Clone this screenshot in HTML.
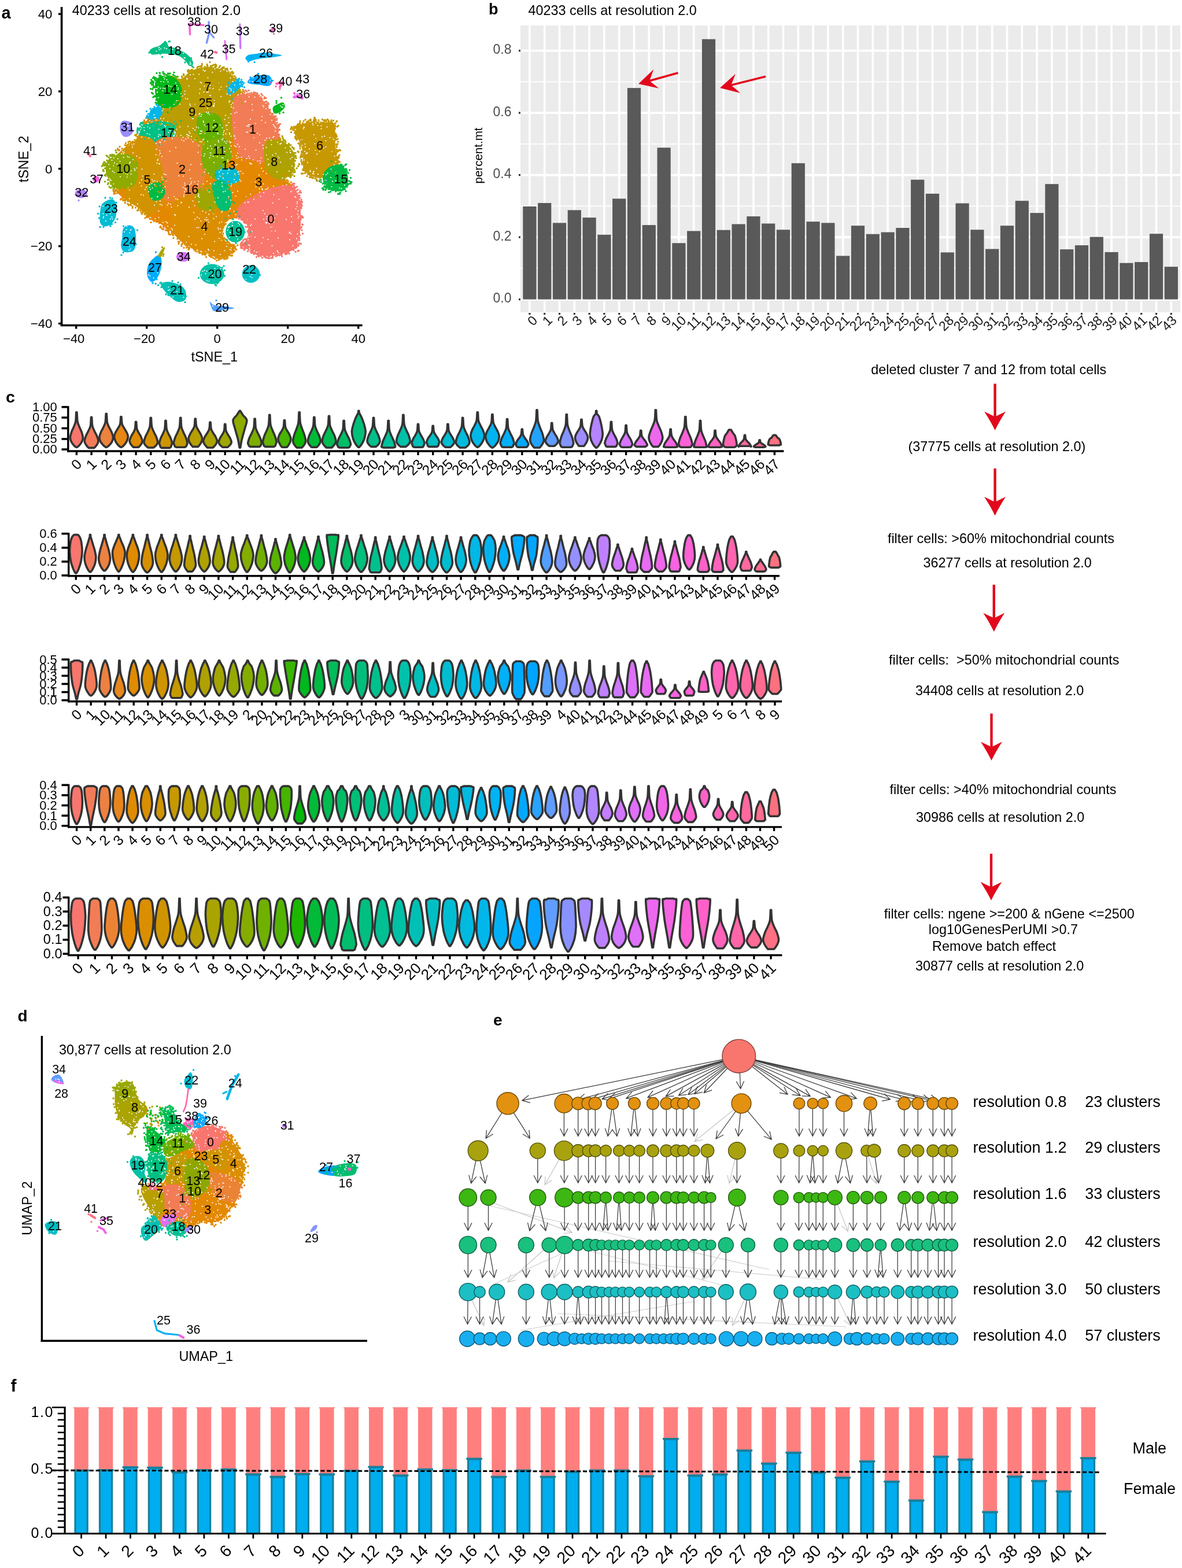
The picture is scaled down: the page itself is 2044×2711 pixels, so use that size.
<!DOCTYPE html>
<html><head><meta charset="utf-8"><title>Figure</title>
<style>
html,body{margin:0;padding:0;background:#fff;}
body{width:2044px;height:2711px;overflow:hidden;}
svg{display:block;}
svg text{font-family:"Liberation Sans", Arial, sans-serif;}
</style></head>
<body>
<svg width="2044" height="2711" viewBox="0 0 2044 2711">
<rect width="2044" height="2711" fill="#FFFFFF"/>
<rect x="900" y="44" width="1141" height="496" fill="#EBEBEB"/>
<line x1="900" x2="2041" y1="463.9" y2="463.9" stroke="#FFF" stroke-width="1.8"/>
<line x1="900" x2="2041" y1="356.4" y2="356.4" stroke="#FFF" stroke-width="1.8"/>
<line x1="900" x2="2041" y1="248.9" y2="248.9" stroke="#FFF" stroke-width="1.8"/>
<line x1="900" x2="2041" y1="141.4" y2="141.4" stroke="#FFF" stroke-width="1.8"/>
<line x1="900" x2="2041" y1="517.6" y2="517.6" stroke="#FFF" stroke-width="3.6"/>
<line x1="900" x2="2041" y1="410.1" y2="410.1" stroke="#FFF" stroke-width="3.6"/>
<line x1="900" x2="2041" y1="302.6" y2="302.6" stroke="#FFF" stroke-width="3.6"/>
<line x1="900" x2="2041" y1="195.1" y2="195.1" stroke="#FFF" stroke-width="3.6"/>
<line x1="900" x2="2041" y1="87.6" y2="87.6" stroke="#FFF" stroke-width="3.6"/>
<line x1="915.9" x2="915.9" y1="44" y2="540" stroke="#FFF" stroke-width="3.6"/>
<line x1="941.7" x2="941.7" y1="44" y2="540" stroke="#FFF" stroke-width="3.6"/>
<line x1="967.5" x2="967.5" y1="44" y2="540" stroke="#FFF" stroke-width="3.6"/>
<line x1="993.3" x2="993.3" y1="44" y2="540" stroke="#FFF" stroke-width="3.6"/>
<line x1="1019.1" x2="1019.1" y1="44" y2="540" stroke="#FFF" stroke-width="3.6"/>
<line x1="1044.9" x2="1044.9" y1="44" y2="540" stroke="#FFF" stroke-width="3.6"/>
<line x1="1070.7" x2="1070.7" y1="44" y2="540" stroke="#FFF" stroke-width="3.6"/>
<line x1="1096.5" x2="1096.5" y1="44" y2="540" stroke="#FFF" stroke-width="3.6"/>
<line x1="1122.3" x2="1122.3" y1="44" y2="540" stroke="#FFF" stroke-width="3.6"/>
<line x1="1148.1" x2="1148.1" y1="44" y2="540" stroke="#FFF" stroke-width="3.6"/>
<line x1="1173.9" x2="1173.9" y1="44" y2="540" stroke="#FFF" stroke-width="3.6"/>
<line x1="1199.7" x2="1199.7" y1="44" y2="540" stroke="#FFF" stroke-width="3.6"/>
<line x1="1225.5" x2="1225.5" y1="44" y2="540" stroke="#FFF" stroke-width="3.6"/>
<line x1="1251.3" x2="1251.3" y1="44" y2="540" stroke="#FFF" stroke-width="3.6"/>
<line x1="1277.1" x2="1277.1" y1="44" y2="540" stroke="#FFF" stroke-width="3.6"/>
<line x1="1302.9" x2="1302.9" y1="44" y2="540" stroke="#FFF" stroke-width="3.6"/>
<line x1="1328.7" x2="1328.7" y1="44" y2="540" stroke="#FFF" stroke-width="3.6"/>
<line x1="1354.5" x2="1354.5" y1="44" y2="540" stroke="#FFF" stroke-width="3.6"/>
<line x1="1380.3" x2="1380.3" y1="44" y2="540" stroke="#FFF" stroke-width="3.6"/>
<line x1="1406.1" x2="1406.1" y1="44" y2="540" stroke="#FFF" stroke-width="3.6"/>
<line x1="1431.9" x2="1431.9" y1="44" y2="540" stroke="#FFF" stroke-width="3.6"/>
<line x1="1457.7" x2="1457.7" y1="44" y2="540" stroke="#FFF" stroke-width="3.6"/>
<line x1="1483.5" x2="1483.5" y1="44" y2="540" stroke="#FFF" stroke-width="3.6"/>
<line x1="1509.3" x2="1509.3" y1="44" y2="540" stroke="#FFF" stroke-width="3.6"/>
<line x1="1535.1" x2="1535.1" y1="44" y2="540" stroke="#FFF" stroke-width="3.6"/>
<line x1="1560.9" x2="1560.9" y1="44" y2="540" stroke="#FFF" stroke-width="3.6"/>
<line x1="1586.7" x2="1586.7" y1="44" y2="540" stroke="#FFF" stroke-width="3.6"/>
<line x1="1612.5" x2="1612.5" y1="44" y2="540" stroke="#FFF" stroke-width="3.6"/>
<line x1="1638.3" x2="1638.3" y1="44" y2="540" stroke="#FFF" stroke-width="3.6"/>
<line x1="1664.1" x2="1664.1" y1="44" y2="540" stroke="#FFF" stroke-width="3.6"/>
<line x1="1689.9" x2="1689.9" y1="44" y2="540" stroke="#FFF" stroke-width="3.6"/>
<line x1="1715.7" x2="1715.7" y1="44" y2="540" stroke="#FFF" stroke-width="3.6"/>
<line x1="1741.5" x2="1741.5" y1="44" y2="540" stroke="#FFF" stroke-width="3.6"/>
<line x1="1767.3" x2="1767.3" y1="44" y2="540" stroke="#FFF" stroke-width="3.6"/>
<line x1="1793.1" x2="1793.1" y1="44" y2="540" stroke="#FFF" stroke-width="3.6"/>
<line x1="1818.9" x2="1818.9" y1="44" y2="540" stroke="#FFF" stroke-width="3.6"/>
<line x1="1844.7" x2="1844.7" y1="44" y2="540" stroke="#FFF" stroke-width="3.6"/>
<line x1="1870.5" x2="1870.5" y1="44" y2="540" stroke="#FFF" stroke-width="3.6"/>
<line x1="1896.3" x2="1896.3" y1="44" y2="540" stroke="#FFF" stroke-width="3.6"/>
<line x1="1922.1" x2="1922.1" y1="44" y2="540" stroke="#FFF" stroke-width="3.6"/>
<line x1="1947.9" x2="1947.9" y1="44" y2="540" stroke="#FFF" stroke-width="3.6"/>
<line x1="1973.7" x2="1973.7" y1="44" y2="540" stroke="#FFF" stroke-width="3.6"/>
<line x1="1999.5" x2="1999.5" y1="44" y2="540" stroke="#FFF" stroke-width="3.6"/>
<line x1="2025.3" x2="2025.3" y1="44" y2="540" stroke="#FFF" stroke-width="3.6"/>
<rect x="904.3" y="356.9" width="23.2" height="160.7" fill="#595959"/>
<rect x="930.1" y="351.0" width="23.2" height="166.6" fill="#595959"/>
<rect x="955.9" y="385.4" width="23.2" height="132.2" fill="#595959"/>
<rect x="981.7" y="363.3" width="23.2" height="154.3" fill="#595959"/>
<rect x="1007.5" y="376.2" width="23.2" height="141.4" fill="#595959"/>
<rect x="1033.3" y="405.8" width="23.2" height="111.8" fill="#595959"/>
<rect x="1059.1" y="343.5" width="23.2" height="174.2" fill="#595959"/>
<rect x="1084.9" y="152.1" width="23.2" height="365.5" fill="#595959"/>
<rect x="1110.7" y="389.1" width="23.2" height="128.5" fill="#595959"/>
<rect x="1136.5" y="255.3" width="23.2" height="262.3" fill="#595959"/>
<rect x="1162.3" y="420.3" width="23.2" height="97.3" fill="#595959"/>
<rect x="1188.1" y="399.4" width="23.2" height="118.2" fill="#595959"/>
<rect x="1213.9" y="67.7" width="23.2" height="449.9" fill="#595959"/>
<rect x="1239.7" y="397.7" width="23.2" height="119.9" fill="#595959"/>
<rect x="1265.5" y="387.5" width="23.2" height="130.1" fill="#595959"/>
<rect x="1291.3" y="374.1" width="23.2" height="143.5" fill="#595959"/>
<rect x="1317.1" y="386.5" width="23.2" height="131.2" fill="#595959"/>
<rect x="1342.9" y="397.2" width="23.2" height="120.4" fill="#595959"/>
<rect x="1368.7" y="282.2" width="23.2" height="235.4" fill="#595959"/>
<rect x="1394.5" y="383.2" width="23.2" height="134.4" fill="#595959"/>
<rect x="1420.3" y="385.4" width="23.2" height="132.2" fill="#595959"/>
<rect x="1446.1" y="442.4" width="23.2" height="75.3" fill="#595959"/>
<rect x="1471.9" y="390.2" width="23.2" height="127.4" fill="#595959"/>
<rect x="1497.7" y="404.7" width="23.2" height="112.9" fill="#595959"/>
<rect x="1523.5" y="401.5" width="23.2" height="116.1" fill="#595959"/>
<rect x="1549.3" y="394.0" width="23.2" height="123.6" fill="#595959"/>
<rect x="1575.1" y="310.7" width="23.2" height="206.9" fill="#595959"/>
<rect x="1600.9" y="334.9" width="23.2" height="182.8" fill="#595959"/>
<rect x="1626.7" y="436.4" width="23.2" height="81.2" fill="#595959"/>
<rect x="1652.5" y="351.5" width="23.2" height="166.1" fill="#595959"/>
<rect x="1678.3" y="397.2" width="23.2" height="120.4" fill="#595959"/>
<rect x="1704.1" y="430.5" width="23.2" height="87.1" fill="#595959"/>
<rect x="1729.9" y="390.2" width="23.2" height="127.4" fill="#595959"/>
<rect x="1755.7" y="347.2" width="23.2" height="170.4" fill="#595959"/>
<rect x="1781.5" y="368.2" width="23.2" height="149.4" fill="#595959"/>
<rect x="1807.3" y="318.2" width="23.2" height="199.4" fill="#595959"/>
<rect x="1833.1" y="431.1" width="23.2" height="86.5" fill="#595959"/>
<rect x="1858.9" y="424.1" width="23.2" height="93.5" fill="#595959"/>
<rect x="1884.7" y="409.6" width="23.2" height="108.0" fill="#595959"/>
<rect x="1910.5" y="435.9" width="23.2" height="81.7" fill="#595959"/>
<rect x="1936.3" y="454.7" width="23.2" height="62.9" fill="#595959"/>
<rect x="1962.1" y="453.1" width="23.2" height="64.5" fill="#595959"/>
<rect x="1987.9" y="404.2" width="23.2" height="113.4" fill="#595959"/>
<rect x="2013.7" y="461.2" width="23.2" height="56.4" fill="#595959"/>
<rect x="897" y="516.0" width="3" height="3.2" fill="#333"/>
<text x="884.5" y="523.1" font-size="23" text-anchor="end" fill="#4D4D4D">0.0</text>
<rect x="897" y="408.5" width="3" height="3.2" fill="#333"/>
<text x="884.5" y="415.6" font-size="23" text-anchor="end" fill="#4D4D4D">0.2</text>
<rect x="897" y="301.0" width="3" height="3.2" fill="#333"/>
<text x="884.5" y="308.1" font-size="23" text-anchor="end" fill="#4D4D4D">0.4</text>
<rect x="897" y="193.5" width="3" height="3.2" fill="#333"/>
<text x="884.5" y="200.6" font-size="23" text-anchor="end" fill="#4D4D4D">0.6</text>
<rect x="897" y="86.0" width="3" height="3.2" fill="#333"/>
<text x="884.5" y="93.1" font-size="23" text-anchor="end" fill="#4D4D4D">0.8</text>
<rect x="914.3" y="541" width="3.2" height="3" fill="#333"/>
<text x="930.9" y="555.5" font-size="23" text-anchor="end" fill="#1A1A1A" transform="rotate(-45 930.9 555.5)">0</text>
<rect x="940.1" y="541" width="3.2" height="3" fill="#333"/>
<text x="956.6" y="555.5" font-size="23" text-anchor="end" fill="#1A1A1A" transform="rotate(-45 956.6 555.5)">1</text>
<rect x="965.9" y="541" width="3.2" height="3" fill="#333"/>
<text x="982.3" y="555.5" font-size="23" text-anchor="end" fill="#1A1A1A" transform="rotate(-45 982.3 555.5)">2</text>
<rect x="991.7" y="541" width="3.2" height="3" fill="#333"/>
<text x="1008.0" y="555.5" font-size="23" text-anchor="end" fill="#1A1A1A" transform="rotate(-45 1008.0 555.5)">3</text>
<rect x="1017.5" y="541" width="3.2" height="3" fill="#333"/>
<text x="1033.7" y="555.5" font-size="23" text-anchor="end" fill="#1A1A1A" transform="rotate(-45 1033.7 555.5)">4</text>
<rect x="1043.3" y="541" width="3.2" height="3" fill="#333"/>
<text x="1059.5" y="555.5" font-size="23" text-anchor="end" fill="#1A1A1A" transform="rotate(-45 1059.5 555.5)">5</text>
<rect x="1069.1" y="541" width="3.2" height="3" fill="#333"/>
<text x="1085.2" y="555.5" font-size="23" text-anchor="end" fill="#1A1A1A" transform="rotate(-45 1085.2 555.5)">6</text>
<rect x="1094.9" y="541" width="3.2" height="3" fill="#333"/>
<text x="1110.9" y="555.5" font-size="23" text-anchor="end" fill="#1A1A1A" transform="rotate(-45 1110.9 555.5)">7</text>
<rect x="1120.7" y="541" width="3.2" height="3" fill="#333"/>
<text x="1136.6" y="555.5" font-size="23" text-anchor="end" fill="#1A1A1A" transform="rotate(-45 1136.6 555.5)">8</text>
<rect x="1146.5" y="541" width="3.2" height="3" fill="#333"/>
<text x="1162.3" y="555.5" font-size="23" text-anchor="end" fill="#1A1A1A" transform="rotate(-45 1162.3 555.5)">9</text>
<rect x="1172.3" y="541" width="3.2" height="3" fill="#333"/>
<text x="1188.0" y="555.5" font-size="23" text-anchor="end" fill="#1A1A1A" transform="rotate(-45 1188.0 555.5)">10</text>
<rect x="1198.1" y="541" width="3.2" height="3" fill="#333"/>
<text x="1213.7" y="555.5" font-size="23" text-anchor="end" fill="#1A1A1A" transform="rotate(-45 1213.7 555.5)">11</text>
<rect x="1223.9" y="541" width="3.2" height="3" fill="#333"/>
<text x="1239.4" y="555.5" font-size="23" text-anchor="end" fill="#1A1A1A" transform="rotate(-45 1239.4 555.5)">12</text>
<rect x="1249.7" y="541" width="3.2" height="3" fill="#333"/>
<text x="1265.1" y="555.5" font-size="23" text-anchor="end" fill="#1A1A1A" transform="rotate(-45 1265.1 555.5)">13</text>
<rect x="1275.5" y="541" width="3.2" height="3" fill="#333"/>
<text x="1290.8" y="555.5" font-size="23" text-anchor="end" fill="#1A1A1A" transform="rotate(-45 1290.8 555.5)">14</text>
<rect x="1301.3" y="541" width="3.2" height="3" fill="#333"/>
<text x="1316.6" y="555.5" font-size="23" text-anchor="end" fill="#1A1A1A" transform="rotate(-45 1316.6 555.5)">15</text>
<rect x="1327.1" y="541" width="3.2" height="3" fill="#333"/>
<text x="1342.3" y="555.5" font-size="23" text-anchor="end" fill="#1A1A1A" transform="rotate(-45 1342.3 555.5)">16</text>
<rect x="1352.9" y="541" width="3.2" height="3" fill="#333"/>
<text x="1368.0" y="555.5" font-size="23" text-anchor="end" fill="#1A1A1A" transform="rotate(-45 1368.0 555.5)">17</text>
<rect x="1378.7" y="541" width="3.2" height="3" fill="#333"/>
<text x="1393.7" y="555.5" font-size="23" text-anchor="end" fill="#1A1A1A" transform="rotate(-45 1393.7 555.5)">18</text>
<rect x="1404.5" y="541" width="3.2" height="3" fill="#333"/>
<text x="1419.4" y="555.5" font-size="23" text-anchor="end" fill="#1A1A1A" transform="rotate(-45 1419.4 555.5)">19</text>
<rect x="1430.3" y="541" width="3.2" height="3" fill="#333"/>
<text x="1445.1" y="555.5" font-size="23" text-anchor="end" fill="#1A1A1A" transform="rotate(-45 1445.1 555.5)">20</text>
<rect x="1456.1" y="541" width="3.2" height="3" fill="#333"/>
<text x="1470.8" y="555.5" font-size="23" text-anchor="end" fill="#1A1A1A" transform="rotate(-45 1470.8 555.5)">21</text>
<rect x="1481.9" y="541" width="3.2" height="3" fill="#333"/>
<text x="1496.5" y="555.5" font-size="23" text-anchor="end" fill="#1A1A1A" transform="rotate(-45 1496.5 555.5)">22</text>
<rect x="1507.7" y="541" width="3.2" height="3" fill="#333"/>
<text x="1522.2" y="555.5" font-size="23" text-anchor="end" fill="#1A1A1A" transform="rotate(-45 1522.2 555.5)">23</text>
<rect x="1533.5" y="541" width="3.2" height="3" fill="#333"/>
<text x="1547.9" y="555.5" font-size="23" text-anchor="end" fill="#1A1A1A" transform="rotate(-45 1547.9 555.5)">24</text>
<rect x="1559.3" y="541" width="3.2" height="3" fill="#333"/>
<text x="1573.7" y="555.5" font-size="23" text-anchor="end" fill="#1A1A1A" transform="rotate(-45 1573.7 555.5)">25</text>
<rect x="1585.1" y="541" width="3.2" height="3" fill="#333"/>
<text x="1599.4" y="555.5" font-size="23" text-anchor="end" fill="#1A1A1A" transform="rotate(-45 1599.4 555.5)">26</text>
<rect x="1610.9" y="541" width="3.2" height="3" fill="#333"/>
<text x="1625.1" y="555.5" font-size="23" text-anchor="end" fill="#1A1A1A" transform="rotate(-45 1625.1 555.5)">27</text>
<rect x="1636.7" y="541" width="3.2" height="3" fill="#333"/>
<text x="1650.8" y="555.5" font-size="23" text-anchor="end" fill="#1A1A1A" transform="rotate(-45 1650.8 555.5)">28</text>
<rect x="1662.5" y="541" width="3.2" height="3" fill="#333"/>
<text x="1676.5" y="555.5" font-size="23" text-anchor="end" fill="#1A1A1A" transform="rotate(-45 1676.5 555.5)">29</text>
<rect x="1688.3" y="541" width="3.2" height="3" fill="#333"/>
<text x="1702.2" y="555.5" font-size="23" text-anchor="end" fill="#1A1A1A" transform="rotate(-45 1702.2 555.5)">30</text>
<rect x="1714.1" y="541" width="3.2" height="3" fill="#333"/>
<text x="1727.9" y="555.5" font-size="23" text-anchor="end" fill="#1A1A1A" transform="rotate(-45 1727.9 555.5)">31</text>
<rect x="1739.9" y="541" width="3.2" height="3" fill="#333"/>
<text x="1753.6" y="555.5" font-size="23" text-anchor="end" fill="#1A1A1A" transform="rotate(-45 1753.6 555.5)">32</text>
<rect x="1765.7" y="541" width="3.2" height="3" fill="#333"/>
<text x="1779.3" y="555.5" font-size="23" text-anchor="end" fill="#1A1A1A" transform="rotate(-45 1779.3 555.5)">33</text>
<rect x="1791.5" y="541" width="3.2" height="3" fill="#333"/>
<text x="1805.0" y="555.5" font-size="23" text-anchor="end" fill="#1A1A1A" transform="rotate(-45 1805.0 555.5)">34</text>
<rect x="1817.3" y="541" width="3.2" height="3" fill="#333"/>
<text x="1830.8" y="555.5" font-size="23" text-anchor="end" fill="#1A1A1A" transform="rotate(-45 1830.8 555.5)">35</text>
<rect x="1843.1" y="541" width="3.2" height="3" fill="#333"/>
<text x="1856.5" y="555.5" font-size="23" text-anchor="end" fill="#1A1A1A" transform="rotate(-45 1856.5 555.5)">36</text>
<rect x="1868.9" y="541" width="3.2" height="3" fill="#333"/>
<text x="1882.2" y="555.5" font-size="23" text-anchor="end" fill="#1A1A1A" transform="rotate(-45 1882.2 555.5)">37</text>
<rect x="1894.7" y="541" width="3.2" height="3" fill="#333"/>
<text x="1907.9" y="555.5" font-size="23" text-anchor="end" fill="#1A1A1A" transform="rotate(-45 1907.9 555.5)">38</text>
<rect x="1920.5" y="541" width="3.2" height="3" fill="#333"/>
<text x="1933.6" y="555.5" font-size="23" text-anchor="end" fill="#1A1A1A" transform="rotate(-45 1933.6 555.5)">39</text>
<rect x="1946.3" y="541" width="3.2" height="3" fill="#333"/>
<text x="1959.3" y="555.5" font-size="23" text-anchor="end" fill="#1A1A1A" transform="rotate(-45 1959.3 555.5)">40</text>
<rect x="1972.1" y="541" width="3.2" height="3" fill="#333"/>
<text x="1985.0" y="555.5" font-size="23" text-anchor="end" fill="#1A1A1A" transform="rotate(-45 1985.0 555.5)">41</text>
<rect x="1997.9" y="541" width="3.2" height="3" fill="#333"/>
<text x="2010.7" y="555.5" font-size="23" text-anchor="end" fill="#1A1A1A" transform="rotate(-45 2010.7 555.5)">42</text>
<rect x="2023.7" y="541" width="3.2" height="3" fill="#333"/>
<text x="2036.4" y="555.5" font-size="23" text-anchor="end" fill="#1A1A1A" transform="rotate(-45 2036.4 555.5)">43</text>
<text x="834.0" y="269.0" font-size="20.5" text-anchor="middle" transform="rotate(-90 834.0 269.0)">percent.mt</text>
<text x="913.5" y="26.0" font-size="23.4">40233 cells at resolution 2.0</text>
<text x="845.0" y="25.0" font-size="27" font-weight="bold">b</text>
<line x1="1172.5" y1="126.0" x2="1123.1" y2="139.7" stroke="#E2081C" stroke-width="3.6"/><polygon points="1104.0,145.0 1130.3,120.1 1123.1,139.7 1139.4,152.8" fill="#E2081C"/>
<line x1="1324.0" y1="132.2" x2="1264.2" y2="147.2" stroke="#E2081C" stroke-width="3.6"/><polygon points="1245.0,152.0 1271.9,127.7 1264.2,147.2 1280.2,160.7" fill="#E2081C"/>
<clipPath id="silA"><path d="M340.3,118.7 C345.3,117.1 350.2,116.1 356.2,115.9 C362.1,115.8 369.3,116.3 375.9,117.9 C382.5,119.6 390.8,122.7 395.7,125.8 C400.7,128.9 402.7,131.8 405.6,136.5 C408.6,141.3 409.9,149.7 413.5,154.3 C417.2,159.0 423.1,163.0 427.4,164.2 C431.7,165.4 434.6,159.8 439.3,161.5 C443.9,163.1 449.8,168.1 455.1,174.1 C460.4,180.2 466.6,189.9 470.9,197.9 C475.2,205.8 479.2,215.0 480.8,221.6 C482.5,228.2 477.8,232.5 480.8,237.4 C483.8,242.4 493.9,246.0 498.6,251.3 C503.4,256.6 508.1,261.2 509.3,269.1 C510.5,277.0 508.5,292.0 505.7,298.8 C503.0,305.5 491.9,304.5 492.7,309.5 C493.5,314.4 506.1,320.7 510.5,328.5 C514.9,336.2 517.7,344.9 519.2,356.2 C520.6,367.4 520.5,383.9 519.2,395.7 C517.9,407.6 515.4,420.7 511.3,427.4 C507.2,434.1 502.0,433.6 494.7,436.1 C487.3,438.6 476.2,441.9 467.0,442.4 C457.7,442.9 446.8,442.1 439.3,439.3 C431.7,436.4 426.1,428.0 421.4,425.4 C416.8,422.8 415.8,420.8 411.6,423.4 C407.3,426.1 401.7,437.6 395.7,441.2 C389.8,444.9 382.5,445.9 375.9,445.2 C369.3,444.5 362.7,439.9 356.2,437.3 C349.6,434.6 343.0,432.2 336.4,429.4 C329.8,426.5 323.8,425.5 316.6,420.3 C309.3,415.0 300.8,404.1 292.8,397.7 C284.9,391.3 275.7,386.5 269.1,381.9 C262.5,377.3 258.5,374.0 253.3,370.0 C248.0,366.0 242.7,361.8 237.4,358.1 C232.2,354.5 226.9,351.9 221.6,348.2 C216.3,344.6 210.7,341.3 205.8,336.4 C200.8,331.4 195.8,325.5 191.9,318.6 C188.1,311.6 183.7,301.7 182.8,294.8 C182.0,287.9 183.9,281.3 186.8,277.0 C189.6,272.7 195.0,272.7 199.8,269.1 C204.7,265.5 210.4,259.1 215.7,255.2 C220.9,251.4 227.2,250.4 231.5,246.1 C235.8,241.9 238.8,234.6 241.4,229.5 C244.0,224.4 245.0,219.6 247.3,215.7 C249.6,211.7 252.9,210.2 255.2,205.8 C257.6,201.4 258.2,193.0 261.2,189.2 C264.1,185.3 271.7,186.7 273.1,182.8 C274.4,179.0 269.9,172.9 269.1,166.2 C268.3,159.5 267.0,148.1 268.3,142.5 C269.6,136.9 272.6,134.5 277.0,132.6 C281.4,130.6 288.9,129.9 294.8,130.6 C300.8,131.2 307.3,137.3 312.6,136.5 C317.9,135.7 321.9,128.8 326.5,125.8 C331.1,122.9 335.4,120.4 340.3,118.7 Z"/></clipPath>
<g clip-path="url(#silA)">
<path d="M340.3,118.7 C345.3,117.1 350.2,116.1 356.2,115.9 C362.1,115.8 369.3,116.3 375.9,117.9 C382.5,119.6 390.8,122.7 395.7,125.8 C400.7,128.9 402.7,131.8 405.6,136.5 C408.6,141.3 409.9,149.7 413.5,154.3 C417.2,159.0 423.1,163.0 427.4,164.2 C431.7,165.4 434.6,159.8 439.3,161.5 C443.9,163.1 449.8,168.1 455.1,174.1 C460.4,180.2 466.6,189.9 470.9,197.9 C475.2,205.8 479.2,215.0 480.8,221.6 C482.5,228.2 477.8,232.5 480.8,237.4 C483.8,242.4 493.9,246.0 498.6,251.3 C503.4,256.6 508.1,261.2 509.3,269.1 C510.5,277.0 508.5,292.0 505.7,298.8 C503.0,305.5 491.9,304.5 492.7,309.5 C493.5,314.4 506.1,320.7 510.5,328.5 C514.9,336.2 517.7,344.9 519.2,356.2 C520.6,367.4 520.5,383.9 519.2,395.7 C517.9,407.6 515.4,420.7 511.3,427.4 C507.2,434.1 502.0,433.6 494.7,436.1 C487.3,438.6 476.2,441.9 467.0,442.4 C457.7,442.9 446.8,442.1 439.3,439.3 C431.7,436.4 426.1,428.0 421.4,425.4 C416.8,422.8 415.8,420.8 411.6,423.4 C407.3,426.1 401.7,437.6 395.7,441.2 C389.8,444.9 382.5,445.9 375.9,445.2 C369.3,444.5 362.7,439.9 356.2,437.3 C349.6,434.6 343.0,432.2 336.4,429.4 C329.8,426.5 323.8,425.5 316.6,420.3 C309.3,415.0 300.8,404.1 292.8,397.7 C284.9,391.3 275.7,386.5 269.1,381.9 C262.5,377.3 258.5,374.0 253.3,370.0 C248.0,366.0 242.7,361.8 237.4,358.1 C232.2,354.5 226.9,351.9 221.6,348.2 C216.3,344.6 210.7,341.3 205.8,336.4 C200.8,331.4 195.8,325.5 191.9,318.6 C188.1,311.6 183.7,301.7 182.8,294.8 C182.0,287.9 183.9,281.3 186.8,277.0 C189.6,272.7 195.0,272.7 199.8,269.1 C204.7,265.5 210.4,259.1 215.7,255.2 C220.9,251.4 227.2,250.4 231.5,246.1 C235.8,241.9 238.8,234.6 241.4,229.5 C244.0,224.4 245.0,219.6 247.3,215.7 C249.6,211.7 252.9,210.2 255.2,205.8 C257.6,201.4 258.2,193.0 261.2,189.2 C264.1,185.3 271.7,186.7 273.1,182.8 C274.4,179.0 269.9,172.9 269.1,166.2 C268.3,159.5 267.0,148.1 268.3,142.5 C269.6,136.9 272.6,134.5 277.0,132.6 C281.4,130.6 288.9,129.9 294.8,130.6 C300.8,131.2 307.3,137.3 312.6,136.5 C317.9,135.7 321.9,128.8 326.5,125.8 C331.1,122.9 335.4,120.4 340.3,118.7 Z" fill="#E48800"/>
<path d="M277.0,130.6 C287.6,121.4 320.5,112.8 340.3,110.8 C360.1,108.8 382.5,112.1 395.7,118.7 C408.9,125.3 416.2,139.2 419.5,150.4 C422.8,161.6 417.5,174.1 415.5,186.0 C413.5,197.9 410.9,210.4 407.6,221.6 C404.3,232.8 401.0,246.7 395.7,253.3 C390.4,259.9 383.9,261.2 375.9,261.2 C368.0,261.2 356.8,255.9 348.2,253.3 C339.7,250.6 332.4,248.0 324.5,245.4 C316.6,242.7 308.7,241.4 300.8,237.4 C292.8,233.5 282.3,229.5 277.0,221.6 C271.7,213.7 269.1,199.2 269.1,189.9 C269.1,180.7 275.7,176.1 277.0,166.2 C278.3,156.3 266.5,139.8 277.0,130.6 Z" fill="#BB9D00"/>
<path d="M261.2,130.6 C264.3,124.3 277.7,127.6 284.9,128.6 C292.2,129.6 299.8,132.2 304.7,136.5 C309.7,140.8 313.3,148.1 314.6,154.3 C315.9,160.6 314.9,169.0 312.6,174.1 C310.3,179.3 306.7,183.4 300.8,185.2 C294.8,187.0 282.8,188.4 277.0,185.2 C271.2,182.0 268.6,175.3 265.9,166.2 C263.3,157.1 258.0,136.9 261.2,130.6 Z" fill="#00B81B"/>
<path d="M245.4,186.0 C247.3,182.0 255.8,179.2 261.2,178.9 C266.6,178.5 274.6,180.8 277.8,184.0 C281.0,187.2 282.3,194.1 280.2,197.9 C278.1,201.6 270.3,205.8 265.1,206.6 C260.0,207.4 252.6,206.0 249.3,202.6 C246.0,199.2 243.4,189.9 245.4,186.0 Z" fill="#00B7E9"/>
<path d="M233.5,219.6 C236.8,215.0 250.0,215.3 257.2,213.7 C264.5,212.0 269.8,209.4 277.0,209.7 C284.3,210.1 296.5,211.1 300.8,215.7 C305.0,220.3 304.7,232.0 302.7,237.4 C300.8,242.9 295.8,247.1 288.9,248.5 C282.0,250.0 269.8,247.3 261.2,246.1 C252.6,245.0 242.1,245.8 237.4,241.4 C232.8,237.0 230.2,224.2 233.5,219.6 Z" fill="#00C085"/>
<path d="M344.3,197.9 C349.6,193.6 365.4,193.9 372.0,195.9 C378.6,197.9 381.9,202.8 383.9,209.7 C385.8,216.7 386.5,231.2 383.9,237.4 C381.2,243.7 374.0,246.7 368.0,247.3 C362.1,248.0 352.9,245.7 348.2,241.4 C343.6,237.1 341.0,228.9 340.3,221.6 C339.7,214.4 339.0,202.2 344.3,197.9 Z" fill="#64B200"/>
<path d="M269.1,245.4 C277.7,234.8 303.4,236.1 316.6,237.4 C329.8,238.8 341.6,245.4 348.2,253.3 C354.8,261.2 355.5,274.4 356.2,284.9 C356.8,295.5 355.5,306.7 352.2,316.6 C348.9,326.5 344.9,339.0 336.4,344.3 C327.8,349.6 310.6,348.9 300.8,348.2 C290.9,347.6 282.9,348.2 277.0,340.3 C271.1,332.4 266.5,316.6 265.1,300.8 C263.8,284.9 260.5,255.9 269.1,245.4 Z" fill="#EC8239"/>
<path d="M213.7,241.4 C221.6,229.9 250.6,233.5 261.2,239.4 C271.7,245.4 273.1,262.8 277.0,277.0 C281.0,291.2 284.9,311.3 284.9,324.5 C284.9,337.7 282.3,348.2 277.0,356.2 C271.7,364.1 262.5,372.0 253.3,372.0 C244.0,372.0 228.2,366.7 221.6,356.2 C215.0,345.6 215.0,327.8 213.7,308.7 C212.4,289.5 205.8,252.9 213.7,241.4 Z" fill="#D29300"/>
<path d="M178.1,294.8 C178.1,285.9 185.3,274.0 189.9,269.1 C194.6,264.1 198.9,264.8 205.8,265.1 C212.7,265.5 225.9,266.5 231.5,271.1 C237.1,275.7 239.1,284.9 239.4,292.8 C239.7,300.8 237.8,313.0 233.5,318.6 C229.2,324.2 220.9,325.8 213.7,326.5 C206.4,327.1 195.9,327.8 189.9,322.5 C184.0,317.2 178.1,303.7 178.1,294.8 Z" fill="#8FAA00"/>
<path d="M356.2,245.4 C363.1,239.1 382.4,235.5 389.8,239.4 C397.2,243.4 399.5,258.9 400.5,269.1 C401.5,279.3 399.2,293.5 395.7,300.8 C392.3,308.0 385.8,312.6 379.9,312.6 C374.0,312.6 365.4,306.7 360.1,300.8 C354.8,294.8 348.9,286.2 348.2,277.0 C347.6,267.8 349.2,251.6 356.2,245.4 Z" fill="#7CAE00"/>
<path d="M407.6,166.2 C413.9,160.9 430.4,156.6 439.3,158.3 C448.2,159.9 454.8,168.2 461.0,176.1 C467.3,184.0 473.6,195.6 476.9,205.8 C480.1,216.0 482.1,226.9 480.8,237.4 C479.5,248.0 475.2,261.0 468.9,269.1 C462.7,277.1 451.5,284.3 443.2,285.7 C435.0,287.2 425.5,283.2 419.5,277.8 C413.4,272.4 409.8,262.6 406.8,253.3 C403.8,243.9 402.5,232.2 401.7,221.6 C400.8,211.1 400.7,199.2 401.7,189.9 C402.7,180.7 401.3,171.5 407.6,166.2 Z" fill="#F27C56"/>
<path d="M395.7,277.0 C402.3,269.1 423.4,274.4 435.3,277.0 C447.2,279.6 457.7,286.9 467.0,292.8 C476.2,298.8 487.4,305.4 490.7,312.6 C494.0,319.9 492.7,329.8 486.7,336.4 C480.8,343.0 467.0,350.2 455.1,352.2 C443.2,354.2 425.4,352.9 415.5,348.2 C405.6,343.6 399.0,336.4 395.7,324.5 C392.4,312.6 389.1,284.9 395.7,277.0 Z" fill="#E48800"/>
<path d="M461.0,243.4 C467.0,238.1 484.1,241.1 492.7,245.4 C501.3,249.6 509.8,259.9 512.5,269.1 C515.1,278.3 512.8,293.5 508.5,300.8 C504.2,308.0 493.8,312.5 486.7,312.6 C479.7,312.8 471.1,307.5 466.2,301.5 C461.2,295.6 457.9,286.7 457.1,277.0 C456.2,267.3 455.1,248.6 461.0,243.4 Z" fill="#AEA200"/>
<path d="M413.5,356.2 C420.8,346.6 440.9,336.4 455.1,330.4 C469.3,324.5 487.4,318.9 498.6,320.5 C509.8,322.2 518.1,330.4 522.4,340.3 C526.6,350.2 524.7,366.7 524.3,379.9 C524.0,393.1 524.3,409.9 520.4,419.5 C516.4,429.0 509.5,433.0 500.6,437.3 C491.7,441.6 477.5,444.5 467.0,445.2 C456.4,445.9 445.1,444.9 437.3,441.2 C429.5,437.6 424.5,432.3 420.3,423.4 C416.0,414.5 412.7,399.0 411.6,387.8 C410.4,376.6 406.3,365.7 413.5,356.2 Z" fill="#F8766D"/>
<path d="M304.7,344.3 C314.6,334.7 342.0,336.4 356.2,338.3 C370.3,340.3 382.5,346.6 389.8,356.2 C397.0,365.7 398.0,380.6 399.7,395.7 C401.3,410.9 406.9,439.3 399.7,447.2 C392.4,455.1 369.3,446.5 356.2,443.2 C343.0,439.9 330.4,435.3 320.5,427.4 C310.6,419.5 299.4,409.6 296.8,395.7 C294.2,381.9 294.8,353.8 304.7,344.3 Z" fill="#DB8E00"/>
<path d="M374.0,294.8 C379.2,291.4 401.0,289.1 407.6,292.0 C414.2,295.0 416.2,308.2 413.5,312.6 C410.9,317.0 398.0,318.6 391.8,318.6 C385.5,318.6 378.9,316.6 375.9,312.6 C373.0,308.7 368.7,298.2 374.0,294.8 Z" fill="#00BDD2"/>
<path d="M257.2,320.5 C259.9,315.9 272.3,314.6 277.0,316.6 C281.8,318.6 285.7,327.7 285.7,332.4 C285.7,337.2 281.1,343.1 277.0,345.1 C272.9,347.1 264.5,348.4 261.2,344.3 C257.9,340.2 254.6,325.2 257.2,320.5 Z" fill="#00BA43"/>
<path d="M340.3,328.5 C345.3,324.5 361.3,318.6 368.0,320.5 C374.8,322.5 379.9,333.6 380.7,340.3 C381.5,347.1 378.2,357.1 372.8,360.9 C367.4,364.7 354.0,366.0 348.2,363.3 C342.5,360.5 339.7,350.1 338.3,344.3 C337.0,338.5 335.4,332.4 340.3,328.5 Z" fill="#A0A600"/>
<path d="M368.0,316.6 C371.0,312.0 382.4,309.3 387.8,312.6 C393.2,315.9 399.0,328.3 400.5,336.4 C401.9,344.4 399.8,356.4 396.5,360.9 C393.2,365.4 385.1,366.7 380.7,363.3 C376.3,359.8 372.1,348.1 370.0,340.3 C367.9,332.5 365.1,321.2 368.0,316.6 Z" fill="#00BE72"/>
<ellipse cx="406.8" cy="400.5" rx="23.0" ry="24.5" fill="#FFFFFF"/>
<ellipse cx="406.8" cy="400.5" rx="16.6" ry="18.6" fill="#00C096"/>
</g>
<path d="M508.8,219.5 C510.7,216.0 518.7,215.4 524.2,213.8 C529.6,212.2 534.4,210.2 541.4,209.9 C548.5,209.6 560.3,211.2 566.4,211.8 C572.5,212.5 575.7,210.6 577.9,213.8 C580.1,217.0 579.5,225.0 579.8,231.0 C580.1,237.1 579.5,243.8 579.8,250.2 C580.1,256.6 580.8,263.6 581.7,269.4 C582.7,275.2 586.5,280.9 585.6,284.7 C584.6,288.6 579.2,289.2 576.0,292.4 C572.8,295.6 570.5,301.4 566.4,303.9 C562.2,306.5 556.1,308.1 551.0,307.8 C545.9,307.5 540.2,305.2 535.7,302.0 C531.2,298.8 526.1,294.0 524.2,288.6 C522.3,283.1 524.8,275.8 524.2,269.4 C523.5,263.0 522.3,256.0 520.3,250.2 C518.4,244.5 514.6,240.0 512.7,234.9 C510.7,229.8 506.9,223.0 508.8,219.5 Z" fill="#C79800"/>
<path d="M558.7,302.0 C560.3,296.9 565.4,291.5 570.2,288.6 C575.0,285.7 583.0,284.1 587.5,284.7 C592.0,285.4 594.7,288.6 597.1,292.4 C599.5,296.3 601.6,302.7 601.9,307.8 C602.2,312.9 601.4,319.3 599.0,323.1 C596.6,327.0 592.3,330.2 587.5,330.8 C582.7,331.4 574.7,328.9 570.2,327.0 C565.7,325.0 562.5,323.4 560.6,319.3 C558.7,315.1 557.1,307.1 558.7,302.0 Z" fill="#00BA43"/>
<path d="M472.4,185.0 C474.0,182.7 479.1,180.5 482.0,179.2 C484.8,178.0 487.9,176.4 489.6,177.3 C491.4,178.3 493.2,182.4 492.5,185.0 C491.9,187.5 488.5,190.7 485.8,192.7 C483.1,194.6 478.4,196.5 476.2,196.5 C474.0,196.5 473.0,194.6 472.4,192.7 C471.7,190.7 470.8,187.2 472.4,185.0 Z" fill="#00B81B"/>
<path d="M258.5,88.3 C258.8,86.5 261.2,84.4 263.9,82.9 C266.6,81.5 271.7,80.9 274.7,79.4 C277.7,77.9 280.1,75.5 281.9,74.0 C283.7,72.5 284.3,70.4 285.5,70.4 C286.7,70.4 287.9,72.2 289.1,74.0 C290.3,75.8 290.3,79.7 292.7,81.2 C295.1,82.6 299.9,81.8 303.5,82.9 C307.1,84.1 310.9,86.5 314.2,88.3 C317.5,90.1 320.5,91.6 323.2,93.7 C325.9,95.8 328.6,98.5 330.4,100.9 C332.2,103.3 333.7,106.0 334.0,108.1 C334.3,110.2 333.4,112.6 332.2,113.5 C331.0,114.4 328.6,114.7 326.8,113.5 C325.0,112.3 324.1,109.0 321.4,106.3 C318.7,103.6 314.8,99.4 310.6,97.3 C306.5,95.2 301.1,94.5 296.3,93.7 C291.5,93.0 286.1,92.8 281.9,92.8 C277.7,92.9 274.4,93.9 271.1,94.1 C267.8,94.3 264.2,95.1 262.1,94.1 C260.0,93.1 258.2,90.2 258.5,88.3 Z" fill="#00C085"/>
<path d="M424.4,100.6 C424.4,98.7 427.0,96.1 430.2,94.8 C433.4,93.5 439.4,93.5 443.6,92.9 C447.8,92.3 450.0,91.0 455.1,91.0 C460.2,91.0 468.9,92.1 474.3,92.9 C479.7,93.7 487.7,94.8 487.7,95.8 C487.7,96.7 479.7,97.9 474.3,98.7 C468.9,99.5 460.9,99.8 455.1,100.6 C449.4,101.4 443.9,102.5 439.8,103.5 C435.6,104.4 432.7,106.8 430.2,106.3 C427.6,105.9 424.4,102.5 424.4,100.6 Z" fill="#00B2F3"/>
<path d="M428.2,140.9 C428.9,138.9 432.7,134.9 435.9,133.2 C439.1,131.4 442.6,130.8 447.4,130.3 C452.2,129.8 460.9,128.6 464.7,130.3 C468.5,132.1 470.5,137.8 470.5,140.9 C470.5,143.9 468.5,147.6 464.7,148.5 C460.9,149.5 452.9,147.3 447.4,146.6 C442.0,146.0 435.3,145.7 432.1,144.7 C428.9,143.7 427.6,142.8 428.2,140.9 Z" fill="#00A6FF"/>
<path d="M393.7,154.3 C394.7,150.8 398.2,145.0 401.4,142.8 C404.6,140.5 410.0,140.2 412.9,140.9 C415.8,141.5 418.7,144.4 418.7,146.6 C418.7,148.9 415.5,151.7 412.9,154.3 C410.3,156.9 406.2,160.4 403.3,162.0 C400.4,163.6 397.2,165.2 395.6,163.9 C394.0,162.6 392.8,157.8 393.7,154.3 Z" fill="#00B7E9"/>
<path d="M208.1,214.2 C209.0,211.2 210.8,209.4 213.5,208.8 C216.2,208.2 221.9,209.1 224.3,210.6 C226.7,212.1 227.0,214.8 227.9,217.8 C228.8,220.8 230.6,225.6 229.7,228.6 C228.8,231.6 225.2,234.6 222.5,235.8 C219.8,237.0 215.9,237.3 213.5,235.8 C211.1,234.3 209.0,230.4 208.1,226.8 C207.2,223.2 207.2,217.2 208.1,214.2 Z" fill="#9A8EFF"/>
<path d="M172.9,383.6 C171.9,377.8 172.9,362.8 174.8,356.7 C176.7,350.7 180.9,349.1 184.4,347.1 C187.9,345.2 193.0,343.6 195.9,345.2 C198.8,346.8 201.0,351.6 201.7,356.7 C202.3,361.9 201.4,370.8 199.8,375.9 C198.2,381.0 195.3,384.9 192.1,387.4 C188.9,390.0 183.8,391.9 180.6,391.3 C177.4,390.6 173.9,389.4 172.9,383.6 Z" fill="#00BDD2"/>
<path d="M213.2,395.1 C215.1,391.6 219.6,389.4 222.8,389.4 C226.0,389.4 230.3,390.3 232.4,395.1 C234.5,399.9 235.6,411.7 235.3,418.1 C234.9,424.5 233.8,430.6 230.5,433.5 C227.1,436.4 218.6,436.7 215.1,435.4 C211.6,434.1 210.0,430.0 209.4,425.8 C208.7,421.6 210.6,415.6 211.3,410.5 C211.9,405.3 211.3,398.6 213.2,395.1 Z" fill="#00BADE"/>
<path d="M256.4,458.4 C258.1,453.6 262.1,449.8 265.0,446.9 C267.9,444.0 271.4,441.5 273.6,441.2 C275.9,440.8 277.5,442.1 278.4,445.0 C279.4,447.9 279.9,453.6 279.4,458.4 C278.9,463.2 277.3,469.4 275.5,473.8 C273.8,478.1 271.2,482.1 268.8,484.3 C266.4,486.6 263.5,488.6 261.2,487.2 C258.8,485.8 255.2,480.5 254.4,475.7 C253.6,470.9 254.6,463.2 256.4,458.4 Z" fill="#00ACFB"/>
<path d="M273.6,442.1 C273.9,439.9 277.5,434.0 279.4,431.6 C281.3,429.2 284.8,426.4 285.1,427.7 C285.5,429.0 282.6,436.4 281.3,439.2 C280.0,442.1 278.7,444.5 277.5,445.0 C276.2,445.5 273.3,444.3 273.6,442.1 Z" fill="#AEA200"/>
<path d="M278.4,491.0 C279.7,488.5 286.4,486.9 291.8,487.2 C297.3,487.5 306.2,490.4 311.0,492.9 C315.8,495.5 319.0,498.4 320.6,502.5 C322.2,506.7 322.9,514.7 320.6,517.9 C318.4,521.1 311.4,522.4 307.2,521.7 C303.0,521.1 299.5,517.3 295.7,514.1 C291.8,510.9 287.1,506.4 284.2,502.5 C281.3,498.7 277.1,493.6 278.4,491.0 Z" fill="#00C0B6"/>
<ellipse cx="366.7" cy="473.8" rx="21.1" ry="17.3" fill="#00C1A7"/>
<ellipse cx="434.0" cy="473.8" rx="15.3" ry="15.3" fill="#00BFC4"/>
<ellipse cx="316.8" cy="444.0" rx="11.9" ry="8.6" fill="#D874FD"/>
<ellipse cx="140.3" cy="334.7" rx="10.6" ry="7.7" fill="#B385FF"/>
<ellipse cx="166.2" cy="309.7" rx="5.8" ry="5.8" fill="#F763E0"/>
<path d="M363.0,521.7 C364.0,521.4 366.2,526.2 370.7,527.5 C375.2,528.8 384.1,528.5 389.9,529.4 C395.6,530.3 405.2,531.9 405.2,532.9 C405.2,533.8 395.6,534.3 389.9,535.2 C384.1,536.0 374.9,539.0 370.7,538.0 C366.5,537.1 366.2,532.1 364.9,529.4 C363.7,526.7 362.1,522.0 363.0,521.7 Z" fill="#509FFF"/>
<polyline points="328.6,59.6 327.7,41.6 352.0,43.4" fill="none" stroke="#FD61D3" stroke-width="3.5" stroke-linecap="round" stroke-linejoin="round"/>
<polyline points="357.4,74.0 361.9,56.0 361.0,38.0" fill="none" stroke="#7C96FF" stroke-width="3.5" stroke-linecap="round" stroke-linejoin="round"/>
<polyline points="361.9,56.0 370.0,65.0" fill="none" stroke="#7C96FF" stroke-width="3" stroke-linecap="round" stroke-linejoin="round"/>
<polyline points="414.8,42.1 415.8,83.3" fill="none" stroke="#C77CFF" stroke-width="3.5" stroke-linecap="round" stroke-linejoin="round"/>
<polyline points="388.9,70.8 391.8,102.5" fill="none" stroke="#E56DF5" stroke-width="3" stroke-linecap="round" stroke-linejoin="round"/>
<polyline points="371.7,90.0 374.5,91.0" fill="none" stroke="#FF6B94" stroke-width="4" stroke-linecap="round" stroke-linejoin="round"/>
<polyline points="468.5,52.6 474.3,50.7" fill="none" stroke="#FF61C5" stroke-width="5" stroke-linecap="round" stroke-linejoin="round"/>
<polyline points="478.1,144.7 487.7,142.8 483.9,150.5" fill="none" stroke="#FF63B6" stroke-width="4" stroke-linecap="round" stroke-linejoin="round"/>
<polyline points="508.8,167.7 518.4,165.8 522.3,169.6" fill="none" stroke="#EF67EB" stroke-width="5" stroke-linecap="round" stroke-linejoin="round"/>
<polyline points="152.4,264.6 156.0,270.0" fill="none" stroke="#FF67A5" stroke-width="4" stroke-linecap="round" stroke-linejoin="round"/>
<path d="M582 314h0M555.5 315h0M606.5 317.5h0M592 328.5h0M558.5 317.5h0M598 292.5h0M561 322.5h0M580.5 331h0M591 285h0M597 285.5h0M580.5 315h0M581.5 316h0M599.5 323h0M605.5 314h0M608 315h0M601 319h0M591.5 301.5h0M596.5 327h0M606.5 307.5h0M593.5 302h0M570.5 327h0M595 315.5h0M604.5 294h0M552.5 313.5h0M601 317.5h0M583 302.5h0M580.5 304.5h0M571.5 331.5h0M594 287.5h0M583 313h0M564.5 325h0M598.5 310.5h0M564 326.5h0M597 309.5h0M590.5 329.5h0M598 309h0M586.5 316h0M584.5 335.5h0M581.5 303h0M599 293.5h0M598.5 292h0M592 308h0M583.5 309.5h0M602 299h0M562.5 328.5h0M595 315.5h0M593 316h0M586.5 315.5h0M576 329h0M599 312.5h0M588.5 333h0M587.5 335.5h0M562.5 323.5h0M593.5 308.5h0M568 327h0M603.5 313h0M573.5 328.5h0M578.5 315h0M604.5 317.5h0M584.5 308h0M601 320.5h0M584 306h0M560.5 322.5h0M598.5 284h0M600 296h0M559 328h0M555 311h0M568.5 332.5h0M559.5 326h0M557.5 325.5h0M600 323h0M583.5 308.5h0M592.5 302.5h0M602 318.5h0M587 334h0M594 327.5h0M598 330.5h0M589 284.5h0" stroke="#00BA43" stroke-width="3.4" stroke-linecap="round" fill="none"/>
<path d="M404 432.5h0M356.5 389h0M389 413h0M392.5 447h0M388 412h0M364 443.5h0M405.5 434.5h0M353.5 440h0M322.5 428h0M324 424.5h0M382 447.5h0M321 424h0M396 441h0M356.5 394.5h0M388.5 388.5h0M388.5 444h0M338.5 431.5h0M314 425.5h0M356.5 444.5h0M378 449.5h0M352 436.5h0M394.5 379.5h0M352.5 437h0M365 442h0M393.5 379.5h0M348 392.5h0M397.5 422h0M326 431.5h0M362.5 442.5h0M341 435h0M299 406.5h0M318 428.5h0M399.5 442h0M387 411.5h0M300 411.5h0M294.5 405.5h0M351 438h0M297 401.5h0M401 438h0M402.5 436.5h0M381.5 447.5h0M344.5 437.5h0M297.5 404h0M348.5 393h0M385 407h0M387.5 445.5h0M324 426.5h0M350 393.5h0M307 412h0M328 428h0M315.5 421.5h0M386 403.5h0M373 446h0M368.5 446h0M354 389.5h0M355 438.5h0M335.5 431.5h0M391.5 382.5h0M298.5 405.5h0M347 437h0M392 444h0M355 440.5h0M387.5 387.5h0M401.5 442h0M307 413h0M396.5 420h0M380.5 446.5h0M395 418.5h0M331.5 428h0M385.5 393h0M319.5 422h0M384 398h0M356 439h0M390.5 414h0M386.5 393.5h0M326 428.5h0M212.5 346h0M374.5 450.5h0M361.5 441.5h0M355 395.5h0M393 442.5h0M397 377.5h0M379 448h0M338 434h0M387.5 390h0M389.5 444h0M336 429.5h0M355 387h0M338.5 431.5h0M398.5 441.5h0M365 444.5h0M356.5 397.5h0M344.5 435h0M393 418.5h0M352 394h0M374.5 446h0M387.5 448h0M355.5 392h0M394 445h0M385 394.5h0M356.5 393h0M309 421.5h0M403 424h0M350 438.5h0M399.5 423h0M308.5 418h0M392.5 381h0M390.5 387h0M314 422.5h0M385 398h0M366 444h0M384.5 446h0M353 387.5h0M350.5 437h0M355.5 392.5h0M344 433h0M338 431h0M377.5 446h0M390.5 447.5h0M403 435.5h0M327 430h0M385 408h0M386.5 389.5h0M402 423h0M334 429h0M337 431h0M384 400h0M299.5 407h0M393 417h0M385.5 392h0M371.5 447.5h0M310 418h0M350 440h0" stroke="#DB8E00" stroke-width="3.4" stroke-linecap="round" fill="none"/>
<path d="M422.5 382.5h0M435 437.5h0M517.5 333h0M517.5 404h0M511.5 426.5h0M417.5 423h0M429.5 397.5h0M515 328h0M508 325h0M417.5 379h0M499.5 434.5h0M521 354.5h0M459 443h0M500 438.5h0M519 348.5h0M520.5 358h0M495 436h0M428.5 392h0M513 425.5h0M519 395.5h0M425 392h0M459.5 445.5h0M517.5 415.5h0M417 420.5h0M418 426.5h0M509 317.5h0M509 323.5h0M509.5 325h0M522 356h0M507 317.5h0M521.5 376.5h0M520 352h0M465.5 373.5h0M518 351h0M419.5 428.5h0M419 419h0M523.5 388.5h0M456.5 442.5h0M518.5 342h0M425.5 413.5h0M483.5 441.5h0M471 446h0M426 392.5h0M505 319h0M487.5 443h0M520.5 333h0M522 398h0M517 346.5h0M418 419h0M457 443.5h0M425.5 429h0M429.5 403h0M419 380h0M420 380.5h0M521 360h0M520 379.5h0M417 379.5h0M509.5 326.5h0M443.5 444.5h0M423.5 428h0M513 329.5h0M519.5 354h0M421 415h0M508 432.5h0M420.5 416h0M515.5 337.5h0M496 438h0M465.5 446.5h0M448 443.5h0M504 320h0M522.5 374h0M487 438h0M521 373.5h0M423 385h0M416 422.5h0M496 437h0M474 440.5h0M514 334h0M515 434h0M498 437h0M519 330h0M422.5 430h0M472 441.5h0M446 442h0M521.5 392.5h0M524 376h0M477 443h0M493 439h0M471.5 445h0M422.5 432h0M517.5 420.5h0M520.5 421.5h0M464 443h0M518.5 406.5h0M519 358.5h0M461 445.5h0M521 351h0M439 439.5h0M510.5 429h0M516 425h0M494 438h0M428.5 434.5h0M522.5 349.5h0M419 425h0M520 359h0M520 350.5h0M447 441h0M429 400h0M482.5 441h0M471.5 444.5h0M421.5 384h0M423 431h0M486.5 440.5h0M422 425.5h0M512.5 428h0M516.5 340.5h0M523.5 404h0M423.5 413.5h0M464 446.5h0M416.5 425h0M416.5 428.5h0M511 435.5h0M495.5 439.5h0M521 345h0M480 441h0M518 338h0M434.5 437h0M521.5 348h0M418.5 419.5h0M517 410.5h0M513.5 323h0M521.5 350h0M516 342h0M517.5 413h0M516.5 433.5h0M453.5 445.5h0M469 446h0M520 394h0M511 324.5h0M522 354.5h0M488 438.5h0M512 330h0M419 429.5h0M522.5 388h0M515 423h0M486.5 439.5h0M508.5 323.5h0M428 400h0M466 443h0M517.5 410.5h0M508 321h0M458.5 444h0M413 378h0M517 421.5h0M479 442h0M505.5 320.5h0M451.5 442.5h0M424.5 386h0" stroke="#F8766D" stroke-width="3.4" stroke-linecap="round" fill="none"/>
<path d="M347 182.5h0M414 154h0M360 171h0M395.5 124.5h0M358 111.5h0M336 190h0M407.5 134h0M360 183h0M354.5 115.5h0M351 172h0M349 113h0M335.5 198h0M360.5 170h0M399 126h0M385 119h0M386.5 117.5h0M382.5 119h0M347 114.5h0M358.5 143h0M400.5 124.5h0M314.5 132h0M348 179h0M344.5 115h0M406.5 135h0M372.5 114h0M420.5 156h0M359.5 174.5h0M358.5 114.5h0M331 121h0M372.5 116.5h0M364 170.5h0M348.5 116h0M364.5 170h0M358.5 113.5h0M336 196h0M353.5 172.5h0M342.5 115.5h0M360.5 141.5h0M361.5 143.5h0M419 159.5h0M420 155.5h0M363.5 177h0M402 131.5h0M384.5 117h0M405.5 131.5h0M325.5 121h0M379 116.5h0M368 113h0M387 116h0M374 114.5h0M389.5 119h0M355.5 141.5h0M317.5 129h0M328 199h0M364 114.5h0M362 145.5h0M357 154.5h0M415.5 156h0M360.5 143.5h0M402.5 127.5h0M361.5 144h0M370 112h0M359 184h0M332.5 186h0M393 118.5h0M357 171.5h0M341 117h0M344.5 172.5h0M366 115.5h0M345 172.5h0M335.5 195h0M325.5 124.5h0M407 136h0M358 151.5h0M327 122h0M380.5 114h0M336 194.5h0M348.5 171.5h0M403.5 126h0M363 107.5h0M359 115h0M346 172.5h0M358 171.5h0M358 172.5h0M351.5 177h0M324.5 122.5h0M358 143h0M318 130.5h0M371.5 116.5h0M332.5 120.5h0M349.5 110.5h0M358 169.5h0M389.5 122h0M407 137h0M331 122h0M365.5 114h0M330 121.5h0M351.5 174h0M390 120h0M372.5 111.5h0M399 127h0M401.5 124h0M334.5 116.5h0M362.5 170.5h0M374 112.5h0M391 119.5h0M346.5 182.5h0M393.5 121.5h0M196 329.5h0M315 134h0M330.5 186h0M364.5 177.5h0M328 123.5h0M399 119h0M361 182.5h0M317.5 128h0M359 152.5h0" stroke="#BB9D00" stroke-width="3.4" stroke-linecap="round" fill="none"/>
<path d="M518.5 213.5h0M576.5 208.5h0M582 262h0M517.5 284.5h0M585.5 280h0M579.5 234.5h0M522 284h0M511.5 232h0M580 239h0M588.5 260h0M579 214h0M524 300h0M521.5 300h0M556 255.5h0M535.5 306.5h0M573 208h0M520.5 250.5h0M539.5 307h0M518.5 251h0M537 306.5h0M579.5 217.5h0M547.5 310h0M535 302h0M579 218.5h0M514.5 239h0M510.5 238.5h0M579.5 222.5h0M581.5 266h0M536 302.5h0M516 214.5h0M542.5 208.5h0M581 258.5h0M581.5 236.5h0M566.5 206.5h0M584.5 245h0M521.5 261.5h0M514 239.5h0M579.5 218.5h0M553 245h0M521 276.5h0M558 207h0M568.5 210.5h0M541 308h0M503 222.5h0M560.5 209.5h0M520.5 270h0M550.5 250h0M521.5 265h0M550 248.5h0M523.5 269.5h0M522 263.5h0M519 253.5h0M519 257h0M503.5 228.5h0M581 263.5h0M513.5 238.5h0M519.5 272.5h0M582.5 236h0M579.5 219h0M584 262h0M506 221h0M544.5 204h0M587 259h0M572 210.5h0M586 272.5h0M546.5 207.5h0M548.5 312.5h0M554.5 249h0M548 253h0M545 308.5h0M532 300h0M556.5 254h0M514.5 215.5h0M582.5 262.5h0M549 248.5h0M535 208h0M526 294h0M537.5 208.5h0M582.5 209.5h0M585.5 270h0M572.5 210.5h0M564 208h0M519 209.5h0M533 301h0M583.5 272h0M541.5 307h0M543 207h0M581.5 265.5h0M527.5 299.5h0M517.5 248h0M551 208h0M583.5 277h0M585 217.5h0M587 268h0M509.5 229.5h0M531 304.5h0M531 210.5h0M581.5 249.5h0M561.5 207.5h0M523.5 264.5h0M511.5 235.5h0M548 248.5h0M510.5 236.5h0M582 271h0M580 242h0M528.5 298h0M568 208.5h0M580 213h0M530.5 211h0M553.5 307.5h0M506.5 224h0M503 223.5h0M523.5 293.5h0M517 283.5h0M585 261.5h0M522.5 282.5h0M583 219h0M525 209.5h0M537.5 303.5h0M523 271h0M525 291h0M523.5 213h0M521 279.5h0M568 210.5h0M511.5 239.5h0M518.5 212.5h0M538.5 303.5h0M552 245h0M543.5 203.5h0M582 252h0M520 270h0M508.5 219h0M556.5 250.5h0M587.5 280h0M557.5 206.5h0M525 294.5h0M580.5 267.5h0M582.5 260.5h0M537.5 305h0M521 271h0M564 210h0M583.5 274h0M585 273.5h0M545 206h0M584 240.5h0M529 297.5h0M582 210h0M581.5 233h0M522.5 280.5h0M585.5 279h0M533.5 209.5h0M583.5 259.5h0M580 231h0M528 207h0M552.5 311.5h0M516.5 263h0M521 267.5h0M537 206.5h0M582 241h0M513 242h0M547.5 312.5h0M504 219.5h0M545 209h0M574 211.5h0M523 268.5h0M516 248h0M518.5 213.5h0M507.5 225h0M506.5 222.5h0M582 254.5h0M587.5 259.5h0M584 249h0M528 296h0" stroke="#C79800" stroke-width="3.4" stroke-linecap="round" fill="none"/>
<path d="M404.5 424.5h0M291 400.5h0M444 308h0M451 308.5h0M411 424h0M483 237.5h0M255 374h0M258 375h0M292.5 396.5h0M498 314.5h0M390 285.5h0M278.5 393.5h0M450.5 315.5h0M390 287.5h0M277.5 391.5h0M447 321h0M292 405h0M255.5 375.5h0M498 313h0M208.5 345h0M261 384.5h0M199.5 328.5h0M403 286h0M400 377h0M271.5 383.5h0M401.5 377.5h0M482 239.5h0M262.5 378h0M266 381h0M405.5 288h0M404.5 423.5h0M399 377.5h0M400 377.5h0M199 331h0M448 306.5h0M257 373h0M212 341.5h0M408.5 376.5h0M292 402.5h0M199.5 330h0M249.5 208h0M197 331.5h0M291.5 398h0M501.5 319h0M266.5 382.5h0M209 344h0M202.5 334h0M291.5 397h0M503.5 315h0M401.5 377h0M259 378.5h0M289 395.5h0M277 393h0M447 313h0M286.5 398h0M249 211h0M406 375.5h0M252.5 204h0M405 376h0M205.5 260h0M275.5 386h0M253.5 375.5h0M197 335h0M450.5 310h0M203.5 259h0M211.5 343.5h0M289 398h0M500.5 317.5h0M280.5 396h0M390 282.5h0M403 283h0M206.5 259.5h0M450.5 314.5h0M203.5 257h0M283 393h0M446 314.5h0M287 393.5h0M407.5 430.5h0M263.5 379.5h0M250.5 211h0M450 309h0M402.5 285.5h0M407 429.5h0M261 378.5h0M495.5 311.5h0M282.5 396.5h0M442.5 309.5h0M405 281h0M401.5 279h0M264 379.5h0M497 312h0M408.5 431.5h0M270 383h0M199 334.5h0M323.5 333.5h0M292 398.5h0M448.5 314h0M282.5 391h0M197 330.5h0M400.5 279h0" stroke="#E48800" stroke-width="3.4" stroke-linecap="round" fill="none"/>
<path d="M191 391h0M398 291.5h0M203 379h0M179 392.5h0M387.5 292h0M196 352.5h0M184.5 363h0M171.5 377h0M193.5 387.5h0M182 342h0M173 392.5h0M190.5 342h0M403.5 291h0M385 291.5h0M199.5 384.5h0M201 350.5h0M169.5 369.5h0M413.5 308h0M172 357h0M186 360.5h0M194 343h0M190.5 389h0M389 291.5h0" stroke="#00BDD2" stroke-width="3.4" stroke-linecap="round" fill="none"/>
<path d="M195 270h0M179.5 296h0M181.5 314h0M186.5 311h0M207 292h0M220.5 284.5h0M193 270h0M183 304h0M191.5 325h0M181.5 291h0M178.5 293.5h0M178.5 283h0M180 286.5h0M179.5 284h0M181.5 281h0M190.5 269.5h0M223 294.5h0M220.5 297.5h0M178.5 295.5h0M198 269h0M221.5 297.5h0M183 283h0M216.5 296.5h0M180 280h0M193.5 267.5h0M208.5 293h0M187.5 316.5h0M194 323h0M186.5 318.5h0M196 267.5h0M177.5 286h0M201 263.5h0M182 284.5h0M203.5 287h0M186 270.5h0M183.5 301h0M200 260h0M201.5 264h0M205 285h0M195 269.5h0M176 287.5h0M196 326.5h0M198 268.5h0M188.5 272.5h0M218.5 298.5h0M179 285h0M182.5 286h0M184 269h0M223 293.5h0M221 285h0M185 277.5h0M191.5 318h0M181 303h0M190.5 268h0M180 284.5h0M189 323h0" stroke="#8FAA00" stroke-width="3.4" stroke-linecap="round" fill="none"/>
<path d="M483 215h0M474 203h0M472 197h0M478.5 207.5h0M467 189.5h0M480 236h0M439 229.5h0M457 170.5h0M483 233h0M440 160h0M481 226.5h0M482.5 224h0M480 216.5h0M443 161h0M473.5 201h0M428 162.5h0M430.5 156.5h0M463 177.5h0M471 197.5h0M437 216.5h0M426.5 163h0M454 165h0M447.5 165h0M434 218.5h0M461.5 183h0M441 161h0M438.5 160h0M463 184h0M436.5 219.5h0M460 169.5h0M440 161.5h0M482.5 218h0M453 171h0M475.5 205h0M474 204h0M442 160.5h0M445 161.5h0M432.5 219h0M483.5 224.5h0M459.5 176h0M481 218h0M464.5 180h0M458.5 176.5h0M452 170.5h0M424.5 156.5h0M481.5 236.5h0M437 224.5h0M421 157.5h0M477 201h0M482 237h0M452 162.5h0M436.5 219.5h0M461.5 180h0M460.5 175.5h0M457.5 168h0M479.5 212h0M479 205h0M423 160h0M476.5 207.5h0M471 196.5h0M436 216.5h0M481 220h0M429 162h0M437 222.5h0M437 221.5h0M482 215.5h0M480.5 230.5h0M431.5 162h0M427 158h0M482 234h0M433.5 229.5h0M480.5 232.5h0M463 180.5h0M444.5 164h0M434.5 160.5h0M441 229h0M448 165.5h0M484.5 214.5h0M451 168h0M445 162h0M476 201.5h0" stroke="#F27C56" stroke-width="3.4" stroke-linecap="round" fill="none"/>
<path d="M470 282.5h0M511.5 269.5h0M472.5 285h0M492.5 242.5h0M502.5 306.5h0M499.5 248.5h0M509.5 295h0M501 251h0M508.5 287.5h0M472 286.5h0M502.5 302.5h0M515 262h0M474.5 286h0M512 273.5h0M509.5 268.5h0M506 302h0M485 240.5h0M513 291h0M491 243h0M490 243h0M511 271.5h0M280.5 427.5h0M509 285h0M508 258h0M494 246h0M484 239.5h0M489.5 240h0M491.5 243.5h0M505.5 254.5h0M489 238.5h0M512 273.5h0M283 439.5h0M510.5 278h0M488 235.5h0M495 306h0M509 304.5h0M510 297.5h0M515.5 287.5h0M471.5 272.5h0M408 138h0M507.5 298h0M503 251h0M501.5 303h0M501.5 306h0M492.5 309h0M511 264.5h0M473.5 286h0M493.5 244.5h0M505.5 255h0M508.5 264.5h0M507 294.5h0M498.5 304.5h0M503.5 304h0M499.5 250h0M478 284.5h0M498.5 250.5h0M469.5 283h0M508.5 292.5h0M282 442.5h0M470 284.5h0M508 288.5h0M470 281h0M473 285.5h0M509 284h0M508 256h0M470.5 278h0" stroke="#AEA200" stroke-width="3.4" stroke-linecap="round" fill="none"/>
<path d="M291 510.5h0M278.5 488.5h0M279 496.5h0M298 486h0M287 509h0M320 522.5h0M298 494.5h0M312 491.5h0M298.5 506h0M321.5 512.5h0M277 489.5h0M311 495.5h0M308 488.5h0M273.5 493h0" stroke="#00C0B6" stroke-width="3.4" stroke-linecap="round" fill="none"/>
<path d="M272 178h0M267 166.5h0M265 152h0M267 150.5h0M298.5 150.5h0M271 126.5h0M269 177.5h0M285.5 148h0M268 167h0M284 161.5h0M301 150h0M269.5 177.5h0M275.5 131h0M302 131h0M268 166h0M278 131h0M289 155h0M290.5 128h0M270.5 178.5h0M264 140.5h0M276.5 126.5h0M268.5 136h0M264.5 162h0M286.5 149h0M268.5 134.5h0M290 160h0M483.5 196h0M285 160h0M478 174.5h0M299.5 156.5h0M298 151.5h0M486.5 169h0M265 143.5h0M262 146h0M304 156h0M490 194.5h0M270 173h0M287 159h0M303 150.5h0M292.5 127.5h0M303 159h0M260.5 143.5h0M478 178h0M268 138.5h0M301 147.5h0M263 140.5h0M301 125.5h0M260.5 153.5h0M299.5 129.5h0M270.5 172h0M284 128h0M282.5 127.5h0M292 160.5h0M288.5 158.5h0M290.5 127h0M270 135.5h0M261.5 138h0M264.5 146h0M264.5 142h0M276 126h0M261.5 142.5h0M288 155h0M277 130.5h0M262.5 160.5h0M265.5 149h0M284.5 127.5h0M265 168h0M263.5 154.5h0M264.5 143h0M264.5 135h0M284 160.5h0M301 149h0M287.5 129.5h0M267.5 136.5h0M266 133h0M282 124.5h0M265.5 142h0M264.5 146.5h0M294 127h0" stroke="#00B81B" stroke-width="3.4" stroke-linecap="round" fill="none"/>
<path d="M466.5 53.5h0M473.5 58.5h0" stroke="#FF61C5" stroke-width="3.4" stroke-linecap="round" fill="none"/>
<path d="M247.5 367h0M255 317h0M244.5 368h0M217.5 247.5h0M251 309.5h0M258 310h0M225 353.5h0M254.5 371.5h0M226.5 352h0M217 346h0M228 246h0M207 253.5h0M229.5 357h0M221 352.5h0M234.5 359h0M250.5 369.5h0M254 303.5h0M246.5 366h0M483 238.5h0M226.5 355h0M213 346.5h0M243 364.5h0M229.5 245h0M239.5 360.5h0M252 369.5h0M225.5 248.5h0M239.5 363h0M237.5 364h0M251 377h0M222.5 249h0M256 316h0M214.5 345.5h0M220.5 250.5h0M211 257h0M229 247h0M250.5 307.5h0M255 373h0M221 348h0M258 315h0M236 232.5h0M233 242h0M227 246.5h0M243.5 363h0M216 251h0M231 245.5h0M216 347.5h0M218.5 251.5h0M251 370h0M234 234h0M249.5 314h0M254 317h0M233.5 233.5h0M250 370.5h0M248.5 366h0M237.5 236.5h0M222 245.5h0M245.5 370h0M229 359.5h0M253.5 373.5h0M235 234.5h0M224.5 244.5h0M222.5 355h0M216.5 351h0" stroke="#D29300" stroke-width="3.4" stroke-linecap="round" fill="none"/>
<path d="M292.5 222h0M241.5 222h0M280.5 98.5h0M297.5 226h0M292.5 223.5h0M280.5 235.5h0M320 108h0M258 91h0M298.5 225h0M241 225.5h0M247.5 212.5h0M244.5 212.5h0M242.5 221.5h0M297 222h0M238 230h0M293.5 71.5h0M281.5 224.5h0M297 223.5h0M295.5 91h0M332.5 115h0M294.5 222h0M296.5 228h0M297 223h0M244.5 218h0M237.5 224.5h0M237.5 228.5h0M242 215h0M286.5 235.5h0M242.5 215.5h0M247 211.5h0M246.5 214h0M292 72h0M330.5 100.5h0M237.5 227.5h0M240 223h0M238 221.5h0M243.5 213h0M241 225h0M295.5 227.5h0M277.5 93h0" stroke="#00C085" stroke-width="3.4" stroke-linecap="round" fill="none"/>
<path d="M384 463h0M388.5 467.5h0M377 488.5h0M368 471h0M372 492h0M387 460h0M375.5 490h0M360.5 455h0M361 467.5h0M373.5 493.5h0M388.5 477h0M343.5 480.5h0" stroke="#00C1A7" stroke-width="3.4" stroke-linecap="round" fill="none"/>
<path d="M471.5 139.5h0M433 134h0M446.5 127.5h0" stroke="#00A6FF" stroke-width="3.4" stroke-linecap="round" fill="none"/>
<path d="M362 226.5h0M367.5 225.5h0M374.5 220.5h0M360.5 215.5h0M359 213h0M376.5 215.5h0M359 227h0M362.5 225h0M361 216h0M369.5 225.5h0M360 225.5h0M374 213.5h0M359 214.5h0M360.5 221h0M361 213h0M373 226.5h0M361 215.5h0M357 215.5h0" stroke="#64B200" stroke-width="3.4" stroke-linecap="round" fill="none"/>
<path d="M483.5 142h0M484 154h0M477 149.5h0" stroke="#FF63B6" stroke-width="3.4" stroke-linecap="round" fill="none"/>
<path d="M371 253.5h0M384.5 256h0M385.5 256.5h0M388.5 266h0M384.5 254.5h0M384 262.5h0M376 266h0M369.5 266h0M387.5 280h0M381 255h0M389.5 278.5h0M384 261h0M389.5 285.5h0M372.5 265.5h0M387.5 279h0M382.5 266h0M389 283.5h0M369 266.5h0M374 258h0M370.5 255.5h0M375.5 267.5h0M376.5 266.5h0M374 262h0M390 277.5h0M374.5 267h0M388 280h0M372.5 258h0M387.5 291.5h0M388.5 267h0" stroke="#7CAE00" stroke-width="3.4" stroke-linecap="round" fill="none"/>
<path d="M254.5 200h0M411 138h0M416 141.5h0M413 138.5h0M409.5 139h0M417.5 141.5h0M260 188h0M272.5 182h0M412 140h0M419.5 146h0M417.5 138h0M254 202.5h0M422.5 151h0M254.5 202h0M265.5 206h0M410 137.5h0M419 149.5h0M256 201.5h0M413 137h0M256.5 197h0M255 204h0M413.5 136h0M253.5 192.5h0M418 142.5h0M270.5 181h0M421.5 143.5h0M419 141.5h0M267 185h0" stroke="#00B7E9" stroke-width="3.4" stroke-linecap="round" fill="none"/>
<path d="M218.5 410h0M213.5 391h0M213 436.5h0M210 441h0M237.5 398h0M235 422.5h0" stroke="#00BADE" stroke-width="3.4" stroke-linecap="round" fill="none"/>
<path d="M333.5 323.5h0M318.5 299h0M324.5 330h0M319.5 298h0M288 236h0M312 297.5h0M324.5 326.5h0M287.5 236h0M409 376h0M325.5 331.5h0M316.5 292.5h0M333 325.5h0M333 322.5h0M317.5 292.5h0M318.5 298.5h0M328.5 333.5h0M318 290h0M311 287h0M311.5 296h0M339.5 321h0M334 323.5h0M334 332h0" stroke="#EC8239" stroke-width="3.4" stroke-linecap="round" fill="none"/>
<path d="M326.5 446h0M313 450h0" stroke="#D874FD" stroke-width="3.4" stroke-linecap="round" fill="none"/>
<path d="M410.5 401.5h0M423 401.5h0M403 379h0M408 420.5h0M392.5 415h0M400.5 393h0M400.5 403.5h0" stroke="#00C096" stroke-width="3.4" stroke-linecap="round" fill="none"/>
<path d="M508.5 161h0M509.5 161h0M514 163h0M509.5 162.5h0" stroke="#EF67EB" stroke-width="3.4" stroke-linecap="round" fill="none"/>
<path d="M374 519.5h0" stroke="#509FFF" stroke-width="3.4" stroke-linecap="round" fill="none"/>
<path d="M272.5 466h0M269.5 436h0M269 490.5h0M264 489.5h0M271 483h0" stroke="#00ACFB" stroke-width="3.4" stroke-linecap="round" fill="none"/>
<path d="M453.5 93h0M429.5 106.5h0M440 107.5h0" stroke="#00B2F3" stroke-width="3.4" stroke-linecap="round" fill="none"/>
<path d="M341 330.5h0M339.5 331.5h0M248.5 211.5h0" stroke="#A0A600" stroke-width="3.4" stroke-linecap="round" fill="none"/>
<path d="M307.5 132.5h0M304.5 133h0M305.5 133h0" stroke="#43B500" stroke-width="3.4" stroke-linecap="round" fill="none"/>
<path d="M175.5 303h0" stroke="#F763E0" stroke-width="3.4" stroke-linecap="round" fill="none"/>
<path d="M449.5 475.5h0" stroke="#00BFC4" stroke-width="3.4" stroke-linecap="round" fill="none"/>
<path d="M136 346.5h0M143 338h0" stroke="#B385FF" stroke-width="3.4" stroke-linecap="round" fill="none"/>
<path d="M260 327.5h0M190.5 311h0M424 258h0M449.5 278h0M432.5 225.5h0M501 414.5h0M350.5 118h0M522.5 241.5h0M287 302h0M395.5 203.5h0M287 383.5h0M306.5 282h0M528 254h0M392 149.5h0M381.5 231.5h0M380.5 304.5h0M382.5 232h0M283 141.5h0M407 303h0M257.5 238.5h0M456 379h0M461.5 327h0M343.5 335.5h0M435.5 399.5h0M384.5 365h0M469 242.5h0M413 301h0M387.5 226h0M290 210.5h0M395.5 212h0M370.5 173.5h0M311 219.5h0M265 217h0M451.5 323h0M555.5 222.5h0M432 140.5h0M275.5 268.5h0M262 210.5h0M251 327.5h0M380.5 216h0M360.5 299.5h0M453 201.5h0M450 282h0M435 388h0M557 236.5h0M245.5 292.5h0M197 273h0M271.5 153.5h0M354 123h0M515.5 377h0M378 245.5h0M357.5 325.5h0M529.5 266h0M178.5 376.5h0M280.5 209.5h0M202.5 283.5h0M479 297h0M327 358.5h0M283.5 133.5h0M364 252.5h0M225 280.5h0M317 304.5h0M293.5 187.5h0M500 296h0M224 328.5h0M407.5 339h0M220.5 217h0M386 273h0M405.5 235.5h0M216 260h0M405.5 252h0M432 432.5h0M320 100.5h0M356 434.5h0M359.5 134.5h0M398 158.5h0M405.5 212h0M543 233h0M473.5 384h0M344.5 377.5h0M224.5 426.5h0M442.5 259.5h0M330 110.5h0M264.5 313.5h0M227 404.5h0M321 170.5h0M514.5 370.5h0M275.5 82h0M342.5 339h0M330 284.5h0M430.5 409.5h0M219.5 392h0M402.5 141h0M408 285.5h0M259 221.5h0M241.5 273h0M394.5 151h0M522.5 251.5h0M477 265.5h0M298.5 85.5h0M198 281.5h0M501 401.5h0M363.5 147.5h0M361 432.5h0M347.5 284h0M546 212.5h0M350.5 469h0M485 280.5h0M417.5 272h0M455 256.5h0M296.5 395h0M368.5 183h0M540.5 213.5h0M258.5 232.5h0M353.5 149h0M441 378.5h0M275 283.5h0M329.5 308.5h0M352.5 396.5h0M464 285h0M354 230.5h0M233 294.5h0M196 286.5h0M473.5 236h0M427 218h0M228.5 251h0M301 340h0M344.5 197.5h0M299 513.5h0M340 219.5h0M376.5 230h0M337 180.5h0M293.5 261.5h0M304 255h0M391.5 325.5h0M380.5 402h0M477 221.5h0M350.5 365h0M267.5 239h0M277 265h0M454.5 182.5h0M215 401h0M460.5 255h0M205.5 330h0M334.5 128.5h0M203.5 328.5h0M372 217h0M463.5 275.5h0M574.5 323.5h0M390 199.5h0M504 374.5h0M359.5 196h0M394 279h0M283 205h0M460 188h0M410 284.5h0M193.5 277h0M227 318h0M477 383.5h0M411 330.5h0M359 244.5h0M435 283h0M573.5 323h0M274.5 376h0M463.5 325h0M447 286.5h0M277 184.5h0M302 389.5h0M390.5 231.5h0M502.5 264h0M218.5 397h0M255.5 213.5h0M481 411.5h0M222 217.5h0M393 162.5h0M236.5 290.5h0M496.5 358.5h0M214.5 263.5h0M191 378.5h0M388.5 262h0M383 367h0M397.5 174h0M274.5 232.5h0M311 180h0M337.5 340.5h0M580.5 279.5h0M328 319.5h0M255.5 219.5h0M272 340.5h0M293.5 501h0M352.5 159h0M337.5 241.5h0M414 388.5h0M183 382h0M433 390h0M391 217h0M385.5 300.5h0M297.5 163h0M368.5 270.5h0M559.5 301.5h0M348.5 226.5h0M353 269.5h0M399.5 252.5h0M345 161.5h0M282 152.5h0M277 353.5h0M278 84.5h0M358 485.5h0M224 402.5h0M370.5 485.5h0M178 356.5h0M284.5 83h0M396.5 176h0M331 241h0M267 203.5h0M326.5 148.5h0M463.5 414h0M441 410h0M344 349h0M392.5 224h0M347.5 382h0M178.5 369.5h0M351 242h0M370 181.5h0M487 185h0M531.5 264.5h0M395.5 373h0M400 156.5h0M220.5 271h0M277 249.5h0M469.5 399.5h0M280.5 191.5h0M319.5 320h0M314 242h0M400 318h0M190.5 369.5h0M478.5 370.5h0M337.5 379h0M327 235h0M328.5 230.5h0M328.5 180h0M337 225h0M402.5 178h0M336.5 355.5h0M290.5 141.5h0M270 207.5h0M513.5 357h0M514 349h0M257 475.5h0M535 257.5h0M278.5 141h0M455 364h0M449 233h0M313 350.5h0M351.5 121.5h0M337 136h0M364.5 306.5h0M200 326h0M283 300h0M328 294h0M280 306.5h0M485 183h0M295.5 149.5h0M483 248h0M411.5 297.5h0M274.5 223.5h0M268.5 203.5h0M431.5 273.5h0M213.5 266h0M386.5 229h0M331.5 421.5h0M360 431h0M436.5 141h0M271.5 282h0M565.5 219.5h0M346 245h0M286.5 132h0M272 160h0M437.5 134.5h0M399.5 181h0M259 319.5h0M272 159h0M413 397h0M398 361.5h0M428 228.5h0M448.5 326.5h0M444 436h0M423.5 176h0M580 299h0M207.5 279h0M385.5 239.5h0M305 234.5h0M319.5 163h0M455.5 318h0M263 210h0M408.5 269h0M506.5 421.5h0M391 247.5h0M546.5 239.5h0M506.5 425h0M309.5 304h0M550 301h0M429.5 216h0M364 317.5h0M397 257h0M536.5 296.5h0M527 262h0M358 159.5h0M340.5 393.5h0M459 327.5h0M381 440h0M439.5 238h0M397 232h0M489 185.5h0M383.5 238.5h0M519.5 242.5h0M278 205h0M327 228h0M399.5 235.5h0M504.5 384h0M426.5 274h0M346.5 369.5h0M304 143.5h0M433 206h0M480 435.5h0M348.5 143.5h0M368.5 153h0M232.5 291.5h0M405.5 234h0M452.5 208h0M263 310.5h0M281.5 310h0M388.5 206.5h0M536.5 295h0M418 276.5h0M461 378.5h0M277.5 152.5h0M555.5 217.5h0M541 300h0M398.5 135h0M354.5 379.5h0M353.5 467.5h0M377.5 243h0M511 351h0M305.5 223.5h0M370 433.5h0M280 214h0M270.5 88.5h0M269.5 153h0M394 276.5h0M288.5 138h0M265.5 480.5h0M331 314.5h0M406 300.5h0M287.5 313.5h0M348 267.5h0M378 396.5h0M402.5 333h0M280 270.5h0M325 233.5h0M295 189.5h0M407 239.5h0M484.5 249h0M305.5 160h0M425.5 420.5h0M294 226h0M195 296h0M382.5 150.5h0M379 297.5h0M370.5 318h0M404 159h0M367.5 476.5h0M345.5 196h0M476 227h0M395.5 340h0M388.5 245h0M472 392h0M249 220.5h0M321 240h0M489.5 326.5h0M459.5 385h0M381 395.5h0M313 234h0M204.5 294.5h0M354 266h0M316.5 324h0M474 217.5h0M357 376h0M449 332.5h0M347.5 201h0M323.5 239.5h0M348.5 245h0M338.5 423.5h0M526.5 276h0M192 312h0M432 424.5h0M399.5 262.5h0M223 432.5h0M300 234.5h0M318.5 99.5h0M273 169h0M490.5 327h0M270.5 258h0M179 374.5h0M396 294h0M320 325.5h0M411 249.5h0M208 305.5h0M281 329h0M493.5 255.5h0M465.5 283.5h0M369.5 378h0M430 423.5h0M231.5 249h0M308 152h0M475 377h0M502 274.5h0M357.5 468.5h0M277 347.5h0M229 254.5h0M357 380.5h0M413 296.5h0M456 333h0M298 397h0M448 302.5h0M479.5 433.5h0M573.5 262h0M359 256.5h0M319.5 316.5h0M496 263.5h0M503 331.5h0M233.5 294h0M291 342h0M302 371h0M266.5 301h0M349 412.5h0M280 354.5h0M383.5 383.5h0M355 122h0M329 107.5h0M241.5 316h0M397 244h0M290 391h0M276.5 260.5h0M377 342h0M334 222h0M575 313.5h0M514.5 404.5h0M412 386h0M414 253.5h0M432 282h0M227 295.5h0M398 246.5h0M224 283.5h0M376.5 460.5h0M343.5 393.5h0M352.5 240.5h0M587 325h0M440 434h0M343.5 251.5h0M428 380h0M398 360.5h0M226 398h0M313 162h0M322.5 419h0M435.5 480h0M526 220h0M441.5 314.5h0M411.5 164h0M386 308h0M279.5 332h0M262.5 343h0M361 384h0M369.5 235.5h0M396 176.5h0M335 367.5h0M344 128.5h0M475.5 219.5h0M238 352.5h0M451.5 273h0M461.5 374.5h0M473 322h0M268.5 378h0M307.5 355.5h0M377 394h0M345.5 231h0M372 250h0M435 314h0M246.5 304.5h0M514 352h0M515.5 364.5h0M325.5 238.5h0M370.5 179h0M511.5 341h0M453 326.5h0M377 231.5h0M369.5 146h0M367.5 125h0M525 222.5h0M445.5 230.5h0M256.5 213.5h0M378.5 143h0M366.5 198.5h0M544.5 248.5h0M363 165h0M459 212h0M505 272h0M359.5 380h0M402 390h0M502 263.5h0M436 180.5h0M426.5 228.5h0M221.5 324h0M363.5 264.5h0M542.5 301h0M425.5 340h0M596 320h0M402 385h0M417 162h0M323.5 236.5h0M284.5 136.5h0M547.5 291h0M414.5 310.5h0M476 224h0M415 145.5h0M445.5 278.5h0M348.5 198h0M259 209h0M399.5 432.5h0M454.5 251h0M362 332h0M387.5 255.5h0M530.5 264.5h0M403.5 186.5h0M332.5 205h0M371.5 349.5h0M578.5 270h0M386 233h0M361.5 486h0M395 393h0M302 228h0M213.5 272h0M226.5 301h0M399.5 197h0M401.5 270h0M323 232.5h0M404.5 365.5h0M315.5 166h0M291 496.5h0M356 218.5h0M285 244h0M320 157.5h0M379 412h0M184.5 372h0M363 152.5h0M355.5 292.5h0M545.5 260h0M377.5 309h0M333.5 245h0M473 438h0M431.5 215.5h0M369.5 369.5h0M291.5 229h0M267.5 319h0M430 270h0M572.5 292.5h0M190 291.5h0M272 313.5h0M397 152.5h0M406 147h0M272.5 471.5h0M469.5 250h0M368.5 220h0M351.5 318h0M362.5 482.5h0M230 264.5h0M577 241h0M486 248h0M329 129.5h0M398 164.5h0M346.5 142h0M384 241.5h0M425.5 482.5h0M282.5 188h0M542 297.5h0M552.5 212h0M323.5 137h0M374 374.5h0M329 182.5h0M456 184.5h0M356 368h0M406.5 221h0M351.5 209.5h0M397.5 431.5h0M470 208h0M303.5 372.5h0M466 238.5h0M566.5 299.5h0M461 239h0M276 245.5h0M470.5 425h0M326.5 409h0M344 201h0M318 337h0M359 187h0M561 235.5h0M346 154h0M564.5 317.5h0M473.5 336.5h0M304 343.5h0M423.5 350.5h0M212 262.5h0M337.5 202.5h0M275.5 86h0M362.5 273h0M392 426h0M273 275.5h0M562 311h0M429 414.5h0M461.5 385.5h0M344.5 341h0M220 306h0M429.5 218.5h0M224 343.5h0M269.5 267.5h0M389.5 330.5h0M541.5 216h0M225.5 430.5h0M406 195.5h0M296.5 358h0M476 399.5h0M436.5 190.5h0M465.5 386.5h0M262.5 317.5h0M488.5 308h0M511 224h0M386 243h0M325 218.5h0M409.5 273.5h0M343.5 337.5h0M319 331.5h0M270 248h0M333.5 347.5h0M348 475.5h0M353.5 216h0M548 266.5h0M348 231h0M435.5 474.5h0M350.5 119h0M391 349.5h0M318 243.5h0M263.5 325h0M408 253.5h0M384 316h0M236.5 270h0M411 413.5h0M272.5 277.5h0M369 366h0M564 302h0M377 255h0M371.5 464h0M300.5 209.5h0M409 409h0M259 480.5h0M495 379.5h0M405 310.5h0M343 313.5h0M331 422.5h0M481 270.5h0M458 369.5h0M471.5 351h0M289 385.5h0M383.5 272.5h0M495.5 319.5h0M364 165.5h0M308 154.5h0M324.5 171h0M318 340h0M352 249.5h0M434.5 409h0M360 159h0M344.5 200h0M193.5 375h0M364.5 268.5h0M277.5 215.5h0M267 354.5h0M286 219h0M256.5 475h0M254.5 231h0M282 384.5h0M224.5 282h0M395.5 427.5h0M274 236h0M452.5 420.5h0M472 237.5h0M204 274.5h0M408 314.5h0M581 298h0M285.5 323h0M454 328h0M303 229h0M317 92h0M248 337.5h0M189.5 308.5h0M394 299.5h0M578 285h0M331 236h0M455 411h0M362 197.5h0M321.5 328h0M431.5 429.5h0M366.5 192h0M314 350h0M397 230h0M369.5 147h0M376 271h0M359.5 329.5h0M277 233.5h0M447.5 435h0M274.5 82.5h0M302 229h0M480 246h0M563.5 254h0M245 237h0M381.5 123h0M442 213.5h0M346.5 226.5h0M442.5 323h0M560 256h0M433 336h0M482.5 273h0M399 246h0M357 194h0M549.5 217h0M354 405h0M438 276h0M298 239.5h0M472.5 215.5h0M468.5 392.5h0M506 330.5h0M321 327.5h0M363 363.5h0M525 220.5h0M272.5 339.5h0M399.5 154h0M244.5 321.5h0M280 241.5h0M400 321.5h0M392.5 216.5h0M527.5 249h0M253.5 323.5h0M400 428.5h0M398 246h0M266.5 198.5h0M301 180.5h0M348.5 322.5h0M435.5 401h0M371.5 119h0M449 247h0M467.5 198h0M481.5 437h0M370 184h0M285 153h0M428.5 349.5h0M368 529h0M380.5 351h0M425 175h0M411 265h0M452 291h0M500.5 403h0M307 345h0M292 148.5h0M230 276h0M295 353h0M455 296h0M384.5 322h0M381.5 464.5h0M432.5 478h0M341 375.5h0M220.5 302h0M570.5 238h0M409.5 194h0M338.5 198.5h0M330.5 317.5h0M291.5 351.5h0M289.5 385h0M513 412.5h0M301 234h0M563.5 243.5h0M370 208.5h0M542.5 296.5h0M388.5 433.5h0M399 346h0M412.5 272h0M360.5 194h0M194.5 378.5h0M398 402h0M430 349.5h0M300.5 235.5h0M501.5 260h0M383 415.5h0M343 221h0M471.5 268h0M306 148h0M288 84h0M384.5 221h0M274.5 365h0M258.5 324h0M370 281h0M210 266h0M349.5 228h0M270.5 348.5h0M188 284.5h0M358 313.5h0M291 502h0M379.5 155h0M317.5 514h0M430.5 167.5h0M575.5 238h0M259.5 477h0M355.5 473h0M334 205h0M244 336.5h0M245 311h0M552.5 262h0M289.5 354.5h0M284.5 217h0M433.5 283.5h0M386 331.5h0M267.5 312.5h0M416.5 296h0M510 340h0M400 185h0M467 138.5h0M323.5 135.5h0M580.5 312.5h0M223.5 272h0M517 374h0M256 473h0M305.5 174h0M366 257h0M461 268h0M353.5 297.5h0M396.5 410.5h0M572 307h0M316.5 237.5h0M489 321h0M458.5 242.5h0M214 299.5h0M382 167h0M420 300h0M532 281h0M342 318.5h0M217 301h0M284.5 301.5h0M450.5 339.5h0M439 344.5h0M416.5 313h0M590.5 326h0M342.5 263.5h0M392.5 162h0M371 417.5h0M407.5 371h0M433.5 476.5h0M526.5 277h0M226 397h0M401.5 390h0M197.5 298.5h0M503 404h0M356 367.5h0M274 168.5h0M294 185.5h0M365.5 265h0M382 294h0M563 319.5h0M460.5 300h0M396.5 392h0M511.5 361h0M440.5 168h0M277.5 246h0M393.5 398h0M482.5 344.5h0M328.5 110.5h0M336.5 314.5h0M489.5 181h0M505 287h0M306 504h0M281.5 157h0M361 370.5h0M276 283h0M437.5 477.5h0M379.5 385h0M273.5 150.5h0M196.5 318h0M461 384.5h0M302.5 231.5h0M257 331.5h0M249.5 225.5h0M352 211.5h0M392.5 244h0" stroke="#FFFFFF" stroke-width="2.2" stroke-linecap="round" fill="none"/>
<path d="M201 295h0M186 294h0M212 283h0M196 280h0M220 279h0M215 300h0M219 291h0M197 320h0M235 309h0M195 288h0M201 271h0M205 303h0M235 288h0M217 260h0M208 301h0M413 318h0M216 302h0M238 282h0M196 300h0M221 304h0M217 279h0M225 284h0M213 306h0M203 330h0M225 326h0M477 383h0M203 294h0M216 269h0M204 294h0" stroke="#8FAA00" stroke-width="3.2" stroke-linecap="round" fill="none"/>
<path d="M313 223h0M302 197h0M351 249h0M400 167h0M358 121h0M305 192h0M372 142h0M375 197h0M288 216h0M333 215h0M350 119h0M392 258h0M395 167h0M281 181h0M308 207h0M337 213h0M393 160h0M368 148h0M324 203h0M278 214h0M385 126h0M313 167h0M304 177h0M368 165h0M338 217h0M365 192h0M325 133h0M388 238h0M379 142h0M379 123h0M367 119h0M398 243h0M309 174h0M286 209h0M309 231h0M351 134h0M292 216h0M419 179h0M326 195h0M367 195h0M370 175h0M338 245h0M385 206h0M350 229h0M371 170h0M276 215h0M379 152h0M302 225h0M332 240h0M387 220h0M309 222h0M396 136h0M352 191h0M379 199h0M317 150h0M320 184h0M349 239h0M314 159h0M341 189h0M304 188h0M367 149h0M299 231h0M395 151h0M351 143h0M294 187h0M384 128h0M417 173h0M370 161h0M398 159h0M353 229h0M404 154h0M271 213h0M390 144h0M319 147h0M296 218h0M338 201h0M340 188h0M344 200h0M337 182h0M317 138h0M313 202h0M337 203h0M370 146h0M357 121h0M336 219h0M370 164h0M322 190h0M324 196h0M397 190h0M324 184h0M399 176h0M300 216h0" stroke="#BB9D00" stroke-width="3.2" stroke-linecap="round" fill="none"/>
<path d="M575 248h0M546 218h0M550 262h0M541 236h0M530 216h0M558 248h0M573 240h0M531 293h0M521 243h0M547 241h0M534 293h0M532 296h0M534 227h0M545 301h0M517 226h0M522 245h0M576 273h0M554 264h0M276 333h0M544 213h0M523 221h0M576 234h0M522 243h0M576 228h0M549 305h0M532 288h0M568 276h0M573 228h0M553 214h0M551 214h0M572 261h0M555 264h0M527 279h0M537 244h0M528 276h0M557 241h0M569 287h0M558 288h0M577 272h0M522 247h0M566 240h0M531 219h0M560 254h0M576 237h0M574 295h0M546 258h0" stroke="#C79800" stroke-width="3.2" stroke-linecap="round" fill="none"/>
<path d="M304 234h0M312 241h0M322 237h0M347 292h0M310 248h0M284 292h0M348 323h0M312 280h0M286 314h0M351 328h0M325 289h0M345 260h0M286 307h0M282 325h0M286 304h0M292 315h0M324 303h0M292 336h0M348 322h0M299 299h0M277 321h0M350 283h0M285 246h0M341 277h0M299 242h0M323 284h0M296 325h0M339 277h0M358 325h0M284 299h0M342 275h0M347 267h0M284 298h0M323 239h0M295 345h0M276 274h0M318 302h0M322 276h0M324 289h0M336 295h0M318 322h0M295 264h0M281 286h0M313 341h0M342 315h0M476 235h0M303 240h0M348 320h0M341 289h0M414 354h0" stroke="#EC8239" stroke-width="3.2" stroke-linecap="round" fill="none"/>
<path d="M276 250h0M305 215h0M265 216h0M313 209h0M269 240h0M251 233h0M280 83h0M256 221h0M301 217h0M273 212h0M280 228h0M258 211h0M413 398h0M278 210h0M250 230h0M263 88h0M280 87h0M250 240h0M301 210h0M262 209h0M284 241h0M315 96h0" stroke="#00C085" stroke-width="3.2" stroke-linecap="round" fill="none"/>
<path d="M261 345h0M233 278h0M264 256h0M222 260h0M249 288h0M243 355h0M261 299h0M273 331h0M241 301h0M270 322h0M219 340h0M211 324h0M266 289h0M240 242h0M261 352h0M254 345h0M277 269h0M279 260h0M265 266h0M233 346h0M260 249h0M227 252h0M243 252h0M221 323h0M236 295h0M250 238h0M207 331h0M233 271h0M239 300h0M262 262h0M230 332h0M227 344h0M268 321h0M275 294h0M206 329h0M229 349h0M263 348h0" stroke="#D29300" stroke-width="3.2" stroke-linecap="round" fill="none"/>
<path d="M351 380h0M324 420h0M362 396h0M346 427h0M343 406h0M302 342h0M340 350h0M353 431h0M356 433h0M357 369h0M359 385h0M268 254h0M397 426h0M324 368h0M387 442h0M347 369h0M339 398h0M368 436h0M388 436h0M332 420h0M356 374h0M352 422h0M323 365h0M363 398h0M363 434h0M333 423h0M385 416h0M395 427h0M358 365h0M335 402h0M364 396h0M299 350h0M335 341h0M364 431h0M379 431h0M348 385h0M383 412h0M378 406h0M368 405h0M358 406h0M294 343h0M349 361h0M334 350h0M398 434h0" stroke="#DB8E00" stroke-width="3.2" stroke-linecap="round" fill="none"/>
<path d="M381 287h0M375 300h0M409 301h0M400 297h0M390 311h0M388 300h0M187 387h0M176 376h0M386 325h0M402 310h0M401 316h0M191 384h0M398 319h0M182 360h0M389 317h0M385 311h0" stroke="#00BDD2" stroke-width="3.2" stroke-linecap="round" fill="none"/>
<path d="M445 234h0M476 223h0M435 199h0M449 231h0M404 266h0M407 222h0M447 287h0M447 224h0M441 173h0M394 245h0M434 238h0M407 212h0M476 241h0M408 182h0M441 237h0M443 215h0M403 198h0M432 237h0M418 167h0M429 191h0M419 248h0M408 218h0M438 274h0M456 224h0M468 234h0M403 162h0M460 196h0M423 279h0M477 232h0M430 233h0M443 171h0M404 164h0M435 213h0M407 233h0M421 164h0M403 201h0M422 165h0M404 247h0M439 165h0M444 170h0" stroke="#F27C56" stroke-width="3.2" stroke-linecap="round" fill="none"/>
<path d="M408 319h0M274 378h0M438 311h0M447 289h0M424 340h0M439 300h0M291 387h0M412 283h0M394 327h0M386 305h0M440 323h0M354 324h0M438 316h0M366 301h0M363 306h0M364 322h0M217 339h0M492 303h0M456 326h0M414 269h0M438 314h0M363 325h0M395 343h0M358 328h0M296 348h0M417 303h0M407 304h0M392 262h0M298 341h0M421 274h0M480 313h0M418 355h0M493 301h0M436 314h0M444 340h0M406 321h0M446 274h0M409 350h0M415 370h0M437 317h0M431 292h0M365 327h0M450 300h0M482 311h0M408 350h0M473 330h0M414 315h0M437 343h0M353 327h0M360 325h0M258 205h0M213 325h0M422 364h0M426 302h0M456 284h0M413 280h0M409 276h0M408 257h0M480 329h0M395 314h0M257 363h0M294 384h0M278 380h0M297 391h0M410 293h0M457 309h0M413 290h0M408 291h0" stroke="#E48800" stroke-width="3.2" stroke-linecap="round" fill="none"/>
<path d="M377 474h0M375 531h0M362 484h0" stroke="#509FFF" stroke-width="3.2" stroke-linecap="round" fill="none"/>
<path d="M275 316h0M567 316h0M281 315h0M274 323h0M597 298h0M573 279h0M564 318h0M270 344h0M561 310h0M584 320h0M574 294h0M581 299h0M570 308h0M575 324h0M577 289h0M375 344h0M286 309h0" stroke="#00BA43" stroke-width="3.2" stroke-linecap="round" fill="none"/>
<path d="M327 135h0M468 399h0M458 439h0M487 311h0M477 376h0M476 371h0M423 423h0M507 331h0M439 431h0M461 322h0M503 394h0M486 378h0M516 391h0M506 421h0M466 437h0M451 364h0M510 355h0M486 430h0M437 433h0M479 437h0M446 335h0M446 432h0M437 415h0M411 364h0M450 439h0M476 328h0M432 396h0M516 358h0M470 344h0M429 380h0M507 427h0M496 330h0M462 368h0M510 351h0M465 392h0M427 420h0M490 327h0M479 352h0M447 434h0M451 355h0M473 392h0M438 370h0M488 322h0M435 410h0M493 398h0M509 421h0M510 349h0M438 330h0" stroke="#F8766D" stroke-width="3.2" stroke-linecap="round" fill="none"/>
<path d="M361 209h0M341 239h0M372 236h0M366 198h0M364 234h0M369 234h0M376 211h0M357 233h0M333 203h0M339 230h0M339 240h0M349 222h0M355 223h0M384 238h0M376 340h0M357 219h0M352 219h0M366 191h0M359 231h0M365 231h0M371 231h0M336 228h0M352 229h0" stroke="#64B200" stroke-width="3.2" stroke-linecap="round" fill="none"/>
<path d="M301 141h0M296 189h0M290 167h0M306 152h0M278 144h0M274 141h0M306 162h0M295 139h0M283 164h0M277 135h0M282 165h0M296 169h0M272 168h0M276 171h0M279 150h0M286 167h0M297 135h0M290 194h0M274 161h0M281 163h0M288 143h0M312 155h0M283 179h0M486 181h0" stroke="#00B81B" stroke-width="3.2" stroke-linecap="round" fill="none"/>
<path d="M465 138h0M464 136h0M466 144h0M464 134h0M460 145h0" stroke="#00A6FF" stroke-width="3.2" stroke-linecap="round" fill="none"/>
<path d="M371 486h0M291 87h0M362 483h0M353 480h0M361 462h0M378 462h0M390 378h0M357 483h0M355 476h0M356 464h0" stroke="#00C1A7" stroke-width="3.2" stroke-linecap="round" fill="none"/>
<path d="M275 204h0M395 144h0M284 181h0M399 151h0M259 206h0M390 154h0M401 171h0M266 211h0M274 205h0M396 142h0M410 150h0M394 151h0" stroke="#00B7E9" stroke-width="3.2" stroke-linecap="round" fill="none"/>
<path d="M426 481h0M433 476h0M442 475h0M437 476h0M437 478h0M438 484h0" stroke="#00BFC4" stroke-width="3.2" stroke-linecap="round" fill="none"/>
<path d="M469 288h0M501 281h0M490 311h0M501 271h0M494 317h0M469 264h0M483 270h0M468 289h0M391 260h0M506 285h0M478 320h0M487 251h0M479 306h0M480 272h0M457 292h0M490 295h0M463 268h0M483 247h0M463 259h0M501 258h0M468 245h0" stroke="#AEA200" stroke-width="3.2" stroke-linecap="round" fill="none"/>
<path d="M256 473h0M269 467h0M262 477h0M262 472h0M258 461h0M259 480h0M263 476h0M263 483h0M268 479h0M262 476h0" stroke="#00ACFB" stroke-width="3.2" stroke-linecap="round" fill="none"/>
<path d="M350 254h0M387 243h0M351 290h0M381 226h0M358 299h0M382 245h0M382 232h0M394 261h0M366 266h0M366 249h0M360 281h0M377 253h0M368 273h0M351 302h0M392 257h0M383 278h0M355 291h0M345 257h0M365 255h0M400 270h0M370 300h0M363 255h0M378 261h0" stroke="#7CAE00" stroke-width="3.2" stroke-linecap="round" fill="none"/>
<path d="M289 490h0M308 518h0M290 498h0M280 492h0M310 512h0M318 516h0" stroke="#00C0B6" stroke-width="3.2" stroke-linecap="round" fill="none"/>
<path d="M398 369h0M403 349h0M373 303h0M391 325h0M380 351h0M409 366h0M383 359h0M405 351h0M372 344h0M373 343h0M389 359h0M363 359h0M373 332h0" stroke="#00BE72" stroke-width="3.2" stroke-linecap="round" fill="none"/>
<path d="M226 426h0M227 404h0M218 393h0M223 408h0M214 405h0M222 394h0" stroke="#00BADE" stroke-width="3.2" stroke-linecap="round" fill="none"/>
<path d="M434 401h0M425 421h0M463 145h0M406 388h0M414 374h0" stroke="#00C096" stroke-width="3.2" stroke-linecap="round" fill="none"/>
<path d="M369 366h0M368 359h0M356 353h0M372 343h0M346 320h0M369 331h0M370 368h0M363 308h0M329 350h0M355 331h0M230 272h0M337 338h0" stroke="#A0A600" stroke-width="3.2" stroke-linecap="round" fill="none"/>
<path d="M564 312h0" stroke="#7C96FF" stroke-width="3.2" stroke-linecap="round" fill="none"/>
<path d="M509 419h0M479 240h0" stroke="#FC7181" stroke-width="3.2" stroke-linecap="round" fill="none"/>
<path d="M467 143h0" stroke="#FF63B6" stroke-width="3.2" stroke-linecap="round" fill="none"/>
<path d="M361 329h0" stroke="#00BD5C" stroke-width="3.2" stroke-linecap="round" fill="none"/>
<path d="M428 100h0M432 102h0" stroke="#00B2F3" stroke-width="3.2" stroke-linecap="round" fill="none"/>
<text x="335.8" y="45.2" font-size="21.5" text-anchor="middle">38</text>
<text x="364.9" y="58.4" font-size="21.5" text-anchor="middle">30</text>
<text x="419.6" y="61.2" font-size="21.5" text-anchor="middle">33</text>
<text x="477.2" y="55.5" font-size="21.5" text-anchor="middle">39</text>
<text x="301.7" y="94.6" font-size="21.5" text-anchor="middle">18</text>
<text x="358.2" y="100.6" font-size="21.5" text-anchor="middle">42</text>
<text x="395.6" y="91.9" font-size="21.5" text-anchor="middle">35</text>
<text x="459.9" y="98.7" font-size="21.5" text-anchor="middle">26</text>
<text x="450.3" y="143.7" font-size="21.5" text-anchor="middle">28</text>
<text x="493.5" y="147.6" font-size="21.5" text-anchor="middle">40</text>
<text x="523.2" y="143.7" font-size="21.5" text-anchor="middle">43</text>
<text x="524.2" y="169.6" font-size="21.5" text-anchor="middle">36</text>
<text x="294.5" y="162.1" font-size="21.5" text-anchor="middle">14</text>
<text x="359.2" y="156.7" font-size="21.5" text-anchor="middle">7</text>
<text x="355.6" y="184.6" font-size="21.5" text-anchor="middle">25</text>
<text x="332.2" y="200.8" font-size="21.5" text-anchor="middle">9</text>
<text x="220.7" y="226.8" font-size="21.5" text-anchor="middle">31</text>
<text x="290.0" y="236.7" font-size="21.5" text-anchor="middle">17</text>
<text x="366.4" y="227.7" font-size="21.5" text-anchor="middle">12</text>
<text x="436.9" y="231.0" font-size="21.5" text-anchor="middle">1</text>
<text x="552.9" y="258.8" font-size="21.5" text-anchor="middle">6</text>
<text x="156.0" y="268.2" font-size="21.5" text-anchor="middle">41</text>
<text x="379.0" y="268.2" font-size="21.5" text-anchor="middle">11</text>
<text x="395.2" y="293.4" font-size="21.5" text-anchor="middle">13</text>
<text x="474.3" y="286.7" font-size="21.5" text-anchor="middle">8</text>
<text x="213.2" y="299.2" font-size="21.5" text-anchor="middle">10</text>
<text x="314.9" y="300.1" font-size="21.5" text-anchor="middle">2</text>
<text x="167.1" y="316.5" font-size="21.5" text-anchor="middle">37</text>
<text x="254.4" y="318.4" font-size="21.5" text-anchor="middle">5</text>
<text x="331.2" y="334.7" font-size="21.5" text-anchor="middle">16</text>
<text x="447.4" y="322.2" font-size="21.5" text-anchor="middle">3</text>
<text x="589.4" y="316.5" font-size="21.5" text-anchor="middle">15</text>
<text x="141.2" y="339.5" font-size="21.5" text-anchor="middle">32</text>
<text x="192.1" y="368.2" font-size="21.5" text-anchor="middle">23</text>
<text x="468.5" y="385.5" font-size="21.5" text-anchor="middle">0</text>
<text x="353.4" y="398.9" font-size="21.5" text-anchor="middle">4</text>
<text x="407.1" y="407.6" font-size="21.5" text-anchor="middle">19</text>
<text x="223.7" y="424.8" font-size="21.5" text-anchor="middle">24</text>
<text x="317.7" y="450.7" font-size="21.5" text-anchor="middle">34</text>
<text x="267.9" y="469.9" font-size="21.5" text-anchor="middle">27</text>
<text x="371.5" y="480.5" font-size="21.5" text-anchor="middle">20</text>
<text x="431.1" y="472.8" font-size="21.5" text-anchor="middle">22</text>
<text x="306.2" y="509.3" font-size="21.5" text-anchor="middle">21</text>
<text x="384.1" y="539.0" font-size="21.5" text-anchor="middle">29</text>
<line x1="106.6" x2="106.6" y1="12" y2="564" stroke="#000" stroke-width="3.6"/>
<line x1="104.8" x2="626.6" y1="562.5" y2="562.5" stroke="#000" stroke-width="3.6"/>
<line x1="101" x2="106.6" y1="24.2" y2="24.2" stroke="#000" stroke-width="3.4"/>
<text x="90.5" y="32.0" font-size="22.3" text-anchor="end">40</text>
<line x1="101" x2="106.6" y1="158.0" y2="158.0" stroke="#000" stroke-width="3.4"/>
<text x="90.5" y="165.8" font-size="22.3" text-anchor="end">20</text>
<line x1="101" x2="106.6" y1="291.8" y2="291.8" stroke="#000" stroke-width="3.4"/>
<text x="90.5" y="299.6" font-size="22.3" text-anchor="end">0</text>
<line x1="101" x2="106.6" y1="425.6" y2="425.6" stroke="#000" stroke-width="3.4"/>
<text x="90.5" y="433.4" font-size="22.3" text-anchor="end">−20</text>
<line x1="101" x2="106.6" y1="559.4" y2="559.4" stroke="#000" stroke-width="3.4"/>
<text x="90.5" y="567.2" font-size="22.3" text-anchor="end">−40</text>
<line x1="131.7" x2="131.7" y1="562.5" y2="568.5" stroke="#000" stroke-width="3.4"/>
<text x="127.7" y="593.4" font-size="22" text-anchor="middle">−40</text>
<line x1="253.7" x2="253.7" y1="562.5" y2="568.5" stroke="#000" stroke-width="3.4"/>
<text x="249.7" y="593.4" font-size="22" text-anchor="middle">−20</text>
<line x1="375.7" x2="375.7" y1="562.5" y2="568.5" stroke="#000" stroke-width="3.4"/>
<text x="375.7" y="593.4" font-size="22" text-anchor="middle">0</text>
<line x1="497.7" x2="497.7" y1="562.5" y2="568.5" stroke="#000" stroke-width="3.4"/>
<text x="497.7" y="593.4" font-size="22" text-anchor="middle">20</text>
<line x1="619.7" x2="619.7" y1="562.5" y2="568.5" stroke="#000" stroke-width="3.4"/>
<text x="619.7" y="593.4" font-size="22" text-anchor="middle">40</text>
<text x="370.8" y="625.0" font-size="23.4" text-anchor="middle">tSNE_1</text>
<text x="48.5" y="275.0" font-size="23.4" text-anchor="middle" transform="rotate(-90 48.5 275.0)">tSNE_2</text>
<text x="124.8" y="26.0" font-size="23.4">40233 cells at resolution 2.0</text>
<text x="2.5" y="31.5" font-size="29" font-weight="bold">a</text>
<text x="1506.3" y="647.0" font-size="23.4" xml:space="preserve">deleted cluster 7 and 12 from total cells</text>
<text x="1570.4" y="780.0" font-size="23.4" xml:space="preserve">(37775 cells at resolution 2.0)</text>
<text x="1534.9" y="938.6" font-size="23.4" xml:space="preserve">filter cells: &gt;60% mitochondrial counts</text>
<text x="1596.4" y="981.0" font-size="23.4" xml:space="preserve">36277 cells at resolution 2.0</text>
<text x="1537.0" y="1148.5" font-size="23.4" xml:space="preserve">filter cells:  &gt;50% mitochondrial counts</text>
<text x="1583.0" y="1201.7" font-size="23.4" xml:space="preserve">34408 cells at resolution 2.0</text>
<text x="1538.5" y="1373.0" font-size="23.4" xml:space="preserve">filter cells: &gt;40% mitochondrial counts</text>
<text x="1584.0" y="1420.6" font-size="23.4" xml:space="preserve">30986 cells at resolution 2.0</text>
<text x="1528.7" y="1588.2" font-size="23.4" xml:space="preserve">filter cells: ngene &gt;=200 &amp; nGene &lt;=2500</text>
<text x="1605.8" y="1615.4" font-size="23.4" xml:space="preserve">log10GenesPerUMI &gt;0.7</text>
<text x="1612.0" y="1643.6" font-size="23.4" xml:space="preserve">Remove batch effect</text>
<text x="1583.0" y="1677.7" font-size="23.4" xml:space="preserve">30877 cells at resolution 2.0</text>
<line x1="1720.6" x2="1720.6" y1="663.4" y2="723.5" stroke="#E2081C" stroke-width="4.4"/><path d="M1720.6,744.1Q1713.9,729.8 1702.1,711.5L1720.6,720.6L1739.1,711.5Q1727.3,729.8 1720.6,744.1Z" fill="#E2081C"/>
<line x1="1720.6" x2="1720.6" y1="810" y2="871" stroke="#E2081C" stroke-width="4.4"/><path d="M1720.6,891.5Q1713.9,877.2 1702.1,859L1720.6,868.1L1739.1,859Q1727.3,877.2 1720.6,891.5Z" fill="#E2081C"/>
<line x1="1718.8" x2="1718.8" y1="1010.9" y2="1071.7" stroke="#E2081C" stroke-width="4.4"/><path d="M1718.8,1092.3Q1712.1,1078.0 1700.3,1059.7L1718.8,1068.8L1737.3,1059.7Q1725.5,1078.0 1718.8,1092.3Z" fill="#E2081C"/>
<line x1="1714.5" x2="1714.5" y1="1233.6" y2="1294.4" stroke="#E2081C" stroke-width="4.4"/><path d="M1714.5,1315Q1707.8,1300.7 1696.0,1282.4L1714.5,1291.5L1733.0,1282.4Q1721.2,1300.7 1714.5,1315Z" fill="#E2081C"/>
<line x1="1714" x2="1714" y1="1476" y2="1536.8" stroke="#E2081C" stroke-width="4.4"/><path d="M1714,1556.7Q1707.3,1542.8 1695.5,1524.8L1714,1533.7L1732.5,1524.8Q1720.7,1542.8 1714,1556.7Z" fill="#E2081C"/>
<text x="10.0" y="696.0" font-size="28.5" font-weight="bold">c</text>
<g stroke="#333" stroke-width="3.6" stroke-linejoin="round">
<path d="M133,712.7c0,.7 0,1.5 .2,4.3 .2,2.8 .2,8.6 .9,12.2 .7,3.6 2.2,6.3 3.3,9.2 1.2,2.9 2.6,5.2 3.6,8.2 1,3 2.3,6.7 2.4,9.6 .1,2.9 -.8,5.3 -1.9,7.6 -1.1,2.3 -3.1,4.7 -4.5,6.3 -1.4,1.6 -3.2,2.6 -3.8,3.1L131.6,773.2c-.6-.5 -2.4-1.5 -3.8-3.1 -1.4-1.6 -3.4-4 -4.5-6.3 -1.1-2.3 -2-4.7 -1.9-7.6 .1-2.9 1.4-6.6 2.4-9.6 1-3 2.5-5.3 3.6-8.2 1.1-2.9 2.6-5.6 3.3-9.2 .7-3.6 .7-9.5 .9-12.2 .2-2.8 .2-3.6 .2-4.3Z" fill="#F8766D"/>
<path d="M158.7,721.4c0,.7 0,1.4 .2,4 .2,2.6 .2,8.2 1,11.5 .8,3.3 2.3,5.8 3.5,8.5 1.2,2.7 2.8,5 3.9,7.8 1.1,2.8 2.5,6.5 2.7,8.9 .2,2.4 -.8,3.8 -1.6,5.5 -.8,1.7 -2.4,3.5 -3.4,4.6 -1,1.1 -2,1.8 -2.4,2.2L153.6,774.4c-.4-.4 -1.4-1.1 -2.4-2.2 -1-1.1 -2.6-2.9 -3.4-4.6 -.8-1.7 -1.8-3.1 -1.6-5.5 .2-2.4 1.5-6.1 2.6-8.9 1.1-2.8 2.6-5.1 3.9-7.8 1.2-2.7 2.8-5.2 3.6-8.5 .8-3.3 .8-8.9 1-11.5 .2-2.6 .2-3.3 .2-4Z" fill="#F37C58"/>
<path d="M184.4,715.4c0,.7 0,1.5 .2,4.1 .2,2.6 .2,8.1 .9,11.4 .8,3.3 2.3,5.9 3.6,8.6 1.2,2.7 2.8,4.9 3.9,7.7 1.1,2.8 2.5,6.2 2.6,9 .1,2.8 -.8,5.3 -2,7.6 -1.2,2.3 -3.4,4.7 -4.9,6.3 -1.5,1.6 -3.4,2.6 -4.1,3.1L183,773.2c-.7-.5 -2.7-1.5 -4.2-3.1 -1.5-1.6 -3.8-4 -4.9-6.3 -1.2-2.3 -2.1-4.8 -2-7.6 .1-2.8 1.5-6.2 2.6-9 1.1-2.8 2.7-5 3.9-7.7 1.2-2.7 2.8-5.3 3.6-8.6 .8-3.3 .8-8.8 1-11.4 .2-2.6 .2-3.4 .2-4.1Z" fill="#ED813E"/>
<path d="M210,720.6c0,.5 0,1.2 .2,3.3 .2,2.1 .2,6.8 1,9.5 .8,2.8 2.4,4.8 3.6,7 1.2,2.2 2.8,4.1 3.9,6.4 1.1,2.3 2.5,4.7 2.6,7.4 .1,2.7 -.8,6 -2,8.6 -1.2,2.6 -3.4,5.3 -4.9,7 -1.5,1.7 -3.5,2.8 -4.2,3.4L208.6,773.2c-.7-.6 -2.6-1.7 -4.1-3.4 -1.5-1.7 -3.8-4.4 -4.9-7 -1.2-2.6 -2.1-5.9 -2-8.6 .1-2.7 1.5-5.1 2.6-7.4 1.1-2.3 2.7-4.2 3.9-6.4 1.2-2.2 2.8-4.2 3.6-7 .8-2.8 .7-7.4 .9-9.5 .2-2.1 .2-2.7 .2-3.3Z" fill="#E68613"/>
<path d="M235.7,729.3c0,.6 0,1.2 .2,3.3 .2,2.1 .2,6.5 .9,9.2 .7,2.7 2.1,4.7 3.3,6.9 1.1,2.2 2.6,4 3.6,6.2 1,2.2 2.2,5.2 2.4,7.2 .2,2 -.6,3.5 -1.4,5 -.8,1.5 -2.3,3.1 -3.2,4.1 -.9,1 -1.8,1.7 -2.2,2L230.9,773.2c-.4-.3 -1.3-1 -2.2-2 -.9-1 -2.3-2.6 -3.1-4.1 -.8-1.5 -1.7-3 -1.5-5 .2-2 1.4-5 2.4-7.2 1-2.2 2.5-4 3.7-6.2 1.2-2.2 2.5-4.2 3.2-6.9 .7-2.7 .7-7.1 .9-9.2 .2-2.1 .2-2.8 .2-3.3Z" fill="#DE8C00"/>
<path d="M261.4,722.2c0,.7 0,1.5 .2,4.2 .2,2.6 .2,8.3 1,11.7 .8,3.4 2.2,6 3.5,8.8 1.2,2.8 2.9,5.1 4,8 1.1,2.9 2.4,6.9 2.6,9.2 .2,2.3 -.8,3.1 -1.6,4.5 -.8,1.4 -2.4,2.7 -3.4,3.6 -1,.9 -2,1.5 -2.4,1.8L256.3,774c-.4-.3 -1.4-.9 -2.4-1.8 -1-.9 -2.6-2.3 -3.4-3.6 -.8-1.4 -1.8-2.2 -1.6-4.5 .2-2.3 1.5-6.3 2.6-9.2 1.1-2.9 2.8-5.2 4-8 1.2-2.8 2.8-5.4 3.5-8.8 .8-3.4 .8-9.1 1-11.7 .2-2.6 .2-3.5 .2-4.2Z" fill="#D69100"/>
<path d="M287.1,727.3c0,.7 0,1.4 .2,3.9 .2,2.5 .2,7.7 .9,10.9 .7,3.2 2,5.5 3.2,8.1 1.2,2.6 2.7,4.7 3.7,7.4 1,2.6 2.2,6.5 2.4,8.5 .2,2 -.9,2.6 -1.2,3.7 -.3,1.1 -.3,2.3 -.8,3.1 -.5,.8 -1.8,1.2 -2.2,1.5L279.6,774.4c-.4-.2 -1.7-.7 -2.2-1.5 -.5-.8 -.5-2 -.8-3.1 -.3-1.1 -1.3-1.7 -1.1-3.7 .2-2 1.4-5.9 2.4-8.5 1-2.6 2.5-4.8 3.6-7.4 1.2-2.6 2.6-4.9 3.3-8.1 .7-3.2 .7-8.4 .9-10.9 .2-2.5 .2-3.3 .2-3.9Z" fill="#CD9600"/>
<path d="M312.8,722.2c0,.7 0,1.6 .2,4.4 .2,2.8 .1,8.7 .9,12.3 .8,3.6 2.4,6.3 3.6,9.2 1.2,2.9 2.8,5.3 3.9,8.3 1.1,3 2.4,7.6 2.6,9.7 .2,2.1 -.8,2.2 -1.2,3.2 -.4,1 -.4,2 -.9,2.6 -.6,.7 -2,1.1 -2.4,1.3L304.8,773.2c-.4-.2 -1.9-.7 -2.4-1.3 -.6-.7 -.5-1.6 -.9-2.6 -.3-1 -1.4-1 -1.2-3.2 .2-2.1 1.5-6.7 2.6-9.7 1.1-3 2.7-5.4 3.9-8.3 1.2-2.9 2.8-5.6 3.6-9.2 .8-3.6 .8-9.5 1-12.3 .2-2.8 .2-3.7 .2-4.4Z" fill="#C29A00"/>
<path d="M338.4,724.1c0,.6 0,1.2 .2,3.4 .2,2.2 .2,6.8 1,9.6 .8,2.8 2.3,4.8 3.6,7.1 1.2,2.3 2.8,4.2 3.9,6.5 1.1,2.3 2.4,5.2 2.6,7.5 .2,2.3 -.8,4.5 -1.6,6.4 -.8,1.9 -2.5,3.9 -3.4,5.2 -1,1.3 -1.9,2.2 -2.3,2.6L333.3,772.4c-.4-.4 -1.4-1.3 -2.3-2.6 -.9-1.3 -2.6-3.3 -3.4-5.2 -.8-1.9 -1.8-4.1 -1.6-6.4 .2-2.3 1.5-5.2 2.6-7.5 1.1-2.3 2.6-4.2 3.9-6.5 1.2-2.3 2.9-4.3 3.6-7.1 .8-2.8 .7-7.4 .9-9.6 .2-2.2 .2-2.8 .2-3.4Z" fill="#B79F00"/>
<path d="M364.1,730.1c0,.5 0,1.2 .2,3.2 .2,2 .2,6.4 1,9 .8,2.6 2.3,4.6 3.6,6.7 1.2,2.1 2.8,3.9 3.9,6.1 1.1,2.2 2.4,4.9 2.6,7 .2,2.1 -.8,3.8 -1.6,5.4 -.8,1.6 -2.4,3.2 -3.4,4.3 -1,1.1 -2,1.8 -2.4,2.2L359,774c-.4-.4 -1.4-1.1 -2.4-2.2 -1-1.1 -2.6-2.7 -3.4-4.3 -.8-1.6 -1.8-3.3 -1.6-5.4 .2-2.1 1.6-4.8 2.7-7 1.1-2.2 2.7-4 3.9-6.1 1.2-2.1 2.8-4.1 3.5-6.7 .8-2.6 .8-7 1-9 .2-2 .2-2.7 .2-3.2Z" fill="#ABA300"/>
<path d="M389.8,733.2c0,.5 0,1.1 .2,3.1 .2,2 .2,6.2 .9,8.7 .7,2.5 2.2,4.5 3.3,6.5 1.2,2 2.6,3.7 3.6,5.8 1,2.1 2.2,5 2.4,6.8 .1,1.8 -.7,2.9 -1.5,4.1 -.8,1.2 -2.2,2.5 -3.1,3.3 -.9,.8 -1.8,1.4 -2.2,1.7L385,773.2c-.4-.3 -1.3-.9 -2.2-1.7 -.9-.8 -2.3-2.1 -3.1-3.3 -.8-1.2 -1.7-2.3 -1.5-4.1 .2-1.8 1.4-4.7 2.4-6.8 1-2.1 2.4-3.7 3.6-5.8 1.1-2 2.6-4 3.3-6.5 .7-2.5 .7-6.7 .9-8.7 .2-2 .2-2.6 .2-3.1Z" fill="#9DA700"/>
<path d="M415.5,710.3c.8,1.2 2.8,4.7 4.7,7.4 1.9,2.7 6.1,5.1 6.6,9 .5,3.9 -2,8.7 -3.4,14.2 -1.4,5.5 -3.9,13.4 -5.2,18.9 -1.3,5.5 -2.1,11.8 -2.5,14.2L414.1,774c-.4-2.4 -1.2-8.7 -2.5-14.2 -1.3-5.5 -3.9-13.4 -5.3-18.9 -1.4-5.5 -3.8-10.3 -3.3-14.2 .5-3.9 4.6-6.3 6.5-9 1.9-2.7 4-6.2 4.8-7.4Z" fill="#8EAB00"/>
<path d="M441.2,724.1c0,.7 0,1.5 .2,4.2 .2,2.7 .2,8.4 .9,11.8 .8,3.4 2.3,6 3.6,8.8 1.2,2.8 2.8,5.1 3.9,8 1.1,2.9 2.4,7.2 2.6,9.2 .2,2 -.8,1.9 -1.2,2.8 -.3,.9 -.3,1.8 -.9,2.4 -.6,.6 -2,.9 -2.4,1.1L433.2,772.4c-.4-.2 -1.8-.5 -2.4-1.1 -.6-.6 -.6-1.5 -.9-2.4 -.4-.9 -1.4-.8 -1.2-2.8 .2-2 1.5-6.3 2.6-9.2 1.1-2.9 2.6-5.2 3.9-8 1.2-2.8 2.8-5.4 3.6-8.8 .8-3.4 .8-9.1 1-11.8 .2-2.7 .2-3.5 .2-4.2Z" fill="#7CAE00"/>
<path d="M466.8,717.4c0,.8 0,1.7 .2,4.7 .2,3 .2,9.3 1,13.1 .8,3.8 2.4,6.7 3.6,9.8 1.2,3.1 2.8,5.6 3.9,8.8 1.1,3.2 2.4,8 2.6,10.3 .2,2.3 -.9,2.6 -1.2,3.7 -.4,1.1 -.3,2.3 -.9,3.1 -.5,.8 -2,1.2 -2.4,1.5L458.9,772.4c-.4-.2 -1.8-.7 -2.4-1.5 -.5-.8 -.5-2 -.9-3.1 -.4-1.1 -1.4-1.4 -1.2-3.7 .2-2.3 1.5-7.1 2.6-10.3 1.1-3.2 2.6-5.7 3.9-8.8 1.2-3.1 2.9-6 3.6-9.8 .8-3.8 .7-10.1 .9-13.1 .2-3 .2-3.9 .2-4.7Z" fill="#66B200"/>
<path d="M492.5,726.5c0,.5 0,1.2 .2,3.2 .2,2 .2,6.3 .9,8.9 .7,2.6 2.1,4.5 3.3,6.6 1.1,2.1 2.6,3.8 3.6,6 1,2.2 2.2,4.7 2.4,7 .2,2.3 -.6,4.6 -1.4,6.7 -.8,2 -2.3,4.2 -3.2,5.6 -.9,1.4 -1.8,2.3 -2.2,2.7L487.7,773.2c-.4-.5 -1.3-1.3 -2.2-2.7 -.9-1.4 -2.3-3.6 -3.1-5.6 -.8-2 -1.7-4.4 -1.5-6.7 .2-2.3 1.4-4.8 2.4-7 1-2.2 2.5-3.9 3.7-6 1.1-2.1 2.5-4 3.2-6.6 .7-2.6 .7-6.9 .9-8.9 .2-2 .2-2.7 .2-3.2Z" fill="#49B500"/>
<path d="M518.2,712.7c0,.8 0,1.8 .2,4.9 .2,3.1 .2,9.8 .9,13.9 .7,4 2.2,7.1 3.3,10.4 1.2,3.3 2.6,6 3.6,9.4 1,3.4 2.2,8.1 2.4,10.8 .1,2.7 -.7,3.8 -1.5,5.4 -.8,1.6 -2.2,3.2 -3.1,4.3 -.9,1.1 -1.8,1.8 -2.2,2.2L513.4,774c-.4-.4 -1.3-1.1 -2.2-2.2 -.9-1.1 -2.3-2.7 -3.1-4.3 -.8-1.6 -1.6-2.7 -1.5-5.4 .1-2.7 1.4-7.4 2.4-10.8 1-3.4 2.5-6.1 3.6-9.4 1.1-3.3 2.6-6.3 3.3-10.4 .7-4 .7-10.8 .9-13.9 .2-3.1 .2-4.1 .2-4.9Z" fill="#0CB702"/>
<path d="M543.9,721.4c0,.7 0,1.4 .2,4 .2,2.6 .2,8.2 .9,11.5 .7,3.3 2.1,5.8 3.2,8.5 1.1,2.7 2.7,5 3.7,7.8 1,2.8 2.2,6.6 2.4,8.9 .1,2.3 -.7,3.5 -1.5,5 -.8,1.5 -2.2,3.1 -3.1,4.1 -.9,1 -1.8,1.7 -2.2,2L539.1,773.2c-.4-.3 -1.3-1 -2.2-2 -.9-1 -2.4-2.6 -3.2-4.1 -.8-1.5 -1.6-2.7 -1.4-5 .2-2.3 1.4-6.1 2.4-8.9 1-2.8 2.4-5.1 3.6-7.8 1.1-2.7 2.6-5.2 3.3-8.5 .7-3.3 .7-8.9 .9-11.5 .2-2.6 .2-3.3 .2-4Z" fill="#00BA38"/>
<path d="M569.6,719.4c0,.7 0,1.6 .2,4.3 .2,2.7 .2,8.4 .9,11.9 .8,3.5 2.3,6.1 3.6,9 1.2,2.9 2.8,5.2 3.9,8.1 1.1,2.9 2.4,6.9 2.6,9.4 .2,2.5 -.8,3.8 -1.6,5.4 -.8,1.6 -2.5,3.2 -3.4,4.3 -1,1.1 -1.9,1.8 -2.3,2.2L564.4,774c-.4-.4 -1.3-1.1 -2.3-2.2 -.9-1.1 -2.6-2.7 -3.4-4.3 -.8-1.6 -1.8-2.9 -1.6-5.4 .2-2.5 1.5-6.5 2.6-9.4 1.1-2.9 2.6-5.3 3.9-8.1 1.2-2.9 2.8-5.5 3.6-9 .8-3.5 .8-9.2 1-11.9 .2-2.7 .2-3.6 .2-4.3Z" fill="#00BC52"/>
<path d="M595.2,727.3c0,.7 0,1.5 .2,4.1 .2,2.6 .2,8.1 1,11.4 .8,3.3 2.4,5.9 3.6,8.6 1.2,2.7 2.8,4.9 3.9,7.7 1.1,2.8 2.4,7.1 2.6,9 .2,1.9 -.9,1.8 -1.2,2.6 -.4,.8 -.3,1.6 -.9,2.2 -.5,.5 -2,.9 -2.4,1.1L587.3,774c-.4-.2 -1.8-.6 -2.4-1.1 -.5-.5 -.5-1.4 -.9-2.2 -.4-.8 -1.4-.7 -1.2-2.6 .2-1.9 1.5-6.2 2.6-9 1.1-2.8 2.6-5 3.9-7.7 1.2-2.7 2.9-5.3 3.6-8.6 .8-3.3 .7-8.8 .9-11.4 .2-2.6 .2-3.4 .2-4.1Z" fill="#00BE67"/>
<path d="M620.9,710.3c0,.6 0,2.7 .2,3.6 .2,.9 .2,.3 1,1.8 .8,1.5 2.4,4 3.6,7 1.2,3 2.8,7 3.9,10.9 1.1,3.9 2.5,8.6 2.6,12.7 .1,4.1 -1,8.4 -2.1,12.1 -1.2,3.7 -3.3,7.4 -4.8,9.9 -1.5,2.5 -3.5,4.1 -4.2,4.9L619.5,773.2c-.7-.8 -2.7-2.4 -4.2-4.9 -1.5-2.5 -3.6-6.2 -4.8-9.9 -1.1-3.7 -2.2-8 -2.1-12.1 .1-4.1 1.6-8.8 2.7-12.7 1.1-3.9 2.7-7.9 3.9-10.9 1.2-3 2.8-5.5 3.5-7 .8-1.5 .8-.9 1-1.8 .2-.9 .2-3 .2-3.6Z" fill="#00BF7A"/>
<path d="M646.6,722.2c0,.7 0,1.5 .2,4 .2,2.5 .2,7.9 .9,11.2 .7,3.3 2.1,5.7 3.3,8.4 1.1,2.6 2.6,4.8 3.6,7.5 1,2.7 2.2,6.6 2.4,8.8 .1,2.2 -.7,3.3 -1.5,4.7 -.8,1.4 -2.2,2.8 -3.1,3.7 -.9,.9 -1.8,1.6 -2.2,1.9L641.8,772.4c-.4-.3 -1.3-1 -2.2-1.9 -.9-.9 -2.3-2.3 -3.1-3.7 -.8-1.4 -1.6-2.4 -1.5-4.7 .1-2.2 1.4-6.1 2.4-8.8 1-2.7 2.5-4.9 3.6-7.5 1.1-2.6 2.6-5.1 3.3-8.4 .7-3.3 .7-8.7 .9-11.2 .2-2.5 .2-3.3 .2-4Z" fill="#00C08B"/>
<path d="M672.3,727.3c0,.8 0,1.7 .2,4.5 .2,2.8 .2,8.8 1,12.5 .8,3.7 2.3,6.4 3.5,9.4 1.2,3 2.8,5.5 3.9,8.5 1.1,3 2.5,8 2.7,9.8 .2,1.8 -.9,.6 -1.3,.9 -.4,.3 -.3,.5 -.9,.7 -.5,.2 -2,.3 -2.4,.4L664.3,774c-.4-.1 -1.9-.2 -2.4-.4 -.5-.2 -.4-.4 -.8-.7 -.4-.3 -1.5,.9 -1.3-.9 .2-1.8 1.5-6.7 2.6-9.8 1.1-3 2.6-5.5 3.9-8.5 1.2-3 2.8-5.8 3.6-9.4 .8-3.7 .8-9.7 1-12.5 .2-2.8 .2-3.8 .2-4.5Z" fill="#00C19A"/>
<path d="M698,717.4c0,.8 0,1.7 .2,4.5 .2,2.8 .1,8.9 .9,12.5 .8,3.6 2.4,6.4 3.6,9.4 1.2,3 2.8,5.4 3.9,8.5 1.1,3.1 2.4,7.4 2.6,9.8 .2,2.4 -.8,3.3 -1.6,4.7 -.8,1.4 -2.4,2.8 -3.4,3.7 -1,.9 -1.9,1.6 -2.3,1.9L692.8,772.4c-.4-.3 -1.3-1 -2.3-1.9 -.9-.9 -2.6-2.3 -3.4-3.7 -.8-1.4 -1.8-2.3 -1.6-4.7 .2-2.4 1.5-6.8 2.6-9.8 1.1-3.1 2.6-5.5 3.9-8.5 1.2-3 2.8-5.7 3.6-9.4 .8-3.6 .8-9.7 1-12.5 .2-2.8 .2-3.8 .2-4.5Z" fill="#00C1A9"/>
<path d="M723.6,733.2c0,.5 0,1.2 .2,3.3 .2,2.1 .2,6.5 .9,9.2 .7,2.7 2.1,4.7 3.3,6.9 1.1,2.2 2.6,4 3.6,6.3 1,2.2 2.3,5.5 2.5,7.2 .2,1.7 -.9,2.2 -1.2,3.2 -.3,1 -.3,2 -.8,2.6 -.5,.7 -1.8,1.1 -2.2,1.3L716.2,773.2c-.4-.2 -1.7-.7 -2.2-1.3 -.5-.7 -.5-1.6 -.8-2.6 -.3-1 -1.4-1.5 -1.2-3.2 .2-1.7 1.4-5 2.4-7.2 1-2.2 2.6-4.1 3.7-6.3 1.1-2.2 2.5-4.2 3.2-6.9 .7-2.7 .7-7.1 .9-9.2 .2-2.1 .2-2.7 .2-3.3Z" fill="#00C0B7"/>
<path d="M749.3,736.4c0,.5 0,1.1 .2,2.8 .2,1.8 .2,5.4 .9,7.7 .7,2.3 2.2,4 3.3,5.9 1.1,1.9 2.6,3.3 3.6,5.2 1,1.9 2.2,4.5 2.4,6.1 .2,1.6 -.8,2.6 -1.1,3.7 -.3,1.1 -.3,2.3 -.8,3.1 -.5,.8 -1.8,1.2 -2.2,1.5L741.9,772.4c-.4-.2 -1.7-.7 -2.2-1.5 -.5-.8 -.5-2 -.8-3.1 -.3-1.1 -1.4-2.1 -1.2-3.7 .2-1.6 1.4-4.2 2.4-6.1 1-1.9 2.5-3.4 3.7-5.2 1.1-1.9 2.5-3.6 3.2-5.9 .7-2.3 .7-5.9 .9-7.7 .2-1.8 .2-2.3 .2-2.8Z" fill="#00BFC4"/>
<path d="M775,733.2c0,.5 0,1.1 .2,3.1 .2,2 .2,6.2 .9,8.7 .7,2.5 2.1,4.5 3.3,6.5 1.1,2 2.6,3.7 3.6,5.8 1,2.1 2.2,5 2.4,6.8 .1,1.8 -.7,2.9 -1.5,4.1 -.8,1.2 -2.2,2.5 -3.1,3.3 -.9,.8 -1.8,1.4 -2.2,1.7L770.2,773.2c-.4-.3 -1.3-.9 -2.2-1.7 -.9-.8 -2.3-2.1 -3.1-3.3 -.8-1.2 -1.6-2.3 -1.5-4.1 .1-1.8 1.4-4.7 2.4-6.8 1-2.1 2.5-3.7 3.6-5.8 1.2-2 2.6-4 3.3-6.5 .7-2.5 .7-6.7 .9-8.7 .2-2 .2-2.6 .2-3.1Z" fill="#00BDD1"/>
<path d="M800.7,722.2c0,.7 0,1.5 .2,4.2 .2,2.6 .2,8.3 1,11.7 .8,3.4 2.3,6 3.5,8.8 1.2,2.8 2.8,5.1 3.9,8 1.1,2.9 2.5,6.9 2.7,9.2 .2,2.3 -.8,3.1 -1.6,4.5 -.8,1.4 -2.4,2.7 -3.4,3.6 -1,.9 -2,1.5 -2.4,1.8L795.6,774c-.4-.3 -1.4-.9 -2.4-1.8 -1-.9 -2.6-2.3 -3.4-3.6 -.8-1.4 -1.8-2.2 -1.6-4.5 .2-2.3 1.5-6.3 2.6-9.2 1.1-2.9 2.7-5.2 3.9-8 1.2-2.8 2.8-5.4 3.6-8.8 .8-3.4 .8-9.1 1-11.7 .2-2.6 .2-3.5 .2-4.2Z" fill="#00BBDC"/>
<path d="M826.4,712.7c0,.6 0,1.4 .2,3.9 .2,2.5 .1,7.9 .9,11.1 .8,3.2 2.4,5.7 3.6,8.3 1.2,2.6 2.8,4.8 3.9,7.5 1.1,2.7 2.5,5.8 2.6,8.8 .1,3 -.9,6.6 -2,9.4 -1.1,2.9 -3.4,5.8 -4.9,7.7 -1.5,1.9 -3.4,3.2 -4.1,3.8L825,773.2c-.7-.6 -2.7-1.9 -4.2-3.8 -1.5-1.9 -3.7-4.8 -4.9-7.7 -1.1-2.9 -2.1-6.4 -2-9.4 .1-3 1.5-6.1 2.6-8.8 1.1-2.7 2.6-4.9 3.9-7.5 1.2-2.6 2.8-5.1 3.6-8.3 .8-3.2 .8-8.6 1-11.1 .2-2.5 .2-3.2 .2-3.9Z" fill="#00B8E7"/>
<path d="M852,716.6c0,.6 0,1.4 .2,3.8 .2,2.4 .2,7.4 1,10.5 .8,3.1 2.3,5.4 3.6,7.9 1.2,2.5 2.8,4.6 3.9,7.2 1.1,2.6 2.5,5.4 2.6,8.2 .1,2.9 -.9,6.2 -2,8.9 -1.1,2.7 -3.4,5.5 -4.9,7.3 -1.5,1.8 -3.5,3 -4.2,3.6L850.6,774c-.7-.6 -2.6-1.8 -4.1-3.6 -1.5-1.8 -3.7-4.6 -4.9-7.3 -1.1-2.7 -2.1-6 -2-8.9 .1-2.9 1.5-5.6 2.6-8.2 1.1-2.6 2.6-4.7 3.9-7.2 1.2-2.5 2.9-4.8 3.6-7.9 .8-3.1 .7-8.1 .9-10.5 .2-2.4 .2-3.2 .2-3.8Z" fill="#00B4F0"/>
<path d="M877.7,724.5c0,.7 0,1.6 .2,4.2 .2,2.6 .2,8.2 1,11.6 .8,3.4 2.4,6 3.6,8.8 1.2,2.8 2.8,5.1 3.9,7.9 1.1,2.8 2.4,7.1 2.6,9.1 .2,2 -.9,2.2 -1.3,3.2 -.4,1 -.3,2 -.8,2.6 -.5,.7 -2,1.1 -2.4,1.3L869.8,773.2c-.4-.2 -1.8-.7 -2.4-1.3 -.5-.7 -.5-1.6 -.9-2.6 -.4-1 -1.5-1.1 -1.3-3.2 .2-2 1.6-6.3 2.7-9.1 1.1-2.8 2.7-5.1 3.9-7.9 1.2-2.8 2.8-5.4 3.5-8.8 .8-3.4 .8-9 1-11.6 .2-2.6 .2-3.5 .2-4.2Z" fill="#00AFF8"/>
<path d="M903.4,742c0,.4 0,1 .2,2.6 .2,1.6 .2,5.2 .9,7.3 .7,2.1 2.1,3.8 3.3,5.5 1.1,1.7 2.6,3.1 3.6,4.9 1,1.8 2.2,4.5 2.4,5.8 .2,1.4 -.8,1.6 -1.1,2.3 -.3,.7 -.4,1.4 -.9,1.9 -.5,.5 -1.8,.8 -2.2,.9L896,773.2c-.4-.2 -1.7-.4 -2.2-.9 -.5-.5 -.6-1.2 -.9-1.9 -.3-.7 -1.3-.9 -1.1-2.3 .2-1.4 1.4-4 2.4-5.8 1-1.8 2.4-3.2 3.6-4.9 1.1-1.7 2.6-3.4 3.3-5.5 .7-2.1 .7-5.6 .9-7.3 .2-1.6 .2-2.2 .2-2.6Z" fill="#00A9FF"/>
<path d="M929.1,708.7c0,.9 0,1.9 .2,5.2 .2,3.3 .2,10.2 1,14.4 .8,4.2 2.3,7.4 3.5,10.8 1.2,3.4 2.8,6.2 3.9,9.7 1.1,3.5 2.5,8.5 2.7,11.4 .2,2.9 -.8,4.3 -1.6,6.2 -.8,1.9 -2.4,3.8 -3.4,5.1 -1,1.3 -2,2.1 -2.4,2.5L924,774c-.4-.4 -1.4-1.2 -2.4-2.5 -1-1.3 -2.6-3.2 -3.4-5.1 -.8-1.9 -1.8-3.3 -1.6-6.2 .2-2.9 1.5-7.9 2.6-11.4 1.1-3.5 2.6-6.3 3.9-9.7 1.2-3.4 2.8-6.6 3.6-10.8 .8-4.2 .8-11.1 1-14.4 .2-3.3 .2-4.3 .2-5.2Z" fill="#22A3FF"/>
<path d="M954.8,731.3c0,.5 0,1.2 .2,3.1 .2,2 .2,6.1 .9,8.6 .7,2.5 2.1,4.4 3.2,6.5 1.1,2.1 2.7,3.8 3.7,5.9 1,2.1 2.3,4.9 2.4,6.7 .2,1.8 -.7,2.9 -1.5,4.1 -.8,1.2 -2.2,2.6 -3.1,3.4 -.9,.8 -1.9,1.3 -2.3,1.6L950,771.2c-.4-.3 -1.3-.8 -2.2-1.6 -.9-.8 -2.4-2.1 -3.2-3.4 -.8-1.2 -1.7-2.3 -1.5-4.1 .2-1.8 1.5-4.6 2.5-6.7 1-2.1 2.5-3.8 3.6-5.9 1.1-2.1 2.6-4 3.3-6.5 .7-2.5 .7-6.7 .9-8.6 .2-2 .2-2.6 .2-3.1Z" fill="#619CFF"/>
<path d="M980.4,716.6c0,.8 0,1.9 .2,5 .2,3.1 .2,9.8 1,13.8 .8,4 2.4,7.1 3.6,10.4 1.2,3.3 2.8,6 3.9,9.4 1.1,3.4 2.4,8.5 2.6,10.9 .2,2.3 -.9,2.2 -1.2,3.2 -.4,1 -.3,2 -.9,2.6 -.5,.7 -2,1.1 -2.4,1.3L972.5,773.2c-.4-.2 -1.8-.7 -2.4-1.3 -.5-.7 -.5-1.6 -.9-2.6 -.4-1 -1.4-.8 -1.2-3.2 .2-2.3 1.5-7.5 2.6-10.9 1.1-3.4 2.6-6.1 3.9-9.4 1.2-3.3 2.9-6.4 3.6-10.4 .8-4 .7-10.7 .9-13.8 .2-3.1 .2-4.2 .2-5Z" fill="#8494FF"/>
<path d="M1006.1,725.3c0,.5 0,1.1 .2,3.1 .2,2 .2,6.2 .9,8.7 .7,2.5 2.1,4.3 3.3,6.4 1.1,2 2.6,3.8 3.6,5.9 1,2.1 2.2,4.5 2.4,6.8 .2,2.3 -.6,4.7 -1.4,6.8 -.8,2 -2.3,4.1 -3.2,5.5 -.9,1.4 -1.8,2.3 -2.2,2.7L1001.3,771.2c-.4-.5 -1.3-1.3 -2.2-2.7 -.9-1.4 -2.3-3.5 -3.1-5.5 -.8-2 -1.6-4.5 -1.5-6.8 .1-2.3 1.4-4.7 2.4-6.8 1-2.1 2.6-3.8 3.7-5.9 1.1-2 2.5-3.9 3.2-6.4 .7-2.5 .7-6.7 .9-8.7 .2-2 .2-2.6 .2-3.1Z" fill="#9F8CFF"/>
<path d="M1031.8,710.3c0,.7 0,3 .2,4 .2,1 .2,.9 .9,2 .7,1.1 2.1,1.5 3.3,4.5 1.1,3 2.6,8.7 3.6,13.6 1,4.9 2.3,11.5 2.4,15.9 .1,4.4 -.8,7.4 -1.9,10.6 -1.1,3.2 -3.1,6.6 -4.5,8.8 -1.4,2.2 -3.2,3.6 -3.8,4.3L1030.4,774c-.6-.7 -2.4-2.1 -3.8-4.3 -1.4-2.2 -3.4-5.6 -4.5-8.8 -1.1-3.2 -2-6.2 -1.9-10.6 .1-4.4 1.4-11 2.4-15.9 1-4.9 2.5-10.6 3.6-13.6 1.1-3 2.6-3.4 3.3-4.5 .7-1.1 .7-1 .9-2 .2-1 .2-3.3 .2-4Z" fill="#B584FF"/>
<path d="M1057.5,729.3c0,.6 0,1.4 .2,3.7 .2,2.3 .2,7.3 .9,10.3 .7,3 2.1,5.3 3.2,7.7 1.2,2.5 2.7,4.5 3.7,7 1,2.5 2.2,6.3 2.4,8.1 .2,1.8 -.9,1.9 -1.2,2.8 -.3,.9 -.3,1.8 -.8,2.4 -.5,.6 -1.8,.9 -2.2,1.1L1050,772.4c-.4-.2 -1.7-.5 -2.2-1.1 -.5-.6 -.5-1.5 -.8-2.4 -.3-.9 -1.3-1 -1.1-2.8 .2-1.8 1.4-5.6 2.4-8.1 1-2.5 2.5-4.5 3.6-7 1.2-2.5 2.6-4.7 3.3-7.7 .7-3 .7-8 .9-10.3 .2-2.3 .2-3.1 .2-3.7Z" fill="#C77CFF"/>
<path d="M1083.2,735.2c0,.5 0,1.2 .2,3.3 .2,2.1 .2,6.5 .9,9.2 .7,2.7 2.1,4.7 3.2,6.9 1.2,2.2 2.7,4 3.7,6.3 1,2.2 2.2,5.6 2.4,7.2 .2,1.6 -.9,1.6 -1.2,2.3 -.3,.7 -.3,1.4 -.8,1.9 -.5,.5 -1.8,.8 -2.2,.9L1075.7,773.2c-.4-.2 -1.7-.4 -2.2-.9 -.5-.5 -.5-1.2 -.8-1.9 -.3-.7 -1.4-.7 -1.2-2.3 .2-1.6 1.5-5 2.5-7.2 1-2.2 2.4-4.1 3.6-6.3 1.2-2.2 2.6-4.2 3.3-6.9 .7-2.7 .7-7.1 .9-9.2 .2-2.1 .2-2.7 .2-3.3Z" fill="#D674FD"/>
<path d="M1108.8,744.3c0,.4 0,.9 .2,2.5 .2,1.6 .2,5 .9,7 .7,2 2.1,3.5 3.3,5.2 1.1,1.7 2.6,3.1 3.6,4.8 1,1.7 2.3,4.3 2.5,5.5 .2,1.2 -.9,1 -1.2,1.4 -.3,.4 -.3,.8 -.8,1.1 -.5,.3 -1.8,.5 -2.2,.6L1101.4,772.4c-.4-.1 -1.7-.3 -2.2-.6 -.5-.3 -.5-.7 -.8-1.1 -.3-.4 -1.4-.3 -1.2-1.4 .2-1.2 1.4-3.8 2.4-5.5 1-1.7 2.6-3.1 3.7-4.8 1.2-1.7 2.5-3.2 3.2-5.2 .7-2 .7-5.4 .9-7 .2-1.6 .2-2.1 .2-2.5Z" fill="#E36EF6"/>
<path d="M1134.5,708.7c0,.8 0,1.8 .2,4.8 .2,3 .2,9.4 1,13.3 .8,3.9 2.3,6.7 3.6,9.9 1.2,3.2 2.8,5.8 3.9,9.1 1.1,3.2 2.4,7.5 2.6,10.4 .2,3 -.8,5.1 -1.6,7.3 -.8,2.2 -2.4,4.5 -3.4,6 -1,1.5 -2,2.4 -2.4,2.9L1129.4,772.4c-.4-.5 -1.4-1.4 -2.4-2.9 -1-1.5 -2.6-3.8 -3.4-6 -.8-2.2 -1.8-4.3 -1.6-7.3 .2-3 1.6-7.2 2.7-10.4 1.1-3.2 2.7-5.9 3.9-9.1 1.2-3.2 2.8-6 3.5-9.9 .8-3.9 .8-10.3 1-13.3 .2-3 .2-4 .2-4.8Z" fill="#ED68ED"/>
<path d="M1160.2,742c0,.5 0,1.1 .2,3 .2,1.9 .2,5.9 1,8.4 .8,2.5 2.2,4.3 3.5,6.3 1.2,2 2.9,3.6 4,5.7 1.1,2 2.4,5.4 2.6,6.6 .2,1.2 -.9,.3 -1.3,.5 -.4,.2 -.4,.4 -.9,.5 -.5,.1 -1.9,.2 -2.3,.2L1152.2,773.2c-.4,0 -1.8-.1 -2.3-.2 -.5-.1 -.5-.3 -.9-.5 -.4-.2 -1.5,.7 -1.3-.5 .2-1.2 1.5-4.6 2.6-6.6 1.1-2 2.8-3.7 4-5.7 1.2-2 2.8-3.9 3.5-6.3 .8-2.5 .8-6.5 1-8.4 .2-1.9 .2-2.5 .2-3Z" fill="#F564E3"/>
<path d="M1185.9,720.6c0,.8 0,1.7 .2,4.7 .2,3 .2,9.4 1,13.3 .8,3.9 2.3,6.8 3.5,10 1.2,3.2 2.8,5.8 3.9,9 1.1,3.2 2.5,8.4 2.7,10.5 .2,2.1 -.9,1.6 -1.3,2.3 -.4,.7 -.4,1.4 -.9,1.9 -.6,.5 -2,.8 -2.4,.9L1177.9,773.2c-.4-.2 -1.9-.4 -2.4-.9 -.5-.5 -.4-1.2 -.8-1.9 -.3-.7 -1.5-.2 -1.3-2.3 .2-2.1 1.5-7.2 2.6-10.5 1.1-3.2 2.7-5.8 3.9-9 1.2-3.2 2.8-6.1 3.6-10 .8-3.9 .8-10.3 1-13.3 .2-3 .2-3.9 .2-4.7Z" fill="#FB61D8"/>
<path d="M1211.6,727.3c0,.8 0,1.7 .2,4.5 .2,2.8 .2,8.8 .9,12.5 .7,3.7 2.1,6.4 3.2,9.4 1.1,3 2.7,5.5 3.7,8.5 1,3 2.2,8.1 2.4,9.8 .2,1.7 -.9,.3 -1.2,.5 -.3,.2 -.3,.4 -.8,.5 -.5,.1 -1.8,.2 -2.2,.2L1204.1,773.2c-.4,0 -1.7-.1 -2.2-.2 -.5-.1 -.5-.3 -.8-.5 -.3-.2 -1.4,1.2 -1.2-.5 .2-1.7 1.5-6.7 2.5-9.8 1-3 2.4-5.5 3.6-8.5 1.1-3 2.6-5.8 3.3-9.4 .7-3.7 .7-9.7 .9-12.5 .2-2.8 .2-3.8 .2-4.5Z" fill="#FF61CC"/>
<path d="M1237.2,744.3c0,.5 0,1 .2,2.8 .2,1.8 .2,5.5 1,7.8 .8,2.3 2.3,4 3.6,5.8 1.2,1.8 2.8,3.3 3.9,5.2 1.1,1.9 2.4,5 2.6,6.1 .2,1.1 -.9,.3 -1.2,.5 -.3,.2 -.3,.4 -.9,.5 -.5,.1 -2,.2 -2.4,.2L1229.3,773.2c-.4,0 -1.8-.1 -2.4-.2 -.5-.1 -.6-.3 -.9-.5 -.4-.2 -1.4,.6 -1.2-.5 .2-1.1 1.5-4.2 2.6-6.1 1.1-1.9 2.6-3.4 3.9-5.2 1.2-1.8 2.9-3.5 3.6-5.8 .8-2.3 .7-6 .9-7.8 .2-1.8 .2-2.3 .2-2.8Z" fill="#FF62BF"/>
<path d="M1264.1,743.1c.2,.4 .8,1.1 1.4,2.1 .6,1 1.4,2.3 2.4,3.9 1,1.6 2.5,2.4 3.5,5.7 1,3.3 2.5,11.5 2.8,14.2 .2,2.7 -.9,1.3 -1.3,1.9 -.4,.6 -.3,1.1 -.8,1.5 -.5,.4 -2,.7 -2.4,.8L1255,773.2c-.4-.1 -1.9-.4 -2.4-.8 -.5-.4 -.5-.9 -.9-1.5 -.4-.6 -1.5,.8 -1.3-1.9 .2-2.7 1.7-10.9 2.8-14.2 1.1-3.3 2.6-4.1 3.6-5.7 1-1.6 1.8-2.9 2.4-3.9 .6-1 1.1-1.8 1.3-2.1Z" fill="#FF64B0"/>
<path d="M1288.6,752.2c0,.3 0,.7 .2,2 .2,1.3 .2,4 .9,5.6 .7,1.6 2.1,2.8 3.3,4.1 1.1,1.3 2.6,2.5 3.6,3.8 1,1.4 2.2,3.6 2.4,4.3 .2,.7 -.8-.2 -1.1-.3 -.3-.1 -.4-.3 -.9-.4 -.5-.1 -1.8-.1 -2.2-.1L1281.2,771.2c-.4,0 -1.7,0 -2.2,.1 -.5,.1 -.6,.3 -.9,.4 -.3,.1 -1.3,1 -1.1,.3 .2-.7 1.4-2.9 2.4-4.3 1-1.4 2.4-2.5 3.6-3.8 1.1-1.3 2.6-2.5 3.3-4.1 .7-1.6 .7-4.3 .9-5.6 .2-1.3 .2-1.7 .2-2Z" fill="#FF68A1"/>
<path d="M1314.3,760.9c0,.2 0,.5 .2,1.2 .2,.7 .2,2.2 .8,3.1 .6,.9 2,1.6 3,2.3 1,.7 2.4,1.4 3.3,2.1 .9,.8 2,1.9 2.2,2.4 .2,.5 -.7,.3 -1,.5 -.3,.2 -.3,.4 -.8,.5 -.5,.1 -1.7,.2 -2,.2L1307.4,773.2c-.4,0 -1.6-.1 -2.1-.2 -.5-.1 -.4-.3 -.7-.5 -.3-.2 -1.3,0 -1.1-.5 .2-.5 1.3-1.6 2.2-2.4 .9-.8 2.3-1.4 3.4-2.1 1.1-.7 2.4-1.4 3-2.3 .6-.9 .6-2.4 .8-3.1 .2-.7 .2-1 .2-1.2Z" fill="#FF6C91"/>
<path d="M1341.1,752.2c.2,.3 .8,.9 1.4,1.7 .6,.8 1.3,2.1 2.2,3 .9,.9 2.3,.6 3.2,2.4 1,1.8 2.3,7 2.5,8.6 .2,1.6 -.9,.6 -1.2,.9 -.3,.3 -.3,.6 -.8,.8 -.5,.2 -1.8,.3 -2.2,.4L1332.5,770c-.4-.1 -1.7-.2 -2.2-.4 -.5-.2 -.5-.5 -.8-.8 -.3-.3 -1.4,.7 -1.2-.9 .2-1.6 1.5-6.8 2.5-8.6 1-1.8 2.3-1.5 3.2-2.4 .9-.9 1.6-2.2 2.2-3 .6-.8 1.2-1.4 1.4-1.7Z" fill="#FC7180"/>
</g>
<line x1="117.8" x2="117.8" y1="702.2" y2="781.5" stroke="#000" stroke-width="3.4"/>
<line x1="116.1" x2="1355.4" y1="780" y2="780" stroke="#000" stroke-width="3.4"/>
<line x1="106.5" x2="117.8" y1="703.7" y2="703.7" stroke="#000" stroke-width="3.6"/>
<text x="98.8" y="711.1" font-size="22" text-anchor="end">1.00</text>
<line x1="106.5" x2="117.8" y1="722.0" y2="722.0" stroke="#000" stroke-width="3.6"/>
<text x="98.8" y="729.4" font-size="22" text-anchor="end">0.75</text>
<line x1="106.5" x2="117.8" y1="740.5" y2="740.5" stroke="#000" stroke-width="3.6"/>
<text x="98.8" y="747.9" font-size="22" text-anchor="end">0.50</text>
<line x1="106.5" x2="117.8" y1="759.0" y2="759.0" stroke="#000" stroke-width="3.6"/>
<text x="98.8" y="766.4" font-size="22" text-anchor="end">0.25</text>
<line x1="106.5" x2="117.8" y1="777.0" y2="777.0" stroke="#000" stroke-width="3.6"/>
<text x="98.8" y="784.4" font-size="22" text-anchor="end">0.00</text>
<line x1="132.4" x2="132.4" y1="780" y2="787" stroke="#000" stroke-width="3.4"/>
<text x="142.9" y="804.0" font-size="24.5" text-anchor="end" transform="rotate(-45 142.9 804.0)">0</text>
<line x1="158.1" x2="158.1" y1="780" y2="787" stroke="#000" stroke-width="3.4"/>
<text x="168.6" y="804.0" font-size="24.5" text-anchor="end" transform="rotate(-45 168.6 804.0)">1</text>
<line x1="183.8" x2="183.8" y1="780" y2="787" stroke="#000" stroke-width="3.4"/>
<text x="194.3" y="804.0" font-size="24.5" text-anchor="end" transform="rotate(-45 194.3 804.0)">2</text>
<line x1="209.4" x2="209.4" y1="780" y2="787" stroke="#000" stroke-width="3.4"/>
<text x="219.9" y="804.0" font-size="24.5" text-anchor="end" transform="rotate(-45 219.9 804.0)">3</text>
<line x1="235.1" x2="235.1" y1="780" y2="787" stroke="#000" stroke-width="3.4"/>
<text x="245.6" y="804.0" font-size="24.5" text-anchor="end" transform="rotate(-45 245.6 804.0)">4</text>
<line x1="260.8" x2="260.8" y1="780" y2="787" stroke="#000" stroke-width="3.4"/>
<text x="271.3" y="804.0" font-size="24.5" text-anchor="end" transform="rotate(-45 271.3 804.0)">5</text>
<line x1="286.5" x2="286.5" y1="780" y2="787" stroke="#000" stroke-width="3.4"/>
<text x="297.0" y="804.0" font-size="24.5" text-anchor="end" transform="rotate(-45 297.0 804.0)">6</text>
<line x1="312.2" x2="312.2" y1="780" y2="787" stroke="#000" stroke-width="3.4"/>
<text x="322.7" y="804.0" font-size="24.5" text-anchor="end" transform="rotate(-45 322.7 804.0)">7</text>
<line x1="337.8" x2="337.8" y1="780" y2="787" stroke="#000" stroke-width="3.4"/>
<text x="348.3" y="804.0" font-size="24.5" text-anchor="end" transform="rotate(-45 348.3 804.0)">8</text>
<line x1="363.5" x2="363.5" y1="780" y2="787" stroke="#000" stroke-width="3.4"/>
<text x="374.0" y="804.0" font-size="24.5" text-anchor="end" transform="rotate(-45 374.0 804.0)">9</text>
<line x1="389.2" x2="389.2" y1="780" y2="787" stroke="#000" stroke-width="3.4"/>
<text x="399.7" y="804.0" font-size="24.5" text-anchor="end" transform="rotate(-45 399.7 804.0)">10</text>
<line x1="414.9" x2="414.9" y1="780" y2="787" stroke="#000" stroke-width="3.4"/>
<text x="425.4" y="804.0" font-size="24.5" text-anchor="end" transform="rotate(-45 425.4 804.0)">11</text>
<line x1="440.6" x2="440.6" y1="780" y2="787" stroke="#000" stroke-width="3.4"/>
<text x="451.1" y="804.0" font-size="24.5" text-anchor="end" transform="rotate(-45 451.1 804.0)">12</text>
<line x1="466.2" x2="466.2" y1="780" y2="787" stroke="#000" stroke-width="3.4"/>
<text x="476.7" y="804.0" font-size="24.5" text-anchor="end" transform="rotate(-45 476.7 804.0)">13</text>
<line x1="491.9" x2="491.9" y1="780" y2="787" stroke="#000" stroke-width="3.4"/>
<text x="502.4" y="804.0" font-size="24.5" text-anchor="end" transform="rotate(-45 502.4 804.0)">14</text>
<line x1="517.6" x2="517.6" y1="780" y2="787" stroke="#000" stroke-width="3.4"/>
<text x="528.1" y="804.0" font-size="24.5" text-anchor="end" transform="rotate(-45 528.1 804.0)">15</text>
<line x1="543.3" x2="543.3" y1="780" y2="787" stroke="#000" stroke-width="3.4"/>
<text x="553.8" y="804.0" font-size="24.5" text-anchor="end" transform="rotate(-45 553.8 804.0)">16</text>
<line x1="569.0" x2="569.0" y1="780" y2="787" stroke="#000" stroke-width="3.4"/>
<text x="579.5" y="804.0" font-size="24.5" text-anchor="end" transform="rotate(-45 579.5 804.0)">17</text>
<line x1="594.6" x2="594.6" y1="780" y2="787" stroke="#000" stroke-width="3.4"/>
<text x="605.1" y="804.0" font-size="24.5" text-anchor="end" transform="rotate(-45 605.1 804.0)">18</text>
<line x1="620.3" x2="620.3" y1="780" y2="787" stroke="#000" stroke-width="3.4"/>
<text x="630.8" y="804.0" font-size="24.5" text-anchor="end" transform="rotate(-45 630.8 804.0)">19</text>
<line x1="646.0" x2="646.0" y1="780" y2="787" stroke="#000" stroke-width="3.4"/>
<text x="656.5" y="804.0" font-size="24.5" text-anchor="end" transform="rotate(-45 656.5 804.0)">20</text>
<line x1="671.7" x2="671.7" y1="780" y2="787" stroke="#000" stroke-width="3.4"/>
<text x="682.2" y="804.0" font-size="24.5" text-anchor="end" transform="rotate(-45 682.2 804.0)">21</text>
<line x1="697.4" x2="697.4" y1="780" y2="787" stroke="#000" stroke-width="3.4"/>
<text x="707.9" y="804.0" font-size="24.5" text-anchor="end" transform="rotate(-45 707.9 804.0)">22</text>
<line x1="723.0" x2="723.0" y1="780" y2="787" stroke="#000" stroke-width="3.4"/>
<text x="733.5" y="804.0" font-size="24.5" text-anchor="end" transform="rotate(-45 733.5 804.0)">23</text>
<line x1="748.7" x2="748.7" y1="780" y2="787" stroke="#000" stroke-width="3.4"/>
<text x="759.2" y="804.0" font-size="24.5" text-anchor="end" transform="rotate(-45 759.2 804.0)">24</text>
<line x1="774.4" x2="774.4" y1="780" y2="787" stroke="#000" stroke-width="3.4"/>
<text x="784.9" y="804.0" font-size="24.5" text-anchor="end" transform="rotate(-45 784.9 804.0)">25</text>
<line x1="800.1" x2="800.1" y1="780" y2="787" stroke="#000" stroke-width="3.4"/>
<text x="810.6" y="804.0" font-size="24.5" text-anchor="end" transform="rotate(-45 810.6 804.0)">26</text>
<line x1="825.8" x2="825.8" y1="780" y2="787" stroke="#000" stroke-width="3.4"/>
<text x="836.3" y="804.0" font-size="24.5" text-anchor="end" transform="rotate(-45 836.3 804.0)">27</text>
<line x1="851.4" x2="851.4" y1="780" y2="787" stroke="#000" stroke-width="3.4"/>
<text x="861.9" y="804.0" font-size="24.5" text-anchor="end" transform="rotate(-45 861.9 804.0)">28</text>
<line x1="877.1" x2="877.1" y1="780" y2="787" stroke="#000" stroke-width="3.4"/>
<text x="887.6" y="804.0" font-size="24.5" text-anchor="end" transform="rotate(-45 887.6 804.0)">29</text>
<line x1="902.8" x2="902.8" y1="780" y2="787" stroke="#000" stroke-width="3.4"/>
<text x="913.3" y="804.0" font-size="24.5" text-anchor="end" transform="rotate(-45 913.3 804.0)">30</text>
<line x1="928.5" x2="928.5" y1="780" y2="787" stroke="#000" stroke-width="3.4"/>
<text x="939.0" y="804.0" font-size="24.5" text-anchor="end" transform="rotate(-45 939.0 804.0)">31</text>
<line x1="954.2" x2="954.2" y1="780" y2="787" stroke="#000" stroke-width="3.4"/>
<text x="964.7" y="804.0" font-size="24.5" text-anchor="end" transform="rotate(-45 964.7 804.0)">32</text>
<line x1="979.8" x2="979.8" y1="780" y2="787" stroke="#000" stroke-width="3.4"/>
<text x="990.3" y="804.0" font-size="24.5" text-anchor="end" transform="rotate(-45 990.3 804.0)">33</text>
<line x1="1005.5" x2="1005.5" y1="780" y2="787" stroke="#000" stroke-width="3.4"/>
<text x="1016.0" y="804.0" font-size="24.5" text-anchor="end" transform="rotate(-45 1016.0 804.0)">34</text>
<line x1="1031.2" x2="1031.2" y1="780" y2="787" stroke="#000" stroke-width="3.4"/>
<text x="1041.7" y="804.0" font-size="24.5" text-anchor="end" transform="rotate(-45 1041.7 804.0)">35</text>
<line x1="1056.9" x2="1056.9" y1="780" y2="787" stroke="#000" stroke-width="3.4"/>
<text x="1067.4" y="804.0" font-size="24.5" text-anchor="end" transform="rotate(-45 1067.4 804.0)">36</text>
<line x1="1082.6" x2="1082.6" y1="780" y2="787" stroke="#000" stroke-width="3.4"/>
<text x="1093.1" y="804.0" font-size="24.5" text-anchor="end" transform="rotate(-45 1093.1 804.0)">37</text>
<line x1="1108.2" x2="1108.2" y1="780" y2="787" stroke="#000" stroke-width="3.4"/>
<text x="1118.7" y="804.0" font-size="24.5" text-anchor="end" transform="rotate(-45 1118.7 804.0)">38</text>
<line x1="1133.9" x2="1133.9" y1="780" y2="787" stroke="#000" stroke-width="3.4"/>
<text x="1144.4" y="804.0" font-size="24.5" text-anchor="end" transform="rotate(-45 1144.4 804.0)">39</text>
<line x1="1159.6" x2="1159.6" y1="780" y2="787" stroke="#000" stroke-width="3.4"/>
<text x="1170.1" y="804.0" font-size="24.5" text-anchor="end" transform="rotate(-45 1170.1 804.0)">40</text>
<line x1="1185.3" x2="1185.3" y1="780" y2="787" stroke="#000" stroke-width="3.4"/>
<text x="1195.8" y="804.0" font-size="24.5" text-anchor="end" transform="rotate(-45 1195.8 804.0)">41</text>
<line x1="1211.0" x2="1211.0" y1="780" y2="787" stroke="#000" stroke-width="3.4"/>
<text x="1221.5" y="804.0" font-size="24.5" text-anchor="end" transform="rotate(-45 1221.5 804.0)">42</text>
<line x1="1236.6" x2="1236.6" y1="780" y2="787" stroke="#000" stroke-width="3.4"/>
<text x="1247.1" y="804.0" font-size="24.5" text-anchor="end" transform="rotate(-45 1247.1 804.0)">43</text>
<line x1="1262.3" x2="1262.3" y1="780" y2="787" stroke="#000" stroke-width="3.4"/>
<text x="1272.8" y="804.0" font-size="24.5" text-anchor="end" transform="rotate(-45 1272.8 804.0)">44</text>
<line x1="1288.0" x2="1288.0" y1="780" y2="787" stroke="#000" stroke-width="3.4"/>
<text x="1298.5" y="804.0" font-size="24.5" text-anchor="end" transform="rotate(-45 1298.5 804.0)">45</text>
<line x1="1313.7" x2="1313.7" y1="780" y2="787" stroke="#000" stroke-width="3.4"/>
<text x="1324.2" y="804.0" font-size="24.5" text-anchor="end" transform="rotate(-45 1324.2 804.0)">46</text>
<line x1="1339.4" x2="1339.4" y1="780" y2="787" stroke="#000" stroke-width="3.4"/>
<text x="1349.9" y="804.0" font-size="24.5" text-anchor="end" transform="rotate(-45 1349.9 804.0)">47</text>
<g stroke="#333" stroke-width="3.6" stroke-linejoin="round">
<path d="M134.3,924.5c.4,.4 1.6,1.1 2.4,2.1 .8,1 1.4,2.1 2.1,3.9 .7,1.8 1.3,3.1 1.9,6.8 .5,3.7 1.5,10.1 1.4,15.6 -.1,5.5 -.9,12 -1.9,17.2 -1,5.2 -3,10.6 -4.4,14.1 -1.3,3.5 -3.1,5.7 -3.7,6.8L130.5,991c-.6-1.1 -2.4-3.3 -3.7-6.8 -1.3-3.5 -3.3-8.9 -4.4-14.1 -1-5.2 -1.8-11.7 -1.9-17.2 -.1-5.5 .9-11.9 1.4-15.6 .5-3.7 1.2-5 1.9-6.8 .7-1.8 1.4-2.9 2.1-3.9 .8-1 2-1.8 2.4-2.1Z" fill="#F8766D"/>
<path d="M156.6,924.5c0,.6 0,2.9 .2,3.9 .2,1 .2,0 .8,2 .6,2 1.8,6.5 2.8,9.9 1,3.4 2.4,6.9 3.3,10.7 .9,3.9 2.1,8.4 2.2,12.4 .1,4 -.7,8 -1.7,11.5 -1,3.5 -2.9,7.1 -4.1,9.4 -1.2,2.3 -2.7,3.8 -3.3,4.6L155.2,988.9c-.6-.8 -2.1-2.3 -3.4-4.6 -1.2-2.3 -3.1-5.9 -4.1-9.4 -1-3.5 -1.8-7.5 -1.7-11.5 .1-4 1.3-8.5 2.2-12.4 .9-3.9 2.3-7.3 3.3-10.7 1-3.4 2.3-7.9 2.9-9.9 .6-2 .6-1 .8-2 .2-1 .2-3.2 .2-3.9Z" fill="#F37B59"/>
<path d="M181.2,924.5c0,.7 0,3.1 .2,4.1 .2,1 .2,0 .8,2.1 .6,2.1 1.9,6.9 2.9,10.5 1,3.6 2.4,7.2 3.3,11.3 .9,4 2.1,9.2 2.2,13 .1,3.8 -.7,6.7 -1.7,9.6 -1,2.9 -2.8,5.9 -4.1,7.9 -1.2,1.9 -2.8,3.2 -3.4,3.8L179.8,986.8c-.6-.6 -2.2-1.8 -3.4-3.8 -1.2-1.9 -3-5 -4-7.9 -1-2.9 -1.8-5.8 -1.7-9.6 .1-3.8 1.3-9 2.2-13 .9-4 2.2-7.7 3.2-11.3 1-3.6 2.3-8.4 2.9-10.5 .6-2.1 .6-1.1 .8-2.1 .2-1 .2-3.4 .2-4.1Z" fill="#ED8141"/>
<path d="M205.9,924.5c0,.5 0,2.3 .2,3.1 .2,.8 .2,0 .9,1.5 .7,1.5 2,5.1 3.1,7.8 1.1,2.7 2.6,5.4 3.6,8.4 1,3 2.3,5.6 2.4,9.7 .1,4.1 -.9,10.4 -1.9,14.9 -1,4.5 -3,9.2 -4.4,12.2 -1.3,3 -3.1,5 -3.7,6L204.5,988.1c-.6-1 -2.5-3 -3.8-6 -1.3-3 -3.3-7.7 -4.3-12.2 -1-4.5 -2-10.8 -1.9-14.9 .1-4.1 1.4-6.7 2.4-9.7 1-3 2.4-5.7 3.5-8.4 1.1-2.7 2.5-6.2 3.2-7.8 .7-1.5 .7-.7 .9-1.5 .2-.8 .2-2.6 .2-3.1Z" fill="#E7861B"/>
<path d="M230.5,924.5c0,.6 0,2.6 .2,3.5 .2,.9 .2-.1 .9,1.7 .7,1.8 2.1,5.8 3.2,8.9 1.1,3.1 2.6,6.2 3.6,9.6 1,3.4 2.2,6.9 2.3,11 .1,4.1 -.8,9.3 -1.8,13.4 -1,4.1 -3,8.3 -4.4,11 -1.4,2.7 -3.2,4.4 -3.8,5.3L229.1,988.9c-.6-.9 -2.3-2.6 -3.7-5.3 -1.3-2.7 -3.4-6.9 -4.4-11 -1-4.1 -1.9-9.3 -1.8-13.4 .1-4.1 1.3-7.6 2.3-11 1-3.4 2.5-6.5 3.6-9.6 1.1-3.1 2.5-7.1 3.2-8.9 .7-1.8 .6-.8 .8-1.7 .2-.9 .2-2.9 .2-3.5Z" fill="#E08B00"/>
<path d="M255.2,924.5c0,.8 0,3.6 .2,4.8 .2,1.2 .2-.1 .8,2.3 .6,2.4 1.9,7.9 2.9,12.1 1,4.2 2.4,8.3 3.3,13 .9,4.7 2,11.2 2.1,15.1 .1,3.9 -.7,5.7 -1.7,8.1 -.9,2.5 -2.8,5 -4,6.6 -1.2,1.6 -2.8,2.7 -3.4,3.3L253.8,989.8c-.6-.5 -2.2-1.6 -3.4-3.3 -1.2-1.6 -3-4.2 -4-6.6 -1-2.5 -1.8-4.2 -1.7-8.1 .1-3.9 1.2-10.4 2.1-15.1 .9-4.7 2.3-8.8 3.3-13 1-4.2 2.3-9.7 2.9-12.1 .6-2.4 .6-1.1 .8-2.3 .2-1.2 .2-4 .2-4.8Z" fill="#D89000"/>
<path d="M279.9,924.5c0,.6 0,2.6 .2,3.5 .2,.9 .1-.1 .8,1.7 .7,1.8 2.1,5.8 3.2,8.9 1.1,3.1 2.6,6.2 3.6,9.6 1,3.4 2.2,6.9 2.3,11 .1,4.1 -.8,9.3 -1.8,13.4 -1,4.1 -3,8.3 -4.4,11 -1.3,2.7 -3.1,4.4 -3.7,5.3L278.5,988.9c-.6-.9 -2.4-2.6 -3.8-5.3 -1.4-2.7 -3.4-6.9 -4.4-11 -1-4.1 -1.9-9.3 -1.8-13.4 .1-4.1 1.3-7.6 2.3-11 1-3.4 2.5-6.5 3.6-9.6 1.1-3.1 2.5-7.1 3.2-8.9 .7-1.8 .7-.8 .9-1.7 .2-.9 .2-2.9 .2-3.5Z" fill="#CF9400"/>
<path d="M304.5,924.5c0,.7 0,3.1 .2,4.1 .2,1 .2,0 .9,2.1 .7,2.1 2.1,6.9 3.2,10.5 1.1,3.6 2.5,7.2 3.5,11.3 1,4 2.3,9.1 2.4,13 .1,3.9 -.9,7.1 -1.9,10.2 -1,3.1 -3,6.2 -4.3,8.3 -1.4,2.1 -3.2,3.4 -3.8,4.1L303.1,988.1c-.6-.7 -2.4-2 -3.7-4.1 -1.4-2.1 -3.3-5.2 -4.4-8.3 -1-3.1 -2-6.3 -1.9-10.2 .1-3.9 1.4-9 2.4-13 1-4 2.5-7.7 3.6-11.3 1.1-3.6 2.4-8.4 3.1-10.5 .7-2.1 .7-1.1 .9-2.1 .2-1 .2-3.4 .2-4.1Z" fill="#C59900"/>
<path d="M329.2,926.2c0,.8 0,3.8 .2,5 .2,1.2 .2,0 .8,2.5 .6,2.5 1.9,8.3 2.9,12.7 1,4.4 2.3,8.8 3.2,13.7 .9,4.9 2,12.3 2.2,15.9 .1,3.5 -.6,3.7 -1.3,5.4 -.7,1.6 -2,3.4 -2.8,4.5 -.8,1.1 -1.7,1.8 -2,2.2L324.8,988.1c-.3-.4 -1.2-1.1 -2-2.2 -.8-1.1 -2.1-2.9 -2.8-4.5 -.7-1.6 -1.5-1.8 -1.4-5.4 .1-3.5 1.3-11 2.2-15.9 .9-4.9 2.3-9.3 3.3-13.7 1-4.4 2.3-10.2 2.9-12.7 .6-2.5 .6-1.2 .8-2.5 .2-1.2 .2-4.2 .2-5Z" fill="#BB9D00"/>
<path d="M353.8,927.5c0,.7 0,3.2 .2,4.2 .2,1 .2-.1 .8,2.1 .6,2.1 1.9,7.1 2.9,10.8 1,3.7 2.4,7.4 3.3,11.6 .9,4.2 2.1,9.9 2.2,13.5 .1,3.6 -.7,5.8 -1.7,8.3 -1,2.5 -2.9,5.1 -4.1,6.8 -1.2,1.7 -2.8,2.8 -3.4,3.3L352.4,988.1c-.5-.6 -2.1-1.6 -3.3-3.3 -1.2-1.7 -3.1-4.3 -4.1-6.8 -1-2.5 -1.8-4.7 -1.7-8.3 .1-3.6 1.3-9.3 2.2-13.5 .9-4.2 2.3-7.9 3.3-11.6 1-3.7 2.2-8.7 2.8-10.8 .6-2.1 .6-1 .8-2.1 .2-1 .2-3.5 .2-4.2Z" fill="#AFA100"/>
<path d="M378.5,926.2c0,.8 0,3.4 .2,4.6 .2,1.1 .2,0 .8,2.3 .6,2.3 1.9,7.6 2.9,11.6 1,4 2.4,8.1 3.3,12.6 .9,4.5 2,10.9 2.1,14.5 .1,3.6 -.7,5.1 -1.7,7.3 -.9,2.2 -2.8,4.6 -4,6.1 -1.2,1.5 -2.8,2.4 -3.4,2.9L377.1,988.1c-.6-.5 -2.2-1.4 -3.4-2.9 -1.2-1.5 -3.1-3.9 -4-6.1 -.9-2.2 -1.8-3.7 -1.7-7.3 .1-3.6 1.2-10 2.1-14.5 .9-4.5 2.3-8.6 3.3-12.6 1-4 2.3-9.3 2.9-11.6 .6-2.3 .6-1.2 .8-2.3 .2-1.1 .2-3.8 .2-4.6Z" fill="#A3A500"/>
<path d="M403.2,928.7c0,.8 0,3.8 .2,5 .2,1.2 .2-.1 .7,2.4 .6,2.5 1.7,8.3 2.6,12.7 .9,4.4 2.2,8.7 3,13.6 .8,4.9 1.9,12.3 2,15.7 .1,3.4 -.7,3.4 -1.3,4.9 -.6,1.5 -1.9,3 -2.6,4 -.7,1 -1.5,1.6 -1.8,1.9L399.1,988.9c-.3-.3 -1.1-.9 -1.8-1.9 -.7-1 -2-2.5 -2.6-4 -.7-1.5 -1.4-1.5 -1.3-4.9 .1-3.4 1.3-10.8 2.1-15.7 .9-4.9 2.1-9.2 3-13.6 .9-4.4 1.9-10.2 2.5-12.7 .6-2.5 .6-1.2 .8-2.4 .2-1.2 .2-4.2 .2-5Z" fill="#95A900"/>
<path d="M427.8,925.4c0,.6 0,2.5 .2,3.4 .2,.9 .2,0 .9,1.7 .7,1.7 2.1,5.6 3.2,8.6 1.1,3 2.5,5.9 3.5,9.3 1,3.4 2.3,6.8 2.4,10.8 .1,4 -.9,9.3 -1.9,13.4 -1,4.1 -3,8.3 -4.3,11 -1.4,2.7 -3.2,4.4 -3.8,5.3L426.4,988.9c-.6-.9 -2.3-2.6 -3.7-5.3 -1.3-2.7 -3.3-6.9 -4.4-11 -1.1-4.1 -2-9.4 -1.9-13.4 .1-4 1.4-7.5 2.4-10.8 1-3.4 2.5-6.3 3.6-9.3 1.1-3 2.4-6.9 3.1-8.6 .7-1.7 .7-.9 .9-1.7 .2-.9 .2-2.8 .2-3.4Z" fill="#85AD00"/>
<path d="M452.5,925.4c0,.7 0,3.3 .2,4.4 .2,1.1 .2-.1 .8,2.2 .6,2.3 1.9,7.5 2.9,11.4 1,3.9 2.3,7.8 3.2,12.2 .9,4.4 2.1,10.5 2.2,14.1 .1,3.6 -.7,5.4 -1.7,7.7 -.9,2.3 -2.8,4.7 -4,6.3 -1.2,1.6 -2.8,2.6 -3.4,3.1L451.1,986.8c-.6-.5 -2.2-1.5 -3.4-3.1 -1.2-1.6 -3.1-4 -4.1-6.3 -1-2.3 -1.8-4.1 -1.7-7.7 .1-3.6 1.3-9.7 2.2-14.1 .9-4.4 2.3-8.3 3.3-12.2 1-3.9 2.3-9.1 2.9-11.4 .6-2.3 .6-1.1 .8-2.2 .2-1.1 .2-3.7 .2-4.4Z" fill="#72B000"/>
<path d="M477.1,931.7c0,.7 0,3.1 .2,4.2 .2,1 .2,0 .8,2.1 .6,2.1 1.9,7.1 2.9,10.8 1,3.7 2.4,7.4 3.3,11.6 .9,4.2 2.1,10 2.2,13.5 .1,3.5 -.7,5.4 -1.7,7.7 -1,2.3 -2.9,4.7 -4.1,6.3 -1.2,1.6 -2.8,2.6 -3.4,3.1L475.7,991c-.6-.5 -2.1-1.5 -3.3-3.1 -1.2-1.6 -3.1-4 -4.1-6.3 -1-2.3 -1.8-4.2 -1.7-7.7 .1-3.5 1.3-9.3 2.2-13.5 .9-4.2 2.3-7.9 3.3-11.6 1-3.7 2.2-8.6 2.8-10.8 .6-2.1 .6-1.1 .8-2.1 .2-1 .2-3.5 .2-4.2Z" fill="#5BB300"/>
<path d="M501.8,924.5c0,.6 0,2.9 .2,3.9 .2,1 .2,0 .8,2 .6,2 1.9,6.5 2.9,9.9 1,3.4 2.4,6.9 3.3,10.7 .9,3.9 2,8.3 2.1,12.4 .1,4 -.8,8.3 -1.7,11.9 -1,3.6 -2.8,7.3 -4,9.7 -1.2,2.4 -2.8,4 -3.4,4.8L500.4,989.8c-.6-.8 -2.2-2.4 -3.4-4.8 -1.2-2.4 -3.1-6.1 -4-9.7 -.9-3.6 -1.8-7.8 -1.7-11.9 .1-4 1.2-8.5 2.1-12.4 .9-3.9 2.3-7.3 3.3-10.7 1-3.4 2.3-7.9 2.9-9.9 .6-2 .6-1 .8-2 .2-1 .2-3.2 .2-3.9Z" fill="#39B600"/>
<path d="M526.5,928.7c0,.6 0,2.8 .2,3.7 .2,.9 .1-.1 .8,1.8 .7,1.9 2.1,6.2 3.2,9.5 1.1,3.3 2.6,6.5 3.6,10.1 1,3.6 2.2,8.1 2.3,11.7 .1,3.7 -.8,7.1 -1.8,10.2 -1,3.1 -3,6.2 -4.4,8.3 -1.3,2.1 -3.1,3.4 -3.7,4.1L525.1,988.1c-.6-.7 -2.4-2 -3.8-4.1 -1.4-2.1 -3.4-5.2 -4.4-8.3 -1-3.1 -1.9-6.6 -1.8-10.2 .1-3.7 1.3-8.1 2.3-11.7 1-3.6 2.5-6.8 3.6-10.1 1.1-3.3 2.5-7.6 3.2-9.5 .7-1.9 .7-.9 .9-1.8 .2-.9 .2-3.1 .2-3.7Z" fill="#00B81F"/>
<path d="M551.1,927.5c0,.7 0,3.3 .2,4.4 .2,1.1 .2-.1 .8,2.2 .6,2.3 1.9,7.5 2.9,11.4 1,3.9 2.4,7.8 3.3,12.2 .9,4.4 2.1,10.5 2.2,14.1 .1,3.6 -.7,5.1 -1.7,7.3 -1,2.2 -2.8,4.6 -4.1,6.1 -1.2,1.5 -2.8,2.4 -3.4,2.9L549.7,988.1c-.6-.5 -2.2-1.4 -3.4-2.9 -1.2-1.5 -3.1-3.9 -4-6.1 -.9-2.2 -1.8-3.7 -1.7-7.3 .1-3.6 1.3-9.7 2.2-14.1 .9-4.4 2.2-8.3 3.2-12.2 1-3.9 2.3-9.1 2.9-11.4 .6-2.3 .6-1.1 .8-2.2 .2-1.1 .2-3.7 .2-4.4Z" fill="#00BA42"/>
<path d="M580.2,924.5c.6,.2 2.7,.5 3.5,1 .8,.5 1.8-2.6 1.6,1.7 -.2,4.3 -1.8,16 -3,24.1 -1.2,8.1 -3,17.8 -4.1,24.4 -1,6.6 -1.8,12.7 -2.2,15.3L574.4,991c-.4-2.5 -1.1-8.7 -2.2-15.3 -1.1-6.6 -3-16.3 -4.2-24.4 -1.2-8.1 -2.7-19.8 -2.9-24.1 -.2-4.3 .7-1.3 1.5-1.7 .8-.5 2.9-.8 3.5-1Z" fill="#00BC59"/>
<path d="M600.4,926.2c0,.7 0,3.3 .2,4.4 .2,1.1 .2-.1 .8,2.1 .6,2.2 1.9,7.3 2.9,11.2 1,3.8 2.4,7.6 3.3,11.9 .9,4.3 2.1,10.2 2.2,13.9 .1,3.7 -.7,5.8 -1.7,8.3 -1,2.5 -2.9,5.1 -4.1,6.8 -1.2,1.7 -2.8,2.8 -3.4,3.3L599,988.1c-.5-.6 -2.1-1.6 -3.3-3.3 -1.2-1.7 -3.1-4.3 -4.1-6.8 -1-2.5 -1.8-4.6 -1.7-8.3 .1-3.7 1.3-9.6 2.2-13.9 .9-4.3 2.3-8 3.3-11.9 1-3.8 2.2-9 2.8-11.2 .6-2.2 .6-1 .8-2.1 .2-1.1 .2-3.7 .2-4.4Z" fill="#00BE6C"/>
<path d="M625.1,925.4c0,.7 0,3 .2,4 .2,1 .2-.1 .9,2 .7,2.1 2.1,6.8 3.2,10.3 1.1,3.6 2.5,7 3.5,11 1,4 2.3,8.9 2.4,12.8 .1,3.9 -.8,7.4 -1.9,10.6 -1,3.2 -3,6.5 -4.4,8.6 -1.4,2.1 -3.1,3.5 -3.7,4.2L623.7,988.9c-.6-.7 -2.4-2.1 -3.7-4.2 -1.4-2.1 -3.3-5.4 -4.4-8.6 -1-3.2 -2-6.7 -1.9-10.6 .1-3.9 1.4-8.8 2.4-12.8 1-4 2.4-7.4 3.5-11 1.1-3.6 2.5-8.3 3.2-10.3 .7-2.1 .7-1 .9-2 .2-1 .2-3.3 .2-4Z" fill="#00BF7D"/>
<path d="M649.8,928.7c0,.9 0,4 .2,5.4 .2,1.3 .1,0 .8,2.7 .7,2.7 2.1,9 3.2,13.7 1.1,4.7 2.6,9.4 3.6,14.7 1,5.3 2.1,13.7 2.3,17.1 .2,3.4 -.8,2.4 -1.1,3.4 -.3,1 -.3,2 -.8,2.7 -.5,.7 -1.8,1.2 -2.2,1.4L642.5,989.8c-.4-.2 -1.7-.7 -2.2-1.4 -.5-.7 -.5-1.7 -.8-2.7 -.3-1 -1.3,0 -1.1-3.4 .2-3.4 1.3-11.8 2.3-17.1 1-5.3 2.5-10 3.6-14.7 1.1-4.7 2.5-11 3.2-13.7 .7-2.7 .7-1.3 .9-2.7 .2-1.3 .2-4.5 .2-5.4Z" fill="#00C08D"/>
<path d="M674.4,927.5c0,.7 0,3 .2,4 .2,1 .2,0 .8,2 .6,2 1.9,6.7 2.9,10.3 1,3.5 2.4,7 3.3,11 .9,4 2.1,9.1 2.2,12.8 .1,3.7 -.7,6.4 -1.7,9.2 -1,2.8 -2.9,5.7 -4.1,7.6 -1.2,1.9 -2.8,3.1 -3.4,3.7L673,988.1c-.6-.6 -2.2-1.8 -3.4-3.7 -1.2-1.9 -3-4.8 -4-7.6 -1-2.8 -1.8-5.5 -1.7-9.2 .1-3.7 1.3-8.8 2.2-12.8 .9-4 2.2-7.5 3.2-11 1-3.5 2.3-8.2 2.9-10.3 .6-2 .6-1 .8-2 .2-1 .2-3.3 .2-4Z" fill="#00C19C"/>
<path d="M699.1,927.5c0,.6 0,2.7 .2,3.6 .2,.9 .2,0 .9,1.8 .7,1.8 2,6 3.1,9.2 1.1,3.2 2.6,6.3 3.6,9.9 1,3.5 2.3,7.6 2.4,11.4 .1,3.8 -.8,7.7 -1.9,11.1 -1,3.4 -3,6.8 -4.4,9.1 -1.4,2.3 -3.1,3.8 -3.7,4.5L697.7,988.1c-.6-.8 -2.5-2.2 -3.8-4.5 -1.4-2.3 -3.3-5.7 -4.3-9.1 -1-3.4 -2-7.4 -1.9-11.1 .1-3.8 1.4-7.8 2.4-11.4 1-3.5 2.4-6.7 3.5-9.9 1.1-3.2 2.5-7.4 3.2-9.2 .7-1.8 .7-.9 .9-1.8 .2-.9 .2-3 .2-3.6Z" fill="#00C1AA"/>
<path d="M723.7,926.2c0,.7 0,3.3 .2,4.4 .2,1.1 .2-.1 .8,2.1 .6,2.2 1.9,7.3 2.9,11.2 1,3.8 2.4,7.6 3.3,11.9 .9,4.3 2.1,10.2 2.2,13.9 .1,3.7 -.7,5.8 -1.7,8.3 -1,2.5 -2.9,5.1 -4.1,6.8 -1.2,1.7 -2.8,2.8 -3.4,3.3L722.3,988.1c-.5-.6 -2.1-1.6 -3.3-3.3 -1.2-1.7 -3.1-4.3 -4.1-6.8 -1-2.5 -1.8-4.6 -1.7-8.3 .1-3.7 1.3-9.6 2.2-13.9 .9-4.3 2.3-8 3.3-11.9 1-3.8 2.2-9 2.8-11.2 .6-2.2 .6-1 .8-2.1 .2-1.1 .2-3.7 .2-4.4Z" fill="#00C0B8"/>
<path d="M748.4,928.7c0,.7 0,3.2 .2,4.3 .2,1.1 .2,0 .8,2.2 .6,2.2 1.9,7.2 2.9,11 1,3.8 2.4,7.6 3.3,11.9 .9,4.3 2,10.1 2.1,13.7 .1,3.6 -.8,5.4 -1.7,7.7 -1,2.3 -2.8,4.7 -4,6.3 -1.2,1.6 -2.8,2.6 -3.4,3.1L747,988.9c-.6-.5 -2.2-1.5 -3.4-3.1 -1.2-1.6 -3-4 -4-6.3 -1-2.3 -1.8-4.1 -1.7-7.7 .1-3.6 1.2-9.4 2.1-13.7 .9-4.3 2.3-8.1 3.3-11.9 1-3.8 2.3-8.8 2.9-11 .6-2.2 .6-1.1 .8-2.2 .2-1.1 .2-3.6 .2-4.3Z" fill="#00BFC4"/>
<path d="M773.1,926.2c0,.8 0,3.4 .2,4.6 .2,1.1 .2,0 .8,2.3 .6,2.3 1.8,7.6 2.8,11.6 1,4 2.4,8.1 3.3,12.6 .9,4.5 2.1,10.7 2.2,14.5 .1,3.8 -.7,5.7 -1.7,8.1 -1,2.5 -2.9,5 -4.1,6.6 -1.2,1.6 -2.8,2.7 -3.3,3.3L771.7,989.8c-.6-.5 -2.2-1.6 -3.4-3.3 -1.2-1.6 -3.1-4.2 -4.1-6.6 -1-2.5 -1.8-4.3 -1.7-8.1 .1-3.8 1.3-10 2.2-14.5 .9-4.5 2.3-8.6 3.3-12.6 1-4 2.3-9.3 2.9-11.6 .6-2.3 .6-1.2 .8-2.3 .2-1.1 .2-3.8 .2-4.6Z" fill="#00BDD0"/>
<path d="M797.7,928.7c0,.6 0,2.9 .2,3.9 .1,1 .2,0 .7,2 .6,2 1.7,6.5 2.6,9.9 .9,3.4 2.2,6.9 3,10.7 .8,3.9 1.9,8.7 2,12.4 .1,3.7 -.6,6.7 -1.5,9.6 -.9,2.9 -2.7,5.9 -3.8,7.9 -1.1,1.9 -2.5,3.2 -3,3.8L796.3,988.9c-.5-.6 -1.9-1.8 -3-3.8 -1.1-1.9 -2.8-5 -3.7-7.9 -.9-2.9 -1.7-5.9 -1.6-9.6 .1-3.7 1.2-8.5 2-12.4 .8-3.9 2.1-7.3 3-10.7 .9-3.4 2.1-7.9 2.6-9.9 .5-2 .5-1 .7-2 .1-1 .2-3.2 .2-3.9Z" fill="#00BBDB"/>
<path d="M824.4,925.4c.4,.4 1.4,1.1 2.1,2.1 .7,1 1.4,2.2 2.1,3.9 .7,1.7 1.5,2.8 2.2,6.4 .7,3.6 1.8,9.8 1.8,15.1 0,5.3 -.8,11.6 -1.9,16.6 -1.1,5 -3.1,10.2 -4.4,13.6 -1.4,3.4 -3.1,5.6 -3.7,6.7L821,989.8c-.6-1.1 -2.4-3.3 -3.8-6.7 -1.4-3.4 -3.3-8.6 -4.3-13.6 -1-5 -1.9-11.3 -1.9-16.6 0-5.3 1.1-11.5 1.7-15.1 .6-3.6 1.5-4.7 2.2-6.4 .7-1.7 1.5-2.9 2.2-3.9 .7-1 1.7-1.8 2-2.1Z" fill="#00B8E5"/>
<path d="M849.1,925.4c.3,.4 1.3,1.1 2,2.1 .7,1 1.5,2.5 2.2,3.9 .7,1.4 1.6,1.6 2.2,4.5 .7,2.9 1.7,7.7 1.7,12.8 0,5.1 -.8,12.6 -1.8,18.1 -1,5.5 -3,11.2 -4.4,14.9 -1.4,3.7 -3.2,6 -3.8,7.2L845.6,988.9c-.6-1.2 -2.4-3.5 -3.7-7.2 -1.4-3.7 -3.4-9.4 -4.4-14.9 -1-5.5 -1.8-12.9 -1.8-18.1 0-5.1 1-9.9 1.7-12.8 .6-2.9 1.5-3.1 2.2-4.5 .7-1.4 1.4-2.9 2.1-3.9 .7-1 1.7-1.8 2.1-2.1Z" fill="#00B4EF"/>
<path d="M871.7,927.5c0,.6 0,2.6 .2,3.4 .2,.8 .2-.1 .8,1.6 .6,1.7 1.9,5.7 2.9,8.7 1,3 2.4,5.9 3.3,9.3 .9,3.3 2,7.1 2.1,10.8 .1,3.7 -.8,8 -1.7,11.5 -1,3.5 -2.8,7.1 -4,9.4 -1.2,2.3 -2.8,3.8 -3.4,4.6L870.3,986.8c-.6-.8 -2.2-2.3 -3.4-4.6 -1.2-2.3 -3.1-5.9 -4-9.4 -.9-3.5 -1.8-7.8 -1.7-11.5 .1-3.7 1.2-7.4 2.1-10.8 .9-3.3 2.3-6.3 3.3-9.3 1-3 2.3-7 2.9-8.7 .6-1.7 .6-.8 .8-1.6 .2-.8 .2-2.8 .2-3.4Z" fill="#00B0F6"/>
<path d="M901.2,925.4c.6,.3 2.9,1 3.8,1.9 .9,.9 1.9-.8 1.8,3.5 -.1,4.3 -1.4,15.4 -2.7,22.4 -1.3,7 -3.6,14.1 -4.9,19.4 -1.2,5.2 -2.2,10.1 -2.6,12.1L895,984.7c-.5-2 -1.4-6.9 -2.7-12.1 -1.3-5.2 -3.6-12.4 -4.9-19.4 -1.3-7 -2.5-18.1 -2.7-22.4 -.1-4.3 .9-2.6 1.8-3.5 .9-.9 3.2-1.6 3.8-1.9Z" fill="#00ABFD"/>
<path d="M924.6,925.4c.5,.4 2.1,1.1 3,2.1 .9,1 2.3-1.3 2.3,3.9 0,5.2 -1.2,20.2 -2.3,27.5 -1.1,7.3 -3.1,11.9 -4.2,16.4 -1.1,4.5 -1.8,8.6 -2.2,10.3L919.6,985.6c-.4-1.7 -1.2-5.9 -2.2-10.3 -1.1-4.5 -3-9.1 -4.1-16.4 -1.1-7.3 -2.3-22.3 -2.3-27.5 0-5.2 1.4-2.9 2.3-3.9 .9-1 2.4-1.8 2.9-2.1Z" fill="#00A5FF"/>
<path d="M945.7,925.4c0,.7 0,3.3 .2,4.4 .2,1.1 .2-.1 .8,2.2 .6,2.3 1.9,7.5 2.9,11.4 1,3.9 2.3,7.8 3.2,12.2 .9,4.4 2.1,10.3 2.2,14.1 .1,3.9 -.8,6.3 -1.7,9 -1,2.7 -2.8,5.5 -4,7.4 -1.2,1.8 -2.8,3.1 -3.4,3.7L944.3,989.8c-.6-.6 -2.1-1.8 -3.4-3.7 -1.2-1.8 -3.1-4.7 -4.1-7.4 -1-2.7 -1.8-5.1 -1.7-9 .1-3.9 1.3-9.7 2.2-14.1 .9-4.4 2.3-8.3 3.3-12.2 1-3.9 2.3-9.1 2.9-11.4 .6-2.3 .6-1.1 .8-2.2 .2-1.1 .2-3.7 .2-4.4Z" fill="#529EFF"/>
<path d="M970.3,926.2c0,.8 0,3.6 .2,4.8 .2,1.2 .2,0 .8,2.4 .6,2.4 1.9,8 2.9,12.2 1,4.2 2.4,8.4 3.3,13.1 .9,4.7 2.1,11.5 2.2,15.2 .1,3.7 -.7,4.8 -1.7,6.8 -1,2.1 -2.9,4.1 -4.1,5.5 -1.2,1.4 -2.8,2.2 -3.4,2.7L968.9,988.9c-.5-.4 -2.1-1.3 -3.3-2.7 -1.2-1.4 -3.1-3.4 -4.1-5.5 -1-2.1 -1.8-3.1 -1.7-6.8 .1-3.7 1.3-10.5 2.2-15.2 .9-4.7 2.3-8.9 3.3-13.1 1-4.2 2.2-9.8 2.8-12.2 .6-2.4 .6-1.2 .8-2.4 .2-1.2 .2-4 .2-4.8Z" fill="#7997FF"/>
<path d="M995,928.7c0,.6 0,2.8 .2,3.7 .2,.9 .2-.1 .9,1.8 .7,1.9 2.1,6.2 3.2,9.5 1.1,3.3 2.5,6.5 3.5,10.1 1,3.6 2.3,8.2 2.4,11.7 .1,3.6 -.9,6.7 -1.9,9.6 -1.1,2.9 -3,5.9 -4.4,7.9 -1.3,1.9 -3.1,3.2 -3.7,3.8L993.6,986.8c-.6-.6 -2.4-1.8 -3.7-3.8 -1.4-1.9 -3.3-5 -4.4-7.9 -1-2.9 -2-6.1 -1.9-9.6 .1-3.6 1.4-8.1 2.4-11.7 1-3.6 2.4-6.8 3.5-10.1 1.1-3.3 2.5-7.6 3.2-9.5 .7-1.9 .7-.9 .9-1.8 .2-.9 .2-3.1 .2-3.7Z" fill="#9590FF"/>
<path d="M1019.7,930.4c0,.5 0,2.3 .2,3.1 .2,.8 .2-.1 .8,1.5 .6,1.6 1.8,5.1 2.8,7.9 1,2.8 2.4,5.5 3.3,8.6 .9,3.1 2.1,6.5 2.2,9.8 .1,3.3 -.7,7.1 -1.7,10.2 -1,3.1 -2.9,6.2 -4.1,8.3 -1.2,2.1 -2.8,3.4 -3.3,4.1L1018.3,983.9c-.6-.7 -2.1-2 -3.4-4.1 -1.2-2.1 -3.1-5.2 -4.1-8.3 -1-3.1 -1.8-6.9 -1.7-10.2 .1-3.3 1.3-6.7 2.2-9.8 .9-3.1 2.3-5.9 3.3-8.6 1-2.8 2.3-6.3 2.9-7.9 .6-1.6 .6-.7 .8-1.5 .2-.8 .2-2.6 .2-3.1Z" fill="#AC88FF"/>
<path d="M1047.9,925.4c.5,.3 2.3,1 3.2,2 .9,1 1.7,2.6 2.2,3.7 .5,1.1 .5,.6 .7,2.9 .2,2.2 .7,5.5 .5,10.6 -.2,5.1 -.9,14.1 -1.9,20.3 -1,6.2 -2.9,12.6 -4.3,16.7 -1.3,4.1 -3.2,6.8 -3.8,8.2L1042.9,989.8c-.6-1.4 -2.4-4 -3.7-8.2 -1.4-4.1 -3.4-10.5 -4.4-16.7 -1-6.2 -1.7-15.1 -1.9-20.3 -.2-5.1 .4-8.4 .6-10.6 .2-2.2 .2-1.8 .7-2.9 .5-1.1 1.2-2.8 2.1-3.7 .9-1 2.7-1.7 3.3-2Z" fill="#BF80FF"/>
<path d="M1069,941.3c0,.6 0,2.6 .2,3.5 .2,.9 .2-.1 .8,1.7 .6,1.8 1.9,5.8 2.9,8.9 1,3.1 2.3,6.2 3.2,9.6 .9,3.4 2.1,8.4 2.2,11 .2,2.6 -.6,3.4 -1.3,4.9 -.7,1.5 -2,3 -2.8,4 -.8,1 -1.7,1.6 -2,1.9L1064.6,986.8c-.3-.3 -1.2-.9 -2-1.9 -.8-1 -2.1-2.5 -2.8-4 -.7-1.5 -1.5-2.2 -1.4-4.9 .1-2.6 1.3-7.6 2.2-11 .9-3.4 2.3-6.5 3.3-9.6 1-3.1 2.3-7.1 2.9-8.9 .6-1.8 .6-.8 .8-1.7 .2-.9 .2-2.9 .2-3.5Z" fill="#CF78FF"/>
<path d="M1093.6,948.5c0,.5 0,2.5 .2,3.3 .2,.8 .2,0 .8,1.7 .6,1.7 1.9,5.7 2.9,8.7 1,3 2.4,5.9 3.3,9.3 .9,3.3 2,8.4 2.2,10.8 .2,2.4 -.8,2.4 -1.1,3.4 -.3,1 -.3,2 -.7,2.7 -.5,.7 -1.7,1.2 -2,1.4L1086.9,989.8c-.3-.2 -1.5-.7 -2-1.4 -.5-.7 -.5-1.7 -.8-2.7 -.3-1 -1.2-1 -1-3.4 .2-2.4 1.3-7.4 2.2-10.8 .9-3.3 2.3-6.3 3.3-9.3 1-3 2.2-7 2.8-8.7 .6-1.7 .6-.9 .8-1.7 .2-.8 .2-2.7 .2-3.3Z" fill="#DC71FA"/>
<path d="M1118.3,928.7c0,.9 0,3.9 .2,5.2 .2,1.3 .2,0 .8,2.6 .6,2.6 1.9,8.6 2.9,13.1 1,4.5 2.4,9.1 3.3,14.2 .9,5.1 2,13 2.1,16.4 .1,3.4 -.6,2.7 -1.3,3.9 -.7,1.2 -2,2.4 -2.8,3.2 -.8,.8 -1.7,1.3 -2,1.6L1113.9,988.9c-.3-.3 -1.2-.8 -2-1.6 -.8-.8 -2.1-2 -2.8-3.2 -.7-1.2 -1.4-.5 -1.3-3.9 .1-3.4 1.2-11.3 2.1-16.4 .9-5.1 2.3-9.6 3.3-14.2 1-4.5 2.3-10.5 2.9-13.1 .6-2.6 .6-1.3 .8-2.6 .2-1.3 .2-4.3 .2-5.2Z" fill="#E76BF3"/>
<path d="M1143,932.5c0,.8 0,3.5 .2,4.6 .2,1.1 .2-.1 .8,2.2 .6,2.3 1.8,7.7 2.8,11.7 1,4.1 2.4,8.1 3.3,12.6 .9,4.5 2.1,11.3 2.2,14.5 .2,3.2 -.6,3.1 -1.3,4.5 -.7,1.4 -2.1,2.8 -2.9,3.7 -.8,.9 -1.7,1.5 -2,1.8L1138.6,988.1c-.3-.3 -1.2-.9 -2-1.8 -.8-.9 -2.2-2.3 -2.9-3.7 -.7-1.4 -1.4-1.3 -1.3-4.5 .1-3.2 1.3-10 2.2-14.5 .9-4.5 2.3-8.6 3.3-12.6 1-4.1 2.3-9.4 2.9-11.7 .6-2.3 .6-1.1 .8-2.2 .2-1.1 .2-3.8 .2-4.6Z" fill="#F066EA"/>
<path d="M1167.6,935.9c0,.7 0,3.3 .2,4.4 .2,1.1 .2-.1 .8,2.2 .6,2.3 1.9,7.5 2.9,11.4 1,3.9 2.4,7.8 3.3,12.2 .9,4.4 2,11.2 2.2,14.1 .2,2.9 -.8,2.5 -1.1,3.6 -.3,1.1 -.3,2.2 -.7,2.9 -.5,.7 -1.7,1.2 -2,1.4L1160.9,988.1c-.3-.2 -1.5-.7 -2-1.4 -.5-.7 -.5-1.8 -.8-2.9 -.3-1.1 -1.2-.6 -1-3.6 .2-2.9 1.3-9.7 2.2-14.1 .9-4.4 2.2-8.3 3.2-12.2 1-3.9 2.3-9.1 2.9-11.4 .6-2.3 .6-1.1 .8-2.2 .2-1.1 .2-3.7 .2-4.4Z" fill="#F763E0"/>
<path d="M1193.6,925.4c.2,.4 .8,1.1 1.4,2.1 .6,1 1.2,1.5 2,3.9 .8,2.4 1.8,5.2 2.6,10.2 .8,5 1.9,14.6 2,19.7 .1,5 -.7,7.4 -1.7,10.6 -.9,3.2 -2.8,6.5 -4,8.6 -1.2,2.1 -2.8,3.5 -3.4,4.2L1190.9,984.7c-.6-.7 -2.2-2.1 -3.4-4.2 -1.2-2.1 -3.1-5.4 -4.1-8.6 -1-3.2 -1.8-5.6 -1.7-10.6 0-5 1.2-14.7 2-19.7 .8-5 1.8-7.9 2.6-10.2 .8-2.4 1.4-2.9 2-3.9 .6-1 1.2-1.8 1.5-2.1Z" fill="#FC61D5"/>
<path d="M1216.9,945.5c0,.6 0,2.9 .2,3.9 .2,1 .2-.1 .8,1.9 .6,2 1.9,6.5 2.9,10 1,3.5 2.4,6.9 3.3,10.7 .9,3.9 2,10 2.2,12.4 .2,2.4 -.8,1.4 -1.1,2 -.3,.6 -.3,1.3 -.7,1.7 -.5,.4 -1.7,.7 -2,.8L1210.2,988.9c-.3-.1 -1.5-.4 -2-.8 -.5-.4 -.5-1.1 -.8-1.7 -.3-.6 -1.2,.4 -1-2 .2-2.4 1.3-8.5 2.2-12.4 .9-3.9 2.3-7.3 3.3-10.7 1-3.5 2.2-8 2.8-10 .6-2 .6-.9 .8-1.9 .2-1 .2-3.2 .2-3.9Z" fill="#FF61C9"/>
<path d="M1241.6,941.3c0,.7 0,3.2 .2,4.3 .2,1.1 .2,0 .8,2.2 .6,2.2 1.9,7.2 2.9,11 1,3.8 2.4,7.6 3.3,11.9 .9,4.3 1.9,11.1 2.1,13.7 .2,2.6 -.7,1.4 -1,2 -.3,.6 -.3,1.3 -.7,1.7 -.5,.4 -1.7,.7 -2,.8L1234.8,988.9c-.3-.1 -1.5-.4 -2-.8 -.5-.4 -.4-1.1 -.7-1.7 -.3-.6 -1.2,.6 -1-2 .2-2.6 1.2-9.4 2.1-13.7 .9-4.3 2.3-8.1 3.3-11.9 1-3.8 2.3-8.8 2.9-11 .6-2.2 .6-1.1 .8-2.2 .2-1.1 .2-3.6 .2-4.3Z" fill="#FF62BC"/>
<path d="M1267.2,927.5c.2,.4 .6,1.1 1.1,2.1 .5,1 1.2,1.1 2,3.9 .8,2.8 2.1,7 3,13 .9,6 2.2,17.9 2.3,23.2 .1,5.3 -.7,6.1 -1.7,8.7 -1,2.6 -2.9,5.4 -4.1,7.1 -1.2,1.8 -2.7,2.8 -3.3,3.4L1264.9,988.9c-.6-.6 -2.2-1.6 -3.4-3.4 -1.2-1.8 -3.1-4.5 -4.1-7.1 -1-2.6 -1.8-3.4 -1.7-8.7 .1-5.3 1.4-17.2 2.3-23.2 .9-6 2.2-10.2 3-13 .8-2.8 1.5-2.9 2-3.9 .5-1 .9-1.8 1.1-2.1Z" fill="#FF65AE"/>
<path d="M1290.9,953.9c0,.4 0,1.9 .2,2.6 .2,.7 .2,0 .8,1.4 .6,1.4 1.9,4.4 2.9,6.7 1,2.3 2.4,4.6 3.3,7.2 .9,2.6 2,6.5 2.2,8.4 .2,1.9 -.8,2.1 -1.1,3 -.3,.9 -.3,1.8 -.7,2.4 -.5,.6 -1.7,1 -2,1.2L1284.2,986.8c-.3-.2 -1.5-.6 -2-1.2 -.5-.6 -.5-1.5 -.8-2.4 -.3-.9 -1.2-1.1 -1-3 .2-1.9 1.3-5.8 2.2-8.4 .9-2.6 2.2-4.9 3.2-7.2 1-2.3 2.3-5.4 2.9-6.7 .6-1.4 .6-.7 .8-1.4 .2-.7 .2-2.2 .2-2.6Z" fill="#FF689F"/>
<path d="M1315.6,967.3c0,.3 0,1.3 .2,1.7 .2,.4 .2,0 .8,.9 .6,.9 1.9,2.9 2.9,4.4 1,1.5 2.3,3 3.2,4.7 .9,1.7 2,4.2 2.2,5.4 .2,1.2 -.7,1.2 -1,1.7 -.3,.5 -.3,1 -.8,1.3 -.5,.3 -1.7,.6 -2,.7L1308.8,988.1c-.3-.1 -1.5-.4 -2-.7 -.5-.3 -.4-.8 -.7-1.3 -.3-.5 -1.3-.5 -1.1-1.7 .2-1.2 1.3-3.7 2.2-5.4 .9-1.7 2.3-3.2 3.3-4.7 1-1.5 2.3-3.5 2.9-4.4 .6-.9 .6-.5 .8-.9 .2-.4 .2-1.4 .2-1.7Z" fill="#FF6C90"/>
<path d="M1341.5,953.9c.2,.4 .9,1.1 1.5,2.1 .6,1 1.2,2.4 2,3.9 .8,1.5 1.8,1.9 2.6,4.9 .8,3 1.8,10.8 2,13.3 .2,2.5 -.8,1.1 -1.1,1.5 -.3,.4 -.3,.9 -.7,1.2 -.5,.3 -1.7,.5 -2,.6L1333.5,981.4c-.3-.1 -1.5-.3 -2-.6 -.5-.3 -.5-.7 -.8-1.2 -.3-.4 -1.2,1 -1-1.5 .2-2.5 1.2-10.3 2-13.3 .8-3 1.8-3.4 2.6-4.9 .8-1.5 1.4-2.9 2-3.9 .6-1 1.2-1.8 1.5-2.1Z" fill="#FC717F"/>
</g>
<line x1="118.7" x2="118.7" y1="921.2" y2="997.2" stroke="#000" stroke-width="3.4"/>
<line x1="117.0" x2="1348" y1="995.7" y2="995.7" stroke="#000" stroke-width="3.4"/>
<line x1="106.5" x2="118.7" y1="922.7" y2="922.7" stroke="#000" stroke-width="3.6"/>
<text x="98.8" y="930.1" font-size="22" text-anchor="end">0.6</text>
<line x1="106.5" x2="118.7" y1="947.0" y2="947.0" stroke="#000" stroke-width="3.6"/>
<text x="98.8" y="954.4" font-size="22" text-anchor="end">0.4</text>
<line x1="106.5" x2="118.7" y1="971.0" y2="971.0" stroke="#000" stroke-width="3.6"/>
<text x="98.8" y="978.4" font-size="22" text-anchor="end">0.2</text>
<line x1="106.5" x2="118.7" y1="994.9" y2="994.9" stroke="#000" stroke-width="3.6"/>
<text x="98.8" y="1002.3" font-size="22" text-anchor="end">0.0</text>
<line x1="131.3" x2="131.3" y1="995.7" y2="1002.7" stroke="#000" stroke-width="3.4"/>
<text x="141.8" y="1019.7" font-size="24.5" text-anchor="end" transform="rotate(-45 141.8 1019.7)">0</text>
<line x1="156.0" x2="156.0" y1="995.7" y2="1002.7" stroke="#000" stroke-width="3.4"/>
<text x="166.5" y="1019.7" font-size="24.5" text-anchor="end" transform="rotate(-45 166.5 1019.7)">1</text>
<line x1="180.6" x2="180.6" y1="995.7" y2="1002.7" stroke="#000" stroke-width="3.4"/>
<text x="191.1" y="1019.7" font-size="24.5" text-anchor="end" transform="rotate(-45 191.1 1019.7)">2</text>
<line x1="205.3" x2="205.3" y1="995.7" y2="1002.7" stroke="#000" stroke-width="3.4"/>
<text x="215.8" y="1019.7" font-size="24.5" text-anchor="end" transform="rotate(-45 215.8 1019.7)">3</text>
<line x1="229.9" x2="229.9" y1="995.7" y2="1002.7" stroke="#000" stroke-width="3.4"/>
<text x="240.4" y="1019.7" font-size="24.5" text-anchor="end" transform="rotate(-45 240.4 1019.7)">4</text>
<line x1="254.6" x2="254.6" y1="995.7" y2="1002.7" stroke="#000" stroke-width="3.4"/>
<text x="265.1" y="1019.7" font-size="24.5" text-anchor="end" transform="rotate(-45 265.1 1019.7)">5</text>
<line x1="279.3" x2="279.3" y1="995.7" y2="1002.7" stroke="#000" stroke-width="3.4"/>
<text x="289.8" y="1019.7" font-size="24.5" text-anchor="end" transform="rotate(-45 289.8 1019.7)">6</text>
<line x1="303.9" x2="303.9" y1="995.7" y2="1002.7" stroke="#000" stroke-width="3.4"/>
<text x="314.4" y="1019.7" font-size="24.5" text-anchor="end" transform="rotate(-45 314.4 1019.7)">7</text>
<line x1="328.6" x2="328.6" y1="995.7" y2="1002.7" stroke="#000" stroke-width="3.4"/>
<text x="339.1" y="1019.7" font-size="24.5" text-anchor="end" transform="rotate(-45 339.1 1019.7)">8</text>
<line x1="353.2" x2="353.2" y1="995.7" y2="1002.7" stroke="#000" stroke-width="3.4"/>
<text x="363.7" y="1019.7" font-size="24.5" text-anchor="end" transform="rotate(-45 363.7 1019.7)">9</text>
<line x1="377.9" x2="377.9" y1="995.7" y2="1002.7" stroke="#000" stroke-width="3.4"/>
<text x="388.4" y="1019.7" font-size="24.5" text-anchor="end" transform="rotate(-45 388.4 1019.7)">10</text>
<line x1="402.6" x2="402.6" y1="995.7" y2="1002.7" stroke="#000" stroke-width="3.4"/>
<text x="413.1" y="1019.7" font-size="24.5" text-anchor="end" transform="rotate(-45 413.1 1019.7)">11</text>
<line x1="427.2" x2="427.2" y1="995.7" y2="1002.7" stroke="#000" stroke-width="3.4"/>
<text x="437.7" y="1019.7" font-size="24.5" text-anchor="end" transform="rotate(-45 437.7 1019.7)">12</text>
<line x1="451.9" x2="451.9" y1="995.7" y2="1002.7" stroke="#000" stroke-width="3.4"/>
<text x="462.4" y="1019.7" font-size="24.5" text-anchor="end" transform="rotate(-45 462.4 1019.7)">13</text>
<line x1="476.5" x2="476.5" y1="995.7" y2="1002.7" stroke="#000" stroke-width="3.4"/>
<text x="487.0" y="1019.7" font-size="24.5" text-anchor="end" transform="rotate(-45 487.0 1019.7)">14</text>
<line x1="501.2" x2="501.2" y1="995.7" y2="1002.7" stroke="#000" stroke-width="3.4"/>
<text x="511.7" y="1019.7" font-size="24.5" text-anchor="end" transform="rotate(-45 511.7 1019.7)">15</text>
<line x1="525.9" x2="525.9" y1="995.7" y2="1002.7" stroke="#000" stroke-width="3.4"/>
<text x="536.4" y="1019.7" font-size="24.5" text-anchor="end" transform="rotate(-45 536.4 1019.7)">16</text>
<line x1="550.5" x2="550.5" y1="995.7" y2="1002.7" stroke="#000" stroke-width="3.4"/>
<text x="561.0" y="1019.7" font-size="24.5" text-anchor="end" transform="rotate(-45 561.0 1019.7)">17</text>
<line x1="575.2" x2="575.2" y1="995.7" y2="1002.7" stroke="#000" stroke-width="3.4"/>
<text x="585.7" y="1019.7" font-size="24.5" text-anchor="end" transform="rotate(-45 585.7 1019.7)">18</text>
<line x1="599.8" x2="599.8" y1="995.7" y2="1002.7" stroke="#000" stroke-width="3.4"/>
<text x="610.3" y="1019.7" font-size="24.5" text-anchor="end" transform="rotate(-45 610.3 1019.7)">19</text>
<line x1="624.5" x2="624.5" y1="995.7" y2="1002.7" stroke="#000" stroke-width="3.4"/>
<text x="635.0" y="1019.7" font-size="24.5" text-anchor="end" transform="rotate(-45 635.0 1019.7)">20</text>
<line x1="649.2" x2="649.2" y1="995.7" y2="1002.7" stroke="#000" stroke-width="3.4"/>
<text x="659.7" y="1019.7" font-size="24.5" text-anchor="end" transform="rotate(-45 659.7 1019.7)">21</text>
<line x1="673.8" x2="673.8" y1="995.7" y2="1002.7" stroke="#000" stroke-width="3.4"/>
<text x="684.3" y="1019.7" font-size="24.5" text-anchor="end" transform="rotate(-45 684.3 1019.7)">22</text>
<line x1="698.5" x2="698.5" y1="995.7" y2="1002.7" stroke="#000" stroke-width="3.4"/>
<text x="709.0" y="1019.7" font-size="24.5" text-anchor="end" transform="rotate(-45 709.0 1019.7)">23</text>
<line x1="723.1" x2="723.1" y1="995.7" y2="1002.7" stroke="#000" stroke-width="3.4"/>
<text x="733.6" y="1019.7" font-size="24.5" text-anchor="end" transform="rotate(-45 733.6 1019.7)">24</text>
<line x1="747.8" x2="747.8" y1="995.7" y2="1002.7" stroke="#000" stroke-width="3.4"/>
<text x="758.3" y="1019.7" font-size="24.5" text-anchor="end" transform="rotate(-45 758.3 1019.7)">25</text>
<line x1="772.5" x2="772.5" y1="995.7" y2="1002.7" stroke="#000" stroke-width="3.4"/>
<text x="783.0" y="1019.7" font-size="24.5" text-anchor="end" transform="rotate(-45 783.0 1019.7)">26</text>
<line x1="797.1" x2="797.1" y1="995.7" y2="1002.7" stroke="#000" stroke-width="3.4"/>
<text x="807.6" y="1019.7" font-size="24.5" text-anchor="end" transform="rotate(-45 807.6 1019.7)">27</text>
<line x1="821.8" x2="821.8" y1="995.7" y2="1002.7" stroke="#000" stroke-width="3.4"/>
<text x="832.3" y="1019.7" font-size="24.5" text-anchor="end" transform="rotate(-45 832.3 1019.7)">28</text>
<line x1="846.4" x2="846.4" y1="995.7" y2="1002.7" stroke="#000" stroke-width="3.4"/>
<text x="856.9" y="1019.7" font-size="24.5" text-anchor="end" transform="rotate(-45 856.9 1019.7)">29</text>
<line x1="871.1" x2="871.1" y1="995.7" y2="1002.7" stroke="#000" stroke-width="3.4"/>
<text x="881.6" y="1019.7" font-size="24.5" text-anchor="end" transform="rotate(-45 881.6 1019.7)">30</text>
<line x1="895.8" x2="895.8" y1="995.7" y2="1002.7" stroke="#000" stroke-width="3.4"/>
<text x="906.3" y="1019.7" font-size="24.5" text-anchor="end" transform="rotate(-45 906.3 1019.7)">31</text>
<line x1="920.4" x2="920.4" y1="995.7" y2="1002.7" stroke="#000" stroke-width="3.4"/>
<text x="930.9" y="1019.7" font-size="24.5" text-anchor="end" transform="rotate(-45 930.9 1019.7)">32</text>
<line x1="945.1" x2="945.1" y1="995.7" y2="1002.7" stroke="#000" stroke-width="3.4"/>
<text x="955.6" y="1019.7" font-size="24.5" text-anchor="end" transform="rotate(-45 955.6 1019.7)">33</text>
<line x1="969.7" x2="969.7" y1="995.7" y2="1002.7" stroke="#000" stroke-width="3.4"/>
<text x="980.2" y="1019.7" font-size="24.5" text-anchor="end" transform="rotate(-45 980.2 1019.7)">34</text>
<line x1="994.4" x2="994.4" y1="995.7" y2="1002.7" stroke="#000" stroke-width="3.4"/>
<text x="1004.9" y="1019.7" font-size="24.5" text-anchor="end" transform="rotate(-45 1004.9 1019.7)">35</text>
<line x1="1019.1" x2="1019.1" y1="995.7" y2="1002.7" stroke="#000" stroke-width="3.4"/>
<text x="1029.6" y="1019.7" font-size="24.5" text-anchor="end" transform="rotate(-45 1029.6 1019.7)">36</text>
<line x1="1043.7" x2="1043.7" y1="995.7" y2="1002.7" stroke="#000" stroke-width="3.4"/>
<text x="1054.2" y="1019.7" font-size="24.5" text-anchor="end" transform="rotate(-45 1054.2 1019.7)">37</text>
<line x1="1068.4" x2="1068.4" y1="995.7" y2="1002.7" stroke="#000" stroke-width="3.4"/>
<text x="1078.9" y="1019.7" font-size="24.5" text-anchor="end" transform="rotate(-45 1078.9 1019.7)">38</text>
<line x1="1093.0" x2="1093.0" y1="995.7" y2="1002.7" stroke="#000" stroke-width="3.4"/>
<text x="1103.5" y="1019.7" font-size="24.5" text-anchor="end" transform="rotate(-45 1103.5 1019.7)">39</text>
<line x1="1117.7" x2="1117.7" y1="995.7" y2="1002.7" stroke="#000" stroke-width="3.4"/>
<text x="1128.2" y="1019.7" font-size="24.5" text-anchor="end" transform="rotate(-45 1128.2 1019.7)">40</text>
<line x1="1142.4" x2="1142.4" y1="995.7" y2="1002.7" stroke="#000" stroke-width="3.4"/>
<text x="1152.9" y="1019.7" font-size="24.5" text-anchor="end" transform="rotate(-45 1152.9 1019.7)">41</text>
<line x1="1167.0" x2="1167.0" y1="995.7" y2="1002.7" stroke="#000" stroke-width="3.4"/>
<text x="1177.5" y="1019.7" font-size="24.5" text-anchor="end" transform="rotate(-45 1177.5 1019.7)">42</text>
<line x1="1191.7" x2="1191.7" y1="995.7" y2="1002.7" stroke="#000" stroke-width="3.4"/>
<text x="1202.2" y="1019.7" font-size="24.5" text-anchor="end" transform="rotate(-45 1202.2 1019.7)">43</text>
<line x1="1216.3" x2="1216.3" y1="995.7" y2="1002.7" stroke="#000" stroke-width="3.4"/>
<text x="1226.8" y="1019.7" font-size="24.5" text-anchor="end" transform="rotate(-45 1226.8 1019.7)">44</text>
<line x1="1241.0" x2="1241.0" y1="995.7" y2="1002.7" stroke="#000" stroke-width="3.4"/>
<text x="1251.5" y="1019.7" font-size="24.5" text-anchor="end" transform="rotate(-45 1251.5 1019.7)">45</text>
<line x1="1265.7" x2="1265.7" y1="995.7" y2="1002.7" stroke="#000" stroke-width="3.4"/>
<text x="1276.2" y="1019.7" font-size="24.5" text-anchor="end" transform="rotate(-45 1276.2 1019.7)">46</text>
<line x1="1290.3" x2="1290.3" y1="995.7" y2="1002.7" stroke="#000" stroke-width="3.4"/>
<text x="1300.8" y="1019.7" font-size="24.5" text-anchor="end" transform="rotate(-45 1300.8 1019.7)">47</text>
<line x1="1315.0" x2="1315.0" y1="995.7" y2="1002.7" stroke="#000" stroke-width="3.4"/>
<text x="1325.5" y="1019.7" font-size="24.5" text-anchor="end" transform="rotate(-45 1325.5 1019.7)">48</text>
<line x1="1339.6" x2="1339.6" y1="995.7" y2="1002.7" stroke="#000" stroke-width="3.4"/>
<text x="1350.1" y="1019.7" font-size="24.5" text-anchor="end" transform="rotate(-45 1350.1 1019.7)">49</text>
<g stroke="#333" stroke-width="3.6" stroke-linejoin="round">
<path d="M136.8,1142c.5,.3 1.9,1.1 2.9,2.1 1,1 3-2.1 3.1,3.9 .1,6 -1.2,23.8 -2.4,32.1 -1.2,8.3 -3.4,12.9 -4.6,17.7 -1.2,4.8 -2,9.3 -2.4,11.1L131.8,1208.9c-.4-1.9 -1.2-6.3 -2.4-11.1 -1.2-4.8 -3.4-9.4 -4.6-17.7 -1.2-8.3 -2.5-26.1 -2.4-32.1 .1-6 2.1-2.9 3.1-3.9 1-1 2.4-1.7 2.9-2.1Z" fill="#F8766D"/>
<path d="M158,1142c.1,.3 .2,1.1 .6,2.1 .4,1 1,1.1 2,3.9 1,2.8 2.6,6.8 3.7,12.7 1.1,5.9 2.7,17.5 2.9,22.7 .2,5.2 -.7,6.1 -1.7,8.7 -1,2.6 -2.8,5.4 -4.1,7.1 -1.2,1.8 -2.8,2.8 -3.4,3.4L156.4,1202.6c-.6-.6 -2.1-1.6 -3.3-3.4 -1.2-1.8 -3.1-4.5 -4.1-7.1 -1-2.6 -1.9-3.5 -1.7-8.7 .2-5.2 1.8-16.8 2.9-22.7 1.1-5.9 2.8-9.9 3.7-12.7 1-2.8 1.6-2.9 2-3.9 .4-1 .5-1.7 .6-2.1Z" fill="#F37B59"/>
<path d="M182.6,1142c.1,.3 .2,1.1 .6,2.1 .4,1 1,.8 2,3.9 1,3.1 2.6,7.9 3.7,14.5 1.1,6.6 2.7,19.6 2.9,25.1 .2,5.5 -.8,5.4 -1.7,7.7 -1,2.3 -2.8,4.7 -4,6.3 -1.2,1.6 -2.8,2.6 -3.4,3.1L181.1,1204.7c-.6-.5 -2.2-1.5 -3.4-3.1 -1.2-1.6 -3.1-4 -4.1-6.3 -1-2.3 -1.9-2.2 -1.7-7.7 .2-5.5 1.8-18.5 2.9-25.1 1.1-6.6 2.7-11.4 3.7-14.5 .9-3.1 1.6-2.9 2-3.9 .4-1 .5-1.7 .6-2.1Z" fill="#ED8141"/>
<path d="M207.1,1142c0,.9 0,1.9 .2,5.2 .2,3.3 .2,10.3 .8,14.5 .6,4.2 1.9,7.4 2.9,10.9 1,3.5 2.4,6.4 3.3,9.9 .9,3.6 2.1,8.4 2.2,11.4 .1,3 -.7,4.5 -1.7,6.4 -1,1.9 -2.9,3.9 -4.1,5.2 -1.2,1.3 -2.8,2.2 -3.4,2.6L205.7,1208.1c-.6-.4 -2.2-1.3 -3.4-2.6 -1.2-1.3 -3-3.3 -4-5.2 -1-1.9 -1.8-3.4 -1.7-6.4 .1-3 1.3-7.9 2.2-11.4 .9-3.6 2.2-6.4 3.2-9.9 1-3.5 2.3-6.7 2.9-10.9 .6-4.2 .6-11.2 .8-14.5 .2-3.3 .2-4.3 .2-5.2Z" fill="#E7861B"/>
<path d="M231.9,1142c.1,.3 .2,1.1 .6,2.1 .4,1 1.1,.8 2,3.9 .9,3.1 2.6,7.9 3.7,14.5 1.1,6.6 2.7,19.8 2.9,25.1 .2,5.3 -.7,4.8 -1.7,6.8 -1,2.1 -2.9,4.1 -4.1,5.5 -1.2,1.4 -2.8,2.2 -3.3,2.7L230.4,1202.6c-.6-.4 -2.2-1.3 -3.4-2.7 -1.2-1.4 -3.1-3.4 -4.1-5.5 -1-2.1 -1.9-1.5 -1.7-6.8 .2-5.3 1.8-18.5 2.9-25.1 1.1-6.6 2.8-11.4 3.7-14.5 1-3.1 1.6-2.9 2-3.9 .4-1 .5-1.7 .6-2.1Z" fill="#E08B00"/>
<path d="M256.6,1142c.1,.3 .1,1.1 .5,2.1 .4,1 1.1,1.9 2.2,3.9 1,2 2.9,3.8 4.1,7.9 1.2,4.2 3,11.7 3.2,17 .2,5.3 -.9,10.2 -1.9,14.7 -1.1,4.5 -3,9.1 -4.4,12.1 -1.3,3 -3.1,4.9 -3.7,5.9L255,1205.6c-.6-1 -2.3-2.9 -3.7-5.9 -1.3-3 -3.4-7.6 -4.4-12.1 -1.1-4.5 -2.1-9.4 -1.9-14.7 .2-5.3 2-12.8 3.2-17 1.2-4.2 3.1-5.9 4.1-7.9 1.1-2 1.7-2.9 2.2-3.9 .4-1 .4-1.7 .5-2.1Z" fill="#D89000"/>
<path d="M281.2,1142c.1,.3 .2,1.1 .6,2.1 .4,1 1.1,1.3 2.1,3.9 1,2.6 2.9,6.2 4.1,11.7 1.2,5.5 3,16 3.2,21.6 .2,5.6 -.8,8.4 -1.8,12.1 -1,3.7 -3,7.4 -4.4,9.9 -1.4,2.4 -3.2,4 -3.8,4.8L279.6,1208.1c-.6-.8 -2.4-2.3 -3.7-4.8 -1.4-2.4 -3.4-6.2 -4.4-9.9 -1-3.7 -2-6.5 -1.8-12.1 .2-5.6 1.9-16 3.1-21.6 1.2-5.5 3-9.1 4.1-11.7 1.1-2.6 1.7-2.9 2.2-3.9 .5-1 .5-1.7 .6-2.1Z" fill="#CF9400"/>
<path d="M305.7,1142c0,1 0,2.1 .2,5.8 .2,3.7 .2,11.5 .9,16.3 .7,4.8 2,8.4 3.1,12.3 1.1,3.9 2.6,7 3.6,11 1,4 2.2,10.2 2.4,12.8 .2,2.6 -.9,2.1 -1.2,3 -.3,.9 -.3,1.8 -.8,2.4 -.5,.6 -1.7,1 -2.1,1.2L298.4,1206.8c-.4-.2 -1.7-.6 -2.2-1.2 -.5-.6 -.5-1.5 -.8-2.4 -.3-.9 -1.3-.4 -1.1-3 .2-2.6 1.4-8.8 2.4-12.8 1-4 2.4-7.1 3.5-11 1.1-3.9 2.5-7.5 3.2-12.3 .7-4.8 .7-12.6 .9-16.3 .2-3.7 .2-4.8 .2-5.8Z" fill="#C59900"/>
<path d="M330.5,1142c.1,.3 .2,1.1 .6,2.1 .4,1 1.1,1 2.1,3.9 1,2.9 2.9,7.3 4.1,13.6 1.2,6.2 3,18.4 3.2,23.9 .2,5.5 -.9,6.2 -1.9,9 -1,2.8 -3,5.7 -4.3,7.5 -1.4,1.8 -3.2,3 -3.8,3.6L328.9,1205.6c-.6-.6 -2.3-1.7 -3.7-3.6 -1.3-1.8 -3.3-4.8 -4.4-7.5 -1.1-2.8 -2.1-3.5 -1.9-9 .2-5.5 2-17.7 3.2-23.9 1.2-6.2 3-10.7 4.1-13.6 1-2.9 1.7-2.9 2.2-3.9 .5-1 .5-1.7 .6-2.1Z" fill="#BB9D00"/>
<path d="M355.1,1142c.1,.3 .1,1.1 .6,2.1 .5,1 1.1,1.3 2.2,3.9 1.1,2.6 2.9,6.2 4.1,11.7 1.2,5.5 2.9,16.3 3.1,21.6 .2,5.3 -.8,7.1 -1.8,10.2 -1,3.1 -3.1,6.2 -4.4,8.3 -1.4,2.1 -3.1,3.4 -3.7,4.1L353.6,1203.9c-.6-.7 -2.4-2 -3.8-4.1 -1.4-2.1 -3.4-5.2 -4.4-8.3 -1-3.1 -2-4.9 -1.8-10.2 .2-5.3 2-16 3.2-21.6 1.2-5.5 3.1-9.1 4.1-11.7 1-2.6 1.7-2.9 2.1-3.9 .5-1 .5-1.7 .6-2.1Z" fill="#AFA100"/>
<path d="M379.8,1142c.1,.3 .1,1.1 .5,2.1 .4,1 1.1,1.9 2.2,3.9 1.1,2 2.9,3.8 4.1,7.9 1.2,4.2 3,11.9 3.2,17 .2,5.1 -.9,9.3 -1.9,13.4 -1.1,4.1 -3,8.3 -4.4,11 -1.3,2.7 -3.1,4.4 -3.7,5.3L378.2,1202.6c-.6-.9 -2.3-2.6 -3.7-5.3 -1.3-2.7 -3.3-6.9 -4.4-11 -1.1-4.1 -2.1-8.3 -1.9-13.4 .2-5.1 2-12.8 3.2-17 1.2-4.2 3.1-5.9 4.1-7.9 1.1-2 1.7-2.9 2.2-3.9 .4-1 .4-1.7 .5-2.1Z" fill="#A3A500"/>
<path d="M404.4,1142c.1,.3 .2,1.1 .6,2.1 .5,1 1.1,.8 2.1,3.9 1,3.1 2.9,7.9 4.1,14.5 1.2,6.6 3,19.6 3.2,25.1 .2,5.5 -.8,5.4 -1.8,7.7 -1,2.3 -3,4.7 -4.4,6.3 -1.4,1.6 -3.2,2.6 -3.8,3.1L402.8,1204.7c-.6-.5 -2.3-1.5 -3.7-3.1 -1.4-1.6 -3.4-4 -4.4-6.3 -1-2.3 -2-2.2 -1.8-7.7 .2-5.5 1.9-18.5 3.1-25.1 1.2-6.6 3.1-11.4 4.1-14.5 1.1-3.1 1.7-2.9 2.2-3.9 .5-1 .5-1.7 .6-2.1Z" fill="#95A900"/>
<path d="M429,1142c.1,.3 .1,1.1 .6,2.1 .5,1 1.1,2.3 2.2,3.9 1,1.7 2.9,2.5 4.1,6 1.2,3.5 3,9.5 3.2,14.7 .2,5.2 -.9,11.6 -1.9,16.6 -1.1,5 -3,10.2 -4.4,13.6 -1.3,3.4 -3.1,5.6 -3.7,6.7L427.5,1205.6c-.6-1.1 -2.5-3.3 -3.8-6.7 -1.4-3.4 -3.3-8.6 -4.3-13.6 -1-5 -2.1-11.4 -1.9-16.6 .2-5.2 2-11.3 3.2-14.7 1.2-3.5 3.1-4.3 4.1-6 1-1.7 1.6-2.9 2.1-3.9 .4-1 .5-1.7 .6-2.1Z" fill="#85AD00"/>
<path d="M453.7,1142c.1,.3 .2,1.1 .6,2.1 .4,1 1.1,1.3 2,3.9 .9,2.6 2.6,6.2 3.7,11.7 1.1,5.5 2.7,16.5 2.9,21.6 .2,5.1 -.7,6.2 -1.7,9 -1,2.8 -2.8,5.6 -4.1,7.5 -1.2,1.9 -2.8,3 -3.4,3.6L452.1,1201.4c-.6-.6 -2.2-1.8 -3.4-3.6 -1.2-1.9 -3.1-4.8 -4-7.5 -.9-2.8 -1.9-3.9 -1.7-9 .2-5.1 1.8-16 2.9-21.6 1.1-5.5 2.8-9.1 3.7-11.7 1-2.6 1.6-2.9 2-3.9 .4-1 .5-1.7 .6-2.1Z" fill="#72B000"/>
<path d="M478.2,1142c0,.8 0,1.8 .2,5 .2,3.2 .2,9.8 .8,13.9 .6,4.1 1.8,7.2 2.8,10.5 1,3.3 2.4,6.1 3.3,9.5 .9,3.4 2,8.3 2.2,10.9 .1,2.6 -.6,3.4 -1.3,4.9 -.7,1.5 -2.1,3 -2.9,4 -.8,1 -1.7,1.6 -2,1.9L473.8,1202.6c-.3-.3 -1.2-.9 -2-1.9 -.8-1 -2.2-2.5 -2.9-4 -.7-1.5 -1.4-2.3 -1.3-4.9 .2-2.6 1.3-7.5 2.2-10.9 .9-3.4 2.3-6.2 3.3-9.5 1-3.3 2.3-6.4 2.9-10.5 .6-4.1 .6-10.8 .8-13.9 .2-3.2 .2-4.2 .2-5Z" fill="#5BB300"/>
<path d="M507.7,1142c.6,.2 2.9,.5 3.8,1 .9,.5 2-2.4 1.6,1.9 -.4,4.3 -2.4,16 -3.7,24 -1.3,8 -3.1,17.6 -4.2,24.1 -1.1,6.5 -1.8,12.6 -2.2,15.1L501.4,1208.1c-.4-2.5 -1.1-8.6 -2.2-15.1 -1.1-6.5 -2.9-16.1 -4.2-24.1 -1.3-8 -3.3-19.7 -3.7-24 -.4-4.3 .7-1.4 1.6-1.9 .9-.5 3.2-.8 3.8-1Z" fill="#39B600"/>
<path d="M527.6,1142c.1,.3 .2,1.1 .6,2.1 .4,1 1.1,.7 2,3.9 .9,3.2 2.6,8.5 3.7,15.5 1.1,7 2.7,20.6 2.9,26.2 .2,5.6 -.7,5 -1.7,7.2 -1,2.2 -2.9,4.3 -4.1,5.8 -1.2,1.4 -2.8,2.4 -3.4,2.9L526,1205.6c-.5-.5 -2.1-1.4 -3.3-2.9 -1.2-1.4 -3.1-3.6 -4.1-5.8 -1-2.2 -1.9-1.6 -1.7-7.2 .2-5.6 1.8-19.3 2.9-26.2 1.1-7 2.8-12.3 3.7-15.5 1-3.2 1.6-2.9 2-3.9 .4-1 .5-1.7 .6-2.1Z" fill="#00B81F"/>
<path d="M552.2,1142c.1,.3 .2,1.1 .6,2.1 .4,1 1,1 2,3.9 1,2.9 2.6,7.3 3.7,13.6 1.1,6.2 2.7,18.4 2.9,23.9 .2,5.5 -.7,6.2 -1.7,9 -.9,2.8 -2.8,5.7 -4,7.5 -1.2,1.8 -2.8,3 -3.4,3.6L550.7,1205.6c-.6-.6 -2.2-1.7 -3.4-3.6 -1.2-1.8 -3.1-4.8 -4.1-7.5 -1-2.8 -1.9-3.5 -1.7-9 .2-5.5 1.8-17.7 2.9-23.9 1.1-6.2 2.8-10.7 3.7-13.6 1-2.9 1.6-2.9 2-3.9 .4-1 .5-1.7 .6-2.1Z" fill="#00BA42"/>
<path d="M581.2,1142c.6,.3 2.6,1 3.5,1.8 .9,.8 1.8-1 1.7,3.2 -.1,4.2 -1.3,15.1 -2.5,22 -1.2,6.9 -3.3,14.2 -4.5,19.4 -1.2,5.2 -2.1,10.1 -2.5,12.1L575.3,1200.5c-.4-2 -1.2-6.8 -2.4-12.1 -1.1-5.2 -3.3-12.5 -4.5-19.4 -1.2-6.9 -2.4-17.8 -2.5-22 -.1-4.2 .8-2.4 1.7-3.2 .9-.8 2.9-1.5 3.5-1.8Z" fill="#00BC59"/>
<path d="M601.5,1142c.1,.3 .2,1.1 .6,2.1 .4,1 1.1,1.6 2,3.9 .9,2.3 2.6,4.9 3.7,9.8 1.1,4.8 2.7,14.4 2.9,19.3 .2,4.9 -.7,7.1 -1.7,10.2 -1,3.1 -2.9,6.2 -4.1,8.3 -1.2,2.1 -2.7,3.4 -3.3,4.1L600,1199.7c-.6-.7 -2.1-2 -3.4-4.1 -1.2-2.1 -3.1-5.2 -4.1-8.3 -1-3.1 -1.9-5.3 -1.7-10.2 .2-4.9 1.8-14.4 2.9-19.3 1.1-4.8 2.7-7.5 3.7-9.8 .9-2.3 1.6-2.9 2-3.9 .4-1 .5-1.7 .6-2.1Z" fill="#00BE6C"/>
<path d="M629.6,1142c.5,.3 2.3,1.1 3.2,2.1 .9,1 1.6,1.9 2.1,3.9 .5,2 .5,3.8 .7,7.9 .2,4.2 .8,11.5 .6,17 -.2,5.5 -.9,11.1 -1.9,15.9 -1.1,4.8 -3,9.8 -4.4,13 -1.3,3.2 -3.1,5.2 -3.7,6.3L624.6,1208.1c-.6-1 -2.4-3.1 -3.7-6.3 -1.4-3.2 -3.3-8.2 -4.4-13 -1-4.8 -1.7-10.4 -1.9-15.9 -.2-5.5 .4-12.8 .6-17 .2-4.2 .2-5.9 .7-7.9 .5-2 1.2-2.9 2.1-3.9 .9-1 2.7-1.7 3.2-2.1Z" fill="#00BF7D"/>
<path d="M650.8,1142c.1,.3 .2,1.1 .6,2.1 .5,1 1.1,.8 2.1,3.9 1,3.1 2.9,7.9 4.1,14.5 1.2,6.6 3,19.5 3.2,25.1 .2,5.6 -.8,6.1 -1.8,8.7 -1,2.6 -3,5.4 -4.4,7.1 -1.4,1.8 -3.2,2.8 -3.8,3.4L649.2,1206.8c-.6-.6 -2.4-1.6 -3.7-3.4 -1.4-1.8 -3.4-4.5 -4.4-7.1 -1-2.6 -2-3.1 -1.8-8.7 .2-5.6 1.9-18.5 3.1-25.1 1.2-6.6 3.1-11.4 4.1-14.5 1.1-3.1 1.7-2.9 2.2-3.9 .5-1 .5-1.7 .6-2.1Z" fill="#00C08D"/>
<path d="M675.3,1144.5c0,.8 0,1.7 .2,4.6 .2,2.9 .2,8.9 .8,12.6 .6,3.7 1.9,6.5 2.9,9.5 1,3 2.3,5.5 3.2,8.6 .9,3.1 2.1,7.2 2.2,9.9 .1,2.7 -.8,4.5 -1.7,6.4 -1,1.9 -2.8,3.9 -4,5.2 -1.2,1.3 -2.8,2.2 -3.4,2.6L673.9,1203.9c-.6-.4 -2.1-1.3 -3.4-2.6 -1.2-1.3 -3.1-3.3 -4.1-5.2 -1-1.9 -1.8-3.7 -1.7-6.4 .1-2.7 1.3-6.8 2.2-9.9 .9-3.1 2.3-5.6 3.3-8.6 1-3 2.3-5.8 2.9-9.5 .6-3.7 .6-9.7 .8-12.6 .2-2.9 .2-3.8 .2-4.6Z" fill="#00C19C"/>
<path d="M702.7,1142c.4,.3 1.9,1.1 2.7,2.1 .8,1 1.5,2.3 2.1,3.9 .6,1.7 1.1,2.5 1.5,6 .4,3.5 1.2,9.4 1.1,14.7 -.1,5.3 -.9,12 -1.9,17.2 -1,5.2 -3,10.6 -4.3,14.1 -1.4,3.5 -3.2,5.7 -3.8,6.8L698.5,1206.8c-.6-1.1 -2.4-3.3 -3.7-6.8 -1.4-3.5 -3.3-8.9 -4.4-14.1 -1-5.2 -1.8-11.9 -1.9-17.2 -.1-5.3 .8-11.3 1.2-14.7 .4-3.5 .8-4.3 1.4-6 .6-1.7 1.4-2.9 2.2-3.9 .8-1 2.2-1.7 2.6-2.1Z" fill="#00C1AA"/>
<path d="M724.7,1142c.1,.3 .2,1.1 .6,2.1 .4,1 1,2.3 2,3.9 1,1.7 2.6,2.5 3.7,6 1.1,3.5 2.7,9.8 2.9,14.7 .2,4.9 -.7,10.2 -1.7,14.7 -1,4.5 -2.9,9.1 -4.1,12.1 -1.2,3 -2.8,4.9 -3.3,5.9L723.2,1201.4c-.6-1 -2.2-2.9 -3.4-5.9 -1.2-3 -3.1-7.6 -4.1-12.1 -1-4.5 -1.9-9.8 -1.7-14.7 .2-4.9 1.8-11.3 2.9-14.7 1.1-3.5 2.8-4.3 3.7-6 1-1.7 1.6-2.9 2-3.9 .4-1 .5-1.7 .6-2.1Z" fill="#00C0B8"/>
<path d="M749.2,1146.2c0,.8 0,1.7 .2,4.6 .2,2.9 .2,9 .8,12.7 .6,3.7 1.9,6.5 2.9,9.6 1,3 2.4,5.6 3.3,8.7 .9,3.1 2,7.4 2.1,10 .1,2.6 -.6,4 -1.3,5.8 -.7,1.8 -2,3.6 -2.8,4.8 -.8,1.2 -1.7,1.9 -2,2.3L744.8,1204.7c-.3-.4 -1.2-1.1 -2-2.3 -.8-1.2 -2.1-3 -2.8-4.8 -.7-1.8 -1.4-3.2 -1.3-5.8 .1-2.6 1.2-6.9 2.1-10 .9-3.1 2.3-5.7 3.3-8.7 1-3 2.3-5.9 2.9-9.6 .6-3.7 .6-9.8 .8-12.7 .2-2.9 .2-3.8 .2-4.6Z" fill="#00BFC4"/>
<path d="M776.6,1142c.4,.3 1.9,1.1 2.7,2.1 .8,1 1.5,2.3 2.1,3.9 .6,1.7 1.1,2.5 1.5,6 .4,3.5 1.2,9.6 1.1,14.7 -.1,5.1 -.8,11.1 -1.8,15.9 -1,4.8 -3,9.8 -4.4,13 -1.4,3.2 -3.2,5.3 -3.8,6.3L772.4,1203.9c-.6-1.1 -2.3-3.1 -3.7-6.3 -1.4-3.2 -3.4-8.2 -4.4-13 -1-4.8 -1.7-10.8 -1.8-15.9 -.1-5.1 .7-11.3 1.1-14.7 .4-3.5 .8-4.3 1.4-6 .6-1.7 1.4-2.9 2.2-3.9 .8-1 2.2-1.7 2.6-2.1Z" fill="#00BDD0"/>
<path d="M798.6,1142c.1,.3 .2,1.1 .6,2.1 .4,1 1.1,1.3 2,3.9 .9,2.6 2.6,6.2 3.7,11.7 1.1,5.5 2.7,16 2.9,21.6 .2,5.6 -.7,8.4 -1.7,12.1 -.9,3.7 -2.8,7.4 -4,9.9 -1.2,2.4 -2.8,4 -3.4,4.8L797.1,1208.1c-.6-.8 -2.1-2.3 -3.4-4.8 -1.2-2.4 -3.1-6.2 -4.1-9.9 -1-3.7 -1.9-6.5 -1.7-12.1 .2-5.6 1.8-16 2.9-21.6 1.1-5.5 2.8-9.1 3.7-11.7 1-2.6 1.6-2.9 2-3.9 .4-1 .5-1.7 .6-2.1Z" fill="#00BBDB"/>
<path d="M823.3,1142c.1,.3 .2,1.1 .6,2.1 .4,1 1,1 2,3.9 1,2.9 2.6,7.3 3.7,13.6 1.1,6.2 2.7,18.3 2.9,23.9 .2,5.6 -.7,6.7 -1.7,9.6 -1,2.9 -2.8,6 -4.1,7.9 -1.2,2 -2.8,3.2 -3.4,3.8L821.7,1206.8c-.6-.6 -2.2-1.8 -3.4-3.8 -1.2-2 -3.1-5 -4-7.9 -.9-2.9 -1.9-4 -1.7-9.6 .2-5.6 1.8-17.7 2.9-23.9 1.1-6.2 2.8-10.7 3.7-13.6 1-2.9 1.6-2.9 2-3.9 .4-1 .5-1.7 .6-2.1Z" fill="#00B8E5"/>
<path d="M847.9,1142c.1,.3 .1,1.1 .6,2.1 .5,1 1.2,1.3 2.2,3.9 1,2.6 2.9,6.2 4.1,11.7 1.2,5.5 2.9,16.4 3.1,21.6 .2,5.2 -.8,6.7 -1.8,9.6 -1,2.9 -3,5.9 -4.4,7.9 -1.4,1.9 -3.1,3.2 -3.7,3.8L846.4,1202.6c-.6-.6 -2.4-1.8 -3.8-3.8 -1.4-1.9 -3.4-5 -4.4-7.9 -1-2.9 -2-4.4 -1.8-9.6 .2-5.2 2-16 3.2-21.6 1.2-5.5 3.1-9.1 4.1-11.7 1-2.6 1.6-2.9 2.1-3.9 .4-1 .5-1.7 .6-2.1Z" fill="#00B4EF"/>
<path d="M872.6,1142c.1,.3 .1,1.1 .5,2.1 .4,1 1.1,2.3 2.2,3.9 1,1.7 2.9,2.5 4.1,6 1.2,3.5 3,9.9 3.2,14.7 .2,4.8 -.8,9.8 -1.9,14 -1.1,4.2 -3.1,8.6 -4.4,11.4 -1.4,2.8 -3.1,4.7 -3.7,5.6L871,1199.7c-.6-.9 -2.4-2.8 -3.7-5.6 -1.4-2.8 -3.3-7.2 -4.4-11.4 -1-4.2 -2.1-9.2 -1.9-14 .2-4.8 2-11.3 3.2-14.7 1.2-3.5 3-4.3 4.1-6 1-1.7 1.8-2.9 2.2-3.9 .5-1 .4-1.7 .5-2.1Z" fill="#00B0F6"/>
<path d="M900.6,1143.3c.5,.4 2.3,1.1 3.2,2.1 .9,1 1.7,.4 2.2,3.9 .5,3.4 .5,9.4 .7,16.8 .2,7.4 .7,22 .5,27.8 -.2,5.8 -.7,4.7 -1.4,6.8 -.8,2 -2.2,4.1 -3.1,5.5 -.9,1.4 -1.8,2.3 -2.2,2.7L892.3,1208.9c-.3-.5 -1.2-1.3 -2.1-2.7 -.9-1.4 -2.4-3.5 -3.1-5.5 -.8-2 -1.2-1 -1.4-6.8 -.1-5.8 .3-20.4 .5-27.8 .2-7.4 .2-13.3 .7-16.8 .5-3.4 1.3-2.9 2.2-3.9 .9-1 2.7-1.8 3.2-2.1Z" fill="#00ABFD"/>
<path d="M925.2,1143.3c.5,.4 2.4,1.1 3.3,2.1 .9,1 1.6,2.7 2.1,3.9 .5,1.2 .5,1 .7,3.5 .2,2.5 .8,7.1 .6,11.8 -.2,4.7 -.8,11.2 -1.9,16.1 -1,4.9 -3,10 -4.4,13.3 -1.4,3.3 -3.1,5.4 -3.7,6.5L920.3,1200.5c-.6-1.1 -2.4-3.2 -3.8-6.5 -1.3-3.3 -3.3-8.4 -4.3-13.3 -1-4.9 -1.7-11.5 -1.9-16.1 -.2-4.7 .3-9.2 .5-11.8 .2-2.5 .2-2.3 .7-3.5 .5-1.2 1.3-2.9 2.2-3.9 .9-1 2.7-1.8 3.2-2.1Z" fill="#00A5FF"/>
<path d="M946.5,1142c.1,.3 .2,1.1 .6,2.1 .4,1 1.1,.5 2,3.9 .9,3.4 2.6,9.1 3.7,16.4 1.1,7.3 2.7,21.9 2.9,27.4 .2,5.5 -.7,3.8 -1.4,5.5 -.7,1.7 -2,3.3 -2.8,4.4 -.8,1.1 -1.7,1.8 -2,2.2L941.9,1203.9c-.3-.4 -1.2-1.1 -2-2.2 -.8-1.1 -2.1-2.8 -2.8-4.4 -.7-1.7 -1.6,0 -1.3-5.5 .3-5.5 1.8-20.1 2.9-27.4 1.1-7.3 2.7-13 3.7-16.4 .9-3.4 1.6-2.9 2-3.9 .4-1 .5-1.7 .6-2.1Z" fill="#529EFF"/>
<path d="M971.1,1142c.1,.3 .2,1.1 .6,2.1 .4,1 1.1,1.6 2,3.9 .9,2.3 2.6,4.9 3.7,9.8 1.1,4.8 2.7,14.1 2.9,19.3 .2,5.2 -.7,8.4 -1.7,12.1 -1,3.7 -2.9,7.4 -4.1,9.9 -1.2,2.5 -2.7,4 -3.3,4.8L969.6,1203.9c-.6-.8 -2.1-2.4 -3.4-4.8 -1.2-2.5 -3.1-6.2 -4.1-9.9 -1-3.7 -1.9-6.9 -1.7-12.1 .2-5.2 1.8-14.4 2.9-19.3 1.1-4.8 2.8-7.5 3.7-9.8 1-2.3 1.6-2.9 2-3.9 .4-1 .5-1.7 .6-2.1Z" fill="#7997FF"/>
<path d="M995.6,1145.4c0,.8 0,1.7 .2,4.8 .2,3.1 .2,9.6 .8,13.6 .6,4 1.9,7 2.9,10.2 1,3.2 2.4,5.9 3.3,9.2 .9,3.3 2,8.2 2.1,10.7 .1,2.5 -.6,3.1 -1.3,4.5 -.7,1.4 -2,2.8 -2.8,3.7 -.8,.9 -1.7,1.5 -2,1.8L991.2,1203.9c-.3-.3 -1.2-.9 -2-1.8 -.8-.9 -2.1-2.3 -2.8-3.7 -.7-1.4 -1.4-2 -1.3-4.5 .1-2.5 1.2-7.4 2.1-10.7 .9-3.3 2.3-6 3.3-9.2 1-3.2 2.3-6.2 2.9-10.2 .6-4 .6-10.5 .8-13.6 .2-3.1 .2-4 .2-4.8Z" fill="#9590FF"/>
<path d="M1020.2,1142c0,.9 0,1.9 .2,5.2 .2,3.3 .2,10.3 .8,14.5 .6,4.2 1.9,7.4 2.9,10.9 1,3.5 2.4,6.4 3.3,9.9 .9,3.6 2,8.7 2.2,11.4 .1,2.7 -.6,3.4 -1.3,4.9 -.7,1.5 -2.1,3 -2.9,4 -.8,1 -1.7,1.6 -2,1.9L1015.9,1204.7c-.3-.3 -1.2-.9 -2-1.9 -.8-1 -2.2-2.5 -2.9-4 -.7-1.5 -1.4-2.2 -1.3-4.9 .1-2.7 1.3-7.9 2.2-11.4 .9-3.6 2.3-6.4 3.3-9.9 1-3.5 2.2-6.7 2.8-10.9 .6-4.2 .6-11.2 .8-14.5 .2-3.3 .2-4.3 .2-5.2Z" fill="#AC88FF"/>
<path d="M1044.9,1151.7c0,.8 0,1.7 .2,4.6 .2,2.9 .2,9.2 .8,13 .6,3.8 1.9,6.7 2.9,9.8 1,3.1 2.3,5.6 3.2,8.8 .9,3.2 2,7.9 2.2,10.2 .2,2.3 -.7,2.4 -1,3.4 -.3,1 -.3,2 -.8,2.7 -.5,.7 -1.7,1.2 -2,1.4L1038.1,1205.6c-.3-.2 -1.6-.7 -2-1.4 -.4-.7 -.4-1.7 -.7-2.7 -.3-1 -1.3-1.1 -1.1-3.4 .2-2.3 1.3-7 2.2-10.2 .9-3.2 2.3-5.7 3.3-8.8 1-3.1 2.3-6 2.9-9.8 .6-3.8 .6-10.1 .8-13 .2-2.9 .2-3.8 .2-4.6Z" fill="#BF80FF"/>
<path d="M1069.5,1146.2c0,.9 0,1.9 .2,5.2 .2,3.3 .2,10.3 .8,14.5 .6,4.2 1.9,7.4 2.9,10.9 1,3.5 2.4,6.4 3.3,9.9 .9,3.5 2,8.9 2.2,11.4 .2,2.5 -.8,2.4 -1.1,3.4 -.3,1 -.3,2 -.7,2.7 -.5,.7 -1.7,1.2 -2,1.4L1062.8,1205.6c-.3-.2 -1.5-.7 -2-1.4 -.5-.7 -.5-1.7 -.8-2.7 -.3-1 -1.2-.9 -1-3.4 .2-2.5 1.3-7.8 2.2-11.4 .9-3.5 2.2-6.4 3.2-9.9 1-3.5 2.3-6.7 2.9-10.9 .6-4.2 .6-11.2 .8-14.5 .2-3.3 .2-4.3 .2-5.2Z" fill="#CF78FF"/>
<path d="M1095.1,1142c.2,.3 .6,1.1 1.1,2.1 .5,1 1.2,.4 2,3.9 .8,3.6 2.1,9.8 3,17.4 .9,7.7 2.1,22.9 2.3,28.5 .2,5.6 -.6,3.7 -1.3,5.3 -.7,1.6 -2.1,3.2 -2.9,4.3 -.8,1.1 -1.7,1.7 -2,2.1L1089.8,1205.6c-.3-.3 -1.2-1 -2-2.1 -.8-1.1 -2.2-2.7 -2.9-4.3 -.7-1.6 -1.5,.3 -1.3-5.3 .2-5.6 1.4-20.8 2.3-28.5 .9-7.7 2.2-13.9 3-17.4 .8-3.6 1.5-2.9 2-3.9 .5-1 .9-1.7 1.1-2.1Z" fill="#DC71FA"/>
<path d="M1119,1143.3c.1,.4 .1,1.1 .5,2.1 .4,1 1,.4 2,3.9 1,3.4 2.7,9.4 3.8,16.8 1.1,7.4 2.5,22.4 2.8,27.8 .2,5.5 -.6,3.4 -1.3,4.9 -.7,1.5 -2,3 -2.8,4 -.8,1 -1.7,1.6 -2,1.9L1114.4,1204.7c-.3-.3 -1.2-.9 -2-1.9 -.8-1 -2.1-2.5 -2.8-4 -.7-1.5 -1.5,.6 -1.3-4.9 .2-5.5 1.7-20.4 2.8-27.8 1.1-7.4 2.8-13.3 3.8-16.8 1-3.4 1.6-2.9 2-3.9 .4-1 .4-1.8 .5-2.1Z" fill="#E76BF3"/>
<path d="M1143.4,1174.7c0,.3 0,.8 .2,2 .1,1.2 .2,3.7 .7,5.3 .5,1.6 1.6,2.8 2.5,4.1 .9,1.3 2,2.3 2.8,3.6 .8,1.3 1.7,3.1 1.9,4.2 .2,1.1 -.7,1.8 -.9,2.6 -.2,.8 -.2,1.6 -.6,2.1 -.4,.5 -1.5,.9 -1.8,1.1L1137.5,1199.7c-.3-.2 -1.4-.6 -1.8-1.1 -.4-.5 -.3-1.3 -.6-2.1 -.3-.8 -1.2-1.5 -1-2.6 .2-1.1 1.2-2.9 2-4.2 .8-1.3 1.9-2.3 2.8-3.6 .9-1.3 2-2.5 2.5-4.1 .5-1.6 .5-4.1 .6-5.3 .1-1.2 .2-1.7 .2-2Z" fill="#F066EA"/>
<path d="M1168.1,1184c0,.3 0,.7 .2,1.9 .2,1.2 .2,3.8 .8,5.4 .6,1.6 1.9,2.7 2.9,4 1,1.3 2.3,2.3 3.2,3.6 .9,1.3 2,3.3 2.2,4.3 .2,1 -.7,1.1 -1,1.6 -.3,.5 -.3,1.1 -.8,1.4 -.5,.3 -1.7,.5 -2,.6L1161.3,1206.8c-.3-.1 -1.5-.3 -2-.6 -.5-.3 -.4-.9 -.7-1.4 -.3-.5 -1.3-.6 -1.1-1.6 .2-1 1.3-3 2.2-4.3 .9-1.3 2.3-2.3 3.3-3.6 1-1.3 2.3-2.4 2.9-4 .6-1.6 .6-4.2 .8-5.4 .2-1.2 .2-1.6 .2-1.9Z" fill="#F763E0"/>
<path d="M1192.7,1178.1c0,.3 .1,.7 .2,1.8 .1,1.1 .2,3.5 .7,5 .5,1.5 1.5,2.6 2.4,3.8 .9,1.2 2.1,2.2 2.9,3.4 .8,1.2 1.7,2.8 1.9,3.9 .2,1.2 -.6,2.1 -.9,3 -.3,.9 -.3,1.8 -.7,2.4 -.4,.6 -1.4,1 -1.7,1.2L1186.7,1202.6c-.3-.2 -1.3-.6 -1.7-1.2 -.4-.6 -.4-1.5 -.7-2.4 -.3-.9 -1.1-1.8 -.9-3 .2-1.2 1.1-2.7 1.9-3.9 .8-1.2 2-2.2 2.9-3.4 .9-1.2 2-2.3 2.5-3.8 .5-1.5 .5-3.9 .6-5 .1-1.1 .2-1.5 .2-1.8Z" fill="#FC61D5"/>
<path d="M1217.5,1161.3c.1,.4 .2,1.1 .6,2.1 .4,1 .9,1.8 1.7,3.9 .8,2.1 2.3,4.3 3.2,8.7 1,4.4 2.2,14.7 2.5,17.9 .2,3.2 -.7,.8 -1,1.1 -.3,.3 -.2,.7 -.6,.9 -.4,.2 -1.5,.3 -1.8,.4L1211.4,1196.3c-.3-.1 -1.4-.2 -1.8-.4 -.4-.2 -.3-.6 -.6-.9 -.2-.3 -1.2,2.1 -.9-1.1 .2-3.2 1.5-13.5 2.4-17.9 .9-4.4 2.4-6.6 3.2-8.7 .8-2.1 1.3-2.9 1.7-3.9 .4-1 .5-1.8 .6-2.1Z" fill="#FF61C9"/>
<path d="M1245.2,1142c.5,.3 2,1.1 2.9,2.1 .8,1 1.7,2.6 2.2,3.9 .6,1.4 .8,1.4 1.1,4.2 .3,2.8 1,7.4 .8,12.4 -.2,5 -.9,12.2 -1.9,17.6 -1,5.4 -3,11 -4.4,14.6 -1.3,3.6 -3.1,5.9 -3.7,7.1L1240.6,1203.9c-.6-1.2 -2.3-3.5 -3.7-7.1 -1.3-3.6 -3.4-9.2 -4.4-14.6 -1.1-5.4 -1.7-12.6 -1.9-17.6 -.2-5 .5-9.6 .8-12.4 .3-2.8 .5-2.9 1.1-4.2 .5-1.4 1.4-2.9 2.2-3.9 .8-1 2.4-1.7 2.9-2.1Z" fill="#FF62BC"/>
<path d="M1266.8,1142c.1,.3 .2,1.1 .6,2.1 .5,1 1.1,1 2.1,3.9 1,2.9 2.9,7.3 4.1,13.6 1.2,6.2 3,18.3 3.2,23.9 .2,5.6 -.8,6.7 -1.8,9.6 -1,2.9 -3,6 -4.4,7.9 -1.4,2 -3.2,3.2 -3.8,3.8L1265.2,1206.8c-.6-.6 -2.4-1.8 -3.7-3.8 -1.4-2 -3.4-5 -4.4-7.9 -1-2.9 -2-4 -1.8-9.6 .2-5.6 1.9-17.7 3.1-23.9 1.2-6.2 3-10.7 4.1-13.6 1-2.9 1.7-2.9 2.2-3.9 .5-1 .5-1.7 .6-2.1Z" fill="#FF65AE"/>
<path d="M1291.4,1142c.1,.3 .1,1.1 .6,2.1 .5,1 1.2,1 2.2,3.9 1,2.9 2.9,7.3 4.1,13.6 1.2,6.2 3,18.3 3.2,23.9 .2,5.6 -.9,6.7 -1.9,9.6 -1,2.9 -3,6 -4.4,7.9 -1.3,2 -3.1,3.2 -3.7,3.8L1289.9,1206.8c-.6-.6 -2.5-1.8 -3.8-3.8 -1.4-2 -3.3-5 -4.3-7.9 -1-2.9 -2.1-4 -1.9-9.6 .2-5.6 2-17.7 3.2-23.9 1.2-6.2 3.1-10.7 4.1-13.6 1-2.9 1.6-2.9 2.1-3.9 .5-1 .5-1.7 .6-2.1Z" fill="#FF689F"/>
<path d="M1316.1,1143.3c.1,.4 .2,1.1 .6,2.1 .5,1 1.1,.8 2.1,3.9 1,3.1 2.9,8.2 4.1,14.9 1.2,6.7 3,19.9 3.2,25.5 .2,5.6 -.9,5.8 -1.9,8.3 -1,2.5 -2.9,5.1 -4.3,6.8 -1.4,1.7 -3.2,2.7 -3.8,3.3L1314.5,1208.1c-.6-.5 -2.4-1.6 -3.7-3.3 -1.3-1.7 -3.3-4.3 -4.4-6.8 -1-2.5 -2.1-2.7 -1.9-8.3 .2-5.6 2-18.8 3.2-25.5 1.2-6.7 3-11.8 4.1-14.9 1-3.1 1.7-2.9 2.2-3.9 .5-1 .5-1.8 .6-2.1Z" fill="#FF6C90"/>
<path d="M1340.7,1143.3c.1,.4 .1,1.1 .6,2.1 .5,1 1.2,.8 2.2,3.9 1,3.1 2.9,8.2 4.1,14.9 1.2,6.7 2.8,20.5 3.1,25.5 .3,5 -.7,3.1 -1.4,4.5 -.8,1.4 -2.2,2.8 -3.1,3.7 -.9,.9 -1.8,1.5 -2.1,1.8L1335.9,1199.7c-.4-.3 -1.3-.9 -2.2-1.8 -.9-.9 -2.4-2.3 -3.1-3.7 -.8-1.4 -1.7,.5 -1.4-4.5 .3-5 2-18.8 3.2-25.5 1.2-6.7 3.1-11.8 4.1-14.9 1-3.1 1.6-2.9 2.1-3.9 .5-1 .5-1.8 .6-2.1Z" fill="#FC717F"/>
</g>
<line x1="118.7" x2="118.7" y1="1138.7" y2="1214.3" stroke="#000" stroke-width="3.4"/>
<line x1="117.0" x2="1352" y1="1212.8" y2="1212.8" stroke="#000" stroke-width="3.4"/>
<line x1="106.5" x2="118.7" y1="1140.2" y2="1140.2" stroke="#000" stroke-width="3.6"/>
<text x="98.8" y="1147.6" font-size="22" text-anchor="end">0.5</text>
<line x1="106.5" x2="118.7" y1="1154.3" y2="1154.3" stroke="#000" stroke-width="3.6"/>
<text x="98.8" y="1161.7" font-size="22" text-anchor="end">0.4</text>
<line x1="106.5" x2="118.7" y1="1168.4" y2="1168.4" stroke="#000" stroke-width="3.6"/>
<text x="98.8" y="1175.8" font-size="22" text-anchor="end">0.3</text>
<line x1="106.5" x2="118.7" y1="1182.5" y2="1182.5" stroke="#000" stroke-width="3.6"/>
<text x="98.8" y="1189.9" font-size="22" text-anchor="end">0.2</text>
<line x1="106.5" x2="118.7" y1="1196.6" y2="1196.6" stroke="#000" stroke-width="3.6"/>
<text x="98.8" y="1204.0" font-size="22" text-anchor="end">0.1</text>
<line x1="106.5" x2="118.7" y1="1210.7" y2="1210.7" stroke="#000" stroke-width="3.6"/>
<text x="98.8" y="1218.1" font-size="22" text-anchor="end">0.0</text>
<line x1="132.6" x2="132.6" y1="1212.8" y2="1219.8" stroke="#000" stroke-width="3.4"/>
<text x="143.1" y="1236.8" font-size="24.5" text-anchor="end" transform="rotate(-45 143.1 1236.8)">0</text>
<line x1="157.2" x2="157.2" y1="1212.8" y2="1219.8" stroke="#000" stroke-width="3.4"/>
<text x="167.7" y="1236.8" font-size="24.5" text-anchor="end" transform="rotate(-45 167.7 1236.8)">1</text>
<line x1="181.9" x2="181.9" y1="1212.8" y2="1219.8" stroke="#000" stroke-width="3.4"/>
<text x="192.4" y="1236.8" font-size="24.5" text-anchor="end" transform="rotate(-45 192.4 1236.8)">10</text>
<line x1="206.5" x2="206.5" y1="1212.8" y2="1219.8" stroke="#000" stroke-width="3.4"/>
<text x="217.0" y="1236.8" font-size="24.5" text-anchor="end" transform="rotate(-45 217.0 1236.8)">11</text>
<line x1="231.2" x2="231.2" y1="1212.8" y2="1219.8" stroke="#000" stroke-width="3.4"/>
<text x="241.7" y="1236.8" font-size="24.5" text-anchor="end" transform="rotate(-45 241.7 1236.8)">12</text>
<line x1="255.8" x2="255.8" y1="1212.8" y2="1219.8" stroke="#000" stroke-width="3.4"/>
<text x="266.3" y="1236.8" font-size="24.5" text-anchor="end" transform="rotate(-45 266.3 1236.8)">13</text>
<line x1="280.4" x2="280.4" y1="1212.8" y2="1219.8" stroke="#000" stroke-width="3.4"/>
<text x="290.9" y="1236.8" font-size="24.5" text-anchor="end" transform="rotate(-45 290.9 1236.8)">14</text>
<line x1="305.1" x2="305.1" y1="1212.8" y2="1219.8" stroke="#000" stroke-width="3.4"/>
<text x="315.6" y="1236.8" font-size="24.5" text-anchor="end" transform="rotate(-45 315.6 1236.8)">15</text>
<line x1="329.7" x2="329.7" y1="1212.8" y2="1219.8" stroke="#000" stroke-width="3.4"/>
<text x="340.2" y="1236.8" font-size="24.5" text-anchor="end" transform="rotate(-45 340.2 1236.8)">16</text>
<line x1="354.4" x2="354.4" y1="1212.8" y2="1219.8" stroke="#000" stroke-width="3.4"/>
<text x="364.9" y="1236.8" font-size="24.5" text-anchor="end" transform="rotate(-45 364.9 1236.8)">17</text>
<line x1="379.0" x2="379.0" y1="1212.8" y2="1219.8" stroke="#000" stroke-width="3.4"/>
<text x="389.5" y="1236.8" font-size="24.5" text-anchor="end" transform="rotate(-45 389.5 1236.8)">18</text>
<line x1="403.6" x2="403.6" y1="1212.8" y2="1219.8" stroke="#000" stroke-width="3.4"/>
<text x="414.1" y="1236.8" font-size="24.5" text-anchor="end" transform="rotate(-45 414.1 1236.8)">19</text>
<line x1="428.3" x2="428.3" y1="1212.8" y2="1219.8" stroke="#000" stroke-width="3.4"/>
<text x="438.8" y="1236.8" font-size="24.5" text-anchor="end" transform="rotate(-45 438.8 1236.8)">2</text>
<line x1="452.9" x2="452.9" y1="1212.8" y2="1219.8" stroke="#000" stroke-width="3.4"/>
<text x="463.4" y="1236.8" font-size="24.5" text-anchor="end" transform="rotate(-45 463.4 1236.8)">20</text>
<line x1="477.6" x2="477.6" y1="1212.8" y2="1219.8" stroke="#000" stroke-width="3.4"/>
<text x="488.1" y="1236.8" font-size="24.5" text-anchor="end" transform="rotate(-45 488.1 1236.8)">21</text>
<line x1="502.2" x2="502.2" y1="1212.8" y2="1219.8" stroke="#000" stroke-width="3.4"/>
<text x="512.7" y="1236.8" font-size="24.5" text-anchor="end" transform="rotate(-45 512.7 1236.8)">22</text>
<line x1="526.8" x2="526.8" y1="1212.8" y2="1219.8" stroke="#000" stroke-width="3.4"/>
<text x="537.3" y="1236.8" font-size="24.5" text-anchor="end" transform="rotate(-45 537.3 1236.8)">23</text>
<line x1="551.5" x2="551.5" y1="1212.8" y2="1219.8" stroke="#000" stroke-width="3.4"/>
<text x="562.0" y="1236.8" font-size="24.5" text-anchor="end" transform="rotate(-45 562.0 1236.8)">24</text>
<line x1="576.1" x2="576.1" y1="1212.8" y2="1219.8" stroke="#000" stroke-width="3.4"/>
<text x="586.6" y="1236.8" font-size="24.5" text-anchor="end" transform="rotate(-45 586.6 1236.8)">25</text>
<line x1="600.8" x2="600.8" y1="1212.8" y2="1219.8" stroke="#000" stroke-width="3.4"/>
<text x="611.3" y="1236.8" font-size="24.5" text-anchor="end" transform="rotate(-45 611.3 1236.8)">26</text>
<line x1="625.4" x2="625.4" y1="1212.8" y2="1219.8" stroke="#000" stroke-width="3.4"/>
<text x="635.9" y="1236.8" font-size="24.5" text-anchor="end" transform="rotate(-45 635.9 1236.8)">27</text>
<line x1="650.0" x2="650.0" y1="1212.8" y2="1219.8" stroke="#000" stroke-width="3.4"/>
<text x="660.5" y="1236.8" font-size="24.5" text-anchor="end" transform="rotate(-45 660.5 1236.8)">28</text>
<line x1="674.7" x2="674.7" y1="1212.8" y2="1219.8" stroke="#000" stroke-width="3.4"/>
<text x="685.2" y="1236.8" font-size="24.5" text-anchor="end" transform="rotate(-45 685.2 1236.8)">29</text>
<line x1="699.3" x2="699.3" y1="1212.8" y2="1219.8" stroke="#000" stroke-width="3.4"/>
<text x="709.8" y="1236.8" font-size="24.5" text-anchor="end" transform="rotate(-45 709.8 1236.8)">3</text>
<line x1="724.0" x2="724.0" y1="1212.8" y2="1219.8" stroke="#000" stroke-width="3.4"/>
<text x="734.5" y="1236.8" font-size="24.5" text-anchor="end" transform="rotate(-45 734.5 1236.8)">30</text>
<line x1="748.6" x2="748.6" y1="1212.8" y2="1219.8" stroke="#000" stroke-width="3.4"/>
<text x="759.1" y="1236.8" font-size="24.5" text-anchor="end" transform="rotate(-45 759.1 1236.8)">31</text>
<line x1="773.2" x2="773.2" y1="1212.8" y2="1219.8" stroke="#000" stroke-width="3.4"/>
<text x="783.7" y="1236.8" font-size="24.5" text-anchor="end" transform="rotate(-45 783.7 1236.8)">32</text>
<line x1="797.9" x2="797.9" y1="1212.8" y2="1219.8" stroke="#000" stroke-width="3.4"/>
<text x="808.4" y="1236.8" font-size="24.5" text-anchor="end" transform="rotate(-45 808.4 1236.8)">33</text>
<line x1="822.5" x2="822.5" y1="1212.8" y2="1219.8" stroke="#000" stroke-width="3.4"/>
<text x="833.0" y="1236.8" font-size="24.5" text-anchor="end" transform="rotate(-45 833.0 1236.8)">34</text>
<line x1="847.2" x2="847.2" y1="1212.8" y2="1219.8" stroke="#000" stroke-width="3.4"/>
<text x="857.7" y="1236.8" font-size="24.5" text-anchor="end" transform="rotate(-45 857.7 1236.8)">35</text>
<line x1="871.8" x2="871.8" y1="1212.8" y2="1219.8" stroke="#000" stroke-width="3.4"/>
<text x="882.3" y="1236.8" font-size="24.5" text-anchor="end" transform="rotate(-45 882.3 1236.8)">36</text>
<line x1="896.4" x2="896.4" y1="1212.8" y2="1219.8" stroke="#000" stroke-width="3.4"/>
<text x="906.9" y="1236.8" font-size="24.5" text-anchor="end" transform="rotate(-45 906.9 1236.8)">37</text>
<line x1="921.1" x2="921.1" y1="1212.8" y2="1219.8" stroke="#000" stroke-width="3.4"/>
<text x="931.6" y="1236.8" font-size="24.5" text-anchor="end" transform="rotate(-45 931.6 1236.8)">38</text>
<line x1="945.7" x2="945.7" y1="1212.8" y2="1219.8" stroke="#000" stroke-width="3.4"/>
<text x="956.2" y="1236.8" font-size="24.5" text-anchor="end" transform="rotate(-45 956.2 1236.8)">39</text>
<line x1="970.4" x2="970.4" y1="1212.8" y2="1219.8" stroke="#000" stroke-width="3.4"/>
<text x="980.9" y="1236.8" font-size="24.5" text-anchor="end" transform="rotate(-45 980.9 1236.8)">4</text>
<line x1="995.0" x2="995.0" y1="1212.8" y2="1219.8" stroke="#000" stroke-width="3.4"/>
<text x="1005.5" y="1236.8" font-size="24.5" text-anchor="end" transform="rotate(-45 1005.5 1236.8)">40</text>
<line x1="1019.6" x2="1019.6" y1="1212.8" y2="1219.8" stroke="#000" stroke-width="3.4"/>
<text x="1030.1" y="1236.8" font-size="24.5" text-anchor="end" transform="rotate(-45 1030.1 1236.8)">41</text>
<line x1="1044.3" x2="1044.3" y1="1212.8" y2="1219.8" stroke="#000" stroke-width="3.4"/>
<text x="1054.8" y="1236.8" font-size="24.5" text-anchor="end" transform="rotate(-45 1054.8 1236.8)">42</text>
<line x1="1068.9" x2="1068.9" y1="1212.8" y2="1219.8" stroke="#000" stroke-width="3.4"/>
<text x="1079.4" y="1236.8" font-size="24.5" text-anchor="end" transform="rotate(-45 1079.4 1236.8)">43</text>
<line x1="1093.6" x2="1093.6" y1="1212.8" y2="1219.8" stroke="#000" stroke-width="3.4"/>
<text x="1104.1" y="1236.8" font-size="24.5" text-anchor="end" transform="rotate(-45 1104.1 1236.8)">44</text>
<line x1="1118.2" x2="1118.2" y1="1212.8" y2="1219.8" stroke="#000" stroke-width="3.4"/>
<text x="1128.7" y="1236.8" font-size="24.5" text-anchor="end" transform="rotate(-45 1128.7 1236.8)">45</text>
<line x1="1142.8" x2="1142.8" y1="1212.8" y2="1219.8" stroke="#000" stroke-width="3.4"/>
<text x="1153.3" y="1236.8" font-size="24.5" text-anchor="end" transform="rotate(-45 1153.3 1236.8)">46</text>
<line x1="1167.5" x2="1167.5" y1="1212.8" y2="1219.8" stroke="#000" stroke-width="3.4"/>
<text x="1178.0" y="1236.8" font-size="24.5" text-anchor="end" transform="rotate(-45 1178.0 1236.8)">47</text>
<line x1="1192.1" x2="1192.1" y1="1212.8" y2="1219.8" stroke="#000" stroke-width="3.4"/>
<text x="1202.6" y="1236.8" font-size="24.5" text-anchor="end" transform="rotate(-45 1202.6 1236.8)">48</text>
<line x1="1216.8" x2="1216.8" y1="1212.8" y2="1219.8" stroke="#000" stroke-width="3.4"/>
<text x="1227.3" y="1236.8" font-size="24.5" text-anchor="end" transform="rotate(-45 1227.3 1236.8)">49</text>
<line x1="1241.4" x2="1241.4" y1="1212.8" y2="1219.8" stroke="#000" stroke-width="3.4"/>
<text x="1251.9" y="1236.8" font-size="24.5" text-anchor="end" transform="rotate(-45 1251.9 1236.8)">5</text>
<line x1="1266.0" x2="1266.0" y1="1212.8" y2="1219.8" stroke="#000" stroke-width="3.4"/>
<text x="1276.5" y="1236.8" font-size="24.5" text-anchor="end" transform="rotate(-45 1276.5 1236.8)">6</text>
<line x1="1290.7" x2="1290.7" y1="1212.8" y2="1219.8" stroke="#000" stroke-width="3.4"/>
<text x="1301.2" y="1236.8" font-size="24.5" text-anchor="end" transform="rotate(-45 1301.2 1236.8)">7</text>
<line x1="1315.3" x2="1315.3" y1="1212.8" y2="1219.8" stroke="#000" stroke-width="3.4"/>
<text x="1325.8" y="1236.8" font-size="24.5" text-anchor="end" transform="rotate(-45 1325.8 1236.8)">8</text>
<line x1="1340.0" x2="1340.0" y1="1212.8" y2="1219.8" stroke="#000" stroke-width="3.4"/>
<text x="1350.5" y="1236.8" font-size="24.5" text-anchor="end" transform="rotate(-45 1350.5 1236.8)">9</text>
<g stroke="#333" stroke-width="3.6" stroke-linejoin="round">
<path d="M136,1359.1c.4,.4 1.8,1.1 2.6,2.1 .8,1 1.5,2 2,3.9 .5,1.9 .8,3.4 1.1,7.3 .3,3.9 1,10.9 .8,16.3 -.1,5.4 -.7,11.3 -1.7,16.2 -.9,4.9 -2.8,10 -4,13.3 -1.2,3.3 -2.8,5.4 -3.4,6.5L131.8,1424.7c-.6-1.1 -2.2-3.2 -3.4-6.5 -1.2-3.3 -3-8.4 -4-13.3 -1-4.9 -1.6-10.8 -1.7-16.2 -.2-5.4 .5-12.4 .8-16.3 .3-3.9 .6-5.4 1.1-7.3 .5-1.9 1.2-2.9 2-3.9 .8-1 2.2-1.8 2.6-2.1Z" fill="#F8766D"/>
<path d="M162.2,1359.1c.6,.4 2.9,1.1 3.8,2.1 .9,1 1.8-1.1 1.6,3.9 -.2,5 -1.8,18.1 -3.1,26.1 -1.3,8 -3.3,16 -4.5,21.9 -1.2,5.9 -2.1,11.4 -2.5,13.7L155.9,1426.8c-.4-2.3 -1.3-7.8 -2.4-13.7 -1.2-5.9 -3.2-13.9 -4.5-21.9 -1.3-8 -2.9-21.1 -3.2-26.1 -.3-5 .7-2.9 1.6-3.9 .9-1 3.3-1.8 3.9-2.1Z" fill="#F37B59"/>
<path d="M184.2,1359.1c.5,.4 1.9,1.1 2.7,2.1 .8,1 1.5,2 2,3.9 .5,1.9 .8,3.4 1.1,7.3 .3,3.9 1,11.1 .8,16.3 -.2,5.2 -.7,10.2 -1.7,14.7 -1,4.5 -2.8,9.1 -4.1,12.1 -1.2,3 -2.8,4.9 -3.4,5.9L180,1421.4c-.6-1 -2.1-2.9 -3.3-5.9 -1.2-3 -3.1-7.6 -4.1-12.1 -1-4.5 -1.5-9.5 -1.7-14.7 -.2-5.2 .5-12.4 .8-16.3 .3-3.9 .6-5.4 1.1-7.3 .5-1.9 1.2-2.9 2-3.9 .8-1 2.2-1.8 2.6-2.1Z" fill="#EE8042"/>
<path d="M208,1359.1c.4,.4 1.6,1.1 2.3,2.1 .7,1 1.4,1.7 2,3.9 .6,2.2 1.1,4.6 1.5,9.2 .4,4.6 1.2,13.4 1.1,18.6 -.1,5.2 -.7,8.7 -1.7,12.5 -1,3.8 -2.9,7.7 -4.1,10.2 -1.2,2.5 -2.7,4.1 -3.3,4.9L204.2,1420.5c-.6-.8 -2.1-2.4 -3.4-4.9 -1.2-2.5 -3.1-6.4 -4.1-10.2 -1-3.8 -1.6-7.3 -1.7-12.5 -.1-5.2 .7-14 1.1-18.6 .4-4.6 .9-7 1.5-9.2 .6-2.2 1.3-2.9 2-3.9 .7-1 1.9-1.8 2.3-2.1Z" fill="#E7851E"/>
<path d="M230.2,1359.1c.2,.4 .4,1.1 .9,2.1 .5,1 1.1,1.1 2,3.9 .9,2.8 2.3,7 3.3,13 1,6 2.4,17.7 2.6,23.2 .2,5.5 -.7,6.7 -1.7,9.6 -.9,2.9 -2.8,5.9 -4,7.9 -1.2,1.9 -2.8,3.2 -3.4,3.8L228.3,1422.6c-.6-.6 -2.2-1.8 -3.4-3.8 -1.2-1.9 -3.1-5 -4.1-7.9 -1-2.9 -1.9-4.1 -1.7-9.6 .1-5.5 1.6-17.2 2.6-23.2 1-6 2.5-10.2 3.4-13 .9-2.8 1.5-2.9 2-3.9 .5-1 .7-1.8 .8-2.1Z" fill="#E08A00"/>
<path d="M254.7,1359.1c.2,.4 .7,1.1 1.2,2.1 .5,1 1.2,2 2,3.9 .8,1.9 2,3.4 2.9,7.3 .9,3.9 2.2,11.2 2.3,16.3 .1,5 -.8,9.8 -1.7,14 -1,4.2 -2.8,8.6 -4,11.4 -1.2,2.8 -2.8,4.7 -3.4,5.6L252.4,1419.7c-.6-.9 -2.2-2.8 -3.4-5.6 -1.2-2.8 -3.1-7.2 -4-11.4 -.9-4.2 -1.8-9 -1.7-14 .1-5 1.4-12.4 2.3-16.3 .9-3.9 2.1-5.4 2.9-7.3 .8-1.9 1.5-2.9 2-3.9 .5-1 1-1.8 1.2-2.1Z" fill="#D98F00"/>
<path d="M277.9,1359.1c0,.8 .1,3.5 .2,4.6 .2,1.2 .2,.4 .7,2.3 .5,1.9 1.5,5.2 2.4,9.1 .9,3.9 2.1,9 2.9,14.1 .8,5.1 1.8,12.6 1.9,16.3 .1,3.7 -.7,4 -1.5,5.8 -.8,1.8 -2.4,3.6 -3.5,4.8 -1.1,1.2 -2.4,1.9 -2.9,2.3L276.5,1418.4c-.5-.4 -1.7-1.1 -2.8-2.3 -1.1-1.2 -2.7-3 -3.6-4.8 -.8-1.8 -1.6-2.1 -1.5-5.8 .1-3.7 1.1-11.2 1.9-16.3 .8-5.1 2-10.2 2.9-14.1 .9-3.9 2-7.2 2.5-9.1 .5-1.9 .5-1.1 .6-2.3 .1-1.2 .2-3.8 .2-4.6Z" fill="#D09400"/>
<path d="M305.6,1359.1c.5,.4 2.3,1.1 3.2,2.1 .9,1 1.6,2.6 2,3.9 .4,1.2 .2,1.1 .3,3.6 .1,2.6 .5,6.9 .3,11.7 -.2,4.8 -.7,11.9 -1.7,17.1 -1,5.2 -2.8,10.6 -4.1,14.1 -1.2,3.5 -2.8,5.7 -3.4,6.8L300.6,1418.4c-.6-1.1 -2.1-3.3 -3.3-6.8 -1.2-3.5 -3.1-8.9 -4.1-14.1 -1-5.2 -1.4-12.3 -1.7-17.1 -.2-4.8 .1-9.2 .2-11.7 .1-2.6 0-2.4 .4-3.6 .4-1.2 1.1-2.9 2-3.9 .9-1 2.7-1.8 3.2-2.1Z" fill="#C79800"/>
<path d="M326.5,1359.1c.1,.4 .2,1.1 .7,2.1 .4,1 1.1,1.4 2,3.9 .9,2.5 2.6,5.8 3.6,11.1 1.1,5.3 2.5,15.9 2.7,20.9 .2,5 -.7,6.4 -1.7,9.1 -1,2.8 -2.9,5.6 -4.1,7.4 -1.2,1.8 -2.8,3 -3.3,3.6L324.8,1417.2c-.6-.6 -2.2-1.8 -3.4-3.6 -1.2-1.8 -3.1-4.6 -4.1-7.4 -1-2.8 -1.9-4.1 -1.7-9.1 .2-5 1.7-15.6 2.8-20.9 1-5.3 2.6-8.6 3.5-11.1 .9-2.5 1.5-2.9 2-3.9 .5-1 .6-1.8 .7-2.1Z" fill="#BD9D00"/>
<path d="M350.6,1359.1c.1,.4 .3,1.1 .8,2.1 .4,1 1,1.4 1.9,3.9 .9,2.5 2.3,5.8 3.3,11.1 1,5.3 2.4,15.7 2.6,20.9 .2,5.2 -.7,7.1 -1.6,10.2 -.9,3.1 -2.7,6.2 -3.9,8.3 -1.2,2.1 -2.7,3.4 -3.2,4.1L348.9,1419.7c-.5-.7 -2-2 -3.2-4.1 -1.2-2.1 -3-5.2 -3.9-8.3 -.9-3.1 -1.9-5 -1.7-10.2 .2-5.2 1.7-15.6 2.7-20.9 1-5.3 2.4-8.6 3.3-11.1 .9-2.5 1.5-2.9 1.9-3.9 .4-1 .6-1.8 .7-2.1Z" fill="#B2A100"/>
<path d="M374.4,1359.1c0,.8 .1,3.5 .2,4.6 .2,1.2 .1,.4 .7,2.3 .5,1.9 1.7,5.2 2.6,9.1 .9,3.9 2.2,9 3,14.1 .8,5.1 1.9,12.5 2,16.3 .1,3.8 -.7,4.5 -1.6,6.4 -.9,1.9 -2.6,3.9 -3.7,5.2 -1.1,1.3 -2.5,2.2 -3,2.6L373,1419.7c-.5-.4 -1.9-1.3 -3-2.6 -1.1-1.3 -2.8-3.3 -3.7-5.2 -.9-1.9 -1.7-2.6 -1.6-6.4 .1-3.8 1.2-11.2 2-16.3 .8-5.1 2.1-10.2 3-14.1 .9-3.9 2.1-7.2 2.6-9.1 .6-1.9 .5-1.1 .7-2.3 .1-1.2 .2-3.8 .2-4.6Z" fill="#A5A500"/>
<path d="M398.9,1359.1c.1,.4 .3,1.1 .7,2.1 .5,1 1.1,2 2,3.9 .9,1.9 2.5,3.4 3.5,7.3 1,3.9 2.6,11.2 2.8,16.3 .2,5 -.7,9.8 -1.7,14 -1,4.2 -2.8,8.6 -4.1,11.4 -1.2,2.8 -2.8,4.7 -3.4,5.6L397.1,1419.7c-.6-.9 -2.2-2.8 -3.4-5.6 -1.2-2.8 -3.1-7.2 -4-11.4 -.9-4.2 -1.9-9 -1.7-14 .2-5 1.6-12.4 2.7-16.3 1.1-3.9 2.7-5.4 3.6-7.3 .9-1.9 1.4-2.9 1.9-3.9 .4-1 .7-1.8 .8-2.1Z" fill="#98A800"/>
<path d="M426.2,1359.1c.5,.4 2.3,1.1 3.2,2.1 .9,1 1.6,2.6 2,3.9 .4,1.2 .2,1.1 .3,3.6 .1,2.6 .5,6.8 .3,11.7 -.2,4.9 -.7,12.3 -1.7,17.7 -1,5.4 -2.9,10.9 -4.1,14.5 -1.2,3.6 -2.8,5.9 -3.4,7.1L421.2,1419.7c-.6-1.2 -2.1-3.5 -3.3-7.1 -1.2-3.6 -3.1-9.1 -4.1-14.5 -1-5.4 -1.4-12.8 -1.7-17.7 -.2-4.9 .1-9.2 .2-11.7 .1-2.6 0-2.4 .4-3.6 .4-1.2 1.1-2.9 2-3.9 .9-1 2.7-1.8 3.2-2.1Z" fill="#89AC00"/>
<path d="M447.7,1359.1c.2,.4 .6,1.1 1.1,2.1 .5,1 1.2,1.7 2,3.9 .8,2.2 2.1,4.6 3,9.2 .9,4.6 2.2,13.2 2.3,18.6 .1,5.4 -.7,9.8 -1.7,14 -1,4.2 -2.9,8.6 -4.1,11.4 -1.2,2.8 -2.8,4.7 -3.3,5.6L445.4,1423.9c-.6-.9 -2.1-2.8 -3.4-5.6 -1.2-2.8 -3.1-7.2 -4.1-11.4 -1-4.2 -1.8-8.6 -1.7-14 .1-5.4 1.4-14 2.3-18.6 .9-4.6 2.2-7 3-9.2 .8-2.2 1.5-2.9 2-3.9 .5-1 .9-1.8 1.1-2.1Z" fill="#77AF00"/>
<path d="M471.2,1359.1c.1,.4 .4,1.1 .8,2.1 .4,1 1,1.7 1.9,3.9 .9,2.2 2.6,4.6 3.6,9.2 1.1,4.6 2.5,13.6 2.7,18.6 .2,5 -.7,8 -1.7,11.5 -.9,3.5 -2.8,7.1 -4,9.4 -1.2,2.3 -2.8,3.8 -3.4,4.6L469.5,1418.4c-.6-.8 -2.1-2.3 -3.4-4.6 -1.2-2.3 -3.1-5.9 -4.1-9.4 -1-3.5 -1.9-6.5 -1.7-11.5 .2-5 1.8-14 2.8-18.6 1.1-4.6 2.6-7 3.5-9.2 .9-2.2 1.6-2.9 2-3.9 .4-1 .6-1.8 .7-2.1Z" fill="#62B200"/>
<path d="M498.6,1359.1c.5,.3 2.3,1 3.2,1.8 .9,.9 1.6,2.3 2,3.3 .4,1 .2,.6 .3,2.6 .1,2 .4,4.5 .2,9.4 -.2,4.9 -.7,13.8 -1.7,19.9 -.9,6 -2.8,12.3 -4,16.4 -1.2,4.1 -2.8,6.7 -3.4,8L493.6,1420.5c-.6-1.3 -2.2-3.9 -3.4-8 -1.2-4.1 -3.1-10.4 -4-16.4 -.9-6 -1.4-15 -1.7-19.9 -.2-4.9 .1-7.4 .2-9.4 .1-2 -.1-1.6 .3-2.6 .4-1 1.1-2.4 2-3.3 .9-.9 2.7-1.5 3.2-1.8Z" fill="#45B500"/>
<path d="M519.1,1359.1c0,.9 0,2 .2,5.5 .2,3.5 .2,10.8 .8,15.3 .6,4.5 1.9,7.8 2.9,11.5 1,3.7 2.4,6.8 3.3,10.5 .9,3.8 2.1,9.2 2.2,12 .1,2.8 -.7,3.1 -1.4,4.5 -.7,1.4 -2,2.8 -2.8,3.7 -.8,.9 -1.7,1.5 -2,1.8L514.7,1423.9c-.3-.3 -1.2-.9 -2-1.8 -.8-.9 -2.1-2.3 -2.8-3.7 -.7-1.4 -1.4-1.8 -1.3-4.5 .2-2.8 1.3-8.2 2.2-12 .9-3.8 2.2-6.8 3.2-10.5 1-3.7 2.3-7 2.9-11.5 .6-4.5 .6-11.8 .8-15.3 .2-3.5 .2-4.6 .2-5.5Z" fill="#00B709"/>
<path d="M543.6,1359.1c.1,.4 .2,1.1 .7,2.1 .4,1 1.1,1.7 2,3.9 .9,2.2 2.4,4.6 3.5,9.2 1.1,4.6 2.6,13.4 2.8,18.6 .2,5.2 -.7,8.7 -1.7,12.5 -1,3.8 -2.9,7.7 -4.1,10.2 -1.2,2.5 -2.8,4.1 -3.4,4.9L541.8,1420.5c-.5-.8 -2.1-2.4 -3.3-4.9 -1.2-2.5 -3.1-6.4 -4.1-10.2 -1-3.8 -1.9-7.3 -1.7-12.5 .2-5.2 1.6-14 2.7-18.6 1-4.6 2.7-7 3.6-9.2 .9-2.2 1.5-2.9 2-3.9 .5-1 .6-1.8 .7-2.1Z" fill="#00BA38"/>
<path d="M568.1,1359.1c.2,.4 .5,1.1 1,2.1 .5,1 1.1,2.3 2,3.9 .9,1.5 2.3,2.2 3.2,5.4 .9,3.2 2.3,9.1 2.4,14.1 .1,5 -.7,11 -1.7,15.8 -1,4.8 -2.9,9.8 -4.1,13 -1.2,3.2 -2.7,5.2 -3.3,6.3L566,1419.7c-.6-1 -2.1-3.1 -3.4-6.3 -1.2-3.2 -3.1-8.2 -4.1-13 -1-4.8 -1.8-10.8 -1.7-15.8 .1-5 1.6-10.8 2.5-14.1 .9-3.2 2.3-3.9 3.1-5.4 .9-1.5 1.5-2.9 2-3.9 .5-1 .8-1.8 1-2.1Z" fill="#00BC51"/>
<path d="M592.2,1359.1c.2,.4 .5,1.1 1,2.1 .5,1 1.1,2.6 2,3.9 .9,1.2 2.3,1.1 3.2,3.6 .9,2.6 2.3,6.8 2.4,11.7 .1,5 -.7,12.5 -1.7,18 -.9,5.5 -2.8,11.2 -4,14.9 -1.2,3.7 -2.8,6 -3.4,7.2L590.1,1420.5c-.6-1.2 -2.1-3.5 -3.4-7.2 -1.2-3.7 -3.1-9.4 -4.1-14.9 -1-5.5 -1.8-13 -1.7-18 .1-5 1.6-9.2 2.5-11.7 .9-2.6 2.3-2.4 3.1-3.6 .9-1.2 1.5-2.9 2-3.9 .5-1 .9-1.8 1.1-2.1Z" fill="#00BD65"/>
<path d="M616.1,1359.1c.1,.4 .4,1.1 .9,2.1 .5,1 1.1,2.6 2,3.9 .9,1.2 2.3,1.1 3.3,3.6 1,2.6 2.5,6.9 2.6,11.7 .2,4.8 -.7,11.9 -1.7,17.1 -.9,5.2 -2.8,10.6 -4,14.1 -1.2,3.5 -2.8,5.7 -3.4,6.8L614.2,1418.4c-.6-1.1 -2.2-3.3 -3.4-6.8 -1.2-3.5 -3.1-8.9 -4-14.1 -.9-5.2 -1.8-12.3 -1.7-17.1 .2-4.8 1.6-9.2 2.6-11.7 1-2.6 2.4-2.4 3.3-3.6 .9-1.2 1.5-2.9 2-3.9 .5-1 .7-1.8 .9-2.1Z" fill="#00BF77"/>
<path d="M640.4,1359.1c.2,.4 .6,1.1 1.1,2.1 .5,1 1.1,2.3 2,3.9 .9,1.5 2.2,2.2 3.1,5.4 .9,3.2 2.4,9.2 2.5,14.1 .1,4.9 -.7,10.6 -1.7,15.2 -1,4.6 -2.9,9.4 -4.1,12.5 -1.2,3.1 -2.8,5.1 -3.4,6.1L638.3,1418.4c-.6-1 -2.2-3 -3.4-6.1 -1.2-3.1 -3.1-7.9 -4-12.5 -.9-4.6 -1.8-10.3 -1.7-15.2 .1-4.9 1.5-10.8 2.4-14.1 .9-3.2 2.3-3.9 3.2-5.4 .9-1.5 1.5-2.9 2-3.9 .5-1 .8-1.8 1-2.1Z" fill="#00C087"/>
<path d="M663.8,1359.1c0,.7 0,3 .2,4 .2,1 .2,.6 .8,2 .6,1.4 1.9,2.9 2.9,6.1 1,3.2 2.4,8.3 3.3,13 .9,4.7 2.1,11 2.2,15 .1,4 -.7,6.1 -1.7,8.7 -1,2.6 -2.9,5.3 -4.1,7.1 -1.2,1.8 -2.8,2.8 -3.4,3.4L662.4,1418.4c-.5-.6 -2.1-1.7 -3.3-3.4 -1.2-1.8 -3.1-4.5 -4.1-7.1 -1-2.6 -1.8-4.8 -1.7-8.7 .1-4 1.3-10.3 2.2-15 .9-4.7 2.3-9.8 3.3-13 1-3.2 2.2-4.8 2.8-6.1 .6-1.4 .6-1 .8-2 .2-1 .2-3.3 .2-4Z" fill="#00C096"/>
<path d="M688.5,1359.1c.1,.4 .4,1.1 .9,2.1 .5,1 1.1,1.1 2,3.9 .9,2.8 2.3,7 3.3,13 1,6 2.4,17.7 2.6,23.2 .1,5.5 -.7,6.7 -1.7,9.6 -1,2.9 -2.9,5.9 -4.1,7.9 -1.2,1.9 -2.7,3.2 -3.3,3.8L686.6,1422.6c-.6-.6 -2.1-1.8 -3.4-3.8 -1.2-1.9 -3.1-5 -4.1-7.9 -1-2.9 -1.9-4.1 -1.7-9.6 .1-5.5 1.6-17.2 2.6-23.2 1-6 2.5-10.2 3.4-13 .9-2.8 1.4-2.9 1.9-3.9 .5-1 .8-1.8 .9-2.1Z" fill="#00C1A4"/>
<path d="M712.1,1359.1c0,.8 0,3.5 .2,4.6 .2,1.2 .2,.4 .8,2.3 .6,1.9 1.9,5.2 2.9,9.1 1,3.9 2.3,9 3.2,14.1 .9,5.1 2.1,12.2 2.2,16.3 .1,4.1 -.7,5.8 -1.7,8.3 -.9,2.5 -2.8,5.1 -4,6.8 -1.2,1.7 -2.8,2.8 -3.4,3.3L710.7,1423.9c-.6-.6 -2.2-1.6 -3.4-3.3 -1.2-1.7 -3.1-4.3 -4.1-6.8 -1-2.5 -1.8-4.2 -1.7-8.3 .1-4.1 1.3-11.2 2.2-16.3 .9-5.1 2.3-10.2 3.3-14.1 1-3.9 2.3-7.2 2.9-9.1 .6-1.9 .6-1.1 .8-2.3 .2-1.2 .2-3.8 .2-4.6Z" fill="#00C0B2"/>
<path d="M739,1359.1c.4,.4 1.8,1.1 2.6,2.1 .8,1 1.6,2.2 2.2,3.9 .6,1.7 1.1,2.8 1.5,6.4 .4,3.6 1.2,10.4 1.1,15.2 -.1,4.8 -.8,9.5 -1.9,13.7 -1,4.2 -3,8.5 -4.4,11.3 -1.4,2.8 -3.1,4.6 -3.7,5.5L734.8,1417.2c-.6-.9 -2.3-2.7 -3.7-5.5 -1.3-2.8 -3.3-7.1 -4.4-11.3 -1.1-4.2 -1.8-8.9 -1.9-13.7 -.1-4.8 .7-11.6 1.1-15.2 .4-3.6 .9-4.7 1.5-6.4 .6-1.7 1.4-2.9 2.2-3.9 .8-1 2.2-1.8 2.6-2.1Z" fill="#00C0BE"/>
<path d="M760.7,1359.1c.1,.4 .2,1.1 .7,2.1 .4,1 1.1,1.7 2,3.9 .9,2.2 2.4,4.6 3.5,9.2 1.1,4.6 2.6,13.5 2.8,18.6 .2,5.1 -.7,8.4 -1.7,12.1 -1,3.7 -2.9,7.5 -4.1,9.9 -1.2,2.5 -2.8,4 -3.4,4.8L758.9,1419.7c-.6-.8 -2.2-2.3 -3.4-4.8 -1.2-2.5 -3-6.2 -4-9.9 -1-3.7 -1.9-7 -1.7-12.1 .2-5.1 1.7-14 2.7-18.6 1.1-4.6 2.7-7 3.6-9.2 .9-2.2 1.4-2.9 1.9-3.9 .4-1 .7-1.8 .8-2.1Z" fill="#00BECA"/>
<path d="M787.2,1359.1c.4,.2 1.9,.7 2.7,1.3 .8,.6 1.5,1.8 2.1,2.5 .6,.8 1.1,.5 1.5,2 .4,1.5 1.2,2.1 1.1,7.1 -.1,5 -.8,15.9 -1.8,22.8 -1,6.9 -3,14.1 -4.4,18.7 -1.4,4.6 -3.2,7.6 -3.8,9.1L783,1422.6c-.6-1.5 -2.4-4.5 -3.7-9.1 -1.4-4.6 -3.4-11.8 -4.4-18.7 -1-6.9 -1.7-17.8 -1.8-22.8 -.1-5 .7-5.6 1.1-7.1 .4-1.5 .8-1.2 1.4-2 .6-.8 1.4-1.9 2.2-2.5 .8-.6 2.2-1.1 2.6-1.3Z" fill="#00BCD6"/>
<path d="M813.4,1359.1c.6,.2 2.9,.8 3.8,1.5 .9,.7 1.9-1.2 1.7,2.8 -.2,4 -1.9,14.6 -3.2,21.4 -1.3,6.8 -3.3,14.2 -4.5,19.4 -1.2,5.2 -2,10.1 -2.4,12.1L807.2,1416.3c-.4-2 -1.3-6.8 -2.5-12.1 -1.2-5.2 -3.2-12.6 -4.5-19.4 -1.3-6.8 -3-17.4 -3.2-21.4 -.2-4 .8-2.1 1.7-2.8 .9-.7 3.2-1.2 3.8-1.5Z" fill="#00BAE0"/>
<path d="M832.8,1362c.1,.3 .2,1.1 .6,2.1 .4,1 1,1.1 2,3.9 1,2.8 2.6,6.8 3.7,12.7 1.1,5.9 2.7,17.7 2.9,22.7 .2,5 -.8,5.1 -1.7,7.3 -1,2.2 -2.8,4.6 -4,6.1 -1.2,1.5 -2.8,2.4 -3.4,2.9L831.3,1419.7c-.6-.5 -2.1-1.4 -3.4-2.9 -1.2-1.5 -3.1-3.9 -4.1-6.1 -1-2.2 -1.9-2.3 -1.7-7.3 .2-5 1.8-16.8 2.9-22.7 1.1-5.9 2.8-9.9 3.7-12.7 1-2.8 1.6-2.9 2-3.9 .4-1 .5-1.7 .6-2.1Z" fill="#00B7E9"/>
<path d="M859.6,1359.1c.4,.3 1.8,1 2.6,1.8 .8,.9 1.5,2.3 2,3.3 .5,1 .8,.6 1.1,2.6 .3,2 1,4.8 .8,9.4 -.1,4.6 -.8,12.8 -1.7,18.4 -1,5.6 -2.8,11.4 -4,15.2 -1.2,3.8 -2.8,6.2 -3.4,7.4L855.4,1417.2c-.6-1.2 -2.2-3.6 -3.4-7.4 -1.2-3.8 -3-9.6 -4-15.2 -1-5.6 -1.6-13.8 -1.7-18.4 -.1-4.6 .5-7.4 .8-9.4 .3-2 .6-1.6 1.1-2.6 .5-1 1.2-2.4 2-3.3 .8-.9 2.2-1.5 2.6-1.8Z" fill="#00B3F2"/>
<path d="M885.4,1359.1c.6,.4 2.6,1.1 3.5,2.1 .9,1 1.8-.8 1.7,3.9 -.1,4.7 -1.3,16.9 -2.5,24.2 -1.2,7.3 -3.3,14.4 -4.5,19.7 -1.2,5.4 -2.1,10.3 -2.5,12.4L879.5,1421.4c-.4-2.1 -1.2-7.1 -2.4-12.4 -1.1-5.4 -3.3-12.4 -4.5-19.7 -1.2-7.3 -2.4-19.5 -2.5-24.2 -.1-4.7 .8-2.9 1.7-3.9 .9-1 2.9-1.8 3.5-2.1Z" fill="#00AEF9"/>
<path d="M905.4,1359.1c.1,.4 .3,1.1 .7,2.1 .5,1 1.1,.8 2,3.9 .9,3.1 2.5,8.2 3.5,14.9 1,6.7 2.6,20 2.8,25.5 .2,5.5 -.7,5 -1.7,7.2 -1,2.2 -2.9,4.3 -4.1,5.8 -1.2,1.5 -2.8,2.4 -3.4,2.9L903.6,1421.4c-.6-.5 -2.1-1.5 -3.3-2.9 -1.2-1.5 -3.1-3.6 -4.1-5.8 -1-2.2 -1.9-1.8 -1.7-7.2 .2-5.5 1.7-18.8 2.7-25.5 1-6.7 2.7-11.8 3.6-14.9 .9-3.1 1.5-2.9 2-3.9 .5-1 .6-1.8 .7-2.1Z" fill="#00A9FF"/>
<path d="M929.5,1359.1c.1,.4 .3,1.1 .7,2.1 .5,1 1.1,1.1 2,3.9 .9,2.8 2.5,7 3.6,13 1,6 2.5,18.2 2.7,23.2 .2,5 -.7,4.7 -1.7,6.8 -1,2 -2.9,4.1 -4.1,5.5 -1.2,1.4 -2.8,2.3 -3.3,2.7L927.8,1416.3c-.6-.5 -2.1-1.3 -3.4-2.7 -1.2-1.4 -3.1-3.5 -4.1-5.5 -1-2 -1.9-1.8 -1.7-6.8 .2-5 1.7-17.2 2.8-23.2 1-6 2.6-10.2 3.5-13 .9-2.8 1.5-2.9 2-3.9 .5-1 .6-1.8 .7-2.1Z" fill="#29A3FF"/>
<path d="M953.4,1360.3c.1,.4 .2,1.1 .6,2.1 .4,1 1,1.3 2,3.9 1,2.6 2.6,6 3.7,11.5 1.1,5.5 2.7,16.7 2.9,21.4 .2,4.7 -.8,4.7 -1.7,6.8 -1,2 -2.8,4.1 -4,5.5 -1.2,1.4 -2.8,2.3 -3.4,2.7L951.9,1414.2c-.6-.5 -2.1-1.3 -3.4-2.7 -1.2-1.4 -3.1-3.5 -4.1-5.5 -1-2 -1.9-2.1 -1.7-6.8 .2-4.7 1.8-15.9 2.9-21.4 1.1-5.5 2.7-8.9 3.7-11.5 .9-2.6 1.6-2.9 2-3.9 .4-1 .5-1.8 .6-2.1Z" fill="#619CFF"/>
<path d="M977.6,1361.2c.1,.3 .1,1.1 .5,2.1 .4,1 1,1.3 1.8,3.9 .8,2.7 2.2,6.3 3.1,12 .9,5.7 2.3,16.7 2.5,22.1 .2,5.4 -.7,7.1 -1.5,10.2 -.8,3.1 -2.4,6.2 -3.5,8.3 -1.1,2.1 -2.4,3.4 -2.9,4.1L976,1423.9c-.5-.7 -1.8-2 -2.9-4.1 -1.1-2.1 -2.7-5.2 -3.5-8.3 -.8-3.1 -1.7-4.8 -1.5-10.2 .2-5.4 1.6-16.4 2.5-22.1 .9-5.7 2.3-9.3 3.1-12 .8-2.7 1.4-2.9 1.8-3.9 .4-1 .4-1.7 .5-2.1Z" fill="#8295FF"/>
<path d="M1004.7,1359.1c.5,.3 2,1 2.9,1.8 .8,.9 1.6,2.3 2.2,3.3 .5,1 .8,.6 1.1,2.6 .3,2 1,5 .8,9.4 -.2,4.4 -.9,11.9 -1.9,17.1 -1,5.2 -2.9,10.6 -4.3,14.1 -1.3,3.5 -3.2,5.7 -3.8,6.8L1000.1,1414.2c-.6-1.1 -2.4-3.3 -3.7-6.8 -1.4-3.5 -3.3-8.9 -4.4-14.1 -1-5.2 -1.7-12.7 -1.9-17.1 -.2-4.4 .6-7.4 .9-9.4 .3-2 .5-1.6 1-2.6 .5-1 1.4-2.4 2.2-3.3 .9-.9 2.4-1.5 2.9-1.8Z" fill="#9C8DFF"/>
<path d="M1028.1,1359.1c.4,.4 1.6,1.1 2.3,2.1 .8,1 1.5,1.1 2.2,3.9 .7,2.8 1.3,7 1.8,13 .5,6 1.5,17.6 1.4,23.2 -.1,5.6 -.8,7.4 -1.8,10.6 -1,3.2 -3,6.5 -4.4,8.6 -1.4,2.1 -3.2,3.5 -3.8,4.2L1024.2,1424.7c-.6-.7 -2.4-2.1 -3.7-4.2 -1.4-2.1 -3.4-5.4 -4.4-8.6 -1-3.2 -1.7-5 -1.8-10.6 -.1-5.6 .9-17.2 1.4-23.2 .5-6 1.1-10.2 1.8-13 .7-2.8 1.5-2.9 2.2-3.9 .8-1 1.9-1.8 2.3-2.1Z" fill="#B186FF"/>
<path d="M1049.8,1370.4c0,.6 0,1.3 .2,3.5 .2,2.2 .2,7 .8,9.9 .6,2.9 1.8,5 2.8,7.3 1,2.3 2.4,4.3 3.3,6.7 .9,2.4 2,5.5 2.2,7.7 .1,2.2 -.6,4 -1.3,5.8 -.7,1.8 -2.1,3.6 -2.9,4.8 -.8,1.2 -1.7,1.9 -2,2.3L1045.4,1418.4c-.3-.4 -1.2-1.1 -2-2.3 -.8-1.2 -2.2-3 -2.9-4.8 -.7-1.8 -1.4-3.5 -1.3-5.8 .2-2.2 1.3-5.3 2.2-7.7 .9-2.4 2.3-4.4 3.3-6.7 1-2.3 2.3-4.4 2.9-7.3 .6-2.9 .6-7.7 .8-9.9 .2-2.2 .2-2.9 .2-3.5Z" fill="#C37EFF"/>
<path d="M1073.9,1366.2c0,.7 0,1.6 .2,4.2 .2,2.6 .2,8.2 .8,11.6 .6,3.4 1.9,5.8 2.9,8.6 1,2.8 2.3,5.1 3.2,7.9 .9,2.8 2.1,6.7 2.2,9.1 .2,2.4 -.6,3.8 -1.3,5.5 -.7,1.7 -2,3.3 -2.8,4.4 -.8,1.1 -1.7,1.8 -2,2.2L1069.5,1419.7c-.3-.4 -1.2-1.1 -2-2.2 -.8-1.1 -2.1-2.8 -2.8-4.4 -.7-1.7 -1.5-3.1 -1.4-5.5 .1-2.4 1.3-6.3 2.2-9.1 .9-2.8 2.3-5.2 3.3-7.9 1-2.8 2.3-5.2 2.9-8.6 .6-3.4 .6-9 .8-11.6 .2-2.6 .2-3.5 .2-4.2Z" fill="#D277FF"/>
<path d="M1098,1360.3c0,.7 0,1.4 .2,3.9 .2,2.5 .2,7.7 .8,10.9 .6,3.2 1.9,5.6 2.9,8.2 1,2.6 2.4,4.8 3.3,7.4 .9,2.7 2,5.5 2.1,8.5 .1,3 -.8,6.7 -1.7,9.6 -1,2.9 -2.8,6 -4,7.9 -1.2,2 -2.8,3.2 -3.4,3.8L1096.6,1420.5c-.6-.6 -2.2-1.8 -3.4-3.8 -1.2-2 -3-5 -4-7.9 -1-2.9 -1.8-6.6 -1.7-9.6 .1-3 1.2-5.8 2.1-8.5 .9-2.7 2.3-4.8 3.3-7.4 1-2.6 2.3-5 2.9-8.2 .6-3.2 .6-8.4 .8-10.9 .2-2.5 .2-3.3 .2-3.9Z" fill="#DF70F9"/>
<path d="M1122.1,1359.1c0,.8 0,1.8 .2,5 .2,3.2 .2,10.1 .8,14.2 .6,4.2 1.9,7.3 2.9,10.7 1,3.4 2.4,6.1 3.3,9.6 .9,3.5 2.1,8.4 2.2,11.1 .1,2.7 -.7,3.4 -1.4,4.9 -.7,1.5 -2,3 -2.8,4 -.8,1 -1.7,1.6 -2,1.9L1117.7,1420.5c-.3-.3 -1.2-.9 -2-1.9 -.8-1 -2.1-2.5 -2.8-4 -.7-1.5 -1.5-2.2 -1.3-4.9 .1-2.7 1.3-7.7 2.2-11.1 .9-3.5 2.2-6.2 3.2-9.6 1-3.4 2.3-6.6 2.9-10.7 .6-4.2 .6-11 .8-14.2 .2-3.2 .2-4.2 .2-5Z" fill="#E96AF1"/>
<path d="M1147.9,1359.1c.3,.4 1.2,1.1 1.8,2.1 .6,1 1.3,1.7 2,3.9 .7,2.2 1.6,4.6 2.2,9.2 .6,4.6 1.7,13.6 1.7,18.6 0,5 -.7,8 -1.7,11.5 -1,3.5 -2.9,7.1 -4.1,9.4 -1.2,2.3 -2.8,3.8 -3.4,4.6L1144.8,1418.4c-.5-.8 -2.1-2.3 -3.3-4.6 -1.2-2.3 -3.1-5.9 -4.1-9.4 -1-3.5 -1.7-6.5 -1.7-11.5 0-5 1.1-14 1.7-18.6 .6-4.6 1.5-7 2.2-9.2 .7-2.2 1.4-2.9 2-3.9 .6-1 1.5-1.8 1.8-2.1Z" fill="#F166E8"/>
<path d="M1170.4,1373.8c0,.7 0,1.5 .2,4 .2,2.5 .2,7.9 .8,11.2 .6,3.3 1.8,5.8 2.8,8.5 1,2.7 2.4,4.9 3.3,7.6 .9,2.7 2.1,6.7 2.2,8.8 .2,2.1 -.6,2.7 -1.3,3.9 -.7,1.2 -2.1,2.5 -2.9,3.3 -.8,.8 -1.7,1.2 -2,1.5L1166,1422.6c-.3-.2 -1.2-.7 -2-1.5 -.8-.8 -2.2-2.1 -2.9-3.3 -.7-1.2 -1.4-1.8 -1.3-3.9 .2-2.1 1.3-6.1 2.2-8.8 .9-2.7 2.3-4.9 3.3-7.6 1-2.7 2.3-5.2 2.9-8.5 .6-3.3 .6-8.7 .8-11.2 .2-2.5 .2-3.3 .2-4Z" fill="#F863DE"/>
<path d="M1194.5,1364.5c0,.8 0,1.8 .2,4.8 .2,3 .2,9.4 .8,13.2 .6,3.9 1.9,6.8 2.9,9.9 1,3.2 2.3,5.8 3.2,9 .9,3.2 2.1,7.9 2.2,10.4 .2,2.4 -.6,3 -1.3,4.3 -.7,1.3 -2,2.6 -2.8,3.5 -.8,.9 -1.7,1.5 -2,1.8L1190.1,1421.4c-.3-.3 -1.2-.9 -2-1.8 -.8-.9 -2.1-2.2 -2.8-3.5 -.7-1.3 -1.5-1.8 -1.4-4.3 .1-2.4 1.3-7.2 2.2-10.4 .9-3.2 2.3-5.8 3.3-9 1-3.2 2.3-6.1 2.9-9.9 .6-3.9 .6-10.2 .8-13.2 .2-3 .2-4 .2-4.8Z" fill="#FC61D3"/>
<path d="M1218.8,1359.1c.1,.3 .1,1 .5,1.8 .4,.9 1,2.3 1.8,3.3 .8,1 2.2,.6 3.1,2.6 .9,2 2.3,6.4 2.5,9.4 .2,3 -.7,6 -1.5,8.6 -.8,2.6 -2.4,5.4 -3.5,7.1 -1.1,1.8 -2.4,2.8 -2.9,3.4L1217.2,1395.3c-.5-.6 -1.8-1.6 -2.9-3.4 -1.1-1.8 -2.7-4.5 -3.5-7.1 -.8-2.6 -1.7-5.6 -1.5-8.6 .2-3 1.6-7.4 2.5-9.4 .9-2 2.3-1.6 3.1-2.6 .8-1 1.4-2.4 1.8-3.3 .4-.9 .4-1.5 .5-1.8Z" fill="#FF61C7"/>
<path d="M1242.7,1381.3c0,.4 .1,.9 .2,2.6 .1,1.7 .2,5.2 .7,7.4 .5,2.1 1.5,3.8 2.4,5.5 .9,1.8 2.1,3.2 2.9,5 .8,1.8 1.8,4.1 1.9,5.8 .1,1.7 -.6,3 -1.2,4.3 -.6,1.3 -1.7,2.6 -2.4,3.5 -.7,.9 -1.5,1.5 -1.8,1.8L1238.8,1417.2c-.3-.3 -1-.9 -1.7-1.8 -.7-.9 -1.9-2.2 -2.5-3.5 -.6-1.3 -1.3-2.6 -1.2-4.3 .1-1.7 1.1-4 1.9-5.8 .8-1.8 2-3.2 2.9-5 .9-1.8 2-3.4 2.5-5.5 .5-2.1 .5-5.7 .6-7.4 .1-1.7 .2-2.2 .2-2.6Z" fill="#FF62BA"/>
<path d="M1266.8,1386.4c0,.4 0,.8 .2,2.3 .2,1.5 .2,4.6 .8,6.5 .6,1.9 1.9,3.3 2.9,4.9 1,1.6 2.4,2.9 3.3,4.5 .9,1.6 2.1,3.5 2.2,5.1 .2,1.6 -.6,3.1 -1.3,4.5 -.7,1.4 -2.1,2.8 -2.9,3.7 -.8,.9 -1.7,1.5 -2,1.8L1262.5,1419.7c-.3-.3 -1.2-.9 -2-1.8 -.8-.9 -2.2-2.3 -2.9-3.7 -.7-1.4 -1.4-2.9 -1.3-4.5 .2-1.6 1.3-3.5 2.2-5.1 .9-1.6 2.3-2.9 3.3-4.5 1-1.6 2.2-3 2.8-4.9 .6-1.9 .6-5 .8-6.5 .2-1.5 .2-1.9 .2-2.3Z" fill="#FF65AD"/>
<path d="M1291.9,1369.6c.2,.4 .6,1.1 1.1,2.1 .5,1 1.2,1.1 2,3.9 .8,2.8 2.1,7 3,13 .9,6 2.1,18.5 2.3,23.2 .2,4.7 -.6,3.4 -1.3,4.9 -.7,1.5 -2.1,3 -2.9,4 -.8,1 -1.7,1.6 -2,1.9L1286.6,1422.6c-.3-.3 -1.2-.9 -2-1.9 -.8-1 -2.2-2.5 -2.9-4 -.7-1.5 -1.5-.2 -1.3-4.9 .2-4.7 1.4-17.2 2.3-23.2 .9-6 2.2-10.2 3-13 .8-2.8 1.5-2.9 2-3.9 .5-1 .9-1.8 1.1-2.1Z" fill="#FF689E"/>
<path d="M1315.6,1385.5c.2,.3 .5,1.1 .9,2.1 .4,1 1,2 1.7,3.9 .8,1.9 2,3.6 2.8,7.7 .8,4.1 2,13.7 2.2,16.8 .2,3.1 -.6,1.2 -.9,1.7 -.3,.5 -.3,1 -.7,1.3 -.4,.3 -1.4,.6 -1.7,.7L1309.1,1419.7c-.3-.1 -1.3-.4 -1.7-.7 -.4-.3 -.4-.8 -.7-1.3 -.3-.5 -1.1,1.4 -.9-1.7 .2-3.1 1.3-12.7 2.1-16.8 .8-4.1 2-5.8 2.8-7.7 .8-1.9 1.4-2.9 1.8-3.9 .4-1 .7-1.7 .8-2.1Z" fill="#FF6D8F"/>
<path d="M1340.1,1365.4c.2,.3 .7,1.1 1.2,2.1 .5,1 1.2,1.3 2,3.9 .8,2.7 2,6.3 2.9,12 .9,5.7 2.1,18 2.3,22.1 .2,4.1 -.7,1.8 -1,2.6 -.3,.8 -.3,1.7 -.7,2.2 -.5,.5 -1.7,.8 -2,1L1332.4,1411.3c-.3-.2 -1.5-.5 -2-1 -.5-.5 -.4-1.4 -.7-2.2 -.3-.8 -1.2,1.5 -1-2.6 .2-4.1 1.4-16.4 2.3-22.1 .9-5.7 2.1-9.3 2.9-12 .8-2.7 1.5-2.9 2-3.9 .5-1 1-1.7 1.2-2.1Z" fill="#FC717F"/>
</g>
<line x1="118.7" x2="118.7" y1="1355.8" y2="1431.4" stroke="#000" stroke-width="3.4"/>
<line x1="117.0" x2="1352" y1="1429.9" y2="1429.9" stroke="#000" stroke-width="3.4"/>
<line x1="106.5" x2="118.7" y1="1357.3" y2="1357.3" stroke="#000" stroke-width="3.6"/>
<text x="98.8" y="1364.7" font-size="22" text-anchor="end">0.4</text>
<line x1="106.5" x2="118.7" y1="1374.9" y2="1374.9" stroke="#000" stroke-width="3.6"/>
<text x="98.8" y="1382.3" font-size="22" text-anchor="end">0.3</text>
<line x1="106.5" x2="118.7" y1="1392.5" y2="1392.5" stroke="#000" stroke-width="3.6"/>
<text x="98.8" y="1400.0" font-size="22" text-anchor="end">0.2</text>
<line x1="106.5" x2="118.7" y1="1410.2" y2="1410.2" stroke="#000" stroke-width="3.6"/>
<text x="98.8" y="1417.6" font-size="22" text-anchor="end">0.1</text>
<line x1="106.5" x2="118.7" y1="1427.8" y2="1427.8" stroke="#000" stroke-width="3.6"/>
<text x="98.8" y="1435.2" font-size="22" text-anchor="end">0.0</text>
<line x1="132.6" x2="132.6" y1="1429.9" y2="1436.9" stroke="#000" stroke-width="3.4"/>
<text x="143.1" y="1453.9" font-size="24.5" text-anchor="end" transform="rotate(-45 143.1 1453.9)">0</text>
<line x1="156.7" x2="156.7" y1="1429.9" y2="1436.9" stroke="#000" stroke-width="3.4"/>
<text x="167.2" y="1453.9" font-size="24.5" text-anchor="end" transform="rotate(-45 167.2 1453.9)">1</text>
<line x1="180.8" x2="180.8" y1="1429.9" y2="1436.9" stroke="#000" stroke-width="3.4"/>
<text x="191.3" y="1453.9" font-size="24.5" text-anchor="end" transform="rotate(-45 191.3 1453.9)">2</text>
<line x1="205.0" x2="205.0" y1="1429.9" y2="1436.9" stroke="#000" stroke-width="3.4"/>
<text x="215.5" y="1453.9" font-size="24.5" text-anchor="end" transform="rotate(-45 215.5 1453.9)">3</text>
<line x1="229.1" x2="229.1" y1="1429.9" y2="1436.9" stroke="#000" stroke-width="3.4"/>
<text x="239.6" y="1453.9" font-size="24.5" text-anchor="end" transform="rotate(-45 239.6 1453.9)">4</text>
<line x1="253.2" x2="253.2" y1="1429.9" y2="1436.9" stroke="#000" stroke-width="3.4"/>
<text x="263.7" y="1453.9" font-size="24.5" text-anchor="end" transform="rotate(-45 263.7 1453.9)">5</text>
<line x1="277.3" x2="277.3" y1="1429.9" y2="1436.9" stroke="#000" stroke-width="3.4"/>
<text x="287.8" y="1453.9" font-size="24.5" text-anchor="end" transform="rotate(-45 287.8 1453.9)">6</text>
<line x1="301.4" x2="301.4" y1="1429.9" y2="1436.9" stroke="#000" stroke-width="3.4"/>
<text x="311.9" y="1453.9" font-size="24.5" text-anchor="end" transform="rotate(-45 311.9 1453.9)">7</text>
<line x1="325.6" x2="325.6" y1="1429.9" y2="1436.9" stroke="#000" stroke-width="3.4"/>
<text x="336.1" y="1453.9" font-size="24.5" text-anchor="end" transform="rotate(-45 336.1 1453.9)">8</text>
<line x1="349.7" x2="349.7" y1="1429.9" y2="1436.9" stroke="#000" stroke-width="3.4"/>
<text x="360.2" y="1453.9" font-size="24.5" text-anchor="end" transform="rotate(-45 360.2 1453.9)">9</text>
<line x1="373.8" x2="373.8" y1="1429.9" y2="1436.9" stroke="#000" stroke-width="3.4"/>
<text x="384.3" y="1453.9" font-size="24.5" text-anchor="end" transform="rotate(-45 384.3 1453.9)">10</text>
<line x1="397.9" x2="397.9" y1="1429.9" y2="1436.9" stroke="#000" stroke-width="3.4"/>
<text x="408.4" y="1453.9" font-size="24.5" text-anchor="end" transform="rotate(-45 408.4 1453.9)">11</text>
<line x1="422.0" x2="422.0" y1="1429.9" y2="1436.9" stroke="#000" stroke-width="3.4"/>
<text x="432.5" y="1453.9" font-size="24.5" text-anchor="end" transform="rotate(-45 432.5 1453.9)">12</text>
<line x1="446.2" x2="446.2" y1="1429.9" y2="1436.9" stroke="#000" stroke-width="3.4"/>
<text x="456.7" y="1453.9" font-size="24.5" text-anchor="end" transform="rotate(-45 456.7 1453.9)">13</text>
<line x1="470.3" x2="470.3" y1="1429.9" y2="1436.9" stroke="#000" stroke-width="3.4"/>
<text x="480.8" y="1453.9" font-size="24.5" text-anchor="end" transform="rotate(-45 480.8 1453.9)">14</text>
<line x1="494.4" x2="494.4" y1="1429.9" y2="1436.9" stroke="#000" stroke-width="3.4"/>
<text x="504.9" y="1453.9" font-size="24.5" text-anchor="end" transform="rotate(-45 504.9 1453.9)">15</text>
<line x1="518.5" x2="518.5" y1="1429.9" y2="1436.9" stroke="#000" stroke-width="3.4"/>
<text x="529.0" y="1453.9" font-size="24.5" text-anchor="end" transform="rotate(-45 529.0 1453.9)">16</text>
<line x1="542.6" x2="542.6" y1="1429.9" y2="1436.9" stroke="#000" stroke-width="3.4"/>
<text x="553.1" y="1453.9" font-size="24.5" text-anchor="end" transform="rotate(-45 553.1 1453.9)">17</text>
<line x1="566.8" x2="566.8" y1="1429.9" y2="1436.9" stroke="#000" stroke-width="3.4"/>
<text x="577.3" y="1453.9" font-size="24.5" text-anchor="end" transform="rotate(-45 577.3 1453.9)">18</text>
<line x1="590.9" x2="590.9" y1="1429.9" y2="1436.9" stroke="#000" stroke-width="3.4"/>
<text x="601.4" y="1453.9" font-size="24.5" text-anchor="end" transform="rotate(-45 601.4 1453.9)">19</text>
<line x1="615.0" x2="615.0" y1="1429.9" y2="1436.9" stroke="#000" stroke-width="3.4"/>
<text x="625.5" y="1453.9" font-size="24.5" text-anchor="end" transform="rotate(-45 625.5 1453.9)">20</text>
<line x1="639.1" x2="639.1" y1="1429.9" y2="1436.9" stroke="#000" stroke-width="3.4"/>
<text x="649.6" y="1453.9" font-size="24.5" text-anchor="end" transform="rotate(-45 649.6 1453.9)">21</text>
<line x1="663.2" x2="663.2" y1="1429.9" y2="1436.9" stroke="#000" stroke-width="3.4"/>
<text x="673.7" y="1453.9" font-size="24.5" text-anchor="end" transform="rotate(-45 673.7 1453.9)">22</text>
<line x1="687.4" x2="687.4" y1="1429.9" y2="1436.9" stroke="#000" stroke-width="3.4"/>
<text x="697.9" y="1453.9" font-size="24.5" text-anchor="end" transform="rotate(-45 697.9 1453.9)">23</text>
<line x1="711.5" x2="711.5" y1="1429.9" y2="1436.9" stroke="#000" stroke-width="3.4"/>
<text x="722.0" y="1453.9" font-size="24.5" text-anchor="end" transform="rotate(-45 722.0 1453.9)">24</text>
<line x1="735.6" x2="735.6" y1="1429.9" y2="1436.9" stroke="#000" stroke-width="3.4"/>
<text x="746.1" y="1453.9" font-size="24.5" text-anchor="end" transform="rotate(-45 746.1 1453.9)">25</text>
<line x1="759.7" x2="759.7" y1="1429.9" y2="1436.9" stroke="#000" stroke-width="3.4"/>
<text x="770.2" y="1453.9" font-size="24.5" text-anchor="end" transform="rotate(-45 770.2 1453.9)">26</text>
<line x1="783.8" x2="783.8" y1="1429.9" y2="1436.9" stroke="#000" stroke-width="3.4"/>
<text x="794.3" y="1453.9" font-size="24.5" text-anchor="end" transform="rotate(-45 794.3 1453.9)">27</text>
<line x1="808.0" x2="808.0" y1="1429.9" y2="1436.9" stroke="#000" stroke-width="3.4"/>
<text x="818.5" y="1453.9" font-size="24.5" text-anchor="end" transform="rotate(-45 818.5 1453.9)">28</text>
<line x1="832.1" x2="832.1" y1="1429.9" y2="1436.9" stroke="#000" stroke-width="3.4"/>
<text x="842.6" y="1453.9" font-size="24.5" text-anchor="end" transform="rotate(-45 842.6 1453.9)">29</text>
<line x1="856.2" x2="856.2" y1="1429.9" y2="1436.9" stroke="#000" stroke-width="3.4"/>
<text x="866.7" y="1453.9" font-size="24.5" text-anchor="end" transform="rotate(-45 866.7 1453.9)">30</text>
<line x1="880.3" x2="880.3" y1="1429.9" y2="1436.9" stroke="#000" stroke-width="3.4"/>
<text x="890.8" y="1453.9" font-size="24.5" text-anchor="end" transform="rotate(-45 890.8 1453.9)">31</text>
<line x1="904.4" x2="904.4" y1="1429.9" y2="1436.9" stroke="#000" stroke-width="3.4"/>
<text x="914.9" y="1453.9" font-size="24.5" text-anchor="end" transform="rotate(-45 914.9 1453.9)">32</text>
<line x1="928.6" x2="928.6" y1="1429.9" y2="1436.9" stroke="#000" stroke-width="3.4"/>
<text x="939.1" y="1453.9" font-size="24.5" text-anchor="end" transform="rotate(-45 939.1 1453.9)">33</text>
<line x1="952.7" x2="952.7" y1="1429.9" y2="1436.9" stroke="#000" stroke-width="3.4"/>
<text x="963.2" y="1453.9" font-size="24.5" text-anchor="end" transform="rotate(-45 963.2 1453.9)">34</text>
<line x1="976.8" x2="976.8" y1="1429.9" y2="1436.9" stroke="#000" stroke-width="3.4"/>
<text x="987.3" y="1453.9" font-size="24.5" text-anchor="end" transform="rotate(-45 987.3 1453.9)">35</text>
<line x1="1000.9" x2="1000.9" y1="1429.9" y2="1436.9" stroke="#000" stroke-width="3.4"/>
<text x="1011.4" y="1453.9" font-size="24.5" text-anchor="end" transform="rotate(-45 1011.4 1453.9)">36</text>
<line x1="1025.0" x2="1025.0" y1="1429.9" y2="1436.9" stroke="#000" stroke-width="3.4"/>
<text x="1035.5" y="1453.9" font-size="24.5" text-anchor="end" transform="rotate(-45 1035.5 1453.9)">37</text>
<line x1="1049.2" x2="1049.2" y1="1429.9" y2="1436.9" stroke="#000" stroke-width="3.4"/>
<text x="1059.7" y="1453.9" font-size="24.5" text-anchor="end" transform="rotate(-45 1059.7 1453.9)">38</text>
<line x1="1073.3" x2="1073.3" y1="1429.9" y2="1436.9" stroke="#000" stroke-width="3.4"/>
<text x="1083.8" y="1453.9" font-size="24.5" text-anchor="end" transform="rotate(-45 1083.8 1453.9)">39</text>
<line x1="1097.4" x2="1097.4" y1="1429.9" y2="1436.9" stroke="#000" stroke-width="3.4"/>
<text x="1107.9" y="1453.9" font-size="24.5" text-anchor="end" transform="rotate(-45 1107.9 1453.9)">40</text>
<line x1="1121.5" x2="1121.5" y1="1429.9" y2="1436.9" stroke="#000" stroke-width="3.4"/>
<text x="1132.0" y="1453.9" font-size="24.5" text-anchor="end" transform="rotate(-45 1132.0 1453.9)">41</text>
<line x1="1145.6" x2="1145.6" y1="1429.9" y2="1436.9" stroke="#000" stroke-width="3.4"/>
<text x="1156.1" y="1453.9" font-size="24.5" text-anchor="end" transform="rotate(-45 1156.1 1453.9)">42</text>
<line x1="1169.8" x2="1169.8" y1="1429.9" y2="1436.9" stroke="#000" stroke-width="3.4"/>
<text x="1180.3" y="1453.9" font-size="24.5" text-anchor="end" transform="rotate(-45 1180.3 1453.9)">43</text>
<line x1="1193.9" x2="1193.9" y1="1429.9" y2="1436.9" stroke="#000" stroke-width="3.4"/>
<text x="1204.4" y="1453.9" font-size="24.5" text-anchor="end" transform="rotate(-45 1204.4 1453.9)">44</text>
<line x1="1218.0" x2="1218.0" y1="1429.9" y2="1436.9" stroke="#000" stroke-width="3.4"/>
<text x="1228.5" y="1453.9" font-size="24.5" text-anchor="end" transform="rotate(-45 1228.5 1453.9)">45</text>
<line x1="1242.1" x2="1242.1" y1="1429.9" y2="1436.9" stroke="#000" stroke-width="3.4"/>
<text x="1252.6" y="1453.9" font-size="24.5" text-anchor="end" transform="rotate(-45 1252.6 1453.9)">46</text>
<line x1="1266.2" x2="1266.2" y1="1429.9" y2="1436.9" stroke="#000" stroke-width="3.4"/>
<text x="1276.7" y="1453.9" font-size="24.5" text-anchor="end" transform="rotate(-45 1276.7 1453.9)">47</text>
<line x1="1290.4" x2="1290.4" y1="1429.9" y2="1436.9" stroke="#000" stroke-width="3.4"/>
<text x="1300.9" y="1453.9" font-size="24.5" text-anchor="end" transform="rotate(-45 1300.9 1453.9)">48</text>
<line x1="1314.5" x2="1314.5" y1="1429.9" y2="1436.9" stroke="#000" stroke-width="3.4"/>
<text x="1325.0" y="1453.9" font-size="24.5" text-anchor="end" transform="rotate(-45 1325.0 1453.9)">49</text>
<line x1="1338.6" x2="1338.6" y1="1429.9" y2="1436.9" stroke="#000" stroke-width="3.4"/>
<text x="1349.1" y="1453.9" font-size="24.5" text-anchor="end" transform="rotate(-45 1349.1 1453.9)">50</text>
<g stroke="#333" stroke-width="3.6" stroke-linejoin="round">
<path d="M139.3,1553.5c.5,.3 2.2,1.1 3.2,2.1 .9,1 1.8,1.8 2.5,3.9 .7,2.1 1.1,4.3 1.5,8.7 .4,4.5 1.4,10.7 1.2,18 -.2,7.3 -1,18.1 -2.2,26 -1.2,7.9 -3.5,16 -5.1,21.3 -1.6,5.3 -3.8,8.7 -4.5,10.4L134.3,1643.9c-.8-1.7 -2.9-5.1 -4.5-10.4 -1.6-5.3 -3.9-13.4 -5.1-21.3 -1.2-7.9 -2-18.7 -2.2-26 -.2-7.3 .8-13.5 1.2-18 .5-4.5 .8-6.6 1.5-8.7 .7-2.1 1.5-2.9 2.5-3.9 1-1 2.7-1.7 3.2-2.1Z" fill="#F8766D"/>
<path d="M168.1,1553.5c.5,.3 2,1.1 2.9,2.1 .9,1 1.8,.2 2.4,3.9 .6,3.7 1,10.3 1.4,18.2 .4,7.9 1.2,21.9 1.1,29.4 -.2,7.5 -.9,11 -2,15.8 -1.1,4.8 -3.2,9.8 -4.7,13 -1.5,3.2 -3.4,5.3 -4.1,6.4L163.5,1642.3c-.7-1.1 -2.5-3.2 -4-6.4 -1.5-3.2 -3.7-8.2 -4.8-13 -1.1-4.8 -1.9-8.3 -2-15.8 -.1-7.5 .7-21.5 1.1-29.4 .4-7.9 .9-14.5 1.5-18.2 .6-3.7 1.4-2.9 2.3-3.9 .9-1 2.4-1.7 2.9-2.1Z" fill="#F27C55"/>
<path d="M196,1553.5c.3,.3 1.2,1.1 1.9,2.1 .7,1 1.6,.5 2.5,3.9 .9,3.4 2.2,9.1 3.2,16.3 .9,7.2 2.4,19.9 2.5,27.1 .1,7.2 -1,11.1 -2.2,15.9 -1.2,4.8 -3.5,9.8 -5.1,13 -1.6,3.2 -3.8,5.2 -4.5,6.3L192.7,1638.1c-.7-1 -2.8-3.1 -4.4-6.3 -1.6-3.2 -3.9-8.2 -5.1-13 -1.2-4.8 -2.2-8.7 -2.2-15.9 .1-7.2 1.6-19.9 2.5-27.1 .9-7.2 2.2-12.9 3.2-16.3 .9-3.4 1.8-2.9 2.5-3.9 .7-1 1.6-1.7 1.9-2.1Z" fill="#EB8335"/>
<path d="M225.2,1553.5c.3,.3 1.1,1.1 1.9,2.1 .8,1 1.7,.2 2.7,3.9 1.1,3.7 2.5,10.3 3.6,18.2 1.1,7.9 2.8,21.8 2.9,29.4 .1,7.6 -1.1,11.3 -2.4,16.2 -1.3,4.9 -3.8,10 -5.5,13.3 -1.7,3.3 -4,5.4 -4.8,6.5L221.9,1643.1c-.8-1.1 -3.1-3.2 -4.8-6.5 -1.7-3.3 -4.2-8.4 -5.5-13.3 -1.3-4.9 -2.4-8.6 -2.3-16.2 .1-7.6 1.7-21.5 2.8-29.4 1.1-7.9 2.5-14.5 3.6-18.2 1.1-3.7 1.9-2.9 2.7-3.9 .8-1 1.6-1.7 1.9-2.1Z" fill="#E38900"/>
<path d="M256.5,1553.5c.6,.3 2.5,1.1 3.5,2.1 1,1 2,1.5 2.7,3.9 .7,2.4 1.1,5.4 1.6,10.6 .5,5.2 1.4,13.1 1.2,20.3 -.2,7.2 -1,15.9 -2.3,22.8 -1.3,6.9 -3.8,14.1 -5.5,18.7 -1.7,4.6 -4.1,7.6 -4.9,9.1L251.2,1641c-.8-1.5 -3.2-4.5 -4.9-9.1 -1.7-4.6 -4.2-11.8 -5.5-18.7 -1.3-6.9 -2.1-15.6 -2.3-22.8 -.2-7.2 .7-15.2 1.2-20.3 .4-5.2 .8-8.2 1.5-10.6 .7-2.4 1.7-2.9 2.7-3.9 1-1 2.9-1.7 3.5-2.1Z" fill="#DA8F00"/>
<path d="M283.7,1553.5c.3,.3 1.1,1.1 1.9,2.1 .8,1 1.6,.5 2.7,3.9 1,3.4 2.5,9.1 3.6,16.3 1.1,7.2 2.7,19.9 2.8,27.1 .1,7.2 -1,11.1 -2.3,15.9 -1.3,4.8 -3.8,9.8 -5.5,13 -1.7,3.2 -4.1,5.2 -4.9,6.3L280.4,1638.1c-.8-1 -3.2-3.1 -4.9-6.3 -1.7-3.2 -4.2-8.2 -5.5-13 -1.3-4.8 -2.4-8.7 -2.3-15.9 .1-7.2 1.7-19.9 2.8-27.1 1.1-7.2 2.6-12.9 3.6-16.3 1.1-3.4 1.9-2.9 2.7-3.9 .8-1 1.6-1.7 1.9-2.1Z" fill="#CF9400"/>
<path d="M311,1553.5c0,1.1 0,2.5 .2,6.7 .2,4.2 .3,13.1 1.1,18.5 .8,5.4 2.5,9.5 3.8,13.9 1.3,4.4 2.9,8.1 4.1,12.6 1.1,4.5 2.6,10.9 2.8,14.5 .2,3.6 -.8,5 -1.7,7.2 -.9,2.2 -2.6,4.3 -3.6,5.8 -1,1.4 -2.1,2.4 -2.5,2.9L305.7,1635.6c-.4-.5 -1.6-1.4 -2.6-2.9 -1-1.4 -2.6-3.6 -3.5-5.8 -.9-2.2 -1.9-3.6 -1.7-7.2 .2-3.6 1.6-10 2.7-14.5 1.2-4.5 2.9-8.2 4.2-12.6 1.3-4.4 3-8.5 3.8-13.9 .8-5.4 .8-14.3 1-18.5 .2-4.2 .2-5.6 .2-6.7Z" fill="#C49A00"/>
<path d="M340.2,1553.5c0,1.1 0,2.5 .2,6.7 .2,4.2 .3,13.1 1.1,18.5 .8,5.4 2.5,9.5 3.8,13.9 1.3,4.4 2.9,8.1 4.1,12.6 1.1,4.5 2.7,10.6 2.8,14.5 .1,3.9 -1,6.1 -2.2,8.7 -1.2,2.6 -3.5,5.3 -5.1,7.1 -1.6,1.8 -3.8,2.8 -4.5,3.4L338.8,1638.9c-.7-.6 -2.8-1.7 -4.4-3.4 -1.6-1.8 -3.9-4.5 -5.1-7.1 -1.2-2.6 -2.3-4.8 -2.2-8.7 .1-3.9 1.5-10 2.7-14.5 1.1-4.5 2.9-8.2 4.2-12.6 1.3-4.4 3-8.5 3.8-13.9 .8-5.4 .8-14.3 1-18.5 .2-4.2 .2-5.6 .2-6.7Z" fill="#B79F00"/>
<path d="M373.8,1553.5c.6,.3 2.7,1.1 3.8,2.1 1.1,1 2,2.1 2.7,3.9 .6,1.8 .8,3 1.2,6.8 .3,3.8 1.1,9 .9,15.7 -.2,6.7 -1.1,17.1 -2.4,24.6 -1.3,7.5 -3.8,15.3 -5.5,20.3 -1.7,5 -4,8.2 -4.8,9.9L368,1636.8c-.8-1.6 -3.1-4.9 -4.8-9.9 -1.7-5 -4.2-12.8 -5.5-20.3 -1.3-7.5 -2.1-17.9 -2.3-24.6 -.2-6.7 .6-12 .9-15.7 .3-3.8 .5-5 1.1-6.8 .6-1.8 1.6-2.9 2.7-3.9 1.1-1 3.2-1.7 3.9-2.1Z" fill="#A9A400"/>
<path d="M402.2,1553.5c.6,.3 2.3,1.1 3.3,2.1 1,1 1.9,1.8 2.7,3.9 .8,2.1 1.3,4.3 1.9,8.7 .6,4.5 1.6,11 1.5,18 -.1,7 -1,16.8 -2.3,24.1 -1.3,7.3 -3.8,14.9 -5.5,19.8 -1.7,4.9 -4.1,8.1 -4.9,9.7L397.3,1639.8c-.8-1.6 -3.2-4.8 -4.9-9.7 -1.7-4.9 -4.2-12.5 -5.5-19.8 -1.3-7.3 -2.2-17.1 -2.3-24.1 -.1-7 .9-13.5 1.5-18 .6-4.5 1.1-6.6 1.9-8.7 .8-2.1 1.7-2.9 2.7-3.9 1-1 2.7-1.7 3.2-2.1Z" fill="#99A800"/>
<path d="M429.2,1553.5c.2,.3 .8,1.1 1.5,2.1 .7,1 1.5-.1 2.5,3.9 1,4 2.6,11.5 3.7,20.1 1.1,8.6 2.9,24.5 3,31.7 .1,7.2 -1,8 -2.2,11.5 -1.2,3.5 -3.5,7.1 -5.1,9.4 -1.6,2.3 -3.8,3.8 -4.5,4.6L426.5,1636.8c-.8-.8 -2.9-2.3 -4.5-4.6 -1.6-2.3 -3.9-5.9 -5.1-9.4 -1.2-3.5 -2.3-4.3 -2.2-11.5 .1-7.2 1.9-23.1 3-31.7 1.1-8.6 2.7-16.1 3.7-20.1 1-4 1.8-2.9 2.5-3.9 .7-1 1.2-1.7 1.5-2.1Z" fill="#86AC00"/>
<path d="M460.7,1553.5c.5,.3 2.2,1.1 3.2,2.1 .9,1 1.8,1.2 2.5,3.9 .7,2.7 1,6.7 1.5,12.5 .5,5.8 1.4,15.2 1.2,22.6 -.2,7.4 -1,15.2 -2.2,21.8 -1.2,6.6 -3.5,13.6 -5.1,18 -1.6,4.4 -3.8,7.2 -4.5,8.7L455.7,1643.1c-.8-1.4 -2.9-4.2 -4.5-8.7 -1.6-4.4 -3.9-11.4 -5.1-18 -1.2-6.6 -1.9-14.4 -2.1-21.8 -.2-7.4 .7-16.7 1.1-22.6 .4-5.8 .8-9.8 1.5-12.5 .7-2.7 1.5-2.9 2.5-3.9 1-1 2.7-1.7 3.3-2.1Z" fill="#70B000"/>
<path d="M488,1553.5c.3,.3 1.1,1.1 1.8,2.1 .7,1 1.5,.2 2.5,3.9 1,3.7 2.4,10.3 3.4,18.2 1,7.9 2.5,22.2 2.6,29.4 .1,7.2 -1,9.8 -2.2,14 -1.2,4.2 -3.5,8.6 -5.1,11.4 -1.6,2.8 -3.8,4.7 -4.5,5.6L484.9,1638.1c-.7-.9 -2.8-2.8 -4.4-5.6 -1.6-2.8 -3.9-7.2 -5.1-11.4 -1.2-4.2 -2.3-6.8 -2.2-14 .1-7.2 1.6-21.5 2.6-29.4 1-7.9 2.4-14.5 3.4-18.2 1-3.7 1.8-2.9 2.5-3.9 .7-1 1.5-1.7 1.8-2.1Z" fill="#53B400"/>
<path d="M518.4,1553.5c.4,.3 1.8,1.1 2.6,2.1 .9,1 1.7,.9 2.5,3.9 .8,3.1 1.6,7.9 2.3,14.4 .7,6.5 1.8,17.7 1.7,24.8 -.1,7.1 -1,12.3 -2.2,17.7 -1.2,5.4 -3.5,11 -5.1,14.6 -1.6,3.6 -3.7,5.9 -4.4,7.1L514.2,1638.1c-.8-1.2 -2.9-3.5 -4.5-7.1 -1.6-3.6 -3.9-9.2 -5.1-14.6 -1.2-5.4 -2.1-10.6 -2.2-17.7 -.1-7.1 1.1-18.3 1.8-24.8 .7-6.5 1.4-11.4 2.2-14.4 .8-3.1 1.6-2.9 2.5-3.9 .9-1 2.3-1.7 2.7-2.1Z" fill="#1DB700"/>
<path d="M546.8,1553.5c.4,.3 1.3,1.1 2.1,2.1 .8,1 1.7,1.5 2.7,3.9 1,2.4 2.4,5.4 3.4,10.6 1,5.2 2.6,13.4 2.7,20.3 .1,6.9 -1,14.5 -2.3,20.9 -1.3,6.3 -3.8,13 -5.5,17.2 -1.7,4.2 -4.1,6.9 -4.9,8.3L543.4,1636.8c-.8-1.4 -3.2-4 -4.9-8.3 -1.7-4.2 -4.2-10.9 -5.5-17.2 -1.3-6.3 -2.3-14 -2.3-20.9 0-6.9 1.6-15.2 2.6-20.3 1-5.2 2.5-8.2 3.5-10.6 1-2.4 1.9-2.9 2.7-3.9 .8-1 1.7-1.7 2-2.1Z" fill="#00BA38"/>
<path d="M576,1553.5c.4,.3 1.3,1.1 2.1,2.1 .8,1 1.6,1.5 2.5,3.9 .9,2.4 2.1,5.4 3,10.6 .9,5.2 2.4,13.2 2.4,20.3 0,7.1 -1,15.4 -2.2,22.2 -1.2,6.8 -3.5,13.8 -5.1,18.3 -1.6,4.5 -3.8,7.4 -4.5,8.9L572.6,1639.8c-.8-1.5 -2.9-4.4 -4.5-8.9 -1.6-4.5 -3.9-11.6 -5.1-18.3 -1.2-6.8 -2.2-15.1 -2.2-22.2 0-7.1 1.5-15.2 2.4-20.3 .9-5.2 2.1-8.2 3-10.6 .9-2.4 1.7-2.9 2.5-3.9 .8-1 1.7-1.7 2.1-2.1Z" fill="#00BC56"/>
<path d="M603.2,1553.5c0,1.3 0,2.9 .2,7.9 .2,5 .3,15.7 1.2,22.1 .9,6.4 2.7,11.2 4.1,16.5 1.4,5.2 3.3,9.6 4.5,15 1.2,5.4 2.6,13.6 2.9,17.3 .2,3.7 -1,3.4 -1.4,4.9 -.4,1.5 -.4,3 -1,4 -.6,1 -2.3,1.6 -2.7,1.9L594.2,1643.1c-.5-.3 -2.1-.9 -2.7-1.9 -.6-1 -.6-2.5 -1-4 -.4-1.5 -1.7-1.2 -1.4-4.9 .3-3.7 1.8-11.9 3-17.3 1.2-5.4 3-9.8 4.4-15 1.4-5.2 3.3-10.1 4.2-16.5 .9-6.4 .9-17.1 1.1-22.1 .2-5 .2-6.6 .2-7.9Z" fill="#00BE6D"/>
<path d="M635.6,1553.5c.5,.3 2.1,1.1 3,2.1 .9,1 1.8,.9 2.5,3.9 .7,3.1 1.2,7.9 1.8,14.4 .5,6.5 1.6,17.4 1.5,24.8 -.1,7.4 -1,13.6 -2.2,19.6 -1.2,6 -3.5,12.1 -5.1,16.1 -1.6,4 -3.8,6.6 -4.5,7.9L631,1642.3c-.7-1.3 -2.8-3.9 -4.4-7.9 -1.6-4 -3.9-10.2 -5.1-16.1 -1.2-6 -2.1-12.2 -2.2-19.6 -.1-7.4 .9-18.3 1.4-24.8 .6-6.5 1.2-11.4 1.9-14.4 .7-3.1 1.6-2.9 2.5-3.9 .9-1 2.5-1.7 3-2.1Z" fill="#00BF81"/>
<path d="M663.1,1553.5c.3,.3 1,1.1 1.7,2.1 .7,1 1.6,.2 2.7,3.9 1.1,3.7 2.8,10.3 4,18.2 1.2,7.9 3,22.3 3.1,29.4 .1,7.1 -1.1,9.3 -2.4,13.4 -1.3,4.1 -3.8,8.3 -5.5,11 -1.7,2.7 -4,4.4 -4.8,5.3L660.2,1636.8c-.8-.9 -3.1-2.6 -4.8-5.3 -1.7-2.7 -4.2-6.9 -5.5-11 -1.3-4.1 -2.4-6.3 -2.3-13.4 .1-7.1 1.9-21.5 3.1-29.4 1.2-7.9 2.9-14.5 4-18.2 1.1-3.7 2-2.9 2.7-3.9 .7-1 1.3-1.7 1.6-2.1Z" fill="#00C094"/>
<path d="M692.5,1553.5c.3,.3 1,1.1 1.8,2.1 .8,1 1.6,.5 2.7,3.9 1.1,3.4 2.7,9.1 3.8,16.3 1.1,7.2 2.9,20.2 3,27.1 .1,6.9 -1,9.9 -2.3,14.3 -1.3,4.3 -3.8,8.9 -5.5,11.8 -1.7,2.9 -4.1,4.8 -4.9,5.7L689.5,1634.7c-.8-1 -3.2-2.8 -4.9-5.7 -1.7-2.9 -4.2-7.4 -5.5-11.8 -1.3-4.3 -2.4-7.4 -2.3-14.3 .1-6.9 1.8-19.9 2.9-27.1 1.1-7.2 2.7-12.9 3.8-16.3 1.1-3.4 2-2.9 2.8-3.9 .8-1 1.4-1.7 1.7-2.1Z" fill="#00C1A5"/>
<path d="M721.8,1553.5c.3,.3 1,1.1 1.7,2.1 .7,1 1.6,.2 2.7,3.9 1.1,3.7 2.7,10.3 3.8,18.2 1.1,7.9 2.9,22.4 3,29.4 .1,7 -1,8.9 -2.3,12.8 -1.3,3.9 -3.8,7.9 -5.5,10.5 -1.7,2.6 -4.1,4.3 -4.9,5.2L718.7,1635.6c-.8-.9 -3.2-2.6 -4.9-5.2 -1.7-2.6 -4.2-6.6 -5.5-10.5 -1.3-3.9 -2.4-5.8 -2.3-12.8 .1-7 1.9-21.5 3-29.4 1.1-7.9 2.7-14.5 3.8-18.2 1.1-3.7 2-2.9 2.7-3.9 .7-1 1.4-1.7 1.7-2.1Z" fill="#00C0B5"/>
<path d="M754.2,1553.5c.6,.3 2.7,1.1 3.8,2.1 1.1,1 2.6-1.8 2.6,3.8 0,5.6 -1.5,20.2 -2.8,29.8 -1.4,9.5 -3.9,20 -5.3,27.5 -1.4,7.5 -2.5,14.3 -3,17.2L747.9,1633.9c-.5-2.9 -1.5-9.8 -2.9-17.2 -1.4-7.5 -3.9-18 -5.3-27.5 -1.4-9.5 -2.9-24.2 -2.9-29.8 -.1-5.6 1.5-2.8 2.6-3.8 1.1-1 3.2-1.7 3.9-2.1Z" fill="#00BFC4"/>
<path d="M782.5,1553.5c.6,.3 2.5,1.1 3.5,2.1 1,1 2,1.8 2.7,3.9 .7,2.1 1.1,4.3 1.5,8.7 .4,4.5 1.4,11.3 1.2,18 -.2,6.7 -1,15.5 -2.3,22.2 -1.3,6.8 -3.8,13.8 -5.5,18.3 -1.7,4.5 -4,7.4 -4.8,8.9L777.1,1635.6c-.8-1.5 -3.1-4.4 -4.8-8.9 -1.7-4.5 -4.2-11.5 -5.5-18.3 -1.3-6.8 -2.2-15.5 -2.4-22.2 -.2-6.7 .7-13.5 1.2-18 .5-4.5 .9-6.6 1.6-8.7 .7-2.1 1.7-2.9 2.7-3.9 1-1 2.9-1.7 3.5-2.1Z" fill="#00BDD2"/>
<path d="M809,1556.5c.2,.3 .8,1.1 1.5,2.1 .7,1 1.6,.8 2.7,3.9 1.1,3.1 2.9,8.2 4.2,14.9 1.2,6.7 3.2,18.6 3.3,25.5 .1,6.9 -1.1,11.1 -2.4,15.9 -1.3,4.8 -3.8,9.8 -5.5,13 -1.7,3.2 -4,5.2 -4.8,6.3L806.3,1638.1c-.8-1 -3.1-3.1 -4.8-6.3 -1.7-3.2 -4.2-8.2 -5.5-13 -1.3-4.8 -2.4-9 -2.3-15.9 .1-6.9 2-18.8 3.2-25.5 1.2-6.7 3.1-11.8 4.2-14.9 1.1-3.1 2-2.9 2.7-3.9 .7-1 1.2-1.7 1.5-2.1Z" fill="#00BADF"/>
<path d="M839.8,1553.5c.4,.3 1.8,1.1 2.6,2.1 .9,1 1.7,.2 2.5,3.9 .8,3.7 1.6,10.3 2.3,18.2 .7,7.9 1.8,21.8 1.7,29.4 -.1,7.6 -.9,11.3 -2.1,16.2 -1.2,4.9 -3.5,10 -5.1,13.3 -1.6,3.3 -3.8,5.4 -4.5,6.5L835.6,1643.1c-.8-1.1 -2.9-3.2 -4.5-6.5 -1.6-3.3 -3.9-8.4 -5.1-13.3 -1.2-4.9 -2.1-8.6 -2.2-16.2 -.1-7.6 1.1-21.5 1.8-29.4 .7-7.9 1.4-14.5 2.2-18.2 .8-3.7 1.6-2.9 2.5-3.9 .9-1 2.3-1.7 2.7-2.1Z" fill="#00B6EB"/>
<path d="M867.9,1553.5c.3,.3 1,1.1 1.7,2.1 .7,1 1.6-.1 2.7,3.9 1.1,4 2.7,11.5 3.8,20.1 1.1,8.6 2.9,24.2 3,31.7 .1,7.5 -1,9.3 -2.3,13.4 -1.3,4.1 -3.8,8.3 -5.5,11 -1.7,2.7 -4.1,4.4 -4.9,5.3L864.8,1641c-.8-.9 -3.2-2.6 -4.9-5.3 -1.7-2.7 -4.2-6.9 -5.5-11 -1.3-4.1 -2.4-5.9 -2.3-13.4 .1-7.5 1.9-23.1 3-31.7 1.1-8.6 2.7-16.1 3.8-20.1 1.1-4 2-2.9 2.7-3.9 .7-1 1.4-1.7 1.7-2.1Z" fill="#00B1F5"/>
<path d="M895.4,1553.5c0,1.2 0,2.8 .2,7.5 .2,4.7 .3,14.8 1.2,20.9 .9,6.1 2.7,10.6 4.1,15.6 1.4,5 3.3,9.1 4.5,14.2 1.2,5.1 2.7,12.6 2.9,16.4 .2,3.8 -.9,4.5 -1.8,6.4 -.9,1.9 -2.7,3.9 -3.8,5.2 -1.1,1.3 -2.3,2.2 -2.7,2.6L889.7,1642.3c-.5-.4 -1.6-1.3 -2.7-2.6 -1.1-1.3 -2.9-3.3 -3.9-5.2 -1-1.9 -2-2.6 -1.8-6.4 .2-3.8 1.8-11.3 3-16.4 1.2-5.1 3-9.2 4.4-14.2 1.4-5 3.3-9.5 4.2-15.6 .9-6.1 .9-16.2 1.1-20.9 .2-4.7 .2-6.2 .2-7.5Z" fill="#00ABFD"/>
<path d="M927.8,1553.5c.5,.3 2,1.1 3,2.1 1,1 1.9,.5 2.7,3.9 .8,3.4 1.6,9.1 2.3,16.3 .7,7.2 1.8,19.7 1.7,27.1 -.1,7.4 -1,12 -2.3,17.2 -1.3,5.2 -3.8,10.6 -5.5,14.1 -1.7,3.5 -4,5.7 -4.8,6.8L923.2,1641c-.8-1.1 -3.1-3.3 -4.8-6.8 -1.7-3.5 -4.2-8.9 -5.5-14.1 -1.3-5.2 -2.3-9.8 -2.4-17.2 -.1-7.4 1.1-19.9 1.8-27.1 .7-7.2 1.5-12.9 2.3-16.3 .8-3.4 1.7-2.9 2.7-3.9 .9-1 2.5-1.7 3-2.1Z" fill="#06A4FF"/>
<path d="M958.7,1553.5c.6,.3 2.6,1.1 3.8,2.1 1.2,1 3.5-2.8 3.6,3.9 .1,6.8 -1.6,26.2 -3.1,36.6 -1.5,10.4 -4.2,18.8 -5.7,25.8 -1.5,7 -2.7,13.5 -3.2,16.2L952.5,1638.1c-.5-2.7 -1.8-9.2 -3.3-16.2 -1.5-7 -4.2-15.4 -5.7-25.8 -1.5-10.4 -3.2-29.8 -3.1-36.6 .1-6.8 2.4-2.9 3.6-3.9 1.2-1 3.2-1.7 3.8-2.1Z" fill="#619CFF"/>
<path d="M987.4,1553.5c.6,.3 2.7,1.1 3.8,2.1 1.1,1 2,.5 2.7,3.9 .6,3.4 .9,9.1 1.2,16.3 .4,7.2 1.1,19.4 .9,27.1 -.2,7.7 -1,13.3 -2.3,19.1 -1.3,5.8 -3.8,11.7 -5.5,15.6 -1.7,3.9 -4.1,6.3 -4.9,7.6L981.7,1645.2c-.8-1.3 -3.2-3.7 -4.9-7.6 -1.7-3.9 -4.2-9.8 -5.5-15.6 -1.3-5.8 -2.1-11.4 -2.3-19.1 -.2-7.7 .6-19.9 .9-27.1 .3-7.2 .5-12.9 1.1-16.3 .6-3.4 1.7-2.9 2.8-3.9 1.1-1 3.2-1.7 3.8-2.1Z" fill="#8893FF"/>
<path d="M1017.2,1553.5c.6,.3 2.7,1.1 3.8,2.1 1.1,1 2.7-2.2 2.6,3.9 0,6.1 -1.5,23.6 -2.9,32.5 -1.4,8.9 -3.8,15.4 -5.2,21.1 -1.4,5.7 -2.5,11 -3,13.2L1010.9,1626.3c-.5-2.2 -1.6-7.5 -3-13.2 -1.4-5.7 -3.8-12.2 -5.2-21.1 -1.4-8.9 -2.9-26.4 -2.9-32.5 -.1-6.1 1.5-2.9 2.6-3.9 1.1-1 3.2-1.7 3.8-2.1Z" fill="#A58AFF"/>
<path d="M1041.5,1553.5c0,1.2 0,2.6 .2,7.1 .2,4.5 .3,14 1.1,19.7 .8,5.8 2.5,10.1 3.8,14.8 1.3,4.7 3,8.5 4.1,13.3 1.2,4.8 2.6,11.8 2.8,15.5 .2,3.7 -.8,4.7 -1.7,6.8 -.9,2 -2.6,4.1 -3.6,5.5 -1,1.4 -2.1,2.3 -2.5,2.7L1036.2,1638.9c-.4-.5 -1.6-1.3 -2.6-2.7 -1-1.4 -2.6-3.5 -3.5-5.5 -.9-2 -1.9-3.1 -1.7-6.8 .2-3.7 1.5-10.7 2.7-15.5 1.1-4.8 2.9-8.6 4.2-13.3 1.3-4.7 3-9 3.8-14.8 .8-5.8 .8-15.2 1-19.7 .2-4.5 .2-5.9 .2-7.1Z" fill="#BD81FF"/>
<path d="M1070.7,1556.5c0,1 0,2.3 .2,6.3 .2,4 .3,12.5 1.1,17.7 .8,5.2 2.5,9.1 3.8,13.3 1.3,4.2 3,7.7 4.1,12 1.2,4.3 2.7,10.1 2.8,13.9 .1,3.8 -1,6.1 -2.2,8.7 -1.2,2.6 -3.5,5.3 -5.1,7.1 -1.6,1.8 -3.8,2.8 -4.5,3.4L1069.3,1638.9c-.7-.6 -2.8-1.7 -4.4-3.4 -1.6-1.8 -3.9-4.5 -5.1-7.1 -1.2-2.6 -2.3-4.9 -2.2-8.7 .1-3.8 1.6-9.6 2.7-13.9 1.2-4.3 2.9-7.8 4.2-12 1.3-4.2 3-8.1 3.8-13.3 .8-5.2 .8-13.7 1-17.7 .2-4 .2-5.2 .2-6.3Z" fill="#D078FF"/>
<path d="M1100,1559.4c0,1 0,2.3 .2,6.1 .2,3.8 .2,11.9 1,16.8 .8,4.9 2.5,8.7 3.8,12.7 1.3,4 3.1,7.4 4.2,11.5 1.2,4.1 2.5,9.7 2.7,13.2 .2,3.5 -.8,5.4 -1.7,7.7 -.9,2.3 -2.6,4.7 -3.6,6.3 -1,1.6 -2.1,2.6 -2.5,3.1L1094.6,1636.8c-.4-.5 -1.5-1.5 -2.5-3.1 -1-1.6 -2.7-4 -3.6-6.3 -.9-2.3 -1.9-4.2 -1.7-7.7 .2-3.5 1.6-9.1 2.8-13.2 1.2-4.1 2.8-7.5 4.1-11.5 1.3-4 3-7.8 3.8-12.7 .8-4.9 .9-13 1.1-16.8 .2-3.8 .2-5.1 .2-6.1Z" fill="#DF70F8"/>
<path d="M1134.5,1553.5c.7,.2 3.1,.8 4.1,1.4 1,.6 2.1-3.1 1.9,2.4 -.2,5.5 -1.5,20.5 -2.9,30.7 -1.4,10.2 -3.9,22.4 -5.3,30.8 -1.4,8.3 -2.4,16.1 -2.9,19.3L1127.8,1638.1c-.5-3.2 -1.6-10.9 -3-19.3 -1.4-8.3 -3.9-20.5 -5.3-30.8 -1.3-10.2 -2.6-25.2 -2.8-30.7 -.2-5.5 .9-1.8 1.9-2.4 1-.6 3.4-1.2 4.1-1.4Z" fill="#EC69EF"/>
<path d="M1163.7,1553.5c.7,.2 3.1,.8 4.1,1.4 1,.6 2.1-3.1 1.9,2.4 -.2,5.5 -1.6,20.5 -2.9,30.7 -1.4,10.2 -3.8,22.4 -5.2,30.8 -1.4,8.3 -2.5,16.1 -3,19.3L1157,1638.1c-.5-3.2 -1.6-10.9 -3-19.3 -1.4-8.3 -3.9-20.5 -5.2-30.8 -1.3-10.2 -2.7-25.2 -2.9-30.7 -.2-5.5 .9-1.8 1.9-2.4 1-.6 3.4-1.2 4.1-1.4Z" fill="#F564E3"/>
<path d="M1189.7,1554.4c.3,.3 1.3,1.1 2,2.1 .7,1 1.5-.3 2.3,3.9 .8,4.2 1.8,12.3 2.6,21.5 .8,9.2 2,26.2 2,33.6 0,7.4 -.9,7.4 -2,10.6 -1.1,3.2 -3.2,6.5 -4.7,8.6 -1.5,2.1 -3.4,3.5 -4.1,4.2L1186.2,1638.9c-.7-.7 -2.5-2.1 -4-4.2 -1.5-2.1 -3.7-5.4 -4.8-8.6 -1.1-3.2 -2-3.2 -2-10.6 0-7.4 1.2-24.4 2-33.6 .8-9.2 1.8-17.3 2.6-21.5 .8-4.2 1.6-2.9 2.3-3.9 .7-1 1.8-1.7 2.1-2.1Z" fill="#FB61D7"/>
<path d="M1222.1,1553.5c.7,.2 3.1,.8 4.1,1.4 1,.6 2.2-3.1 2,2.4 -.2,5.5 -1.5,20.5 -2.9,30.7 -1.4,10.2 -3.9,22.4 -5.3,30.8 -1.4,8.3 -2.5,16.1 -3,19.3L1215.4,1638.1c-.5-3.2 -1.5-10.9 -2.9-19.3 -1.4-8.3 -3.9-20.5 -5.3-30.8 -1.4-10.2 -2.8-25.2 -2.9-30.7 -.2-5.5 1-1.8 2-2.4 1-.6 3.4-1.2 4.1-1.4Z" fill="#FF61C8"/>
<path d="M1246.1,1573.3c0,.8 0,1.8 .2,5 .2,3.2 .2,10.1 1,14.2 .8,4.2 2.5,7.3 3.8,10.7 1.3,3.4 3.1,6.1 4.2,9.6 1.2,3.5 2.5,8.1 2.7,11.1 .2,3 -.8,4.9 -1.7,7.1 -.9,2.2 -2.6,4.4 -3.6,5.9 -1,1.5 -2.1,2.4 -2.5,2.9L1240.7,1639.8c-.4-.5 -1.5-1.4 -2.5-2.9 -1-1.5 -2.7-3.7 -3.6-5.9 -.9-2.2 -1.9-4.1 -1.7-7.1 .2-3 1.6-7.7 2.8-11.1 1.1-3.5 2.8-6.2 4.1-9.6 1.3-3.4 3-6.6 3.8-10.7 .8-4.2 .9-11 1.1-14.2 .2-3.2 .2-4.2 .2-5Z" fill="#FF63B9"/>
<path d="M1275.3,1555.2c0,1.2 0,2.6 .2,7.1 .2,4.5 .2,14 1,19.8 .8,5.8 2.5,10.2 3.8,14.9 1.3,4.7 3.1,8.7 4.2,13.5 1.2,4.8 2.5,11.9 2.7,15.5 .2,3.6 -.8,4.3 -1.7,6.2 -.9,1.9 -2.5,3.8 -3.5,5.1 -1,1.3 -2.2,2.1 -2.6,2.5L1269.9,1639.8c-.4-.4 -1.5-1.2 -2.5-2.5 -1-1.3 -2.7-3.2 -3.6-5.1 -.9-1.9 -1.9-2.6 -1.7-6.2 .2-3.6 1.7-10.7 2.8-15.5 1.2-4.8 2.8-8.8 4.1-13.5 1.3-4.7 3-9.1 3.8-14.9 .8-5.8 .9-15.3 1.1-19.8 .2-4.5 .2-5.9 .2-7.1Z" fill="#FF66A8"/>
<path d="M1304.5,1592.2c0,.5 0,1.2 .2,3.3 .2,2.1 .3,6.7 1.1,9.5 .8,2.8 2.4,4.8 3.7,7.1 1.3,2.3 3,4.2 4.2,6.5 1.2,2.3 2.6,5.3 2.8,7.4 .2,2.1 -.8,3.8 -1.7,5.4 -.9,1.7 -2.6,3.4 -3.6,4.5 -1,1.1 -2.1,1.8 -2.5,2.2L1299.1,1638.1c-.4-.4 -1.5-1.1 -2.5-2.2 -1-1.1 -2.7-2.8 -3.6-4.5 -.9-1.7 -1.9-3.3 -1.7-5.4 .2-2.1 1.6-5.1 2.8-7.4 1.2-2.3 2.9-4.2 4.2-6.5 1.3-2.3 2.9-4.3 3.7-7.1 .8-2.8 .9-7.4 1.1-9.5 .2-2.1 .2-2.7 .2-3.3Z" fill="#FF6B96"/>
<path d="M1333.7,1573.3c0,.8 0,1.8 .2,5 .2,3.2 .3,10.1 1.2,14.2 .9,4.2 2.7,7.3 4.1,10.7 1.4,3.4 3.3,6.1 4.5,9.6 1.2,3.5 2.7,8 2.9,11.1 .2,3.1 -.9,5.4 -1.8,7.7 -.9,2.3 -2.7,4.7 -3.8,6.3 -1.1,1.6 -2.3,2.6 -2.7,3.1L1328,1641c-.5-.5 -1.6-1.5 -2.7-3.1 -1.1-1.6 -2.9-4 -3.9-6.3 -1-2.3 -2-4.6 -1.8-7.7 .2-3.1 1.8-7.7 3-11.1 1.2-3.5 3-6.2 4.4-9.6 1.4-3.4 3.3-6.6 4.2-10.7 .9-4.2 .9-11 1.1-14.2 .2-3.2 .2-4.2 .2-5Z" fill="#FC7082"/>
</g>
<line x1="118.7" x2="118.7" y1="1550.2" y2="1653.0" stroke="#000" stroke-width="3.4"/>
<line x1="117.0" x2="1352.4" y1="1651.5" y2="1651.5" stroke="#000" stroke-width="3.4"/>
<line x1="108.5" x2="118.7" y1="1551.7" y2="1551.7" stroke="#000" stroke-width="3.6"/>
<text x="107.5" y="1559.1" font-size="23.5" text-anchor="end">0.4</text>
<line x1="108.5" x2="118.7" y1="1576.0" y2="1576.0" stroke="#000" stroke-width="3.6"/>
<text x="107.5" y="1583.5" font-size="23.5" text-anchor="end">0.3</text>
<line x1="108.5" x2="118.7" y1="1600.4" y2="1600.4" stroke="#000" stroke-width="3.6"/>
<text x="107.5" y="1607.8" font-size="23.5" text-anchor="end">0.2</text>
<line x1="108.5" x2="118.7" y1="1624.8" y2="1624.8" stroke="#000" stroke-width="3.6"/>
<text x="107.5" y="1632.2" font-size="23.5" text-anchor="end">0.1</text>
<line x1="108.5" x2="118.7" y1="1649.1" y2="1649.1" stroke="#000" stroke-width="3.6"/>
<text x="107.5" y="1656.5" font-size="23.5" text-anchor="end">0.0</text>
<line x1="135.1" x2="135.1" y1="1651.5" y2="1658.5" stroke="#000" stroke-width="3.4"/>
<text x="145.6" y="1675.5" font-size="26" text-anchor="end" transform="rotate(-45 145.6 1675.5)">0</text>
<line x1="164.3" x2="164.3" y1="1651.5" y2="1658.5" stroke="#000" stroke-width="3.4"/>
<text x="174.8" y="1675.5" font-size="26" text-anchor="end" transform="rotate(-45 174.8 1675.5)">1</text>
<line x1="193.5" x2="193.5" y1="1651.5" y2="1658.5" stroke="#000" stroke-width="3.4"/>
<text x="204.0" y="1675.5" font-size="26" text-anchor="end" transform="rotate(-45 204.0 1675.5)">2</text>
<line x1="222.8" x2="222.8" y1="1651.5" y2="1658.5" stroke="#000" stroke-width="3.4"/>
<text x="233.3" y="1675.5" font-size="26" text-anchor="end" transform="rotate(-45 233.3 1675.5)">3</text>
<line x1="252.0" x2="252.0" y1="1651.5" y2="1658.5" stroke="#000" stroke-width="3.4"/>
<text x="262.5" y="1675.5" font-size="26" text-anchor="end" transform="rotate(-45 262.5 1675.5)">4</text>
<line x1="281.2" x2="281.2" y1="1651.5" y2="1658.5" stroke="#000" stroke-width="3.4"/>
<text x="291.7" y="1675.5" font-size="26" text-anchor="end" transform="rotate(-45 291.7 1675.5)">5</text>
<line x1="310.4" x2="310.4" y1="1651.5" y2="1658.5" stroke="#000" stroke-width="3.4"/>
<text x="320.9" y="1675.5" font-size="26" text-anchor="end" transform="rotate(-45 320.9 1675.5)">6</text>
<line x1="339.6" x2="339.6" y1="1651.5" y2="1658.5" stroke="#000" stroke-width="3.4"/>
<text x="350.1" y="1675.5" font-size="26" text-anchor="end" transform="rotate(-45 350.1 1675.5)">7</text>
<line x1="368.9" x2="368.9" y1="1651.5" y2="1658.5" stroke="#000" stroke-width="3.4"/>
<text x="379.4" y="1675.5" font-size="26" text-anchor="end" transform="rotate(-45 379.4 1675.5)">8</text>
<line x1="398.1" x2="398.1" y1="1651.5" y2="1658.5" stroke="#000" stroke-width="3.4"/>
<text x="408.6" y="1675.5" font-size="26" text-anchor="end" transform="rotate(-45 408.6 1675.5)">9</text>
<line x1="427.3" x2="427.3" y1="1651.5" y2="1658.5" stroke="#000" stroke-width="3.4"/>
<text x="437.8" y="1675.5" font-size="26" text-anchor="end" transform="rotate(-45 437.8 1675.5)">10</text>
<line x1="456.5" x2="456.5" y1="1651.5" y2="1658.5" stroke="#000" stroke-width="3.4"/>
<text x="467.0" y="1675.5" font-size="26" text-anchor="end" transform="rotate(-45 467.0 1675.5)">11</text>
<line x1="485.7" x2="485.7" y1="1651.5" y2="1658.5" stroke="#000" stroke-width="3.4"/>
<text x="496.2" y="1675.5" font-size="26" text-anchor="end" transform="rotate(-45 496.2 1675.5)">12</text>
<line x1="515.0" x2="515.0" y1="1651.5" y2="1658.5" stroke="#000" stroke-width="3.4"/>
<text x="525.5" y="1675.5" font-size="26" text-anchor="end" transform="rotate(-45 525.5 1675.5)">13</text>
<line x1="544.2" x2="544.2" y1="1651.5" y2="1658.5" stroke="#000" stroke-width="3.4"/>
<text x="554.7" y="1675.5" font-size="26" text-anchor="end" transform="rotate(-45 554.7 1675.5)">14</text>
<line x1="573.4" x2="573.4" y1="1651.5" y2="1658.5" stroke="#000" stroke-width="3.4"/>
<text x="583.9" y="1675.5" font-size="26" text-anchor="end" transform="rotate(-45 583.9 1675.5)">15</text>
<line x1="602.6" x2="602.6" y1="1651.5" y2="1658.5" stroke="#000" stroke-width="3.4"/>
<text x="613.1" y="1675.5" font-size="26" text-anchor="end" transform="rotate(-45 613.1 1675.5)">16</text>
<line x1="631.8" x2="631.8" y1="1651.5" y2="1658.5" stroke="#000" stroke-width="3.4"/>
<text x="642.3" y="1675.5" font-size="26" text-anchor="end" transform="rotate(-45 642.3 1675.5)">17</text>
<line x1="661.1" x2="661.1" y1="1651.5" y2="1658.5" stroke="#000" stroke-width="3.4"/>
<text x="671.6" y="1675.5" font-size="26" text-anchor="end" transform="rotate(-45 671.6 1675.5)">18</text>
<line x1="690.3" x2="690.3" y1="1651.5" y2="1658.5" stroke="#000" stroke-width="3.4"/>
<text x="700.8" y="1675.5" font-size="26" text-anchor="end" transform="rotate(-45 700.8 1675.5)">19</text>
<line x1="719.5" x2="719.5" y1="1651.5" y2="1658.5" stroke="#000" stroke-width="3.4"/>
<text x="730.0" y="1675.5" font-size="26" text-anchor="end" transform="rotate(-45 730.0 1675.5)">20</text>
<line x1="748.7" x2="748.7" y1="1651.5" y2="1658.5" stroke="#000" stroke-width="3.4"/>
<text x="759.2" y="1675.5" font-size="26" text-anchor="end" transform="rotate(-45 759.2 1675.5)">21</text>
<line x1="777.9" x2="777.9" y1="1651.5" y2="1658.5" stroke="#000" stroke-width="3.4"/>
<text x="788.4" y="1675.5" font-size="26" text-anchor="end" transform="rotate(-45 788.4 1675.5)">22</text>
<line x1="807.2" x2="807.2" y1="1651.5" y2="1658.5" stroke="#000" stroke-width="3.4"/>
<text x="817.7" y="1675.5" font-size="26" text-anchor="end" transform="rotate(-45 817.7 1675.5)">23</text>
<line x1="836.4" x2="836.4" y1="1651.5" y2="1658.5" stroke="#000" stroke-width="3.4"/>
<text x="846.9" y="1675.5" font-size="26" text-anchor="end" transform="rotate(-45 846.9 1675.5)">24</text>
<line x1="865.6" x2="865.6" y1="1651.5" y2="1658.5" stroke="#000" stroke-width="3.4"/>
<text x="876.1" y="1675.5" font-size="26" text-anchor="end" transform="rotate(-45 876.1 1675.5)">25</text>
<line x1="894.8" x2="894.8" y1="1651.5" y2="1658.5" stroke="#000" stroke-width="3.4"/>
<text x="905.3" y="1675.5" font-size="26" text-anchor="end" transform="rotate(-45 905.3 1675.5)">26</text>
<line x1="924.0" x2="924.0" y1="1651.5" y2="1658.5" stroke="#000" stroke-width="3.4"/>
<text x="934.5" y="1675.5" font-size="26" text-anchor="end" transform="rotate(-45 934.5 1675.5)">27</text>
<line x1="953.3" x2="953.3" y1="1651.5" y2="1658.5" stroke="#000" stroke-width="3.4"/>
<text x="963.8" y="1675.5" font-size="26" text-anchor="end" transform="rotate(-45 963.8 1675.5)">28</text>
<line x1="982.5" x2="982.5" y1="1651.5" y2="1658.5" stroke="#000" stroke-width="3.4"/>
<text x="993.0" y="1675.5" font-size="26" text-anchor="end" transform="rotate(-45 993.0 1675.5)">29</text>
<line x1="1011.7" x2="1011.7" y1="1651.5" y2="1658.5" stroke="#000" stroke-width="3.4"/>
<text x="1022.2" y="1675.5" font-size="26" text-anchor="end" transform="rotate(-45 1022.2 1675.5)">30</text>
<line x1="1040.9" x2="1040.9" y1="1651.5" y2="1658.5" stroke="#000" stroke-width="3.4"/>
<text x="1051.4" y="1675.5" font-size="26" text-anchor="end" transform="rotate(-45 1051.4 1675.5)">31</text>
<line x1="1070.1" x2="1070.1" y1="1651.5" y2="1658.5" stroke="#000" stroke-width="3.4"/>
<text x="1080.6" y="1675.5" font-size="26" text-anchor="end" transform="rotate(-45 1080.6 1675.5)">32</text>
<line x1="1099.4" x2="1099.4" y1="1651.5" y2="1658.5" stroke="#000" stroke-width="3.4"/>
<text x="1109.9" y="1675.5" font-size="26" text-anchor="end" transform="rotate(-45 1109.9 1675.5)">33</text>
<line x1="1128.6" x2="1128.6" y1="1651.5" y2="1658.5" stroke="#000" stroke-width="3.4"/>
<text x="1139.1" y="1675.5" font-size="26" text-anchor="end" transform="rotate(-45 1139.1 1675.5)">34</text>
<line x1="1157.8" x2="1157.8" y1="1651.5" y2="1658.5" stroke="#000" stroke-width="3.4"/>
<text x="1168.3" y="1675.5" font-size="26" text-anchor="end" transform="rotate(-45 1168.3 1675.5)">35</text>
<line x1="1187.0" x2="1187.0" y1="1651.5" y2="1658.5" stroke="#000" stroke-width="3.4"/>
<text x="1197.5" y="1675.5" font-size="26" text-anchor="end" transform="rotate(-45 1197.5 1675.5)">36</text>
<line x1="1216.2" x2="1216.2" y1="1651.5" y2="1658.5" stroke="#000" stroke-width="3.4"/>
<text x="1226.7" y="1675.5" font-size="26" text-anchor="end" transform="rotate(-45 1226.7 1675.5)">37</text>
<line x1="1245.5" x2="1245.5" y1="1651.5" y2="1658.5" stroke="#000" stroke-width="3.4"/>
<text x="1256.0" y="1675.5" font-size="26" text-anchor="end" transform="rotate(-45 1256.0 1675.5)">38</text>
<line x1="1274.7" x2="1274.7" y1="1651.5" y2="1658.5" stroke="#000" stroke-width="3.4"/>
<text x="1285.2" y="1675.5" font-size="26" text-anchor="end" transform="rotate(-45 1285.2 1675.5)">39</text>
<line x1="1303.9" x2="1303.9" y1="1651.5" y2="1658.5" stroke="#000" stroke-width="3.4"/>
<text x="1314.4" y="1675.5" font-size="26" text-anchor="end" transform="rotate(-45 1314.4 1675.5)">40</text>
<line x1="1333.1" x2="1333.1" y1="1651.5" y2="1658.5" stroke="#000" stroke-width="3.4"/>
<text x="1343.6" y="1675.5" font-size="26" text-anchor="end" transform="rotate(-45 1343.6 1675.5)">41</text>
<path d="M200.3,1878.1 C202.3,1874.9 207.3,1873.1 211.2,1871.8 C215.1,1870.5 220.3,1869.5 223.6,1870.3 C227.0,1871.0 229.6,1873.6 231.4,1876.5 C233.3,1879.4 233.3,1883.5 234.6,1887.4 C235.9,1891.3 237.4,1896.8 239.2,1899.9 C241.1,1903.0 243.1,1904.0 245.5,1906.1 C247.8,1908.2 251.7,1909.8 253.3,1912.4 C254.8,1915.0 255.9,1918.6 254.8,1921.7 C253.8,1924.8 249.6,1928.5 247.0,1931.1 C244.4,1933.7 241.6,1934.7 239.2,1937.3 C236.9,1939.9 234.6,1943.0 233.0,1946.6 C231.4,1950.3 230.9,1956.5 229.9,1959.1 C228.8,1961.7 227.5,1963.5 226.8,1962.2 C226.0,1960.9 227.3,1954.4 225.2,1951.3 C223.1,1948.2 217.4,1946.4 214.3,1943.5 C211.2,1940.7 208.6,1937.6 206.5,1934.2 C204.4,1930.8 203.1,1927.4 201.8,1923.3 C200.5,1919.1 199.2,1914.7 198.7,1909.2 C198.2,1903.8 198.4,1895.7 198.7,1890.5 C199.0,1885.3 198.2,1881.2 200.3,1878.1 Z" fill="#A9A400"/>
<path d="M200.3,1878.1 C202.3,1874.9 207.3,1873.1 211.2,1871.8 C215.1,1870.5 220.3,1869.5 223.6,1870.3 C227.0,1871.0 229.9,1873.1 231.4,1876.5 C233.0,1879.9 234.8,1886.4 233.0,1890.5 C231.2,1894.7 224.9,1899.6 220.5,1901.4 C216.1,1903.3 210.1,1903.3 206.5,1901.4 C202.9,1899.6 199.7,1894.4 198.7,1890.5 C197.7,1886.6 198.2,1881.2 200.3,1878.1 Z" fill="#99A800"/>
<circle cx="273.2" cy="1940.1" r="1.7" fill="#E38900"/>
<circle cx="282.4" cy="1941.4" r="1.7" fill="#00BA38"/>
<circle cx="274.3" cy="1946.1" r="1.7" fill="#E38900"/>
<circle cx="262.7" cy="1944.8" r="1.7" fill="#A9A400"/>
<circle cx="269.9" cy="1933.8" r="1.7" fill="#E38900"/>
<circle cx="277.8" cy="1927.6" r="1.7" fill="#00BA38"/>
<circle cx="285.6" cy="1941.0" r="1.7" fill="#00BA38"/>
<circle cx="273.0" cy="1929.0" r="1.7" fill="#00BA38"/>
<circle cx="255.8" cy="1920.4" r="1.7" fill="#00BA38"/>
<circle cx="283.7" cy="1923.2" r="1.7" fill="#00BA38"/>
<circle cx="269.7" cy="1937.7" r="1.7" fill="#00BA38"/>
<circle cx="263.2" cy="1913.2" r="1.7" fill="#A9A400"/>
<circle cx="254.0" cy="1917.8" r="1.7" fill="#E38900"/>
<circle cx="261.0" cy="1942.9" r="1.7" fill="#E38900"/>
<circle cx="272.1" cy="1938.8" r="1.7" fill="#E38900"/>
<circle cx="260.1" cy="1943.0" r="1.7" fill="#A9A400"/>
<circle cx="276.3" cy="1919.3" r="1.7" fill="#A9A400"/>
<circle cx="276.7" cy="1914.5" r="1.7" fill="#E38900"/>
<circle cx="287.0" cy="1925.7" r="1.7" fill="#A9A400"/>
<circle cx="262.4" cy="1934.0" r="1.7" fill="#E38900"/>
<circle cx="266.1" cy="1938.8" r="1.7" fill="#00BA38"/>
<circle cx="252.0" cy="1921.6" r="1.7" fill="#A9A400"/>
<circle cx="261.5" cy="1925.6" r="1.7" fill="#1DB700"/>
<circle cx="279.7" cy="1916.4" r="1.7" fill="#1DB700"/>
<circle cx="261.4" cy="1935.2" r="1.7" fill="#00BA38"/>
<circle cx="261.3" cy="1946.9" r="1.7" fill="#E38900"/>
<circle cx="260.2" cy="1924.2" r="1.7" fill="#00BA38"/>
<circle cx="280.6" cy="1935.8" r="1.7" fill="#1DB700"/>
<circle cx="269.5" cy="1927.5" r="1.7" fill="#00BA38"/>
<circle cx="278.2" cy="1925.2" r="1.7" fill="#1DB700"/>
<circle cx="266.2" cy="1928.1" r="1.7" fill="#E38900"/>
<circle cx="288.2" cy="1936.2" r="1.7" fill="#A9A400"/>
<circle cx="261.1" cy="1920.1" r="1.7" fill="#00BA38"/>
<circle cx="273.6" cy="1941.8" r="1.7" fill="#E38900"/>
<circle cx="254.1" cy="1926.3" r="1.7" fill="#E38900"/>
<circle cx="282.6" cy="1923.4" r="1.7" fill="#A9A400"/>
<circle cx="285.8" cy="1935.6" r="1.7" fill="#00BA38"/>
<circle cx="288.1" cy="1929.3" r="1.7" fill="#A9A400"/>
<circle cx="276.0" cy="1924.2" r="1.7" fill="#1DB700"/>
<circle cx="259.3" cy="1927.5" r="1.7" fill="#00BA38"/>
<circle cx="251.8" cy="1943.1" r="1.7" fill="#00BA38"/>
<circle cx="273.4" cy="1931.0" r="1.7" fill="#1DB700"/>
<circle cx="254.6" cy="1930.8" r="1.7" fill="#1DB700"/>
<circle cx="249.7" cy="1942.1" r="1.7" fill="#1DB700"/>
<circle cx="276.3" cy="1937.2" r="1.7" fill="#1DB700"/>
<circle cx="262.3" cy="1938.7" r="1.7" fill="#1DB700"/>
<circle cx="282.2" cy="1922.3" r="1.7" fill="#1DB700"/>
<circle cx="287.3" cy="1925.1" r="1.7" fill="#00BA38"/>
<circle cx="271.5" cy="1912.8" r="1.7" fill="#1DB700"/>
<circle cx="260.7" cy="1922.6" r="1.7" fill="#1DB700"/>
<circle cx="281.4" cy="1936.6" r="1.7" fill="#1DB700"/>
<circle cx="261.7" cy="1936.4" r="1.7" fill="#A9A400"/>
<circle cx="261.8" cy="1943.9" r="1.7" fill="#A9A400"/>
<circle cx="268.8" cy="1932.2" r="1.7" fill="#00BA38"/>
<circle cx="255.4" cy="1925.9" r="1.7" fill="#A9A400"/>
<circle cx="258.9" cy="1915.3" r="1.7" fill="#A9A400"/>
<circle cx="254.3" cy="1941.5" r="1.7" fill="#A9A400"/>
<circle cx="259.8" cy="1933.1" r="1.7" fill="#1DB700"/>
<circle cx="253.8" cy="1928.9" r="1.7" fill="#00BA38"/>
<clipPath id="silD"><path d="M287.6,2005.9 C289.4,2002.2 294.1,2002.2 298.5,1999.6 C302.9,1997.1 309.4,1992.9 314.1,1990.3 C318.7,1987.7 323.4,1987.2 326.5,1984.1 C329.6,1980.9 331.2,1976.3 332.8,1971.6 C334.3,1966.9 333.8,1959.6 335.9,1956.0 C338.0,1952.4 341.3,1951.3 345.2,1949.8 C349.1,1948.2 354.3,1946.6 359.3,1946.6 C364.2,1946.6 369.7,1947.7 374.9,1949.8 C380.1,1951.8 386.0,1955.5 390.4,1959.1 C394.9,1962.8 398.0,1967.2 401.4,1971.6 C404.7,1976.0 407.9,1980.7 410.7,1985.6 C413.6,1990.6 416.7,1995.8 418.5,2001.2 C420.3,2006.7 421.4,2012.4 421.6,2018.4 C421.9,2024.3 421.1,2030.8 420.1,2037.1 C419.0,2043.3 416.9,2050.1 415.4,2055.8 C413.8,2061.5 413.0,2066.2 410.7,2071.4 C408.4,2076.6 405.0,2081.7 401.4,2086.9 C397.7,2092.1 393.3,2098.4 388.9,2102.5 C384.5,2106.7 379.5,2110.1 374.9,2111.9 C370.2,2113.7 365.2,2113.7 360.8,2113.4 C356.4,2113.2 352.0,2110.3 348.4,2110.3 C344.7,2110.3 341.3,2111.6 339.0,2113.4 C336.7,2115.3 336.4,2118.9 334.3,2121.2 C332.2,2123.6 329.6,2125.1 326.5,2127.5 C323.4,2129.8 319.3,2133.7 315.6,2135.3 C312.0,2136.8 308.1,2137.3 304.7,2136.8 C301.3,2136.3 298.2,2134.5 295.4,2132.2 C292.5,2129.8 289.9,2124.9 287.6,2122.8 C285.2,2120.7 283.7,2118.6 281.3,2119.7 C279.0,2120.7 276.4,2126.2 273.5,2129.0 C270.7,2131.9 267.3,2134.2 264.2,2136.8 C261.1,2139.4 257.4,2143.6 254.8,2144.6 C252.2,2145.7 250.4,2145.4 248.6,2143.1 C246.8,2140.7 244.4,2134.2 243.9,2130.6 C243.4,2127.0 243.7,2123.8 245.5,2121.2 C247.3,2118.6 251.7,2118.1 254.8,2115.0 C257.9,2111.9 263.1,2106.2 264.2,2102.5 C265.2,2098.9 263.1,2097.3 261.1,2093.2 C259.0,2089.0 254.3,2082.3 251.7,2077.6 C249.1,2072.9 246.8,2068.8 245.5,2065.1 C244.2,2061.5 243.4,2058.4 243.9,2055.8 C244.4,2053.2 246.3,2050.3 248.6,2049.5 C250.9,2048.8 254.8,2050.6 257.9,2051.1 C261.1,2051.6 263.7,2053.2 267.3,2052.7 C270.9,2052.1 276.6,2050.6 279.8,2048.0 C282.9,2045.4 284.7,2041.5 286.0,2037.1 C287.3,2032.6 287.3,2026.7 287.6,2021.5 C287.8,2016.3 285.7,2009.5 287.6,2005.9 Z"/></clipPath>
<g clip-path="url(#silD)">
<path d="M287.6,2005.9 C289.4,2002.2 294.1,2002.2 298.5,1999.6 C302.9,1997.1 309.4,1992.9 314.1,1990.3 C318.7,1987.7 323.4,1987.2 326.5,1984.1 C329.6,1980.9 331.2,1976.3 332.8,1971.6 C334.3,1966.9 333.8,1959.6 335.9,1956.0 C338.0,1952.4 341.3,1951.3 345.2,1949.8 C349.1,1948.2 354.3,1946.6 359.3,1946.6 C364.2,1946.6 369.7,1947.7 374.9,1949.8 C380.1,1951.8 386.0,1955.5 390.4,1959.1 C394.9,1962.8 398.0,1967.2 401.4,1971.6 C404.7,1976.0 407.9,1980.7 410.7,1985.6 C413.6,1990.6 416.7,1995.8 418.5,2001.2 C420.3,2006.7 421.4,2012.4 421.6,2018.4 C421.9,2024.3 421.1,2030.8 420.1,2037.1 C419.0,2043.3 416.9,2050.1 415.4,2055.8 C413.8,2061.5 413.0,2066.2 410.7,2071.4 C408.4,2076.6 405.0,2081.7 401.4,2086.9 C397.7,2092.1 393.3,2098.4 388.9,2102.5 C384.5,2106.7 379.5,2110.1 374.9,2111.9 C370.2,2113.7 365.2,2113.7 360.8,2113.4 C356.4,2113.2 352.0,2110.3 348.4,2110.3 C344.7,2110.3 341.3,2111.6 339.0,2113.4 C336.7,2115.3 336.4,2118.9 334.3,2121.2 C332.2,2123.6 329.6,2125.1 326.5,2127.5 C323.4,2129.8 319.3,2133.7 315.6,2135.3 C312.0,2136.8 308.1,2137.3 304.7,2136.8 C301.3,2136.3 298.2,2134.5 295.4,2132.2 C292.5,2129.8 289.9,2124.9 287.6,2122.8 C285.2,2120.7 283.7,2118.6 281.3,2119.7 C279.0,2120.7 276.4,2126.2 273.5,2129.0 C270.7,2131.9 267.3,2134.2 264.2,2136.8 C261.1,2139.4 257.4,2143.6 254.8,2144.6 C252.2,2145.7 250.4,2145.4 248.6,2143.1 C246.8,2140.7 244.4,2134.2 243.9,2130.6 C243.4,2127.0 243.7,2123.8 245.5,2121.2 C247.3,2118.6 251.7,2118.1 254.8,2115.0 C257.9,2111.9 263.1,2106.2 264.2,2102.5 C265.2,2098.9 263.1,2097.3 261.1,2093.2 C259.0,2089.0 254.3,2082.3 251.7,2077.6 C249.1,2072.9 246.8,2068.8 245.5,2065.1 C244.2,2061.5 243.4,2058.4 243.9,2055.8 C244.4,2053.2 246.3,2050.3 248.6,2049.5 C250.9,2048.8 254.8,2050.6 257.9,2051.1 C261.1,2051.6 263.7,2053.2 267.3,2052.7 C270.9,2052.1 276.6,2050.6 279.8,2048.0 C282.9,2045.4 284.7,2041.5 286.0,2037.1 C287.3,2032.6 287.3,2026.7 287.6,2021.5 C287.8,2016.3 285.7,2009.5 287.6,2005.9 Z" fill="#E38900"/>
<path d="M334.3,1959.1 C336.3,1955.2 341.1,1950.5 345.2,1948.2 C349.4,1945.9 354.3,1945.1 359.3,1945.1 C364.2,1945.1 369.9,1945.9 374.9,1948.2 C379.8,1950.5 385.8,1954.7 388.9,1959.1 C392.0,1963.5 394.1,1970.3 393.6,1974.7 C393.0,1979.1 390.2,1982.8 385.8,1985.6 C381.4,1988.5 372.8,1990.8 367.1,1991.9 C361.3,1992.9 356.7,1992.9 351.5,1991.9 C346.3,1990.8 338.9,1989.0 335.9,1985.6 C332.9,1982.2 333.8,1976.0 333.5,1971.6 C333.3,1967.2 332.4,1963.0 334.3,1959.1 Z" fill="#F8766D"/>
<path d="M381.1,1977.8 C383.4,1971.8 392.8,1968.7 398.2,1970.0 C403.7,1971.3 409.7,1980.4 413.8,1985.6 C418.0,1990.8 421.4,1995.8 423.2,2001.2 C425.0,2006.7 425.0,2011.9 424.7,2018.4 C424.5,2024.9 426.0,2035.5 421.6,2040.2 C417.2,2044.9 404.2,2048.2 398.2,2046.4 C392.3,2044.6 388.1,2036.0 385.8,2029.3 C383.4,2022.5 385.0,2014.5 384.2,2005.9 C383.4,1997.3 378.8,1983.8 381.1,1977.8 Z" fill="#DA8F00"/>
<path d="M351.5,1990.3 C355.4,1987.7 368.4,1987.2 374.9,1987.2 C381.4,1987.2 387.1,1987.2 390.4,1990.3 C393.8,1993.4 395.4,2000.7 395.1,2005.9 C394.9,2011.1 392.3,2018.9 388.9,2021.5 C385.5,2024.1 379.8,2022.8 374.9,2021.5 C369.9,2020.2 363.2,2016.8 359.3,2013.7 C355.4,2010.6 352.8,2006.7 351.5,2002.8 C350.2,1998.9 347.6,1992.9 351.5,1990.3 Z" fill="#CF9400"/>
<path d="M359.3,2029.3 C362.4,2024.9 374.6,2028.0 382.7,2029.3 C390.7,2030.6 401.9,2032.6 407.6,2037.1 C413.3,2041.5 416.7,2049.3 416.9,2055.8 C417.2,2062.3 413.3,2072.4 409.2,2076.0 C405.0,2079.7 397.7,2078.4 392.0,2077.6 C386.3,2076.8 379.5,2075.0 374.9,2071.4 C370.2,2067.7 366.5,2062.8 363.9,2055.8 C361.3,2048.8 356.1,2033.7 359.3,2029.3 Z" fill="#EB8335"/>
<path d="M279.8,2052.7 C284.2,2048.0 298.0,2046.7 304.7,2048.0 C311.5,2049.3 316.1,2055.8 320.3,2060.4 C324.5,2065.1 328.1,2069.8 329.6,2076.0 C331.2,2082.3 331.2,2092.7 329.6,2097.9 C328.1,2103.1 325.0,2106.7 320.3,2107.2 C315.6,2107.7 306.8,2103.3 301.6,2101.0 C296.4,2098.6 293.0,2097.3 289.1,2093.2 C285.2,2089.0 279.8,2082.8 278.2,2076.0 C276.6,2069.3 275.3,2057.3 279.8,2052.7 Z" fill="#F27C55"/>
<path d="M286.0,2004.3 C289.4,1998.9 298.7,1997.6 304.7,1996.5 C310.7,1995.5 318.5,1995.2 321.9,1998.1 C325.2,2000.9 325.0,2007.2 325.0,2013.7 C325.0,2020.2 324.7,2031.6 321.9,2037.1 C319.0,2042.5 313.3,2044.9 307.8,2046.4 C302.4,2048.0 293.0,2049.3 289.1,2046.4 C285.2,2043.6 285.0,2036.3 284.4,2029.3 C283.9,2022.3 282.6,2009.8 286.0,2004.3 Z" fill="#C49A00"/>
<path d="M242.4,2051.1 C245.0,2049.0 252.7,2048.8 257.9,2049.5 C263.1,2050.3 269.2,2052.7 273.5,2055.8 C277.8,2058.9 282.0,2062.3 283.7,2068.2 C285.4,2074.2 284.8,2085.6 283.7,2091.6 C282.5,2097.6 279.4,2101.5 276.6,2104.1 C273.9,2106.7 270.4,2108.2 267.3,2107.2 C264.2,2106.2 261.3,2102.5 257.9,2097.9 C254.6,2093.2 249.6,2085.1 247.0,2079.2 C244.4,2073.2 243.1,2066.7 242.4,2062.0 C241.6,2057.3 239.8,2053.2 242.4,2051.1 Z" fill="#B79F00"/>
<path d="M323.4,2005.9 C327.6,2000.4 337.7,2002.0 343.7,2004.3 C349.7,2006.7 356.1,2013.2 359.3,2019.9 C362.4,2026.7 363.4,2037.8 362.4,2044.9 C361.3,2051.9 357.4,2057.8 353.0,2062.0 C348.6,2066.2 341.1,2069.8 335.9,2069.8 C330.7,2069.8 324.7,2067.5 321.9,2062.0 C319.0,2056.5 318.5,2046.4 318.7,2037.1 C319.0,2027.7 319.3,2011.3 323.4,2005.9 Z" fill="#70B000" opacity="0.75"/>
<path d="M278.2,2107.2 C279.8,2104.4 285.0,2100.2 289.1,2099.4 C293.3,2098.6 301.3,2099.9 303.1,2102.5 C305.0,2105.1 302.4,2112.1 300.0,2115.0 C297.7,2117.9 292.5,2119.4 289.1,2119.7 C285.7,2119.9 281.6,2118.6 279.8,2116.6 C277.9,2114.5 276.6,2110.1 278.2,2107.2 Z" fill="#DF70F8"/>
<path d="M287.6,2118.1 C290.4,2115.0 299.5,2112.4 304.7,2111.9 C309.9,2111.4 315.9,2112.1 318.7,2115.0 C321.6,2117.9 322.6,2125.1 321.9,2129.0 C321.1,2132.9 318.0,2136.6 314.1,2138.4 C310.2,2140.2 302.9,2141.2 298.5,2139.9 C294.1,2138.6 289.4,2134.2 287.6,2130.6 C285.7,2127.0 284.7,2121.2 287.6,2118.1 Z" fill="#00C094"/>
<path d="M320.3,2124.4 C321.9,2122.4 326.8,2119.9 329.6,2120.5 C332.5,2121.0 336.4,2124.7 337.4,2127.5 C338.5,2130.2 337.7,2135.0 335.9,2136.8 C334.1,2138.6 329.1,2139.2 326.5,2138.4 C323.9,2137.6 321.3,2134.5 320.3,2132.2 C319.3,2129.8 318.7,2126.3 320.3,2124.4 Z" fill="#A58AFF"/>
<path d="M242.4,2121.2 C244.6,2118.4 251.1,2116.8 254.8,2113.4 C258.6,2110.1 261.6,2101.2 265.0,2101.0 C268.3,2100.7 272.9,2108.5 275.1,2111.9 C277.3,2115.3 279.2,2117.9 278.2,2121.2 C277.2,2124.6 272.2,2128.8 268.9,2132.2 C265.5,2135.5 260.8,2138.9 257.9,2141.5 C255.1,2144.1 253.8,2147.5 251.7,2147.7 C249.6,2148.0 247.2,2145.9 245.5,2143.1 C243.8,2140.2 242.1,2134.2 241.6,2130.6 C241.1,2127.0 240.1,2124.1 242.4,2121.2 Z" fill="#00C0B5"/>
<path d="M254.8,2037.1 C255.6,2035.5 259.8,2040.2 262.6,2043.3 C265.5,2046.4 271.2,2053.2 272.0,2055.8 C272.8,2058.4 269.6,2059.4 267.3,2058.9 C265.0,2058.4 260.0,2056.3 257.9,2052.7 C255.9,2049.0 254.0,2038.6 254.8,2037.1 Z" fill="#FF6B96"/>
</g>
<path d="M281.3,1920.1 C282.6,1917.6 289.1,1918.3 292.2,1918.6 C295.4,1918.8 298.0,1919.1 300.0,1921.7 C302.1,1924.3 302.6,1930.8 304.7,1934.2 C306.8,1937.6 309.6,1939.9 312.5,1942.0 C315.4,1944.1 320.0,1944.8 321.9,1946.6 C323.7,1948.5 324.2,1951.1 323.4,1952.9 C322.6,1954.7 320.3,1956.8 317.2,1957.6 C314.1,1958.3 308.3,1957.3 304.7,1957.6 C301.1,1957.8 298.0,1959.4 295.4,1959.1 C292.8,1958.9 290.7,1958.1 289.1,1956.0 C287.6,1953.9 286.8,1950.3 286.0,1946.6 C285.2,1943.0 285.2,1938.6 284.4,1934.2 C283.7,1929.8 280.0,1922.7 281.3,1920.1 Z" fill="#00BC56"/>
<path d="M254.8,1946.6 C256.4,1945.3 259.5,1949.2 262.6,1951.3 C265.7,1953.4 270.4,1956.3 273.5,1959.1 C276.6,1962.0 279.2,1965.9 281.3,1968.5 C283.4,1971.1 285.7,1971.8 286.0,1974.7 C286.3,1977.6 285.0,1982.5 282.9,1985.6 C280.8,1988.7 276.6,1992.6 273.5,1993.4 C270.4,1994.2 267.0,1991.9 264.2,1990.3 C261.3,1988.7 258.2,1987.2 256.4,1984.1 C254.6,1980.9 253.8,1975.7 253.3,1971.6 C252.7,1967.4 253.0,1963.3 253.3,1959.1 C253.5,1955.0 253.3,1947.9 254.8,1946.6 Z" fill="#00BA38"/>
<path d="M282.9,1977.8 C285.7,1974.7 293.5,1971.3 298.5,1968.5 C303.4,1965.6 308.9,1961.7 312.5,1960.7 C316.1,1959.6 317.4,1960.9 320.3,1962.2 C323.2,1963.5 327.3,1965.6 329.6,1968.5 C332.0,1971.3 334.6,1976.3 334.3,1979.4 C334.1,1982.5 330.9,1985.4 328.1,1987.2 C325.2,1989.0 320.6,1989.0 317.2,1990.3 C313.8,1991.6 311.5,1993.4 307.8,1995.0 C304.2,1996.5 299.0,1999.1 295.4,1999.6 C291.7,2000.2 288.3,2000.2 286.0,1998.1 C283.7,1996.0 281.8,1990.6 281.3,1987.2 C280.8,1983.8 280.0,1980.9 282.9,1977.8 Z" fill="#70B000"/>
<path d="M225.2,2005.9 C226.2,2003.3 228.6,2000.7 231.4,1999.6 C234.3,1998.6 239.5,1998.6 242.4,1999.6 C245.2,2000.7 247.0,2002.8 248.6,2005.9 C250.1,2009.0 251.4,2014.5 251.7,2018.4 C252.0,2022.3 249.6,2025.6 250.1,2029.3 C250.7,2032.9 254.8,2037.6 254.8,2040.2 C254.8,2042.8 252.2,2045.1 250.1,2044.9 C248.1,2044.6 245.5,2041.5 242.4,2038.6 C239.2,2035.8 234.3,2031.6 231.4,2027.7 C228.6,2023.8 226.2,2018.9 225.2,2015.2 C224.2,2011.6 224.2,2008.5 225.2,2005.9 Z" fill="#00C1A5"/>
<path d="M256.4,1999.6 C258.7,1995.5 265.0,1994.2 268.9,1993.4 C272.8,1992.6 276.6,1992.9 279.8,1995.0 C282.9,1997.1 286.0,2002.0 287.6,2005.9 C289.1,2009.8 289.1,2014.2 289.1,2018.4 C289.1,2022.5 288.9,2026.9 287.6,2030.8 C286.3,2034.7 284.7,2039.7 281.3,2041.7 C277.9,2043.8 271.2,2044.3 267.3,2043.3 C263.4,2042.3 260.0,2039.7 257.9,2035.5 C255.9,2031.3 255.1,2024.3 254.8,2018.4 C254.6,2012.4 254.0,2003.8 256.4,1999.6 Z" fill="#00BF81"/>
<path d="M318.7,1867.1 C319.4,1864.0 322.4,1861.6 324.2,1859.4 C326.0,1857.1 328.1,1853.4 329.6,1853.9 C331.2,1854.4 333.2,1858.2 333.5,1862.5 C333.9,1866.8 333.0,1876.1 332.0,1879.6 C330.9,1883.1 329.3,1883.8 327.3,1883.5 C325.4,1883.3 321.7,1880.8 320.3,1878.1 C318.9,1875.3 318.1,1870.3 318.7,1867.1 Z" fill="#00BDD2"/>
<polyline points="325.8,1882.7 323.1,1901.4 321.1,1912.4 317.2,1921.7" fill="none" stroke="#FF66A8" stroke-width="2.6" stroke-linecap="round" stroke-linejoin="round"/>
<polyline points="412.3,1857.8 401.4,1876.5 396.7,1889.0 392.8,1899.9" fill="none" stroke="#00B6EB" stroke-width="4.5" stroke-linecap="round" stroke-linejoin="round"/>
<polyline points="385.8,1890.5 392.0,1887.4" fill="none" stroke="#00B6EB" stroke-width="3" stroke-linecap="round" stroke-linejoin="round"/>
<path d="M319.5,1940.4 C321.2,1938.3 326.8,1934.7 329.6,1934.2 C332.5,1933.7 335.8,1935.1 336.7,1937.3 C337.6,1939.5 336.8,1945.2 335.1,1947.4 C333.4,1949.6 329.1,1950.7 326.5,1950.5 C323.9,1950.4 320.7,1948.3 319.5,1946.6 C318.3,1945.0 317.8,1942.5 319.5,1940.4 Z" fill="#FF63B9"/>
<path d="M335.9,1937.3 C337.4,1935.0 342.4,1933.8 345.2,1932.6 C348.1,1931.4 351.1,1929.0 353.0,1930.3 C355.0,1931.6 357.2,1937.6 356.9,1940.4 C356.7,1943.3 353.9,1945.7 351.5,1947.4 C349.0,1949.1 344.7,1950.7 342.1,1950.5 C339.5,1950.4 336.9,1948.9 335.9,1946.6 C334.8,1944.4 334.3,1939.6 335.9,1937.3 Z" fill="#00ABFD"/>
<path d="M89.0,1864.4 C89.7,1862.7 92.5,1860.2 95.0,1859.3 C97.4,1858.4 101.2,1857.1 103.7,1859.3 C106.2,1861.5 110.8,1870.5 110.0,1872.8 C109.2,1875.0 102.1,1873.3 98.9,1872.8 C95.8,1872.2 92.7,1871.0 91.0,1869.6 C89.4,1868.2 88.4,1866.2 89.0,1864.4 Z" fill="#619CFF"/>
<path d="M91.8,1868.4 C91.5,1867.3 96.4,1866.9 98.9,1867.2 C101.4,1867.5 104.9,1869.2 106.8,1870.4 C108.8,1871.6 111.8,1873.8 110.8,1874.3 C109.8,1874.9 104.1,1874.5 100.9,1873.5 C97.7,1872.6 92.1,1869.5 91.8,1868.4 Z" fill="#EC69EF"/>
<path d="M77.6,2117.7 C78.1,2114.7 83.4,2112.4 87.1,2111.8 C90.8,2111.1 97.6,2111.0 99.7,2113.7 C101.8,2116.5 100.5,2124.9 99.7,2128.4 C98.9,2131.9 97.6,2134.5 95.0,2134.7 C92.3,2135.0 86.8,2132.8 83.9,2130.0 C81.0,2127.1 77.0,2120.7 77.6,2117.7 Z" fill="#00BFC4"/>
<polyline points="156.3,2100.7 164.2,2105.8" fill="none" stroke="#FC7082" stroke-width="4" stroke-linecap="round" stroke-linejoin="round"/>
<polyline points="174.1,2109.8 186.0,2105.8" fill="none" stroke="#F564E3" stroke-width="4" stroke-linecap="round" stroke-linejoin="round"/>
<polyline points="171.0,2121.7 178.9,2125.6 182.8,2131.6" fill="none" stroke="#F564E3" stroke-width="4" stroke-linecap="round" stroke-linejoin="round"/>
<ellipse cx="491.9" cy="1946.4" rx="4" ry="3.5" fill="#BD81FF"/>
<path d="M550.1,2025.5 C550.1,2023.3 556.7,2019.2 561.9,2017.6 C567.2,2016.0 578.4,2013.6 581.7,2016.0 C585.0,2018.4 585.0,2029.3 581.7,2031.8 C578.4,2034.3 567.2,2032.1 561.9,2031.0 C556.7,2030.0 550.1,2027.7 550.1,2025.5 Z" fill="#06A4FF"/>
<path d="M577.8,2016.8 C581.7,2013.2 595.2,2011.2 601.5,2010.9 C607.8,2010.5 613.6,2011.7 615.7,2014.8 C617.9,2017.9 617.2,2026.4 614.2,2029.5 C611.1,2032.6 603.6,2032.9 597.5,2033.4 C591.5,2033.9 581.1,2035.4 577.8,2032.6 C574.5,2029.9 573.8,2020.4 577.8,2016.8 Z" fill="#00BE6D"/>
<circle cx="604.3" cy="2021.5" r="3" fill="#FF61C8"/>
<path d="M536.6,2130.0 C535.8,2129.0 539.4,2122.5 541.4,2120.5 C543.3,2118.5 547.7,2117.2 548.5,2118.1 C549.3,2119.0 548.1,2124.0 546.1,2126.0 C544.1,2128.0 537.4,2130.9 536.6,2130.0 Z" fill="#8893FF"/>
<polyline points="267.1,2283.9 271.1,2299.7 284.9,2305.7 308.7,2308.0 314.6,2311.6" fill="none" stroke="#00B1F5" stroke-width="3.2" stroke-linecap="round" stroke-linejoin="round"/>
<polyline points="310.6,2308.8 317.4,2312.8" fill="none" stroke="#FB61D7" stroke-width="4" stroke-linecap="round" stroke-linejoin="round"/>
<path d="M278.5 2020.5h0M254.5 2016.5h0M254.5 2008h0M251 2009h0M265 1993h0M261.5 1994h0M267.5 2011.5h0M271 2023.5h0M257 1996.5h0M284.5 2000.5h0M262.5 2037h0M277.5 2038.5h0M266 2038h0M269.5 2022h0M271 2040h0M254.5 2023h0M252.5 2009h0M258 1995.5h0M261 2042.5h0M261 1993h0M272 2045h0M268 2024.5h0M281.5 2015.5h0M285 2000h0M272 2038.5h0M277 2043h0M279.5 2019.5h0M256 2033.5h0M282.5 2015h0M251 2014h0M278.5 1993h0M280.5 1992.5h0M260.5 1993h0M267 2040.5h0M254 2015.5h0M254 2013h0" stroke="#00BF81" stroke-width="3.4" stroke-linecap="round" fill="none"/>
<path d="M195 1880.5h0M217 1896h0M210 1868h0M219.5 1885.5h0M205.5 1872h0M202 1875h0M197.5 1882h0M196 1885.5h0M213 1884.5h0M220.5 1893h0M233.5 1880.5h0M218.5 1896h0M215 1896h0M207.5 1872h0M197.5 1880h0M219 1869h0M228.5 1871h0M357.5 2031.5h0M214 1896h0M211 1886.5h0" stroke="#99A800" stroke-width="3.4" stroke-linecap="round" fill="none"/>
<path d="M410 1976h0M406 2013h0M421.5 2003.5h0M399.5 2014.5h0M409.5 1978.5h0M400.5 1968.5h0M408.5 1979.5h0M422.5 2021h0M420 2044.5h0M421 2036h0M422 2003h0M402.5 2008.5h0M426 2010h0M414 1984h0M420.5 1997h0M422.5 2013.5h0M418 2045h0M418.5 2042h0M406 2015.5h0M412 1985.5h0M405.5 2015.5h0M424.5 2019h0M422 2012.5h0M401.5 1971.5h0M406.5 1971.5h0M398 2013.5h0M411.5 1981h0M423 2031h0M421.5 2025.5h0M423 2021h0M424 2005h0M402.5 1965.5h0M422.5 2018.5h0M401.5 2011.5h0M418.5 2000.5h0M422 2017.5h0M429 2027.5h0M415 1985.5h0M401 2009.5h0M422.5 2039h0M422.5 2024h0M429 2016.5h0M424.5 2008.5h0M411 1984.5h0M409 1976.5h0M418.5 1998h0M420.5 2004h0M405.5 2015h0M416.5 1996.5h0M404.5 2013h0M422 2014.5h0M422 2013.5h0" stroke="#DA8F00" stroke-width="3.4" stroke-linecap="round" fill="none"/>
<path d="M345.5 1926h0M357.5 1934.5h0M338 1933h0M355.5 1930h0M340.5 1928h0M350.5 1928.5h0M356 1933h0M336 1949h0M358.5 1941h0M337 1936h0M359 1941.5h0M361 1932.5h0M348 1928.5h0M337 1949h0M354 1923.5h0M339.5 1931h0M346.5 1931h0M343.5 1926h0M342.5 1929.5h0M355.5 1924.5h0M346 1926.5h0M345.5 1928.5h0" stroke="#00ABFD" stroke-width="3.4" stroke-linecap="round" fill="none"/>
<path d="M250.5 1969h0M279 1969.5h0M265.5 1976h0M261 1989h0M252.5 1961.5h0M265.5 1952h0M278 1968.5h0M279 1965h0M282.5 1970h0M284.5 1966h0M263 1991.5h0M263.5 1929h0M248.5 1950h0M277.5 1974h0M264.5 1992h0M249.5 1959h0M263.5 1969h0M266 1952.5h0M278 1960h0M250 1966h0M276.5 1976h0M253.5 1988h0M264 1950.5h0M259 1987.5h0M271 1952h0M267 1952.5h0M253.5 1981.5h0M252.5 1949.5h0M252.5 1980.5h0M260 1988.5h0M276 1961.5h0M272.5 1974h0M268 1950h0M252 1974.5h0M251 1971h0M260.5 1949h0M285 1971.5h0M252.5 1988.5h0M265 1965h0M251.5 1946h0M279.5 1967.5h0M284 1969.5h0M280.5 1960.5h0M278 1971.5h0M264.5 1971.5h0M286 1971.5h0M264 1971.5h0" stroke="#00BA38" stroke-width="3.4" stroke-linecap="round" fill="none"/>
<path d="M318.5 1957h0M281 1938.5h0M286.5 1953.5h0M298 1916h0M304 1920.5h0M280 1919.5h0M304.5 1931h0M304.5 1960.5h0M282 1956.5h0M305 1939.5h0M293.5 1915.5h0M297.5 1930h0M298 1940.5h0M301 1921.5h0M313.5 1937.5h0M290.5 1962.5h0M296 1940h0M291 1959.5h0M279.5 1939.5h0M295.5 1913.5h0M296.5 1929h0M279.5 1942h0M299.5 1917h0M294.5 1917.5h0M297.5 1929h0M323.5 1956.5h0M284.5 1941.5h0M292 1959.5h0M286.5 1960h0M304.5 1932.5h0M284.5 1917.5h0M280.5 1916.5h0M284 1946h0M298.5 1914.5h0M325 1953h0M279.5 1930h0M278 1951h0M291 1913h0M281 1915.5h0M286.5 1914.5h0M299 1940.5h0M290.5 1957.5h0M297.5 1918.5h0M281 1926.5h0M288.5 1958.5h0M280.5 1953h0M278 1943.5h0M279 1949.5h0M300 1958.5h0M307.5 1938.5h0M286 1951h0M278 1923h0M312.5 1939h0M303 1928.5h0M309.5 1937.5h0M278 1918.5h0M289.5 1914.5h0M277.5 1917h0M286 1916.5h0M293.5 1911.5h0M297.5 1930h0" stroke="#00BC56" stroke-width="3.4" stroke-linecap="round" fill="none"/>
<path d="M416 2069.5h0M393 1958h0M410.5 2070h0M416.5 2052h0M394 1958.5h0M271 2050.5h0M380 2067.5h0M418.5 2053.5h0M380 2055.5h0M377.5 2068.5h0M412.5 2072.5h0M272.5 2051h0M414 2062.5h0M413.5 2068h0M415.5 2067h0M361 2028.5h0M374.5 2066h0M414.5 2061.5h0M417.5 2052.5h0M381.5 2060.5h0M417 2048.5h0M380.5 2068.5h0" stroke="#EB8335" stroke-width="3.4" stroke-linecap="round" fill="none"/>
<path d="M357 2114.5h0M400.5 1962.5h0M392.5 2107h0M326.5 2117.5h0M345 2114h0M382 2114h0M405.5 2084h0M339.5 2001h0M346.5 2112.5h0M395.5 1964h0M357.5 2113.5h0M368 2117h0M365 2113.5h0M399.5 1965h0M349 2112.5h0M418 2046h0M398 1963h0M360 2098h0M287 2091.5h0M354 2113.5h0M338.5 2114h0M339 2119.5h0M405 2081.5h0M347 2111h0M393.5 1960h0M395.5 2103.5h0M316.5 2112.5h0M366 2114.5h0M374.5 2069h0M364.5 2113h0M400 1966.5h0M365.5 2117h0M352 2005h0M338 2116.5h0M390.5 2100.5h0M382.5 2108h0M359.5 2025.5h0M332 2121h0M367 2114h0M340.5 2112.5h0M384 2106.5h0M345.5 2111h0M360.5 2084h0M337.5 2118h0M388.5 2109h0M341 1990.5h0M344 1996h0M333 2121h0M279.5 2050h0M409 2082.5h0M377.5 2111h0M280 2046h0M394.5 1962h0M315 2114.5h0M406 2082h0M388 2104h0M349 2111.5h0M282.5 2101.5h0M397.5 2102.5h0M391.5 2104h0M362 2089.5h0M370.5 2120h0M397 2094h0M278.5 2046h0M407 2087h0M362 2087.5h0M403.5 2085h0M344.5 2113h0M330 2066.5h0M373 2111.5h0M417 2047h0M302.5 2113h0M362.5 2091h0M342 2115.5h0M367 2113h0M394 1962h0M347 2111.5h0M387 2104h0M361 2089h0M349.5 2110.5h0M380 2109h0M361.5 2097.5h0M402 2086h0M422.5 2049.5h0M373 2117.5h0" stroke="#E38900" stroke-width="3.4" stroke-linecap="round" fill="none"/>
<path d="M204 1931h0M200 1924.5h0M250 1906h0M198 1914h0M237.5 1941h0M221.5 1961h0M234 1944h0M224.5 1960h0M229 1912.5h0M212 1942.5h0M202 1935h0M209 1938h0M236.5 1949h0M235.5 1887.5h0M205 1933.5h0M245 1931.5h0M200.5 1924h0M238 1897h0M238.5 1937.5h0M249.5 1908h0M233.5 1907h0M233.5 1965h0M196 1899h0M233.5 1950h0M228 1915h0M196.5 1909h0M237 1917h0M225.5 1957h0M248 1929.5h0M205 1935.5h0" stroke="#A9A400" stroke-width="3.4" stroke-linecap="round" fill="none"/>
<path d="M327 1963h0M317.5 1981.5h0M288 1971h0M312.5 1973h0M325 1960.5h0M302.5 1980h0M303.5 1979h0M312 1969h0M292 1967.5h0M313 1971h0M302.5 1981h0M326.5 1965.5h0M297 1965.5h0M325 1963h0M288.5 1969.5h0M328 1963h0M308.5 1959.5h0M303.5 1960.5h0M312.5 1959.5h0M312.5 1978.5h0M303 1964h0M308.5 1960.5h0M304 1981.5h0M312.5 1959h0M310 1983h0M303.5 1971.5h0M298 1964h0M294 1967h0" stroke="#70B000" stroke-width="3.4" stroke-linecap="round" fill="none"/>
<path d="M297 2091h0M316 2073h0M301 2093h0M315.5 2065.5h0M316.5 2076.5h0M391.5 1955.5h0M258 2050h0M256.5 2047h0M300.5 2097h0M312.5 2077h0M327.5 2066h0M289.5 2091.5h0M391 1957h0M295 2093h0M315.5 2070h0M299.5 2097.5h0" stroke="#F27C55" stroke-width="3.4" stroke-linecap="round" fill="none"/>
<path d="M324 2047h0M336 2046.5h0M354.5 2034.5h0M345 2061.5h0M325.5 2036h0M344.5 2025h0M343 2043h0M354.5 2035.5h0M343.5 2042.5h0M330.5 2058.5h0M338.5 2003.5h0M325 2035.5h0M330 2054.5h0M342.5 2039h0M341 2041h0M330.5 2047h0M324 2037h0M357 2037.5h0M355.5 2035.5h0M332.5 2065h0M344.5 2052.5h0M326 2055h0M329 2041h0M340 2048h0M343 2035.5h0M358.5 2038.5h0M337 2061h0M328 2040.5h0M344.5 2032.5h0M330 2061h0M328 2054h0M343 2046.5h0M342.5 2048.5h0M335.5 2035.5h0M341.5 2066h0M328.5 2061.5h0" stroke="#86AC00" stroke-width="3.4" stroke-linecap="round" fill="none"/>
<path d="M379.5 1948h0M373 1946h0M359.5 1945h0M366.5 1969.5h0M389.5 1957h0M333.5 1954.5h0M332.5 1963.5h0M368 1946h0M386.5 1956h0M389 1950h0M380 1951.5h0M331.5 1962.5h0M381.5 1951h0M331 1960.5h0M360.5 1944.5h0M366 1945h0M363 1981.5h0M383 1948h0M384.5 1949h0M333 1962h0M360 1969h0M350.5 1990.5h0M333.5 1965.5h0M335 1955.5h0M369 1947h0M332 1958.5h0M374 1946.5h0" stroke="#F8766D" stroke-width="3.4" stroke-linecap="round" fill="none"/>
<path d="M301.5 2126h0M311 2120.5h0M316 2119.5h0M323 2137h0M303.5 2127h0M310 2123.5h0M294 2135.5h0M286.5 2131.5h0M316.5 2136.5h0M302 2119h0M299 2116h0M291.5 2133h0M289 2125h0M290.5 2127h0M312.5 2137h0M304 2124.5h0M305.5 2139h0M303 2121.5h0M312 2113h0M302.5 2120.5h0M309.5 2123.5h0M319 2138.5h0M301 2116h0M292 2130.5h0M311 2118h0M299 2127.5h0M304 2126.5h0M319.5 2132h0M306 2143h0" stroke="#00C094" stroke-width="3.4" stroke-linecap="round" fill="none"/>
<path d="M313 1873.5h0M334.5 1850h0" stroke="#00BDD2" stroke-width="3.4" stroke-linecap="round" fill="none"/>
<path d="M318 1943.5h0M328 1933.5h0M327.5 1950h0M318.5 1942h0M320.5 1933h0M323.5 1934.5h0M328 1950.5h0M330 1950.5h0M334 1934.5h0M325 1934.5h0M328 1952.5h0M327.5 1934h0M322 1936.5h0" stroke="#FF63B9" stroke-width="3.4" stroke-linecap="round" fill="none"/>
<path d="M275 2130h0M254 2113.5h0M257 2110h0M255 2106.5h0M259.5 2107.5h0M270.5 2120.5h0M262 2102.5h0M281.5 2124h0M258 2120h0M251.5 2116h0M277.5 2123.5h0M256 2112.5h0M271 2123.5h0M275 2126.5h0M270.5 2120.5h0M255.5 2106h0M262.5 2103.5h0M279 2124h0M258.5 2122.5h0M256 2117.5h0M251.5 2115h0M254.5 2118.5h0M243.5 2137.5h0M279.5 2126.5h0" stroke="#00C0B5" stroke-width="3.4" stroke-linecap="round" fill="none"/>
<path d="M304.5 2029.5h0M308.5 2019h0M309 2030.5h0M309.5 2017.5h0M308 2017h0M301.5 2026.5h0M303 2023h0M288 2003h0" stroke="#C49A00" stroke-width="3.4" stroke-linecap="round" fill="none"/>
<path d="M244 2068.5h0M238.5 2064h0M243 2045.5h0M251.5 2092h0M276 2064h0M245 2050h0M245 2075h0M252 2047.5h0M249 2081.5h0M274.5 2068.5h0M242 2069h0M254.5 2051h0M239 2061h0M261.5 2097h0M277.5 2064h0M247.5 2083h0M283.5 2091.5h0M258.5 2091.5h0M261.5 2098h0M255.5 2085.5h0M259.5 2095h0M239 2058h0M248.5 2082.5h0M246.5 2048.5h0M241 2074h0M275.5 2066.5h0M254.5 2089.5h0" stroke="#B79F00" stroke-width="3.4" stroke-linecap="round" fill="none"/>
<path d="M562.5 2014h0M564 2014.5h0" stroke="#06A4FF" stroke-width="3.4" stroke-linecap="round" fill="none"/>
<path d="M298 2105h0M291.5 2102h0M289.5 2102.5h0M291.5 2115.5h0M285.5 2105h0M283.5 2120h0M285.5 2119.5h0M283.5 2102.5h0" stroke="#DF70F8" stroke-width="3.4" stroke-linecap="round" fill="none"/>
<path d="M168.5 2128.5h0" stroke="#F564E3" stroke-width="3.4" stroke-linecap="round" fill="none"/>
<path d="M330 2120h0M329.5 2126h0M326 2130h0M332 2122h0M328.5 2124.5h0M330.5 2132h0M333.5 2126h0M329.5 2124.5h0" stroke="#A58AFF" stroke-width="3.4" stroke-linecap="round" fill="none"/>
<path d="M242 2008h0M230.5 1999h0M232 2012h0M220.5 2009h0" stroke="#00C1A5" stroke-width="3.4" stroke-linecap="round" fill="none"/>
<path d="M371.5 2011.5h0M368.5 2000h0M374 2010h0M356 1992h0M356.5 2002h0M369.5 2001.5h0M369.5 2008.5h0M356.5 1999h0M355 1995.5h0M376 2006.5h0M371 1997h0M352.5 2003.5h0M355 2003h0M356 2004h0M368.5 1997.5h0M355 2003.5h0M356 2002h0M356 1999.5h0" stroke="#CF9400" stroke-width="3.4" stroke-linecap="round" fill="none"/>
<path d="M406.5 1860.5h0M403 1869.5h0" stroke="#00B6EB" stroke-width="3.4" stroke-linecap="round" fill="none"/>
<path d="M271.5 2056h0M260 2049.5h0M263.5 2051.5h0M267 2050.5h0M261.5 2050.5h0M263 2047h0M264 2051h0" stroke="#FF6B96" stroke-width="3.4" stroke-linecap="round" fill="none"/>
<path d="M618.5 2009.5h0M618 2019h0M596 2007.5h0" stroke="#00BE6D" stroke-width="3.4" stroke-linecap="round" fill="none"/>
<path d="M88.5 2109h0M85 2132h0" stroke="#00BFC4" stroke-width="3.4" stroke-linecap="round" fill="none"/>
<path d="M548 2130.5h0" stroke="#8893FF" stroke-width="3.4" stroke-linecap="round" fill="none"/>
<path d="M153 2099.5h0M161.5 2095.5h0M158 2112.5h0" stroke="#FC7082" stroke-width="3.4" stroke-linecap="round" fill="none"/>
<path d="M348.5 1938h0M325.5 1944h0M223.5 1923.5h0M281 2006.5h0M300 1950h0M298.5 2120h0M262 2007.5h0M100 1866h0M366 2047.5h0M247 2059.5h0M372 2109h0M355 1976.5h0M372 1990.5h0M362 2065.5h0M417 2037.5h0M396.5 2038h0M322.5 2106.5h0M260 2135h0M102.5 1870.5h0M382.5 2004h0M273.5 2108.5h0M205.5 1879h0M301 1995h0M305.5 2069h0M206 1920h0M589.5 2031.5h0M332.5 2104h0M285.5 2026h0M96.5 1865.5h0M330.5 1938h0M344 2008h0M225.5 1875.5h0M378.5 2047h0M261 1983h0M277.5 1996.5h0M379 2072h0M333 2062h0M331 2074.5h0M388 1962h0M302 1996h0M400 2040.5h0M410.5 2020.5h0M377 2076.5h0M309 2009h0M274 2101.5h0M391.5 1970.5h0M415 2045h0M324.5 2075.5h0M92.5 2129h0M235 2002.5h0M337 2094h0M246 2034h0M406 2041.5h0M294.5 1980.5h0M376.5 2092h0M247.5 1913.5h0M311.5 2130h0M397 2028.5h0M288 2031.5h0M262.5 1956.5h0M310 2051.5h0M292 1952h0M326.5 2082h0M308.5 2065h0M297 1955h0M338 2073.5h0M296.5 2041h0M307.5 1987.5h0M318 2048h0M263 2055.5h0M354.5 2020.5h0M383.5 2054h0M401 2073.5h0M265.5 2096.5h0M356.5 2081.5h0M214 1936h0M391.5 2086.5h0M291 2109.5h0M340 2018.5h0M383 2100h0M395.5 1972h0M223 1895.5h0M374 2013.5h0M340.5 1939.5h0M332 1944.5h0M306.5 2014h0M290.5 2118.5h0M293 2024h0M249.5 2127.5h0M403 2022.5h0M598 2015.5h0M221.5 1879.5h0M287 1923.5h0M317.5 2091h0M358 2053.5h0M319 2028.5h0M369 2096h0M286 2045h0M280.5 1985.5h0M396 2087.5h0M325 2060.5h0M246.5 1922h0M378.5 2081h0M335.5 2000h0M321.5 2084h0M367.5 2079.5h0M321.5 2100.5h0M331.5 1938.5h0M373 2061.5h0M379.5 1989.5h0M265 2087.5h0M218 1939.5h0M263.5 2092h0M324 2116.5h0M418 2023.5h0M574.5 2027h0M314 2034.5h0M347.5 2098h0M236 1925h0M393 2084.5h0M320 1997.5h0M257 2008h0M395 2090h0M324.5 1941h0M309 1947.5h0M316 2052.5h0M355.5 2061.5h0M323 1973.5h0M372 2054h0M265.5 1998.5h0M230.5 1885h0M354 1981h0M342 1953.5h0M316 2015h0M372.5 2015h0M269 2004.5h0M375.5 2101h0M274 2004h0M317.5 1963h0M359.5 2108.5h0M364 2042h0M330 2110.5h0M318 2014.5h0M310 2034h0M270.5 1993h0M330.5 2113h0M280.5 1983.5h0M365.5 2106.5h0M404.5 1994.5h0M395 2069.5h0M312.5 2043.5h0M388 2071h0M267.5 1966.5h0M255.5 2139h0M262 2021h0M366 2052h0M242 1921.5h0M347 2044h0M290.5 2058.5h0M386.5 1966h0M291 1939.5h0M338 1945h0M365 2045.5h0M288.5 2065h0M317.5 2103.5h0M296 1991.5h0M290 1929h0M298 2040h0M373.5 2082h0M248.5 2061.5h0M298.5 2020h0M391 1982h0M349 2061.5h0M351.5 2086h0M355.5 1971.5h0M252 2058h0M337.5 2070.5h0M252 2135.5h0M319.5 2002.5h0M361.5 2005h0M211 1899h0M301 1953h0M370 2064.5h0M344 1983h0M319 2101.5h0M400 1990h0M381 2073.5h0M382.5 1999h0M322.5 2066.5h0M345.5 2013h0M317 1968.5h0M339.5 1966.5h0M384 1985h0M327.5 1940h0M293.5 2089h0M376.5 2104h0M379.5 2073.5h0M102.5 1866.5h0M266 2094h0M332 2073.5h0M391 2083h0M366 2039.5h0M307.5 1968h0M332 1987.5h0M235.5 2005h0M266 1961h0M204.5 1885.5h0M267.5 2111h0M240 2005.5h0M407 2034h0M350.5 1935h0M398 2085.5h0M305.5 2066.5h0M224 1895.5h0M310 1966h0M366 2063.5h0M227 1906h0M210.5 1882h0M233.5 1939.5h0M226 1948h0M266.5 2071.5h0M342.5 2072h0M276.5 2030h0M344.5 1987.5h0M382 2072h0M321.5 2041h0M244.5 1910h0M360.5 1962.5h0M264 2055h0M381 2029.5h0M415.5 2005h0M404 2024.5h0M308.5 1977h0M391 2031h0M332 1946h0M249.5 2127.5h0M292 2080h0M285.5 2021.5h0M298.5 2120h0M371.5 2050.5h0M585 2030h0M300.5 2043.5h0M309.5 2056h0M298 2130h0M385.5 2072h0M287.5 1976h0M243 1908.5h0M336 2103.5h0M280.5 2063h0M301 2031.5h0M284.5 2020h0M285 2109.5h0M233.5 1897h0M289.5 1952.5h0M358 1990h0M252 2136.5h0M256.5 2055.5h0M390.5 2033.5h0M289.5 1996h0M359 1951.5h0M216.5 1878.5h0M348.5 1946.5h0M373 1956h0M597.5 2022.5h0M404 1999.5h0M307 2119.5h0M356.5 2104h0M348.5 2028h0M350 1954h0M362 1989.5h0M202.5 1885h0M285.5 2048.5h0M373.5 2104.5h0M328.5 1990h0M349.5 2085.5h0M411.5 2005.5h0M385.5 2045.5h0M366.5 1997.5h0M279.5 2077h0M396 1972h0M301.5 1953h0M214 1903h0M330.5 2003h0M319.5 2062h0M588.5 2016h0M268 2083.5h0M396.5 2031.5h0M262.5 2026h0M336.5 2020.5h0M208 1896.5h0M290 2032h0M314 1962.5h0M240 1923h0M212 1932.5h0M313.5 1954.5h0M366 2037h0M379 1985h0M274 1987h0M305.5 2009h0M260 2112h0M338.5 1979.5h0M394 1987h0M257 1979h0M298 1990h0M296 2121h0M385 2004.5h0M313 2089.5h0M231.5 1935h0M299 2018.5h0M401.5 2079h0M228 1925.5h0M249.5 2139h0M394.5 2005.5h0M346 2021.5h0M313 2109h0M324 2104h0M340 1968.5h0M609.5 2015.5h0M360 2062h0M360 2016.5h0M308.5 2107.5h0M391 1964.5h0M276.5 2119h0M400.5 2037h0M415 2035h0M379.5 2052h0M273.5 1982h0M306.5 2014h0M337 1971h0M358.5 2076h0M332.5 1992.5h0M303.5 1948h0M307 2096h0M313.5 1995.5h0M298 2110h0M353.5 2014.5h0M297 2045h0M272.5 2072.5h0M402.5 2023h0M283.5 2109h0M293 2077.5h0M267.5 2096.5h0M583.5 2025h0M225.5 1944h0M340 1956h0M314 1948.5h0M309 2109.5h0M281.5 2028h0M290.5 2011.5h0M230.5 1938h0M308.5 2002h0M258 1961h0M257.5 2016.5h0M318.5 2015.5h0M316.5 2107h0M275.5 2006h0M308.5 2094.5h0M230 1897h0M398 1996h0M281.5 2059.5h0M381 2014.5h0M293.5 1920.5h0M264 1998.5h0M292 2028.5h0M321.5 2111h0M257 1975.5h0M298.5 1925.5h0M388 2067h0M310.5 2036h0M335 1997.5h0M294.5 2004.5h0M382 1992h0M316.5 2047.5h0M393 2087.5h0M365.5 1987h0M380.5 2101h0M295 2010.5h0M341.5 2020.5h0M288.5 1980h0M297.5 1924.5h0M310.5 1966.5h0M402.5 1978h0M328.5 2013h0M410 2020.5h0M311.5 2084h0M335.5 1999.5h0M333 2069h0M343 1979.5h0M415 2018h0M288.5 1919.5h0M275 2097h0M274.5 1997.5h0M367.5 2042h0M270.5 2028.5h0M598.5 2018.5h0M329 1975.5h0M322.5 2079.5h0M258.5 2018h0M347 1944h0M235.5 1931h0M596 2021h0M349.5 2029.5h0M282 1984.5h0M336 1974.5h0M338 2081h0M397.5 2052h0M310 1948h0M403.5 2075.5h0M204.5 1907.5h0M264 2084h0M381.5 2082h0M223.5 1942.5h0M312.5 2130.5h0M322.5 2098.5h0M381.5 1957.5h0M386.5 2045.5h0M265 2017.5h0M228.5 1949h0M375.5 1967h0M370.5 1967h0M346 2050h0M280 2030h0M307 2116.5h0M361 1988.5h0M264.5 2019.5h0M403.5 2000.5h0M381 2003.5h0M328 2031h0M271.5 2073h0M385.5 2052h0M231.5 1939.5h0M278.5 1984.5h0M307 2039h0M370 2068.5h0M315.5 2089h0M406 1998.5h0M321.5 2015.5h0M218 1901h0M244.5 2023.5h0M327.5 1987.5h0M245 2024.5h0M384 2033.5h0M372.5 1955h0M242 1919.5h0M342.5 2058h0M274 2060.5h0M294 2127h0M248 2022h0M203.5 1915.5h0M206.5 1920.5h0" stroke="#FFFFFF" stroke-width="2.2" stroke-linecap="round" fill="none"/>
<path d="M608 2025h0M581 2024h0M595 2017h0M601 2030h0M581 2020h0M565 2023h0M575 2020h0M579 2027h0M602 2014h0M313 2105h0M565 2029h0M594 2019h0M283 2006h0M576 2021h0M591 2015h0" stroke="#00BE6D" stroke-width="3.2" stroke-linecap="round" fill="none"/>
<path d="M313 2018h0M345 2020h0M320 2043h0M356 2052h0M321 2030h0M331 1998h0M314 2012h0M310 2003h0M357 2061h0M323 2031h0M358 2006h0M324 2033h0M333 2005h0M364 2057h0M323 2044h0M319 2065h0M318 2062h0M341 2010h0M332 2072h0M366 2033h0M338 2023h0M335 2073h0M347 2020h0M314 2018h0" stroke="#86AC00" stroke-width="3.2" stroke-linecap="round" fill="none"/>
<path d="M257 1952h0M354 2101h0M394 2075h0M405 2071h0M372 1987h0M367 2052h0M379 2035h0M354 2062h0M412 2042h0M406 2028h0M324 2070h0M371 2052h0M387 2031h0M390 2063h0M362 2034h0M403 2075h0M409 2041h0M408 2057h0M388 2037h0M371 2023h0M367 2048h0M405 2073h0" stroke="#EB8335" stroke-width="3.2" stroke-linecap="round" fill="none"/>
<path d="M345 2019h0M363 2102h0M367 2084h0M331 2009h0M325 1986h0M363 2071h0M329 2072h0M401 2072h0M369 2017h0M278 2090h0M355 2008h0M318 1971h0M326 1991h0M330 2002h0M330 2104h0M376 2028h0M326 2086h0M331 2075h0M399 2081h0M367 2096h0M386 2099h0M285 2055h0M374 2078h0M367 2056h0M380 2104h0M319 1976h0M359 2101h0M328 2113h0M376 2098h0M352 2087h0M322 2083h0M355 2078h0M364 2083h0M399 2084h0M378 2087h0M340 2109h0M349 2097h0M385 2077h0M348 2050h0M369 2036h0M356 2081h0M354 2077h0M373 2089h0M351 2101h0M361 2008h0M362 2081h0M368 2088h0M331 2085h0M341 2073h0M328 1990h0M341 2057h0" stroke="#E38900" stroke-width="3.2" stroke-linecap="round" fill="none"/>
<path d="M336 1983h0M331 1979h0M328 2031h0M297 1988h0M328 1973h0M235 1898h0M293 1974h0M321 1979h0M335 1978h0M292 1974h0M318 1976h0M294 1976h0M284 1984h0M306 1966h0M311 1987h0M322 1966h0M293 2004h0M305 1990h0" stroke="#70B000" stroke-width="3.2" stroke-linecap="round" fill="none"/>
<path d="M258 2078h0M270 2108h0M251 2068h0M263 2088h0M266 2099h0M276 2101h0M278 2091h0M281 2068h0M268 2058h0M281 2063h0M283 2065h0M261 2078h0M251 2070h0M287 2044h0M290 2085h0M278 2073h0M262 2112h0M267 2063h0M268 2073h0" stroke="#B79F00" stroke-width="3.2" stroke-linecap="round" fill="none"/>
<path d="M316 1948h0M294 1924h0M329 1947h0M293 1956h0M292 1949h0M295 1953h0M250 2036h0M294 1952h0M290 1934h0M299 1948h0M575 2023h0M316 1952h0M272 2010h0M309 1951h0M270 2028h0M286 1921h0M291 1922h0M325 1945h0" stroke="#00BC56" stroke-width="3.2" stroke-linecap="round" fill="none"/>
<path d="M330 2109h0M339 2071h0M313 2059h0M304 2079h0M283 2058h0M327 2074h0M338 1985h0M306 2069h0M279 2102h0M295 2116h0M300 2044h0M310 2089h0M327 2098h0M318 2105h0M328 2094h0M316 2057h0M289 2088h0M296 2112h0M300 2108h0M315 2057h0M290 2082h0M320 2047h0M307 2092h0M281 2053h0M289 2045h0" stroke="#F27C55" stroke-width="3.2" stroke-linecap="round" fill="none"/>
<path d="M297 2024h0M280 2004h0M270 2003h0M273 2034h0M268 2006h0M276 2029h0M275 2017h0M278 2001h0M296 2011h0M261 2014h0M292 2110h0M270 2034h0M270 2029h0M257 2014h0M289 2011h0M283 2005h0M261 2004h0M247 2034h0" stroke="#00BF81" stroke-width="3.2" stroke-linecap="round" fill="none"/>
<path d="M300 1991h0M320 1989h0M300 2038h0M318 2023h0M294 2011h0M303 2013h0M289 2025h0M303 2036h0M293 2013h0M314 2027h0M319 1993h0M297 2022h0M287 2043h0M306 2036h0M295 1993h0M297 2007h0M297 2032h0M319 1997h0M317 2021h0M288 2025h0M312 2061h0M311 2033h0" stroke="#C49A00" stroke-width="3.2" stroke-linecap="round" fill="none"/>
<path d="M345 1946h0M335 1941h0M343 1946h0" stroke="#00ABFD" stroke-width="3.2" stroke-linecap="round" fill="none"/>
<path d="M399 1979h0M394 2037h0M382 1986h0M418 2029h0M386 1973h0M418 2014h0M316 2006h0M402 1981h0M412 2044h0M400 2020h0M379 1961h0M387 1986h0M397 2003h0M411 2013h0M411 2024h0" stroke="#DA8F00" stroke-width="3.2" stroke-linecap="round" fill="none"/>
<path d="M364 1960h0M349 1983h0M356 1966h0M396 1970h0M343 1943h0M364 1989h0M341 1957h0M352 1952h0M370 1951h0M351 1954h0M332 1944h0M324 1975h0M353 1980h0M338 1960h0M352 1940h0M370 1952h0M368 1950h0M377 1956h0M341 1973h0M373 1974h0M343 1968h0M341 1979h0" stroke="#F8766D" stroke-width="3.2" stroke-linecap="round" fill="none"/>
<path d="M227 1881h0M206 1902h0M222 1882h0M210 1882h0M228 1889h0M224 1877h0M227 1888h0M206 1888h0M217 1880h0M208 1886h0M209 1892h0" stroke="#99A800" stroke-width="3.2" stroke-linecap="round" fill="none"/>
<path d="M255 2139h0M242 2003h0M258 2020h0M264 2109h0M243 2033h0M244 2034h0" stroke="#00C1A5" stroke-width="3.2" stroke-linecap="round" fill="none"/>
<path d="M271 2108h0M247 2125h0M257 2137h0M248 2126h0M250 2141h0M274 2118h0M266 2127h0M246 2132h0M250 2124h0M323 1878h0" stroke="#00C0B5" stroke-width="3.2" stroke-linecap="round" fill="none"/>
<path d="M206 1928h0M230 1929h0M206 1911h0M240 1931h0M236 1933h0M249 1922h0M214 1940h0M231 1889h0M209 1928h0M315 2082h0M201 1909h0M214 1939h0M237 1934h0M236 1927h0" stroke="#A9A400" stroke-width="3.2" stroke-linecap="round" fill="none"/>
<path d="M365 1990h0M366 2006h0M397 2004h0M367 2006h0M381 2004h0M384 2012h0M380 1981h0" stroke="#CF9400" stroke-width="3.2" stroke-linecap="round" fill="none"/>
<path d="M295 1948h0M309 2132h0M565 2020h0M317 2110h0" stroke="#00C094" stroke-width="3.2" stroke-linecap="round" fill="none"/>
<path d="M569 2029h0M580 2019h0M578 2026h0M581 2017h0" stroke="#06A4FF" stroke-width="3.2" stroke-linecap="round" fill="none"/>
<path d="M99 1868h0M594 2027h0" stroke="#619CFF" stroke-width="3.2" stroke-linecap="round" fill="none"/>
<path d="M289 1986h0M257 1973h0M256 1963h0M269 1959h0" stroke="#00BA38" stroke-width="3.2" stroke-linecap="round" fill="none"/>
<path d="M95 2129h0M94 2132h0" stroke="#00BFC4" stroke-width="3.2" stroke-linecap="round" fill="none"/>
<path d="M297 2111h0M305 2104h0M306 2097h0M289 2111h0M311 2104h0M289 2120h0M282 2108h0" stroke="#DF70F8" stroke-width="3.2" stroke-linecap="round" fill="none"/>
<path d="M260 2056h0" stroke="#FF6B96" stroke-width="3.2" stroke-linecap="round" fill="none"/>
<path d="M333 1939h0M332 1941h0" stroke="#FF63B9" stroke-width="3.2" stroke-linecap="round" fill="none"/>
<path d="M90 2129h0M330 1859h0" stroke="#00BDD2" stroke-width="3.2" stroke-linecap="round" fill="none"/>
<path d="M397 1886h0" stroke="#00B6EB" stroke-width="3.2" stroke-linecap="round" fill="none"/>
<text x="363.9" y="1982.4" font-size="21.5" text-anchor="middle">0</text>
<text x="347.6" y="2005.8" font-size="21.5" text-anchor="middle">23</text>
<text x="373.3" y="2012.0" font-size="21.5" text-anchor="middle">5</text>
<text x="403.7" y="2019.0" font-size="21.5" text-anchor="middle">4</text>
<text x="351.5" y="2038.5" font-size="21.5" text-anchor="middle">12</text>
<text x="334.3" y="2049.4" font-size="21.5" text-anchor="middle">13</text>
<text x="335.9" y="2066.6" font-size="21.5" text-anchor="middle">10</text>
<text x="378.8" y="2069.7" font-size="21.5" text-anchor="middle">2</text>
<text x="315.6" y="2079.1" font-size="21.5" text-anchor="middle">1</text>
<text x="359.3" y="2098.5" font-size="21.5" text-anchor="middle">3</text>
<text x="276.6" y="2070.5" font-size="21.5" text-anchor="middle">7</text>
<text x="307.0" y="2032.3" font-size="21.5" text-anchor="middle">6</text>
<text x="274.3" y="2024.5" font-size="21.5" text-anchor="middle">17</text>
<text x="238.5" y="2022.2" font-size="21.5" text-anchor="middle">19</text>
<text x="270.4" y="1980.1" font-size="21.5" text-anchor="middle">14</text>
<text x="307.8" y="1984.0" font-size="21.5" text-anchor="middle">11</text>
<text x="303.1" y="1942.7" font-size="21.5" text-anchor="middle">15</text>
<text x="331.2" y="1937.2" font-size="21.5" text-anchor="middle">38</text>
<text x="365.5" y="1945.0" font-size="21.5" text-anchor="middle">26</text>
<text x="346.0" y="1914.6" font-size="21.5" text-anchor="middle">39</text>
<text x="331.2" y="1874.8" font-size="21.5" text-anchor="middle">22</text>
<text x="406.8" y="1880.3" font-size="21.5" text-anchor="middle">24</text>
<text x="216.2" y="1897.5" font-size="21.5" text-anchor="middle">9</text>
<text x="233.0" y="1921.6" font-size="21.5" text-anchor="middle">8</text>
<text x="293.0" y="2105.6" font-size="21.5" text-anchor="middle">33</text>
<text x="308.6" y="2128.2" font-size="21.5" text-anchor="middle">18</text>
<text x="335.1" y="2132.8" font-size="21.5" text-anchor="middle">30</text>
<text x="261.1" y="2132.8" font-size="21.5" text-anchor="middle">20</text>
<text x="250.1" y="2051.8" font-size="21.5" text-anchor="middle">40</text>
<text x="269.6" y="2051.8" font-size="21.5" text-anchor="middle">32</text>
<text x="102.1" y="1856.3" font-size="21.5" text-anchor="middle">34</text>
<text x="106.1" y="1897.9" font-size="21.5" text-anchor="middle">28</text>
<text x="496.6" y="1952.5" font-size="21.5" text-anchor="middle">31</text>
<text x="563.9" y="2024.5" font-size="21.5" text-anchor="middle">27</text>
<text x="611.4" y="2011.4" font-size="21.5" text-anchor="middle">37</text>
<text x="597.5" y="2053.4" font-size="21.5" text-anchor="middle">16</text>
<text x="157.1" y="2096.9" font-size="21.5" text-anchor="middle">41</text>
<text x="184.0" y="2117.5" font-size="21.5" text-anchor="middle">35</text>
<text x="95.0" y="2127.4" font-size="21.5" text-anchor="middle">21</text>
<text x="539.0" y="2148.4" font-size="21.5" text-anchor="middle">29</text>
<text x="282.9" y="2289.6" font-size="21.5" text-anchor="middle">25</text>
<text x="334.4" y="2306.3" font-size="21.5" text-anchor="middle">36</text>
<line x1="72.4" x2="72.4" y1="1791" y2="2320" stroke="#000" stroke-width="3.4"/>
<line x1="70.7" x2="635" y1="2318.3" y2="2318.3" stroke="#000" stroke-width="3.4"/>
<text x="102.0" y="1822.9" font-size="23.4">30,877 cells at resolution 2.0</text>
<text x="356.2" y="2353.2" font-size="23.4" text-anchor="middle">UMAP_1</text>
<text x="55.4" y="2089.0" font-size="23.4" text-anchor="middle" transform="rotate(-90 55.4 2089.0)">UMAP_2</text>
<text x="30.5" y="1765.5" font-size="28" font-weight="bold">d</text>
<path d="M967.1,2004.4L942.2,2048.5M942.9,2033.9L942.2,2048.5L954.4,2040.4" fill="none" stroke="#C8C8C8" stroke-width="1.3"/>
<path d="M848.0,2078.0L989.3,2131.1M974.8,2132.7L989.3,2131.1L979.5,2120.3" fill="none" stroke="#C8C8C8" stroke-width="1.3"/>
<path d="M1268.9,1918.5L1201.1,1973.6M1207.0,1960.3L1201.1,1973.6L1215.4,1970.5" fill="none" stroke="#C8C8C8" stroke-width="1.3"/>
<path d="M940.3,2161.0L878.0,2216.9M883.3,2203.3L878.0,2216.9L892.1,2213.1" fill="none" stroke="#C8C8C8" stroke-width="1.3"/>
<path d="M971.7,2167.0L957.6,2209.8M955.4,2195.4L957.6,2209.8L967.9,2199.5" fill="none" stroke="#C8C8C8" stroke-width="1.3"/>
<path d="M1248.0,2163.3L1214.2,2212.9M1216.1,2198.4L1214.2,2212.9L1227.0,2205.9" fill="none" stroke="#C8C8C8" stroke-width="1.3"/>
<path d="M1293.5,2164.6L1293.5,2208.5M1286.9,2195.5L1293.5,2208.5L1300.1,2195.5" fill="none" stroke="#C8C8C8" stroke-width="1.3"/>
<path d="M1448.2,2082.3L1466.3,2129.0M1455.4,2119.2L1466.3,2129.0L1467.8,2114.5" fill="none" stroke="#C8C8C8" stroke-width="1.3"/>
<path d="M1448.8,2244.7L1471.1,2291.8M1459.6,2282.9L1471.1,2291.8L1471.5,2277.2" fill="none" stroke="#C8C8C8" stroke-width="1.3"/>
<path d="M815.8,2247.5L836.9,2291.8M825.3,2282.9L836.9,2291.8L837.2,2277.3" fill="none" stroke="#C8C8C8" stroke-width="1.3"/>
<path d="M1271.0,2004.0L1261.1,2045.9M1257.7,2031.7L1261.1,2045.9L1270.5,2034.7" fill="none" stroke="#C8C8C8" stroke-width="1.3"/>
<path d="M1501.4,1999.0L1515.6,2046.3M1505.6,2035.7L1515.6,2046.3L1518.2,2031.9" fill="none" stroke="#C8C8C8" stroke-width="1.3"/>
<path d="M1287.6,2246.5L1266.6,2291.7M1266.1,2277.2L1266.6,2291.7L1278.1,2282.7" fill="none" stroke="#C8C8C8" stroke-width="1.3"/>
<line x1="856" y1="2219" x2="970" y2="2168" stroke="#CFCFCF" stroke-width="1.2"/>
<line x1="964" y1="2271" x2="1464" y2="2294" stroke="#CFCFCF" stroke-width="1.2"/>
<line x1="1021" y1="2163" x2="1269" y2="2227" stroke="#CFCFCF" stroke-width="1.2"/>
<line x1="848" y1="2085" x2="1330" y2="2195" stroke="#CFCFCF" stroke-width="1.2"/>
<line x1="900" y1="2300" x2="1200" y2="2250" stroke="#CFCFCF" stroke-width="1.2"/>
<line x1="1050" y1="2180" x2="1420" y2="2212" stroke="#CFCFCF" stroke-width="1.2"/>
<path d="M1260.8,1829.6L902.9,1902.7M914.3,1893.7L902.9,1902.7L916.9,1906.6" fill="none" stroke="#3A3A3A" stroke-width="1.25"/>
<path d="M1261.1,1830.6L999.8,1901.2M1010.7,1891.4L999.8,1901.2L1014.1,1904.2" fill="none" stroke="#3A3A3A" stroke-width="1.25"/>
<path d="M1261.2,1831.0L1024.0,1900.7M1034.6,1890.7L1024.0,1900.7L1038.3,1903.3" fill="none" stroke="#3A3A3A" stroke-width="1.25"/>
<path d="M1261.3,1831.3L1041.1,1900.2M1051.6,1890.1L1041.1,1900.2L1055.5,1902.6" fill="none" stroke="#3A3A3A" stroke-width="1.25"/>
<path d="M1261.3,1831.5L1053.2,1899.9M1063.5,1889.6L1053.2,1899.9L1067.6,1902.1" fill="none" stroke="#3A3A3A" stroke-width="1.25"/>
<path d="M1261.6,1832.2L1082.8,1898.9M1092.7,1888.2L1082.8,1898.9L1097.3,1900.6" fill="none" stroke="#3A3A3A" stroke-width="1.25"/>
<path d="M1262.0,1833.2L1120.0,1897.4M1129.1,1886.0L1120.0,1897.4L1134.5,1898.1" fill="none" stroke="#3A3A3A" stroke-width="1.25"/>
<path d="M1262.6,1834.4L1151.2,1895.6M1159.4,1883.6L1151.2,1895.6L1165.7,1895.2" fill="none" stroke="#3A3A3A" stroke-width="1.25"/>
<path d="M1263.3,1835.6L1173.6,1894.0M1180.9,1881.4L1173.6,1894.0L1188.1,1892.4" fill="none" stroke="#3A3A3A" stroke-width="1.25"/>
<path d="M1264.0,1836.6L1190.0,1892.5M1196.4,1879.4L1190.0,1892.5L1204.3,1890.0" fill="none" stroke="#3A3A3A" stroke-width="1.25"/>
<path d="M1264.6,1837.3L1200.8,1891.4M1206.4,1878.0L1200.8,1891.4L1215.0,1888.1" fill="none" stroke="#3A3A3A" stroke-width="1.25"/>
<path d="M1265.8,1838.7L1217.4,1889.5M1221.6,1875.5L1217.4,1889.5L1231.2,1884.6" fill="none" stroke="#3A3A3A" stroke-width="1.25"/>
<path d="M1278.7,1843.4L1280.7,1882.5M1273.4,1869.9L1280.7,1882.5L1286.6,1869.2" fill="none" stroke="#3A3A3A" stroke-width="1.25"/>
<path d="M1291.4,1836.8L1362.1,1892.2M1347.8,1889.4L1362.1,1892.2L1355.9,1879.0" fill="none" stroke="#3A3A3A" stroke-width="1.25"/>
<path d="M1292.4,1835.5L1384.0,1894.2M1369.5,1892.7L1384.0,1894.2L1376.6,1881.6" fill="none" stroke="#3A3A3A" stroke-width="1.25"/>
<path d="M1292.9,1834.6L1401.2,1895.4M1386.7,1894.8L1401.2,1895.4L1393.1,1883.3" fill="none" stroke="#3A3A3A" stroke-width="1.25"/>
<path d="M1293.6,1833.2L1436.4,1897.4M1421.9,1898.1L1436.4,1897.4L1427.3,1886.1" fill="none" stroke="#3A3A3A" stroke-width="1.25"/>
<path d="M1294.1,1832.0L1481.3,1899.2M1466.8,1901.1L1481.3,1899.2L1471.3,1888.6" fill="none" stroke="#3A3A3A" stroke-width="1.25"/>
<path d="M1294.5,1830.9L1539.4,1900.8M1525.1,1903.6L1539.4,1900.8L1528.7,1890.9" fill="none" stroke="#3A3A3A" stroke-width="1.25"/>
<path d="M1294.6,1830.5L1562.8,1901.3M1548.6,1904.4L1562.8,1901.3L1552.0,1891.6" fill="none" stroke="#3A3A3A" stroke-width="1.25"/>
<path d="M1294.6,1830.2L1588.7,1901.8M1574.5,1905.2L1588.7,1901.8L1577.6,1892.3" fill="none" stroke="#3A3A3A" stroke-width="1.25"/>
<path d="M1294.7,1830.0L1608.3,1902.1M1594.2,1905.6L1608.3,1902.1L1597.2,1892.8" fill="none" stroke="#3A3A3A" stroke-width="1.25"/>
<path d="M1294.7,1829.9L1621.4,1902.3M1607.3,1905.9L1621.4,1902.3L1610.1,1893.1" fill="none" stroke="#3A3A3A" stroke-width="1.25"/>
<path d="M867.9,1924.0L840.2,1968.2M841.5,1953.7L840.2,1968.2L852.7,1960.7" fill="none" stroke="#3A3A3A" stroke-width="1.25"/>
<path d="M888.3,1923.9L916.3,1968.2M903.8,1960.8L916.3,1968.2L914.9,1953.7" fill="none" stroke="#3A3A3A" stroke-width="1.25"/>
<path d="M975.4,1924.1L975.4,1964.3M968.8,1951.3L975.4,1964.3L982.0,1951.3" fill="none" stroke="#3A3A3A" stroke-width="1.25"/>
<path d="M999.7,1918.7L999.7,1964.3M993.1,1951.3L999.7,1964.3L1006.3,1951.3" fill="none" stroke="#3A3A3A" stroke-width="1.25"/>
<path d="M1017.1,1918.7L1017.5,1964.3M1010.8,1951.4L1017.5,1964.3L1024.0,1951.2" fill="none" stroke="#3A3A3A" stroke-width="1.25"/>
<path d="M1029.3,1918.7L1029.5,1964.3M1022.8,1951.3L1029.5,1964.3L1036.0,1951.3" fill="none" stroke="#3A3A3A" stroke-width="1.25"/>
<path d="M1057.7,1918.1L1051.1,1964.5M1046.4,1950.8L1051.1,1964.5L1059.5,1952.6" fill="none" stroke="#3A3A3A" stroke-width="1.25"/>
<path d="M1060.5,1918.1L1066.9,1964.5M1058.6,1952.6L1066.9,1964.5L1071.7,1950.8" fill="none" stroke="#3A3A3A" stroke-width="1.25"/>
<path d="M1095.8,1918.1L1090.9,1964.4M1085.7,1950.8L1090.9,1964.4L1098.8,1952.2" fill="none" stroke="#3A3A3A" stroke-width="1.25"/>
<path d="M1098.0,1918.1L1102.9,1964.4M1095.0,1952.2L1102.9,1964.4L1108.1,1950.8" fill="none" stroke="#3A3A3A" stroke-width="1.25"/>
<path d="M1129.0,1918.2L1129.0,1964.3M1122.4,1951.3L1129.0,1964.3L1135.6,1951.3" fill="none" stroke="#3A3A3A" stroke-width="1.25"/>
<path d="M1152.4,1918.2L1152.4,1964.3M1145.8,1951.3L1152.4,1964.3L1159.0,1951.3" fill="none" stroke="#3A3A3A" stroke-width="1.25"/>
<path d="M1169.8,1917.8L1169.8,1964.3M1163.2,1951.3L1169.8,1964.3L1176.4,1951.3" fill="none" stroke="#3A3A3A" stroke-width="1.25"/>
<path d="M1181.5,1917.8L1181.5,1964.3M1174.9,1951.3L1181.5,1964.3L1188.1,1951.3" fill="none" stroke="#3A3A3A" stroke-width="1.25"/>
<path d="M1200.0,1917.8L1200.0,1964.3M1193.4,1951.3L1200.0,1964.3L1206.6,1951.3" fill="none" stroke="#3A3A3A" stroke-width="1.25"/>
<path d="M1272.2,1921.5L1238.1,1969.0M1240.3,1954.6L1238.1,1969.0L1251.1,1962.3" fill="none" stroke="#3A3A3A" stroke-width="1.25"/>
<path d="M1280.4,1924.6L1276.7,1964.4M1271.4,1950.9L1276.7,1964.4L1284.5,1952.1" fill="none" stroke="#3A3A3A" stroke-width="1.25"/>
<path d="M1292.8,1920.8L1334.2,1970.2M1320.8,1964.5L1334.2,1970.2L1330.9,1956.0" fill="none" stroke="#3A3A3A" stroke-width="1.25"/>
<path d="M1382.0,1917.6L1382.0,1964.3M1375.4,1951.3L1382.0,1964.3L1388.6,1951.3" fill="none" stroke="#3A3A3A" stroke-width="1.25"/>
<path d="M1405.3,1916.9L1405.3,1964.3M1398.7,1951.3L1405.3,1964.3L1411.9,1951.3" fill="none" stroke="#3A3A3A" stroke-width="1.25"/>
<path d="M1423.3,1916.9L1423.3,1964.3M1416.7,1951.3L1423.3,1964.3L1429.9,1951.3" fill="none" stroke="#3A3A3A" stroke-width="1.25"/>
<path d="M1459.5,1921.9L1459.5,1964.3M1452.9,1951.3L1459.5,1964.3L1466.1,1951.3" fill="none" stroke="#3A3A3A" stroke-width="1.25"/>
<path d="M1504.2,1919.1L1500.6,1964.4M1495.1,1950.9L1500.6,1964.4L1508.2,1951.9" fill="none" stroke="#3A3A3A" stroke-width="1.25"/>
<path d="M1506.0,1919.1L1509.6,1964.4M1502.0,1951.9L1509.6,1964.4L1515.1,1950.9" fill="none" stroke="#3A3A3A" stroke-width="1.25"/>
<path d="M1563.7,1918.7L1563.7,1964.3M1557.1,1951.3L1563.7,1964.3L1570.3,1951.3" fill="none" stroke="#3A3A3A" stroke-width="1.25"/>
<path d="M1587.3,1918.2L1587.3,1964.3M1580.7,1951.3L1587.3,1964.3L1593.9,1951.3" fill="none" stroke="#3A3A3A" stroke-width="1.25"/>
<path d="M1613.3,1918.2L1613.3,1964.3M1606.7,1951.3L1613.3,1964.3L1619.9,1951.3" fill="none" stroke="#3A3A3A" stroke-width="1.25"/>
<path d="M1633.0,1918.2L1633.0,1964.3M1626.4,1951.3L1633.0,1964.3L1639.6,1951.3" fill="none" stroke="#3A3A3A" stroke-width="1.25"/>
<path d="M1646.1,1918.2L1646.1,1964.3M1639.5,1951.3L1646.1,1964.3L1652.7,1951.3" fill="none" stroke="#3A3A3A" stroke-width="1.25"/>
<path d="M823.0,2006.6L814.6,2045.8M810.9,2031.7L814.6,2045.8L823.8,2034.4" fill="none" stroke="#3A3A3A" stroke-width="1.25"/>
<path d="M830.4,2006.6L839.1,2045.8M829.8,2034.5L839.1,2045.8L842.7,2031.7" fill="none" stroke="#3A3A3A" stroke-width="1.25"/>
<path d="M929.8,2003.1L929.8,2045.2M923.2,2032.2L929.8,2045.2L936.4,2032.2" fill="none" stroke="#3A3A3A" stroke-width="1.25"/>
<path d="M975.5,2006.6L975.8,2045.2M969.1,2032.3L975.8,2045.2L982.3,2032.2" fill="none" stroke="#3A3A3A" stroke-width="1.25"/>
<path d="M999.7,2000.5L999.7,2045.2M993.1,2032.2L999.7,2045.2L1006.3,2032.2" fill="none" stroke="#3A3A3A" stroke-width="1.25"/>
<path d="M1017.7,2000.0L1017.7,2045.2M1011.1,2032.2L1017.7,2045.2L1024.3,2032.2" fill="none" stroke="#3A3A3A" stroke-width="1.25"/>
<path d="M1029.6,2000.0L1029.6,2045.2M1023.0,2032.2L1029.6,2045.2L1036.2,2032.2" fill="none" stroke="#3A3A3A" stroke-width="1.25"/>
<path d="M1047.6,1999.4L1047.6,2045.2M1041.0,2032.2L1047.6,2045.2L1054.2,2032.2" fill="none" stroke="#3A3A3A" stroke-width="1.25"/>
<path d="M1070.4,1999.4L1070.4,2045.2M1063.8,2032.2L1070.4,2045.2L1077.0,2032.2" fill="none" stroke="#3A3A3A" stroke-width="1.25"/>
<path d="M1088.2,1999.4L1088.2,2045.2M1081.6,2032.2L1088.2,2045.2L1094.8,2032.2" fill="none" stroke="#3A3A3A" stroke-width="1.25"/>
<path d="M1105.6,1999.4L1105.6,2045.2M1099.0,2032.2L1105.6,2045.2L1112.2,2032.2" fill="none" stroke="#3A3A3A" stroke-width="1.25"/>
<path d="M1129.0,2000.0L1129.0,2045.2M1122.4,2032.2L1129.0,2045.2L1135.6,2032.2" fill="none" stroke="#3A3A3A" stroke-width="1.25"/>
<path d="M1152.4,2000.0L1152.4,2045.2M1145.8,2032.2L1152.4,2045.2L1159.0,2032.2" fill="none" stroke="#3A3A3A" stroke-width="1.25"/>
<path d="M1169.8,2000.0L1169.8,2045.2M1163.2,2032.2L1169.8,2045.2L1176.4,2032.2" fill="none" stroke="#3A3A3A" stroke-width="1.25"/>
<path d="M1181.5,1999.4L1181.5,2045.2M1174.9,2032.2L1181.5,2045.2L1188.1,2032.2" fill="none" stroke="#3A3A3A" stroke-width="1.25"/>
<path d="M1200.0,1999.4L1200.0,2045.2M1193.4,2032.2L1200.0,2045.2L1206.6,2032.2" fill="none" stroke="#3A3A3A" stroke-width="1.25"/>
<path d="M1222.6,2000.9L1219.4,2045.3M1213.8,2031.8L1219.4,2045.3L1226.9,2032.8" fill="none" stroke="#3A3A3A" stroke-width="1.25"/>
<path d="M1224.2,2000.9L1227.5,2045.3M1219.9,2032.8L1227.5,2045.3L1233.1,2031.8" fill="none" stroke="#3A3A3A" stroke-width="1.25"/>
<path d="M1274.4,2004.4L1274.4,2045.2M1267.8,2032.2L1274.4,2045.2L1281.0,2032.2" fill="none" stroke="#3A3A3A" stroke-width="1.25"/>
<path d="M1350.4,2002.2L1350.4,2045.2M1343.8,2032.2L1350.4,2045.2L1357.0,2032.2" fill="none" stroke="#3A3A3A" stroke-width="1.25"/>
<path d="M1381.9,1999.4L1381.6,2045.2M1375.1,2032.2L1381.6,2045.2L1388.3,2032.3" fill="none" stroke="#3A3A3A" stroke-width="1.25"/>
<path d="M1404.6,1998.7L1400.8,2045.3M1395.3,2031.8L1400.8,2045.3L1408.4,2032.9" fill="none" stroke="#3A3A3A" stroke-width="1.25"/>
<path d="M1406.0,1998.7L1409.3,2045.3M1401.8,2032.8L1409.3,2045.3L1414.9,2031.8" fill="none" stroke="#3A3A3A" stroke-width="1.25"/>
<path d="M1423.3,1998.7L1423.3,2045.2M1416.7,2032.2L1423.3,2045.2L1429.9,2032.2" fill="none" stroke="#3A3A3A" stroke-width="1.25"/>
<path d="M1456.8,2003.4L1448.5,2045.7M1444.6,2031.6L1448.5,2045.7L1457.5,2034.2" fill="none" stroke="#3A3A3A" stroke-width="1.25"/>
<path d="M1462.2,2003.4L1470.5,2045.7M1461.5,2034.2L1470.5,2045.7L1474.5,2031.6" fill="none" stroke="#3A3A3A" stroke-width="1.25"/>
<path d="M1498.7,1999.4L1499.1,2045.2M1492.4,2032.3L1499.1,2045.2L1505.6,2032.1" fill="none" stroke="#3A3A3A" stroke-width="1.25"/>
<path d="M1513.2,2000.8L1519.4,2045.4M1511.1,2033.5L1519.4,2045.4L1524.1,2031.7" fill="none" stroke="#3A3A3A" stroke-width="1.25"/>
<path d="M1563.7,2000.5L1563.7,2045.2M1557.1,2032.2L1563.7,2045.2L1570.3,2032.2" fill="none" stroke="#3A3A3A" stroke-width="1.25"/>
<path d="M1587.3,2000.0L1587.3,2045.2M1580.7,2032.2L1587.3,2045.2L1593.9,2032.2" fill="none" stroke="#3A3A3A" stroke-width="1.25"/>
<path d="M1613.3,2000.0L1613.3,2045.2M1606.7,2032.2L1613.3,2045.2L1619.9,2032.2" fill="none" stroke="#3A3A3A" stroke-width="1.25"/>
<path d="M1633.0,2000.0L1633.0,2045.2M1626.4,2032.2L1633.0,2045.2L1639.6,2032.2" fill="none" stroke="#3A3A3A" stroke-width="1.25"/>
<path d="M1646.1,2000.0L1646.1,2045.2M1639.5,2032.2L1646.1,2045.2L1652.7,2032.2" fill="none" stroke="#3A3A3A" stroke-width="1.25"/>
<path d="M809.3,2085.7L809.3,2127.3M802.7,2114.3L809.3,2127.3L815.9,2114.3" fill="none" stroke="#3A3A3A" stroke-width="1.25"/>
<path d="M844.5,2084.0L844.5,2127.3M837.9,2114.3L844.5,2127.3L851.1,2114.3" fill="none" stroke="#3A3A3A" stroke-width="1.25"/>
<path d="M926.5,2084.2L915.8,2128.0M912.5,2113.8L915.8,2128.0L925.3,2117.0" fill="none" stroke="#3A3A3A" stroke-width="1.25"/>
<path d="M933.1,2084.2L943.7,2128.0M934.3,2116.9L943.7,2128.0L947.1,2113.8" fill="none" stroke="#3A3A3A" stroke-width="1.25"/>
<path d="M976.1,2086.8L976.3,2127.3M969.6,2114.3L976.3,2127.3L982.8,2114.3" fill="none" stroke="#3A3A3A" stroke-width="1.25"/>
<path d="M999.7,2080.9L999.7,2127.3M993.1,2114.3L999.7,2127.3L1006.3,2114.3" fill="none" stroke="#3A3A3A" stroke-width="1.25"/>
<path d="M1017.7,2080.9L1017.7,2127.3M1011.1,2114.3L1017.7,2127.3L1024.3,2114.3" fill="none" stroke="#3A3A3A" stroke-width="1.25"/>
<path d="M1029.6,2080.9L1029.6,2127.3M1023.0,2114.3L1029.6,2127.3L1036.2,2114.3" fill="none" stroke="#3A3A3A" stroke-width="1.25"/>
<path d="M1046.8,2080.3L1042.7,2127.4M1037.2,2113.9L1042.7,2127.4L1050.4,2115.0" fill="none" stroke="#3A3A3A" stroke-width="1.25"/>
<path d="M1048.2,2080.3L1051.3,2127.4M1043.9,2114.8L1051.3,2127.4L1057.1,2113.9" fill="none" stroke="#3A3A3A" stroke-width="1.25"/>
<path d="M1069.7,2080.3L1066.2,2127.4M1060.6,2113.9L1066.2,2127.4L1073.7,2114.9" fill="none" stroke="#3A3A3A" stroke-width="1.25"/>
<path d="M1071.1,2080.3L1074.6,2127.4M1067.1,2114.9L1074.6,2127.4L1080.2,2113.9" fill="none" stroke="#3A3A3A" stroke-width="1.25"/>
<path d="M1088.2,2080.3L1088.2,2127.3M1081.6,2114.3L1088.2,2127.3L1094.8,2114.3" fill="none" stroke="#3A3A3A" stroke-width="1.25"/>
<path d="M1105.6,2080.3L1105.6,2127.3M1099.0,2114.3L1105.6,2127.3L1112.2,2114.3" fill="none" stroke="#3A3A3A" stroke-width="1.25"/>
<path d="M1128.3,2080.9L1125.3,2127.4M1119.5,2113.9L1125.3,2127.4L1132.7,2114.8" fill="none" stroke="#3A3A3A" stroke-width="1.25"/>
<path d="M1129.8,2080.9L1133.2,2127.4M1125.7,2114.9L1133.2,2127.4L1138.8,2113.9" fill="none" stroke="#3A3A3A" stroke-width="1.25"/>
<path d="M1152.4,2080.9L1152.4,2127.3M1145.8,2114.3L1152.4,2127.3L1159.0,2114.3" fill="none" stroke="#3A3A3A" stroke-width="1.25"/>
<path d="M1169.8,2080.9L1169.8,2127.3M1163.2,2114.3L1169.8,2127.3L1176.4,2114.3" fill="none" stroke="#3A3A3A" stroke-width="1.25"/>
<path d="M1181.5,2080.3L1181.5,2127.3M1174.9,2114.3L1181.5,2127.3L1188.1,2114.3" fill="none" stroke="#3A3A3A" stroke-width="1.25"/>
<path d="M1200.0,2080.3L1200.0,2127.3M1193.4,2114.3L1200.0,2127.3L1206.6,2114.3" fill="none" stroke="#3A3A3A" stroke-width="1.25"/>
<path d="M1217.6,2080.9L1217.6,2127.3M1211.0,2114.3L1217.6,2127.3L1224.2,2114.3" fill="none" stroke="#3A3A3A" stroke-width="1.25"/>
<path d="M1229.3,2079.2L1229.3,2127.3M1222.7,2114.3L1229.3,2127.3L1235.9,2114.3" fill="none" stroke="#3A3A3A" stroke-width="1.25"/>
<path d="M1271.0,2084.9L1261.0,2128.0M1257.6,2113.8L1261.0,2128.0L1270.4,2116.8" fill="none" stroke="#3A3A3A" stroke-width="1.25"/>
<path d="M1277.8,2084.9L1287.8,2128.0M1278.4,2116.8L1287.8,2128.0L1291.2,2113.8" fill="none" stroke="#3A3A3A" stroke-width="1.25"/>
<path d="M1350.4,2083.1L1350.4,2127.3M1343.8,2114.3L1350.4,2127.3L1357.0,2114.3" fill="none" stroke="#3A3A3A" stroke-width="1.25"/>
<path d="M1381.4,2079.6L1381.4,2127.3M1374.8,2114.3L1381.4,2127.3L1388.0,2114.3" fill="none" stroke="#3A3A3A" stroke-width="1.25"/>
<path d="M1398.8,2079.2L1398.8,2127.3M1392.2,2114.3L1398.8,2127.3L1405.4,2114.3" fill="none" stroke="#3A3A3A" stroke-width="1.25"/>
<path d="M1411.1,2078.7L1411.1,2127.3M1404.5,2114.3L1411.1,2127.3L1417.7,2114.3" fill="none" stroke="#3A3A3A" stroke-width="1.25"/>
<path d="M1423.3,2079.2L1423.3,2127.3M1416.7,2114.3L1423.3,2127.3L1429.9,2114.3" fill="none" stroke="#3A3A3A" stroke-width="1.25"/>
<path d="M1443.7,2083.1L1443.7,2127.3M1437.1,2114.3L1443.7,2127.3L1450.3,2114.3" fill="none" stroke="#3A3A3A" stroke-width="1.25"/>
<path d="M1475.4,2081.4L1475.4,2127.3M1468.8,2114.3L1475.4,2127.3L1482.0,2114.3" fill="none" stroke="#3A3A3A" stroke-width="1.25"/>
<path d="M1499.3,2081.4L1499.3,2127.3M1492.7,2114.3L1499.3,2127.3L1505.9,2114.3" fill="none" stroke="#3A3A3A" stroke-width="1.25"/>
<path d="M1522.9,2080.9L1522.9,2127.3M1516.3,2114.3L1522.9,2127.3L1529.5,2114.3" fill="none" stroke="#3A3A3A" stroke-width="1.25"/>
<path d="M1562.2,2081.3L1555.7,2127.5M1551.0,2113.8L1555.7,2127.5L1564.0,2115.6" fill="none" stroke="#3A3A3A" stroke-width="1.25"/>
<path d="M1565.3,2081.3L1572.0,2127.6M1563.6,2115.7L1572.0,2127.6L1576.7,2113.7" fill="none" stroke="#3A3A3A" stroke-width="1.25"/>
<path d="M1587.3,2080.9L1587.3,2127.3M1580.7,2114.3L1587.3,2127.3L1593.9,2114.3" fill="none" stroke="#3A3A3A" stroke-width="1.25"/>
<path d="M1612.2,2080.8L1607.2,2127.4M1602.0,2113.8L1607.2,2127.4L1615.1,2115.2" fill="none" stroke="#3A3A3A" stroke-width="1.25"/>
<path d="M1614.5,2080.8L1619.8,2127.5M1611.7,2115.3L1619.8,2127.5L1624.8,2113.8" fill="none" stroke="#3A3A3A" stroke-width="1.25"/>
<path d="M1633.0,2080.9L1633.0,2127.3M1626.4,2114.3L1633.0,2127.3L1639.6,2114.3" fill="none" stroke="#3A3A3A" stroke-width="1.25"/>
<path d="M1646.1,2080.9L1646.1,2127.3M1639.5,2114.3L1646.1,2127.3L1652.7,2114.3" fill="none" stroke="#3A3A3A" stroke-width="1.25"/>
<path d="M809.3,2167.8L809.3,2208.5M802.7,2195.5L809.3,2208.5L815.9,2195.5" fill="none" stroke="#3A3A3A" stroke-width="1.25"/>
<path d="M842.0,2165.9L834.1,2208.9M830.0,2194.9L834.1,2208.9L842.9,2197.3" fill="none" stroke="#3A3A3A" stroke-width="1.25"/>
<path d="M846.9,2165.9L854.7,2208.9M845.9,2197.3L854.7,2208.9L858.9,2194.9" fill="none" stroke="#3A3A3A" stroke-width="1.25"/>
<path d="M909.8,2166.1L909.8,2208.5M903.2,2195.5L909.8,2208.5L916.4,2195.5" fill="none" stroke="#3A3A3A" stroke-width="1.25"/>
<path d="M949.7,2165.2L949.7,2208.5M943.1,2195.5L949.7,2208.5L956.3,2195.5" fill="none" stroke="#3A3A3A" stroke-width="1.25"/>
<path d="M976.4,2167.8L976.4,2208.5M969.8,2195.5L976.4,2208.5L983.0,2195.5" fill="none" stroke="#3A3A3A" stroke-width="1.25"/>
<path d="M999.7,2162.4L999.7,2208.5M993.1,2195.5L999.7,2208.5L1006.3,2195.5" fill="none" stroke="#3A3A3A" stroke-width="1.25"/>
<path d="M1017.7,2163.0L1017.7,2208.5M1011.1,2195.5L1017.7,2208.5L1024.3,2195.5" fill="none" stroke="#3A3A3A" stroke-width="1.25"/>
<path d="M1029.6,2162.4L1029.6,2208.5M1023.0,2195.5L1029.6,2208.5L1036.2,2195.5" fill="none" stroke="#3A3A3A" stroke-width="1.25"/>
<path d="M1040.5,2161.3L1040.5,2208.5M1033.9,2195.5L1040.5,2208.5L1047.1,2195.5" fill="none" stroke="#3A3A3A" stroke-width="1.25"/>
<path d="M1053.0,2161.3L1053.0,2208.5M1046.4,2195.5L1053.0,2208.5L1059.6,2195.5" fill="none" stroke="#3A3A3A" stroke-width="1.25"/>
<path d="M1064.3,2161.3L1064.3,2208.5M1057.7,2195.5L1064.3,2208.5L1070.9,2195.5" fill="none" stroke="#3A3A3A" stroke-width="1.25"/>
<path d="M1076.5,2161.3L1076.5,2208.5M1069.9,2195.5L1076.5,2208.5L1083.1,2195.5" fill="none" stroke="#3A3A3A" stroke-width="1.25"/>
<path d="M1088.2,2161.3L1088.2,2208.5M1081.6,2195.5L1088.2,2208.5L1094.8,2195.5" fill="none" stroke="#3A3A3A" stroke-width="1.25"/>
<path d="M1105.6,2161.3L1105.6,2208.5M1099.0,2195.5L1105.6,2208.5L1112.2,2195.5" fill="none" stroke="#3A3A3A" stroke-width="1.25"/>
<path d="M1123.6,2161.3L1123.6,2208.5M1117.0,2195.5L1123.6,2208.5L1130.2,2195.5" fill="none" stroke="#3A3A3A" stroke-width="1.25"/>
<path d="M1135.1,2161.3L1135.1,2208.5M1128.5,2195.5L1135.1,2208.5L1141.7,2195.5" fill="none" stroke="#3A3A3A" stroke-width="1.25"/>
<path d="M1152.4,2162.4L1152.4,2208.5M1145.8,2195.5L1152.4,2208.5L1159.0,2195.5" fill="none" stroke="#3A3A3A" stroke-width="1.25"/>
<path d="M1169.8,2162.4L1169.8,2208.5M1163.2,2195.5L1169.8,2208.5L1176.4,2195.5" fill="none" stroke="#3A3A3A" stroke-width="1.25"/>
<path d="M1181.5,2162.4L1181.5,2208.5M1174.9,2195.5L1181.5,2208.5L1188.1,2195.5" fill="none" stroke="#3A3A3A" stroke-width="1.25"/>
<path d="M1200.0,2162.4L1200.0,2208.5M1193.4,2195.5L1200.0,2208.5L1206.6,2195.5" fill="none" stroke="#3A3A3A" stroke-width="1.25"/>
<path d="M1217.6,2162.4L1217.6,2208.5M1211.0,2195.5L1217.6,2208.5L1224.2,2195.5" fill="none" stroke="#3A3A3A" stroke-width="1.25"/>
<path d="M1229.3,2161.3L1229.3,2208.5M1222.7,2195.5L1229.3,2208.5L1235.9,2195.5" fill="none" stroke="#3A3A3A" stroke-width="1.25"/>
<path d="M1255.3,2165.6L1255.3,2208.5M1248.7,2195.5L1255.3,2208.5L1261.9,2195.5" fill="none" stroke="#3A3A3A" stroke-width="1.25"/>
<path d="M1293.5,2164.6L1293.5,2208.5M1286.9,2195.5L1293.5,2208.5L1300.1,2195.5" fill="none" stroke="#3A3A3A" stroke-width="1.25"/>
<path d="M1350.4,2164.6L1350.4,2208.5M1343.8,2195.5L1350.4,2208.5L1357.0,2195.5" fill="none" stroke="#3A3A3A" stroke-width="1.25"/>
<path d="M1381.4,2161.7L1381.4,2208.5M1374.8,2195.5L1381.4,2208.5L1388.0,2195.5" fill="none" stroke="#3A3A3A" stroke-width="1.25"/>
<path d="M1398.8,2161.3L1398.8,2208.5M1392.2,2195.5L1398.8,2208.5L1405.4,2195.5" fill="none" stroke="#3A3A3A" stroke-width="1.25"/>
<path d="M1411.1,2160.8L1411.1,2208.5M1404.5,2195.5L1411.1,2208.5L1417.7,2195.5" fill="none" stroke="#3A3A3A" stroke-width="1.25"/>
<path d="M1423.3,2161.3L1423.3,2208.5M1416.7,2195.5L1423.3,2208.5L1429.9,2195.5" fill="none" stroke="#3A3A3A" stroke-width="1.25"/>
<path d="M1443.7,2164.6L1443.7,2208.5M1437.1,2195.5L1443.7,2208.5L1450.3,2195.5" fill="none" stroke="#3A3A3A" stroke-width="1.25"/>
<path d="M1475.4,2163.9L1475.4,2208.5M1468.8,2195.5L1475.4,2208.5L1482.0,2195.5" fill="none" stroke="#3A3A3A" stroke-width="1.25"/>
<path d="M1499.3,2163.5L1499.3,2208.5M1492.7,2195.5L1499.3,2208.5L1505.9,2195.5" fill="none" stroke="#3A3A3A" stroke-width="1.25"/>
<path d="M1522.1,2162.4L1518.1,2208.6M1512.7,2195.1L1518.1,2208.6L1525.8,2196.2" fill="none" stroke="#3A3A3A" stroke-width="1.25"/>
<path d="M1523.6,2162.4L1527.1,2208.6M1519.5,2196.1L1527.1,2208.6L1532.7,2195.1" fill="none" stroke="#3A3A3A" stroke-width="1.25"/>
<path d="M1552.2,2163.5L1552.2,2208.5M1545.6,2195.5L1552.2,2208.5L1558.8,2195.5" fill="none" stroke="#3A3A3A" stroke-width="1.25"/>
<path d="M1575.7,2162.4L1575.7,2208.5M1569.1,2195.5L1575.7,2208.5L1582.3,2195.5" fill="none" stroke="#3A3A3A" stroke-width="1.25"/>
<path d="M1587.3,2163.0L1587.3,2208.5M1580.7,2195.5L1587.3,2208.5L1593.9,2195.5" fill="none" stroke="#3A3A3A" stroke-width="1.25"/>
<path d="M1604.5,2163.0L1604.5,2208.5M1597.9,2195.5L1604.5,2208.5L1611.1,2195.5" fill="none" stroke="#3A3A3A" stroke-width="1.25"/>
<path d="M1622.6,2163.0L1622.6,2208.5M1616.0,2195.5L1622.6,2208.5L1629.2,2195.5" fill="none" stroke="#3A3A3A" stroke-width="1.25"/>
<path d="M1633.0,2163.0L1633.0,2208.5M1626.4,2195.5L1633.0,2208.5L1639.6,2195.5" fill="none" stroke="#3A3A3A" stroke-width="1.25"/>
<path d="M1646.1,2163.0L1646.1,2208.5M1639.5,2195.5L1646.1,2208.5L1652.7,2195.5" fill="none" stroke="#3A3A3A" stroke-width="1.25"/>
<path d="M809.1,2249.0L808.5,2289.4M802.1,2276.3L808.5,2289.4L815.3,2276.5" fill="none" stroke="#3A3A3A" stroke-width="1.25"/>
<path d="M829.5,2243.6L829.5,2289.4M822.9,2276.4L829.5,2289.4L836.1,2276.4" fill="none" stroke="#3A3A3A" stroke-width="1.25"/>
<path d="M857.3,2247.2L851.3,2289.7M846.6,2275.9L851.3,2289.7L859.6,2277.7" fill="none" stroke="#3A3A3A" stroke-width="1.25"/>
<path d="M861.1,2247.2L867.1,2289.7M858.8,2277.7L867.1,2289.7L871.8,2275.9" fill="none" stroke="#3A3A3A" stroke-width="1.25"/>
<path d="M909.8,2247.3L909.8,2289.4M903.2,2276.4L909.8,2289.4L916.4,2276.4" fill="none" stroke="#3A3A3A" stroke-width="1.25"/>
<path d="M948.2,2247.2L943.4,2289.6M938.3,2275.9L943.4,2289.6L951.4,2277.4" fill="none" stroke="#3A3A3A" stroke-width="1.25"/>
<path d="M951.1,2247.2L955.7,2289.5M947.7,2277.3L955.7,2289.5L960.9,2275.9" fill="none" stroke="#3A3A3A" stroke-width="1.25"/>
<path d="M976.4,2247.3L976.4,2289.4M969.8,2276.4L976.4,2289.4L983.0,2276.4" fill="none" stroke="#3A3A3A" stroke-width="1.25"/>
<path d="M999.0,2243.6L995.6,2289.5M990.0,2276.0L995.6,2289.5L1003.2,2277.0" fill="none" stroke="#3A3A3A" stroke-width="1.25"/>
<path d="M1000.4,2243.6L1003.9,2289.5M996.3,2277.0L1003.9,2289.5L1009.5,2276.0" fill="none" stroke="#3A3A3A" stroke-width="1.25"/>
<path d="M1017.7,2244.2L1017.7,2289.4M1011.1,2276.4L1017.7,2289.4L1024.3,2276.4" fill="none" stroke="#3A3A3A" stroke-width="1.25"/>
<path d="M1029.6,2243.6L1029.6,2289.4M1023.0,2276.4L1029.6,2289.4L1036.2,2276.4" fill="none" stroke="#3A3A3A" stroke-width="1.25"/>
<path d="M1040.5,2242.5L1040.5,2289.4M1033.9,2276.4L1040.5,2289.4L1047.1,2276.4" fill="none" stroke="#3A3A3A" stroke-width="1.25"/>
<path d="M1053.0,2242.5L1053.0,2289.4M1046.4,2276.4L1053.0,2289.4L1059.6,2276.4" fill="none" stroke="#3A3A3A" stroke-width="1.25"/>
<path d="M1064.3,2242.5L1064.3,2289.4M1057.7,2276.4L1064.3,2289.4L1070.9,2276.4" fill="none" stroke="#3A3A3A" stroke-width="1.25"/>
<path d="M1076.5,2242.5L1076.5,2289.4M1069.9,2276.4L1076.5,2289.4L1083.1,2276.4" fill="none" stroke="#3A3A3A" stroke-width="1.25"/>
<path d="M1088.2,2242.5L1088.2,2289.4M1081.6,2276.4L1088.2,2289.4L1094.8,2276.4" fill="none" stroke="#3A3A3A" stroke-width="1.25"/>
<path d="M1105.6,2242.5L1105.6,2289.4M1099.0,2276.4L1105.6,2289.4L1112.2,2276.4" fill="none" stroke="#3A3A3A" stroke-width="1.25"/>
<path d="M1123.6,2242.5L1123.6,2289.4M1117.0,2276.4L1123.6,2289.4L1130.2,2276.4" fill="none" stroke="#3A3A3A" stroke-width="1.25"/>
<path d="M1135.1,2242.5L1135.1,2289.4M1128.5,2276.4L1135.1,2289.4L1141.7,2276.4" fill="none" stroke="#3A3A3A" stroke-width="1.25"/>
<path d="M1151.8,2243.6L1149.0,2289.4M1143.2,2276.1L1149.0,2289.4L1156.4,2276.9" fill="none" stroke="#3A3A3A" stroke-width="1.25"/>
<path d="M1153.2,2243.6L1156.9,2289.5M1149.3,2277.1L1156.9,2289.5L1162.5,2276.0" fill="none" stroke="#3A3A3A" stroke-width="1.25"/>
<path d="M1169.8,2243.6L1169.8,2289.4M1163.2,2276.4L1169.8,2289.4L1176.4,2276.4" fill="none" stroke="#3A3A3A" stroke-width="1.25"/>
<path d="M1181.5,2243.6L1181.5,2289.4M1174.9,2276.4L1181.5,2289.4L1188.1,2276.4" fill="none" stroke="#3A3A3A" stroke-width="1.25"/>
<path d="M1200.0,2243.6L1200.0,2289.4M1193.4,2276.4L1200.0,2289.4L1206.6,2276.4" fill="none" stroke="#3A3A3A" stroke-width="1.25"/>
<path d="M1217.6,2243.6L1217.6,2289.4M1211.0,2276.4L1217.6,2289.4L1224.2,2276.4" fill="none" stroke="#3A3A3A" stroke-width="1.25"/>
<path d="M1229.3,2242.5L1229.3,2289.4M1222.7,2276.4L1229.3,2289.4L1235.9,2276.4" fill="none" stroke="#3A3A3A" stroke-width="1.25"/>
<path d="M1255.4,2246.8L1255.8,2289.4M1249.1,2276.5L1255.8,2289.4L1262.3,2276.3" fill="none" stroke="#3A3A3A" stroke-width="1.25"/>
<path d="M1291.4,2247.6L1285.1,2289.7M1280.5,2275.8L1285.1,2289.7L1293.6,2277.8" fill="none" stroke="#3A3A3A" stroke-width="1.25"/>
<path d="M1295.5,2247.7L1301.6,2289.7M1293.2,2277.8L1301.6,2289.7L1306.3,2275.8" fill="none" stroke="#3A3A3A" stroke-width="1.25"/>
<path d="M1348.1,2245.6L1339.5,2289.9M1335.5,2275.8L1339.5,2289.9L1348.5,2278.4" fill="none" stroke="#3A3A3A" stroke-width="1.25"/>
<path d="M1350.7,2245.8L1351.6,2289.4M1344.7,2276.5L1351.6,2289.4L1357.9,2276.3" fill="none" stroke="#3A3A3A" stroke-width="1.25"/>
<path d="M1352.4,2245.6L1359.8,2289.8M1351.1,2278.0L1359.8,2289.8L1364.2,2275.8" fill="none" stroke="#3A3A3A" stroke-width="1.25"/>
<path d="M1381.4,2242.9L1381.4,2289.4M1374.8,2276.4L1381.4,2289.4L1388.0,2276.4" fill="none" stroke="#3A3A3A" stroke-width="1.25"/>
<path d="M1398.8,2242.5L1398.8,2289.4M1392.2,2276.4L1398.8,2289.4L1405.4,2276.4" fill="none" stroke="#3A3A3A" stroke-width="1.25"/>
<path d="M1411.1,2242.0L1411.1,2289.4M1404.5,2276.4L1411.1,2289.4L1417.7,2276.4" fill="none" stroke="#3A3A3A" stroke-width="1.25"/>
<path d="M1423.3,2242.5L1423.3,2289.4M1416.7,2276.4L1423.3,2289.4L1429.9,2276.4" fill="none" stroke="#3A3A3A" stroke-width="1.25"/>
<path d="M1443.7,2245.8L1443.7,2289.4M1437.1,2276.4L1443.7,2289.4L1450.3,2276.4" fill="none" stroke="#3A3A3A" stroke-width="1.25"/>
<path d="M1474.5,2245.8L1471.2,2289.5M1465.6,2276.0L1471.2,2289.5L1478.8,2277.0" fill="none" stroke="#3A3A3A" stroke-width="1.25"/>
<path d="M1476.4,2245.8L1479.9,2289.5M1472.3,2277.1L1479.9,2289.5L1485.4,2276.0" fill="none" stroke="#3A3A3A" stroke-width="1.25"/>
<path d="M1499.3,2244.2L1499.3,2289.4M1492.7,2276.4L1499.3,2289.4L1505.9,2276.4" fill="none" stroke="#3A3A3A" stroke-width="1.25"/>
<path d="M1516.0,2242.9L1516.0,2289.4M1509.4,2276.4L1516.0,2289.4L1522.6,2276.4" fill="none" stroke="#3A3A3A" stroke-width="1.25"/>
<path d="M1529.0,2242.9L1529.0,2289.4M1522.4,2276.4L1529.0,2289.4L1535.6,2276.4" fill="none" stroke="#3A3A3A" stroke-width="1.25"/>
<path d="M1552.2,2245.1L1552.2,2289.4M1545.6,2276.4L1552.2,2289.4L1558.8,2276.4" fill="none" stroke="#3A3A3A" stroke-width="1.25"/>
<path d="M1575.7,2243.6L1575.7,2289.4M1569.1,2276.4L1575.7,2289.4L1582.3,2276.4" fill="none" stroke="#3A3A3A" stroke-width="1.25"/>
<path d="M1587.3,2244.2L1587.3,2289.4M1580.7,2276.4L1587.3,2289.4L1593.9,2276.4" fill="none" stroke="#3A3A3A" stroke-width="1.25"/>
<path d="M1604.5,2244.2L1604.5,2289.4M1597.9,2276.4L1604.5,2289.4L1611.1,2276.4" fill="none" stroke="#3A3A3A" stroke-width="1.25"/>
<path d="M1622.6,2244.2L1622.6,2289.4M1616.0,2276.4L1622.6,2289.4L1629.2,2276.4" fill="none" stroke="#3A3A3A" stroke-width="1.25"/>
<path d="M1633.0,2244.2L1633.0,2289.4M1626.4,2276.4L1633.0,2289.4L1639.6,2276.4" fill="none" stroke="#3A3A3A" stroke-width="1.25"/>
<path d="M1646.1,2244.2L1646.1,2289.4M1639.5,2276.4L1646.1,2289.4L1652.7,2276.4" fill="none" stroke="#3A3A3A" stroke-width="1.25"/>
<circle cx="1277.8" cy="1826.1" r="28.9" fill="#F8766D" stroke="#7A3A36" stroke-width="1.3"/>
<circle cx="878.1" cy="1907.8" r="19.1" fill="#E39110" stroke="#6B4A05" stroke-width="1.4"/>
<circle cx="975.4" cy="1907.8" r="16.3" fill="#E39110" stroke="#6B4A05" stroke-width="1.4"/>
<circle cx="999.7" cy="1907.8" r="10.9" fill="#E39110" stroke="#6B4A05" stroke-width="1.4"/>
<circle cx="1017" cy="1907.8" r="10.9" fill="#E39110" stroke="#6B4A05" stroke-width="1.4"/>
<circle cx="1029.2" cy="1907.8" r="10.9" fill="#E39110" stroke="#6B4A05" stroke-width="1.4"/>
<circle cx="1059.1" cy="1907.8" r="10.4" fill="#E39110" stroke="#6B4A05" stroke-width="1.4"/>
<circle cx="1096.9" cy="1907.8" r="10.4" fill="#E39110" stroke="#6B4A05" stroke-width="1.4"/>
<circle cx="1129" cy="1907.8" r="10.4" fill="#E39110" stroke="#6B4A05" stroke-width="1.4"/>
<circle cx="1152.4" cy="1907.8" r="10.4" fill="#E39110" stroke="#6B4A05" stroke-width="1.4"/>
<circle cx="1169.8" cy="1907.8" r="10" fill="#E39110" stroke="#6B4A05" stroke-width="1.4"/>
<circle cx="1181.5" cy="1907.8" r="10" fill="#E39110" stroke="#6B4A05" stroke-width="1.4"/>
<circle cx="1200" cy="1907.8" r="10" fill="#E39110" stroke="#6B4A05" stroke-width="1.4"/>
<circle cx="1282" cy="1907.8" r="16.9" fill="#E39110" stroke="#6B4A05" stroke-width="1.4"/>
<circle cx="1382" cy="1907.8" r="9.8" fill="#E39110" stroke="#6B4A05" stroke-width="1.4"/>
<circle cx="1405.3" cy="1907.8" r="9.1" fill="#E39110" stroke="#6B4A05" stroke-width="1.4"/>
<circle cx="1423.3" cy="1907.8" r="9.1" fill="#E39110" stroke="#6B4A05" stroke-width="1.4"/>
<circle cx="1459.5" cy="1907.8" r="14.1" fill="#E39110" stroke="#6B4A05" stroke-width="1.4"/>
<circle cx="1505.1" cy="1907.8" r="11.3" fill="#E39110" stroke="#6B4A05" stroke-width="1.4"/>
<circle cx="1563.7" cy="1907.8" r="10.9" fill="#E39110" stroke="#6B4A05" stroke-width="1.4"/>
<circle cx="1587.3" cy="1907.8" r="10.4" fill="#E39110" stroke="#6B4A05" stroke-width="1.4"/>
<circle cx="1613.3" cy="1907.8" r="10.4" fill="#E39110" stroke="#6B4A05" stroke-width="1.4"/>
<circle cx="1633" cy="1907.8" r="10.4" fill="#E39110" stroke="#6B4A05" stroke-width="1.4"/>
<circle cx="1646.1" cy="1907.8" r="10.4" fill="#E39110" stroke="#6B4A05" stroke-width="1.4"/>
<circle cx="826.7" cy="1989.6" r="17.4" fill="#A9A20F" stroke="#55520A" stroke-width="1.4"/>
<circle cx="929.8" cy="1989.6" r="13.5" fill="#A9A20F" stroke="#55520A" stroke-width="1.4"/>
<circle cx="975.4" cy="1989.6" r="17" fill="#A9A20F" stroke="#55520A" stroke-width="1.4"/>
<circle cx="999.7" cy="1989.6" r="10.9" fill="#A9A20F" stroke="#55520A" stroke-width="1.4"/>
<circle cx="1017.7" cy="1989.6" r="10.4" fill="#A9A20F" stroke="#55520A" stroke-width="1.4"/>
<circle cx="1029.6" cy="1989.6" r="10.4" fill="#A9A20F" stroke="#55520A" stroke-width="1.4"/>
<circle cx="1047.6" cy="1989.6" r="9.8" fill="#A9A20F" stroke="#55520A" stroke-width="1.4"/>
<circle cx="1070.4" cy="1989.6" r="9.8" fill="#A9A20F" stroke="#55520A" stroke-width="1.4"/>
<circle cx="1088.2" cy="1989.6" r="9.8" fill="#A9A20F" stroke="#55520A" stroke-width="1.4"/>
<circle cx="1105.6" cy="1989.6" r="9.8" fill="#A9A20F" stroke="#55520A" stroke-width="1.4"/>
<circle cx="1129" cy="1989.6" r="10.4" fill="#A9A20F" stroke="#55520A" stroke-width="1.4"/>
<circle cx="1152.4" cy="1989.6" r="10.4" fill="#A9A20F" stroke="#55520A" stroke-width="1.4"/>
<circle cx="1169.8" cy="1989.6" r="10.4" fill="#A9A20F" stroke="#55520A" stroke-width="1.4"/>
<circle cx="1181.5" cy="1989.6" r="9.8" fill="#A9A20F" stroke="#55520A" stroke-width="1.4"/>
<circle cx="1200" cy="1989.6" r="9.8" fill="#A9A20F" stroke="#55520A" stroke-width="1.4"/>
<circle cx="1223.4" cy="1989.6" r="11.3" fill="#A9A20F" stroke="#55520A" stroke-width="1.4"/>
<circle cx="1274.4" cy="1989.6" r="14.8" fill="#A9A20F" stroke="#55520A" stroke-width="1.4"/>
<circle cx="1350.4" cy="1989.6" r="12.6" fill="#A9A20F" stroke="#55520A" stroke-width="1.4"/>
<circle cx="1382" cy="1989.6" r="9.8" fill="#A9A20F" stroke="#55520A" stroke-width="1.4"/>
<circle cx="1405.3" cy="1989.6" r="9.1" fill="#A9A20F" stroke="#55520A" stroke-width="1.4"/>
<circle cx="1423.3" cy="1989.6" r="9.1" fill="#A9A20F" stroke="#55520A" stroke-width="1.4"/>
<circle cx="1459.5" cy="1989.6" r="14.1" fill="#A9A20F" stroke="#55520A" stroke-width="1.4"/>
<circle cx="1498.6" cy="1989.6" r="9.8" fill="#A9A20F" stroke="#55520A" stroke-width="1.4"/>
<circle cx="1511.6" cy="1989.6" r="11.3" fill="#A9A20F" stroke="#55520A" stroke-width="1.4"/>
<circle cx="1563.7" cy="1989.6" r="10.9" fill="#A9A20F" stroke="#55520A" stroke-width="1.4"/>
<circle cx="1587.3" cy="1989.6" r="10.4" fill="#A9A20F" stroke="#55520A" stroke-width="1.4"/>
<circle cx="1613.3" cy="1989.6" r="10.4" fill="#A9A20F" stroke="#55520A" stroke-width="1.4"/>
<circle cx="1633" cy="1989.6" r="10.4" fill="#A9A20F" stroke="#55520A" stroke-width="1.4"/>
<circle cx="1646.1" cy="1989.6" r="10.4" fill="#A9A20F" stroke="#55520A" stroke-width="1.4"/>
<circle cx="809.3" cy="2070.5" r="15.2" fill="#3DB712" stroke="#1F5C0A" stroke-width="1.4"/>
<circle cx="844.5" cy="2070.5" r="13.5" fill="#3DB712" stroke="#1F5C0A" stroke-width="1.4"/>
<circle cx="929.8" cy="2070.5" r="14.1" fill="#3DB712" stroke="#1F5C0A" stroke-width="1.4"/>
<circle cx="976" cy="2070.5" r="16.3" fill="#3DB712" stroke="#1F5C0A" stroke-width="1.4"/>
<circle cx="999.7" cy="2070.5" r="10.4" fill="#3DB712" stroke="#1F5C0A" stroke-width="1.4"/>
<circle cx="1017.7" cy="2070.5" r="10.4" fill="#3DB712" stroke="#1F5C0A" stroke-width="1.4"/>
<circle cx="1029.6" cy="2070.5" r="10.4" fill="#3DB712" stroke="#1F5C0A" stroke-width="1.4"/>
<circle cx="1047.6" cy="2070.5" r="9.8" fill="#3DB712" stroke="#1F5C0A" stroke-width="1.4"/>
<circle cx="1070.4" cy="2070.5" r="9.8" fill="#3DB712" stroke="#1F5C0A" stroke-width="1.4"/>
<circle cx="1088.2" cy="2070.5" r="9.8" fill="#3DB712" stroke="#1F5C0A" stroke-width="1.4"/>
<circle cx="1105.6" cy="2070.5" r="9.8" fill="#3DB712" stroke="#1F5C0A" stroke-width="1.4"/>
<circle cx="1129" cy="2070.5" r="10.4" fill="#3DB712" stroke="#1F5C0A" stroke-width="1.4"/>
<circle cx="1152.4" cy="2070.5" r="10.4" fill="#3DB712" stroke="#1F5C0A" stroke-width="1.4"/>
<circle cx="1169.8" cy="2070.5" r="10.4" fill="#3DB712" stroke="#1F5C0A" stroke-width="1.4"/>
<circle cx="1181.5" cy="2070.5" r="9.8" fill="#3DB712" stroke="#1F5C0A" stroke-width="1.4"/>
<circle cx="1200" cy="2070.5" r="9.8" fill="#3DB712" stroke="#1F5C0A" stroke-width="1.4"/>
<circle cx="1217.6" cy="2070.5" r="10.4" fill="#3DB712" stroke="#1F5C0A" stroke-width="1.4"/>
<circle cx="1229.3" cy="2070.5" r="8.7" fill="#3DB712" stroke="#1F5C0A" stroke-width="1.4"/>
<circle cx="1274.4" cy="2070.5" r="14.8" fill="#3DB712" stroke="#1F5C0A" stroke-width="1.4"/>
<circle cx="1350.4" cy="2070.5" r="12.6" fill="#3DB712" stroke="#1F5C0A" stroke-width="1.4"/>
<circle cx="1381.4" cy="2070.5" r="9.1" fill="#3DB712" stroke="#1F5C0A" stroke-width="1.4"/>
<circle cx="1398.8" cy="2070.5" r="8.7" fill="#3DB712" stroke="#1F5C0A" stroke-width="1.4"/>
<circle cx="1411.1" cy="2070.5" r="8.2" fill="#3DB712" stroke="#1F5C0A" stroke-width="1.4"/>
<circle cx="1423.3" cy="2070.5" r="8.7" fill="#3DB712" stroke="#1F5C0A" stroke-width="1.4"/>
<circle cx="1443.7" cy="2070.5" r="12.6" fill="#3DB712" stroke="#1F5C0A" stroke-width="1.4"/>
<circle cx="1475.4" cy="2070.5" r="10.9" fill="#3DB712" stroke="#1F5C0A" stroke-width="1.4"/>
<circle cx="1499.3" cy="2070.5" r="10.9" fill="#3DB712" stroke="#1F5C0A" stroke-width="1.4"/>
<circle cx="1522.9" cy="2070.5" r="10.4" fill="#3DB712" stroke="#1F5C0A" stroke-width="1.4"/>
<circle cx="1563.7" cy="2070.5" r="10.9" fill="#3DB712" stroke="#1F5C0A" stroke-width="1.4"/>
<circle cx="1587.3" cy="2070.5" r="10.4" fill="#3DB712" stroke="#1F5C0A" stroke-width="1.4"/>
<circle cx="1613.3" cy="2070.5" r="10.4" fill="#3DB712" stroke="#1F5C0A" stroke-width="1.4"/>
<circle cx="1633" cy="2070.5" r="10.4" fill="#3DB712" stroke="#1F5C0A" stroke-width="1.4"/>
<circle cx="1646.1" cy="2070.5" r="10.4" fill="#3DB712" stroke="#1F5C0A" stroke-width="1.4"/>
<circle cx="809.3" cy="2152.6" r="15.2" fill="#19C07E" stroke="#0D6040" stroke-width="1.4"/>
<circle cx="844.5" cy="2152.6" r="13.5" fill="#19C07E" stroke="#0D6040" stroke-width="1.4"/>
<circle cx="909.8" cy="2152.6" r="13.5" fill="#19C07E" stroke="#0D6040" stroke-width="1.4"/>
<circle cx="949.7" cy="2152.6" r="12.6" fill="#19C07E" stroke="#0D6040" stroke-width="1.4"/>
<circle cx="976.4" cy="2152.6" r="15.2" fill="#19C07E" stroke="#0D6040" stroke-width="1.4"/>
<circle cx="999.7" cy="2152.6" r="9.8" fill="#19C07E" stroke="#0D6040" stroke-width="1.4"/>
<circle cx="1017.7" cy="2152.6" r="10.4" fill="#19C07E" stroke="#0D6040" stroke-width="1.4"/>
<circle cx="1029.6" cy="2152.6" r="9.8" fill="#19C07E" stroke="#0D6040" stroke-width="1.4"/>
<circle cx="1040.5" cy="2152.6" r="8.7" fill="#19C07E" stroke="#0D6040" stroke-width="1.4"/>
<circle cx="1053" cy="2152.6" r="8.7" fill="#19C07E" stroke="#0D6040" stroke-width="1.4"/>
<circle cx="1064.3" cy="2152.6" r="8.7" fill="#19C07E" stroke="#0D6040" stroke-width="1.4"/>
<circle cx="1076.5" cy="2152.6" r="8.7" fill="#19C07E" stroke="#0D6040" stroke-width="1.4"/>
<circle cx="1088.2" cy="2152.6" r="8.7" fill="#19C07E" stroke="#0D6040" stroke-width="1.4"/>
<circle cx="1105.6" cy="2152.6" r="8.7" fill="#19C07E" stroke="#0D6040" stroke-width="1.4"/>
<circle cx="1123.6" cy="2152.6" r="8.7" fill="#19C07E" stroke="#0D6040" stroke-width="1.4"/>
<circle cx="1135.1" cy="2152.6" r="8.7" fill="#19C07E" stroke="#0D6040" stroke-width="1.4"/>
<circle cx="1152.4" cy="2152.6" r="9.8" fill="#19C07E" stroke="#0D6040" stroke-width="1.4"/>
<circle cx="1169.8" cy="2152.6" r="9.8" fill="#19C07E" stroke="#0D6040" stroke-width="1.4"/>
<circle cx="1181.5" cy="2152.6" r="9.8" fill="#19C07E" stroke="#0D6040" stroke-width="1.4"/>
<circle cx="1200" cy="2152.6" r="9.8" fill="#19C07E" stroke="#0D6040" stroke-width="1.4"/>
<circle cx="1217.6" cy="2152.6" r="9.8" fill="#19C07E" stroke="#0D6040" stroke-width="1.4"/>
<circle cx="1229.3" cy="2152.6" r="8.7" fill="#19C07E" stroke="#0D6040" stroke-width="1.4"/>
<circle cx="1255.3" cy="2152.6" r="13" fill="#19C07E" stroke="#0D6040" stroke-width="1.4"/>
<circle cx="1293.5" cy="2152.6" r="12" fill="#19C07E" stroke="#0D6040" stroke-width="1.4"/>
<circle cx="1350.4" cy="2152.6" r="12" fill="#19C07E" stroke="#0D6040" stroke-width="1.4"/>
<circle cx="1381.4" cy="2152.6" r="9.1" fill="#19C07E" stroke="#0D6040" stroke-width="1.4"/>
<circle cx="1398.8" cy="2152.6" r="8.7" fill="#19C07E" stroke="#0D6040" stroke-width="1.4"/>
<circle cx="1411.1" cy="2152.6" r="8.2" fill="#19C07E" stroke="#0D6040" stroke-width="1.4"/>
<circle cx="1423.3" cy="2152.6" r="8.7" fill="#19C07E" stroke="#0D6040" stroke-width="1.4"/>
<circle cx="1443.7" cy="2152.6" r="12" fill="#19C07E" stroke="#0D6040" stroke-width="1.4"/>
<circle cx="1475.4" cy="2152.6" r="11.3" fill="#19C07E" stroke="#0D6040" stroke-width="1.4"/>
<circle cx="1499.3" cy="2152.6" r="10.9" fill="#19C07E" stroke="#0D6040" stroke-width="1.4"/>
<circle cx="1522.9" cy="2152.6" r="9.8" fill="#19C07E" stroke="#0D6040" stroke-width="1.4"/>
<circle cx="1552.2" cy="2152.6" r="10.9" fill="#19C07E" stroke="#0D6040" stroke-width="1.4"/>
<circle cx="1575.7" cy="2152.6" r="9.8" fill="#19C07E" stroke="#0D6040" stroke-width="1.4"/>
<circle cx="1587.3" cy="2152.6" r="10.4" fill="#19C07E" stroke="#0D6040" stroke-width="1.4"/>
<circle cx="1604.5" cy="2152.6" r="10.4" fill="#19C07E" stroke="#0D6040" stroke-width="1.4"/>
<circle cx="1622.6" cy="2152.6" r="10.4" fill="#19C07E" stroke="#0D6040" stroke-width="1.4"/>
<circle cx="1633" cy="2152.6" r="10.4" fill="#19C07E" stroke="#0D6040" stroke-width="1.4"/>
<circle cx="1646.1" cy="2152.6" r="10.4" fill="#19C07E" stroke="#0D6040" stroke-width="1.4"/>
<circle cx="809.3" cy="2233.8" r="15.2" fill="#1CBFC3" stroke="#0E6062" stroke-width="1.4"/>
<circle cx="829.5" cy="2233.8" r="9.8" fill="#1CBFC3" stroke="#0E6062" stroke-width="1.4"/>
<circle cx="859.2" cy="2233.8" r="13.5" fill="#1CBFC3" stroke="#0E6062" stroke-width="1.4"/>
<circle cx="909.8" cy="2233.8" r="13.5" fill="#1CBFC3" stroke="#0E6062" stroke-width="1.4"/>
<circle cx="949.7" cy="2233.8" r="13.5" fill="#1CBFC3" stroke="#0E6062" stroke-width="1.4"/>
<circle cx="976.4" cy="2233.8" r="13.5" fill="#1CBFC3" stroke="#0E6062" stroke-width="1.4"/>
<circle cx="999.7" cy="2233.8" r="9.8" fill="#1CBFC3" stroke="#0E6062" stroke-width="1.4"/>
<circle cx="1017.7" cy="2233.8" r="10.4" fill="#1CBFC3" stroke="#0E6062" stroke-width="1.4"/>
<circle cx="1029.6" cy="2233.8" r="9.8" fill="#1CBFC3" stroke="#0E6062" stroke-width="1.4"/>
<circle cx="1040.5" cy="2233.8" r="8.7" fill="#1CBFC3" stroke="#0E6062" stroke-width="1.4"/>
<circle cx="1053" cy="2233.8" r="8.7" fill="#1CBFC3" stroke="#0E6062" stroke-width="1.4"/>
<circle cx="1064.3" cy="2233.8" r="8.7" fill="#1CBFC3" stroke="#0E6062" stroke-width="1.4"/>
<circle cx="1076.5" cy="2233.8" r="8.7" fill="#1CBFC3" stroke="#0E6062" stroke-width="1.4"/>
<circle cx="1088.2" cy="2233.8" r="8.7" fill="#1CBFC3" stroke="#0E6062" stroke-width="1.4"/>
<circle cx="1105.6" cy="2233.8" r="8.7" fill="#1CBFC3" stroke="#0E6062" stroke-width="1.4"/>
<circle cx="1123.6" cy="2233.8" r="8.7" fill="#1CBFC3" stroke="#0E6062" stroke-width="1.4"/>
<circle cx="1135.1" cy="2233.8" r="8.7" fill="#1CBFC3" stroke="#0E6062" stroke-width="1.4"/>
<circle cx="1152.4" cy="2233.8" r="9.8" fill="#1CBFC3" stroke="#0E6062" stroke-width="1.4"/>
<circle cx="1169.8" cy="2233.8" r="9.8" fill="#1CBFC3" stroke="#0E6062" stroke-width="1.4"/>
<circle cx="1181.5" cy="2233.8" r="9.8" fill="#1CBFC3" stroke="#0E6062" stroke-width="1.4"/>
<circle cx="1200" cy="2233.8" r="9.8" fill="#1CBFC3" stroke="#0E6062" stroke-width="1.4"/>
<circle cx="1217.6" cy="2233.8" r="9.8" fill="#1CBFC3" stroke="#0E6062" stroke-width="1.4"/>
<circle cx="1229.3" cy="2233.8" r="8.7" fill="#1CBFC3" stroke="#0E6062" stroke-width="1.4"/>
<circle cx="1255.3" cy="2233.8" r="13" fill="#1CBFC3" stroke="#0E6062" stroke-width="1.4"/>
<circle cx="1293.5" cy="2233.8" r="14" fill="#1CBFC3" stroke="#0E6062" stroke-width="1.4"/>
<circle cx="1350.4" cy="2233.8" r="12" fill="#1CBFC3" stroke="#0E6062" stroke-width="1.4"/>
<circle cx="1381.4" cy="2233.8" r="9.1" fill="#1CBFC3" stroke="#0E6062" stroke-width="1.4"/>
<circle cx="1398.8" cy="2233.8" r="8.7" fill="#1CBFC3" stroke="#0E6062" stroke-width="1.4"/>
<circle cx="1411.1" cy="2233.8" r="8.2" fill="#1CBFC3" stroke="#0E6062" stroke-width="1.4"/>
<circle cx="1423.3" cy="2233.8" r="8.7" fill="#1CBFC3" stroke="#0E6062" stroke-width="1.4"/>
<circle cx="1443.7" cy="2233.8" r="12" fill="#1CBFC3" stroke="#0E6062" stroke-width="1.4"/>
<circle cx="1475.4" cy="2233.8" r="12" fill="#1CBFC3" stroke="#0E6062" stroke-width="1.4"/>
<circle cx="1499.3" cy="2233.8" r="10.4" fill="#1CBFC3" stroke="#0E6062" stroke-width="1.4"/>
<circle cx="1516" cy="2233.8" r="9.1" fill="#1CBFC3" stroke="#0E6062" stroke-width="1.4"/>
<circle cx="1529" cy="2233.8" r="9.1" fill="#1CBFC3" stroke="#0E6062" stroke-width="1.4"/>
<circle cx="1552.2" cy="2233.8" r="11.3" fill="#1CBFC3" stroke="#0E6062" stroke-width="1.4"/>
<circle cx="1575.7" cy="2233.8" r="9.8" fill="#1CBFC3" stroke="#0E6062" stroke-width="1.4"/>
<circle cx="1587.3" cy="2233.8" r="10.4" fill="#1CBFC3" stroke="#0E6062" stroke-width="1.4"/>
<circle cx="1604.5" cy="2233.8" r="10.4" fill="#1CBFC3" stroke="#0E6062" stroke-width="1.4"/>
<circle cx="1622.6" cy="2233.8" r="10.4" fill="#1CBFC3" stroke="#0E6062" stroke-width="1.4"/>
<circle cx="1633" cy="2233.8" r="10.4" fill="#1CBFC3" stroke="#0E6062" stroke-width="1.4"/>
<circle cx="1646.1" cy="2233.8" r="10.4" fill="#1CBFC3" stroke="#0E6062" stroke-width="1.4"/>
<circle cx="808.2" cy="2314.7" r="13.5" fill="#18AFF0" stroke="#0C5878" stroke-width="1.4"/>
<circle cx="829.5" cy="2314.7" r="10.4" fill="#18AFF0" stroke="#0C5878" stroke-width="1.4"/>
<circle cx="847.7" cy="2314.7" r="10.9" fill="#18AFF0" stroke="#0C5878" stroke-width="1.4"/>
<circle cx="870.7" cy="2314.7" r="12.6" fill="#18AFF0" stroke="#0C5878" stroke-width="1.4"/>
<circle cx="909.8" cy="2314.7" r="13.5" fill="#18AFF0" stroke="#0C5878" stroke-width="1.4"/>
<circle cx="940.6" cy="2314.7" r="11.3" fill="#18AFF0" stroke="#0C5878" stroke-width="1.4"/>
<circle cx="958.4" cy="2314.7" r="12" fill="#18AFF0" stroke="#0C5878" stroke-width="1.4"/>
<circle cx="976.4" cy="2314.7" r="12" fill="#18AFF0" stroke="#0C5878" stroke-width="1.4"/>
<circle cx="993.8" cy="2314.7" r="9.8" fill="#18AFF0" stroke="#0C5878" stroke-width="1.4"/>
<circle cx="1005.8" cy="2314.7" r="8.7" fill="#18AFF0" stroke="#0C5878" stroke-width="1.4"/>
<circle cx="1017.7" cy="2314.7" r="9.8" fill="#18AFF0" stroke="#0C5878" stroke-width="1.4"/>
<circle cx="1029.6" cy="2314.7" r="9.8" fill="#18AFF0" stroke="#0C5878" stroke-width="1.4"/>
<circle cx="1040.5" cy="2314.7" r="8.7" fill="#18AFF0" stroke="#0C5878" stroke-width="1.4"/>
<circle cx="1053" cy="2314.7" r="8.7" fill="#18AFF0" stroke="#0C5878" stroke-width="1.4"/>
<circle cx="1064.3" cy="2314.7" r="8.7" fill="#18AFF0" stroke="#0C5878" stroke-width="1.4"/>
<circle cx="1076.5" cy="2314.7" r="8.7" fill="#18AFF0" stroke="#0C5878" stroke-width="1.4"/>
<circle cx="1088.2" cy="2314.7" r="8.7" fill="#18AFF0" stroke="#0C5878" stroke-width="1.4"/>
<circle cx="1105.6" cy="2314.7" r="8.7" fill="#18AFF0" stroke="#0C5878" stroke-width="1.4"/>
<circle cx="1123.6" cy="2314.7" r="8.7" fill="#18AFF0" stroke="#0C5878" stroke-width="1.4"/>
<circle cx="1135.1" cy="2314.7" r="8.7" fill="#18AFF0" stroke="#0C5878" stroke-width="1.4"/>
<circle cx="1147.4" cy="2314.7" r="8.7" fill="#18AFF0" stroke="#0C5878" stroke-width="1.4"/>
<circle cx="1159" cy="2314.7" r="8.7" fill="#18AFF0" stroke="#0C5878" stroke-width="1.4"/>
<circle cx="1169.8" cy="2314.7" r="9.8" fill="#18AFF0" stroke="#0C5878" stroke-width="1.4"/>
<circle cx="1181.5" cy="2314.7" r="9.8" fill="#18AFF0" stroke="#0C5878" stroke-width="1.4"/>
<circle cx="1200" cy="2314.7" r="9.8" fill="#18AFF0" stroke="#0C5878" stroke-width="1.4"/>
<circle cx="1217.6" cy="2314.7" r="9.8" fill="#18AFF0" stroke="#0C5878" stroke-width="1.4"/>
<circle cx="1229.3" cy="2314.7" r="8.7" fill="#18AFF0" stroke="#0C5878" stroke-width="1.4"/>
<circle cx="1256" cy="2314.7" r="12.6" fill="#18AFF0" stroke="#0C5878" stroke-width="1.4"/>
<circle cx="1281.4" cy="2314.7" r="12.6" fill="#18AFF0" stroke="#0C5878" stroke-width="1.4"/>
<circle cx="1305.3" cy="2314.7" r="12.6" fill="#18AFF0" stroke="#0C5878" stroke-width="1.4"/>
<circle cx="1334.7" cy="2314.7" r="10.9" fill="#18AFF0" stroke="#0C5878" stroke-width="1.4"/>
<circle cx="1352.1" cy="2314.7" r="9.8" fill="#18AFF0" stroke="#0C5878" stroke-width="1.4"/>
<circle cx="1364" cy="2314.7" r="9.8" fill="#18AFF0" stroke="#0C5878" stroke-width="1.4"/>
<circle cx="1381.4" cy="2314.7" r="9.1" fill="#18AFF0" stroke="#0C5878" stroke-width="1.4"/>
<circle cx="1398.8" cy="2314.7" r="8.7" fill="#18AFF0" stroke="#0C5878" stroke-width="1.4"/>
<circle cx="1411.1" cy="2314.7" r="8.2" fill="#18AFF0" stroke="#0C5878" stroke-width="1.4"/>
<circle cx="1423.3" cy="2314.7" r="8.7" fill="#18AFF0" stroke="#0C5878" stroke-width="1.4"/>
<circle cx="1443.7" cy="2314.7" r="12" fill="#18AFF0" stroke="#0C5878" stroke-width="1.4"/>
<circle cx="1469.3" cy="2314.7" r="9.8" fill="#18AFF0" stroke="#0C5878" stroke-width="1.4"/>
<circle cx="1481.9" cy="2314.7" r="10.9" fill="#18AFF0" stroke="#0C5878" stroke-width="1.4"/>
<circle cx="1499.3" cy="2314.7" r="10.4" fill="#18AFF0" stroke="#0C5878" stroke-width="1.4"/>
<circle cx="1516" cy="2314.7" r="9.1" fill="#18AFF0" stroke="#0C5878" stroke-width="1.4"/>
<circle cx="1529" cy="2314.7" r="9.1" fill="#18AFF0" stroke="#0C5878" stroke-width="1.4"/>
<circle cx="1552.2" cy="2314.7" r="11.3" fill="#18AFF0" stroke="#0C5878" stroke-width="1.4"/>
<circle cx="1575.7" cy="2314.7" r="9.8" fill="#18AFF0" stroke="#0C5878" stroke-width="1.4"/>
<circle cx="1587.3" cy="2314.7" r="10.4" fill="#18AFF0" stroke="#0C5878" stroke-width="1.4"/>
<circle cx="1604.5" cy="2314.7" r="10.4" fill="#18AFF0" stroke="#0C5878" stroke-width="1.4"/>
<circle cx="1622.6" cy="2314.7" r="10.4" fill="#18AFF0" stroke="#0C5878" stroke-width="1.4"/>
<circle cx="1633" cy="2314.7" r="10.4" fill="#18AFF0" stroke="#0C5878" stroke-width="1.4"/>
<circle cx="1646.1" cy="2314.7" r="10.4" fill="#18AFF0" stroke="#0C5878" stroke-width="1.4"/>
<text x="1682.4" y="1913.8" font-size="27">resolution 0.8</text>
<text x="1876.2" y="1913.8" font-size="27">23 clusters</text>
<text x="1682.4" y="1992.7" font-size="27">resolution 1.2</text>
<text x="1876.2" y="1992.7" font-size="27">29 clusters</text>
<text x="1682.4" y="2073.1" font-size="27">resolution 1.6</text>
<text x="1876.2" y="2073.1" font-size="27">33 clusters</text>
<text x="1682.4" y="2156.0" font-size="27">resolution 2.0</text>
<text x="1876.2" y="2156.0" font-size="27">42 clusters</text>
<text x="1682.4" y="2238.3" font-size="27">resolution 3.0</text>
<text x="1876.2" y="2238.3" font-size="27">50 clusters</text>
<text x="1682.4" y="2318.3" font-size="27">resolution 4.0</text>
<text x="1876.2" y="2318.3" font-size="27">57 clusters</text>
<text x="853.0" y="1773.0" font-size="28" font-weight="bold">e</text>
<rect x="128.4" y="2433.0" width="24.4" height="108.6" fill="#FF7F7F"/>
<rect x="127.1" y="2433.0" width="27.0" height="2.2" fill="#FF8585"/>
<rect x="130.0" y="2543.1" width="21.2" height="108.4" fill="#00ADEE" stroke="#187F9C" stroke-width="3.2"/>
<rect x="126.8" y="2540.6" width="27.6" height="3.4" fill="#187F9C"/>
<rect x="170.9" y="2433.0" width="24.4" height="108.0" fill="#FF7F7F"/>
<rect x="169.6" y="2433.0" width="27.0" height="2.2" fill="#FF8585"/>
<rect x="172.5" y="2542.5" width="21.2" height="109.0" fill="#00ADEE" stroke="#187F9C" stroke-width="3.2"/>
<rect x="169.3" y="2540.0" width="27.6" height="3.4" fill="#187F9C"/>
<rect x="213.3" y="2433.0" width="24.4" height="103.1" fill="#FF7F7F"/>
<rect x="212.0" y="2433.0" width="27.0" height="2.2" fill="#FF8585"/>
<rect x="214.9" y="2537.6" width="21.2" height="113.9" fill="#00ADEE" stroke="#187F9C" stroke-width="3.2"/>
<rect x="211.7" y="2535.1" width="27.6" height="3.4" fill="#187F9C"/>
<rect x="255.8" y="2433.0" width="24.4" height="103.7" fill="#FF7F7F"/>
<rect x="254.5" y="2433.0" width="27.0" height="2.2" fill="#FF8585"/>
<rect x="257.4" y="2538.2" width="21.2" height="113.3" fill="#00ADEE" stroke="#187F9C" stroke-width="3.2"/>
<rect x="254.2" y="2535.7" width="27.6" height="3.4" fill="#187F9C"/>
<rect x="298.3" y="2433.0" width="24.4" height="111.7" fill="#FF7F7F"/>
<rect x="297.0" y="2433.0" width="27.0" height="2.2" fill="#FF8585"/>
<rect x="299.9" y="2546.2" width="21.2" height="105.3" fill="#00ADEE" stroke="#187F9C" stroke-width="3.2"/>
<rect x="296.7" y="2543.7" width="27.6" height="3.4" fill="#187F9C"/>
<rect x="340.8" y="2433.0" width="24.4" height="108.0" fill="#FF7F7F"/>
<rect x="339.4" y="2433.0" width="27.0" height="2.2" fill="#FF8585"/>
<rect x="342.4" y="2542.5" width="21.2" height="109.0" fill="#00ADEE" stroke="#187F9C" stroke-width="3.2"/>
<rect x="339.1" y="2540.0" width="27.6" height="3.4" fill="#187F9C"/>
<rect x="383.2" y="2433.0" width="24.4" height="106.8" fill="#FF7F7F"/>
<rect x="381.9" y="2433.0" width="27.0" height="2.2" fill="#FF8585"/>
<rect x="384.8" y="2541.3" width="21.2" height="110.2" fill="#00ADEE" stroke="#187F9C" stroke-width="3.2"/>
<rect x="381.6" y="2538.8" width="27.6" height="3.4" fill="#187F9C"/>
<rect x="425.7" y="2433.0" width="24.4" height="115.3" fill="#FF7F7F"/>
<rect x="424.4" y="2433.0" width="27.0" height="2.2" fill="#FF8585"/>
<rect x="427.3" y="2549.8" width="21.2" height="101.7" fill="#00ADEE" stroke="#187F9C" stroke-width="3.2"/>
<rect x="424.1" y="2547.3" width="27.6" height="3.4" fill="#187F9C"/>
<rect x="468.2" y="2433.0" width="24.4" height="119.6" fill="#FF7F7F"/>
<rect x="466.9" y="2433.0" width="27.0" height="2.2" fill="#FF8585"/>
<rect x="469.8" y="2554.1" width="21.2" height="97.4" fill="#00ADEE" stroke="#187F9C" stroke-width="3.2"/>
<rect x="466.6" y="2551.6" width="27.6" height="3.4" fill="#187F9C"/>
<rect x="510.6" y="2433.0" width="24.4" height="114.7" fill="#FF7F7F"/>
<rect x="509.3" y="2433.0" width="27.0" height="2.2" fill="#FF8585"/>
<rect x="512.2" y="2549.2" width="21.2" height="102.3" fill="#00ADEE" stroke="#187F9C" stroke-width="3.2"/>
<rect x="509.0" y="2546.7" width="27.6" height="3.4" fill="#187F9C"/>
<rect x="553.1" y="2433.0" width="24.4" height="115.3" fill="#FF7F7F"/>
<rect x="551.8" y="2433.0" width="27.0" height="2.2" fill="#FF8585"/>
<rect x="554.7" y="2549.8" width="21.2" height="101.7" fill="#00ADEE" stroke="#187F9C" stroke-width="3.2"/>
<rect x="551.5" y="2547.3" width="27.6" height="3.4" fill="#187F9C"/>
<rect x="595.6" y="2433.0" width="24.4" height="109.2" fill="#FF7F7F"/>
<rect x="594.3" y="2433.0" width="27.0" height="2.2" fill="#FF8585"/>
<rect x="597.2" y="2543.7" width="21.2" height="107.8" fill="#00ADEE" stroke="#187F9C" stroke-width="3.2"/>
<rect x="594.0" y="2541.2" width="27.6" height="3.4" fill="#187F9C"/>
<rect x="638.0" y="2433.0" width="24.4" height="102.5" fill="#FF7F7F"/>
<rect x="636.7" y="2433.0" width="27.0" height="2.2" fill="#FF8585"/>
<rect x="639.6" y="2537.0" width="21.2" height="114.5" fill="#00ADEE" stroke="#187F9C" stroke-width="3.2"/>
<rect x="636.4" y="2534.5" width="27.6" height="3.4" fill="#187F9C"/>
<rect x="680.5" y="2433.0" width="24.4" height="117.2" fill="#FF7F7F"/>
<rect x="679.2" y="2433.0" width="27.0" height="2.2" fill="#FF8585"/>
<rect x="682.1" y="2551.7" width="21.2" height="99.8" fill="#00ADEE" stroke="#187F9C" stroke-width="3.2"/>
<rect x="678.9" y="2549.2" width="27.6" height="3.4" fill="#187F9C"/>
<rect x="723.0" y="2433.0" width="24.4" height="106.8" fill="#FF7F7F"/>
<rect x="721.7" y="2433.0" width="27.0" height="2.2" fill="#FF8585"/>
<rect x="724.6" y="2541.3" width="21.2" height="110.2" fill="#00ADEE" stroke="#187F9C" stroke-width="3.2"/>
<rect x="721.4" y="2538.8" width="27.6" height="3.4" fill="#187F9C"/>
<rect x="765.4" y="2433.0" width="24.4" height="108.0" fill="#FF7F7F"/>
<rect x="764.1" y="2433.0" width="27.0" height="2.2" fill="#FF8585"/>
<rect x="767.0" y="2542.5" width="21.2" height="109.0" fill="#00ADEE" stroke="#187F9C" stroke-width="3.2"/>
<rect x="763.8" y="2540.0" width="27.6" height="3.4" fill="#187F9C"/>
<rect x="807.9" y="2433.0" width="24.4" height="88.4" fill="#FF7F7F"/>
<rect x="806.6" y="2433.0" width="27.0" height="2.2" fill="#FF8585"/>
<rect x="809.5" y="2522.9" width="21.2" height="128.6" fill="#00ADEE" stroke="#187F9C" stroke-width="3.2"/>
<rect x="806.3" y="2520.4" width="27.6" height="3.4" fill="#187F9C"/>
<rect x="850.4" y="2433.0" width="24.4" height="119.6" fill="#FF7F7F"/>
<rect x="849.1" y="2433.0" width="27.0" height="2.2" fill="#FF8585"/>
<rect x="852.0" y="2554.1" width="21.2" height="97.4" fill="#00ADEE" stroke="#187F9C" stroke-width="3.2"/>
<rect x="848.8" y="2551.6" width="27.6" height="3.4" fill="#187F9C"/>
<rect x="892.9" y="2433.0" width="24.4" height="108.6" fill="#FF7F7F"/>
<rect x="891.6" y="2433.0" width="27.0" height="2.2" fill="#FF8585"/>
<rect x="894.5" y="2543.1" width="21.2" height="108.4" fill="#00ADEE" stroke="#187F9C" stroke-width="3.2"/>
<rect x="891.3" y="2540.6" width="27.6" height="3.4" fill="#187F9C"/>
<rect x="935.3" y="2433.0" width="24.4" height="119.6" fill="#FF7F7F"/>
<rect x="934.0" y="2433.0" width="27.0" height="2.2" fill="#FF8585"/>
<rect x="936.9" y="2554.1" width="21.2" height="97.4" fill="#00ADEE" stroke="#187F9C" stroke-width="3.2"/>
<rect x="933.7" y="2551.6" width="27.6" height="3.4" fill="#187F9C"/>
<rect x="977.8" y="2433.0" width="24.4" height="110.5" fill="#FF7F7F"/>
<rect x="976.5" y="2433.0" width="27.0" height="2.2" fill="#FF8585"/>
<rect x="979.4" y="2545.0" width="21.2" height="106.5" fill="#00ADEE" stroke="#187F9C" stroke-width="3.2"/>
<rect x="976.2" y="2542.5" width="27.6" height="3.4" fill="#187F9C"/>
<rect x="1020.3" y="2433.0" width="24.4" height="108.5" fill="#FF7F7F"/>
<rect x="1019.0" y="2433.0" width="27.0" height="2.2" fill="#FF8585"/>
<rect x="1021.9" y="2543.0" width="21.2" height="108.5" fill="#00ADEE" stroke="#187F9C" stroke-width="3.2"/>
<rect x="1018.7" y="2540.5" width="27.6" height="3.4" fill="#187F9C"/>
<rect x="1062.7" y="2433.0" width="24.4" height="108.5" fill="#FF7F7F"/>
<rect x="1061.4" y="2433.0" width="27.0" height="2.2" fill="#FF8585"/>
<rect x="1064.3" y="2543.0" width="21.2" height="108.5" fill="#00ADEE" stroke="#187F9C" stroke-width="3.2"/>
<rect x="1061.1" y="2540.5" width="27.6" height="3.4" fill="#187F9C"/>
<rect x="1105.2" y="2433.0" width="24.4" height="118.5" fill="#FF7F7F"/>
<rect x="1103.9" y="2433.0" width="27.0" height="2.2" fill="#FF8585"/>
<rect x="1106.8" y="2553.0" width="21.2" height="98.5" fill="#00ADEE" stroke="#187F9C" stroke-width="3.2"/>
<rect x="1103.6" y="2550.5" width="27.6" height="3.4" fill="#187F9C"/>
<rect x="1147.7" y="2433.0" width="24.4" height="54.0" fill="#FF7F7F"/>
<rect x="1146.4" y="2433.0" width="27.0" height="2.2" fill="#FF8585"/>
<rect x="1149.3" y="2488.5" width="21.2" height="163.0" fill="#00ADEE" stroke="#187F9C" stroke-width="3.2"/>
<rect x="1146.1" y="2486.0" width="27.6" height="3.4" fill="#187F9C"/>
<rect x="1190.1" y="2433.0" width="24.4" height="117.3" fill="#FF7F7F"/>
<rect x="1188.8" y="2433.0" width="27.0" height="2.2" fill="#FF8585"/>
<rect x="1191.7" y="2551.8" width="21.2" height="99.7" fill="#00ADEE" stroke="#187F9C" stroke-width="3.2"/>
<rect x="1188.5" y="2549.3" width="27.6" height="3.4" fill="#187F9C"/>
<rect x="1232.6" y="2433.0" width="24.4" height="115.4" fill="#FF7F7F"/>
<rect x="1231.3" y="2433.0" width="27.0" height="2.2" fill="#FF8585"/>
<rect x="1234.2" y="2549.9" width="21.2" height="101.6" fill="#00ADEE" stroke="#187F9C" stroke-width="3.2"/>
<rect x="1231.0" y="2547.4" width="27.6" height="3.4" fill="#187F9C"/>
<rect x="1275.1" y="2433.0" width="24.4" height="74.1" fill="#FF7F7F"/>
<rect x="1273.8" y="2433.0" width="27.0" height="2.2" fill="#FF8585"/>
<rect x="1276.7" y="2508.6" width="21.2" height="142.9" fill="#00ADEE" stroke="#187F9C" stroke-width="3.2"/>
<rect x="1273.5" y="2506.1" width="27.6" height="3.4" fill="#187F9C"/>
<rect x="1317.6" y="2433.0" width="24.4" height="96.6" fill="#FF7F7F"/>
<rect x="1316.3" y="2433.0" width="27.0" height="2.2" fill="#FF8585"/>
<rect x="1319.2" y="2531.1" width="21.2" height="120.4" fill="#00ADEE" stroke="#187F9C" stroke-width="3.2"/>
<rect x="1316.0" y="2528.6" width="27.6" height="3.4" fill="#187F9C"/>
<rect x="1360.0" y="2433.0" width="24.4" height="77.8" fill="#FF7F7F"/>
<rect x="1358.7" y="2433.0" width="27.0" height="2.2" fill="#FF8585"/>
<rect x="1361.6" y="2512.3" width="21.2" height="139.2" fill="#00ADEE" stroke="#187F9C" stroke-width="3.2"/>
<rect x="1358.4" y="2509.8" width="27.6" height="3.4" fill="#187F9C"/>
<rect x="1402.5" y="2433.0" width="24.4" height="112.3" fill="#FF7F7F"/>
<rect x="1401.2" y="2433.0" width="27.0" height="2.2" fill="#FF8585"/>
<rect x="1404.1" y="2546.8" width="21.2" height="104.7" fill="#00ADEE" stroke="#187F9C" stroke-width="3.2"/>
<rect x="1400.9" y="2544.3" width="27.6" height="3.4" fill="#187F9C"/>
<rect x="1445.0" y="2433.0" width="24.4" height="121.0" fill="#FF7F7F"/>
<rect x="1443.7" y="2433.0" width="27.0" height="2.2" fill="#FF8585"/>
<rect x="1446.6" y="2555.5" width="21.2" height="96.0" fill="#00ADEE" stroke="#187F9C" stroke-width="3.2"/>
<rect x="1443.4" y="2553.0" width="27.6" height="3.4" fill="#187F9C"/>
<rect x="1487.4" y="2433.0" width="24.4" height="92.9" fill="#FF7F7F"/>
<rect x="1486.1" y="2433.0" width="27.0" height="2.2" fill="#FF8585"/>
<rect x="1489.0" y="2527.4" width="21.2" height="124.1" fill="#00ADEE" stroke="#187F9C" stroke-width="3.2"/>
<rect x="1485.8" y="2524.9" width="27.6" height="3.4" fill="#187F9C"/>
<rect x="1529.9" y="2433.0" width="24.4" height="127.9" fill="#FF7F7F"/>
<rect x="1528.6" y="2433.0" width="27.0" height="2.2" fill="#FF8585"/>
<rect x="1531.5" y="2562.4" width="21.2" height="89.1" fill="#00ADEE" stroke="#187F9C" stroke-width="3.2"/>
<rect x="1528.3" y="2559.9" width="27.6" height="3.4" fill="#187F9C"/>
<rect x="1572.4" y="2433.0" width="24.4" height="160.5" fill="#FF7F7F"/>
<rect x="1571.1" y="2433.0" width="27.0" height="2.2" fill="#FF8585"/>
<rect x="1574.0" y="2595.0" width="21.2" height="56.5" fill="#00ADEE" stroke="#187F9C" stroke-width="3.2"/>
<rect x="1570.8" y="2592.5" width="27.6" height="3.4" fill="#187F9C"/>
<rect x="1614.8" y="2433.0" width="24.4" height="84.7" fill="#FF7F7F"/>
<rect x="1613.5" y="2433.0" width="27.0" height="2.2" fill="#FF8585"/>
<rect x="1616.4" y="2519.2" width="21.2" height="132.3" fill="#00ADEE" stroke="#187F9C" stroke-width="3.2"/>
<rect x="1613.2" y="2516.7" width="27.6" height="3.4" fill="#187F9C"/>
<rect x="1657.3" y="2433.0" width="24.4" height="89.7" fill="#FF7F7F"/>
<rect x="1656.0" y="2433.0" width="27.0" height="2.2" fill="#FF8585"/>
<rect x="1658.9" y="2524.2" width="21.2" height="127.3" fill="#00ADEE" stroke="#187F9C" stroke-width="3.2"/>
<rect x="1655.7" y="2521.7" width="27.6" height="3.4" fill="#187F9C"/>
<rect x="1699.8" y="2433.0" width="24.4" height="180.5" fill="#FF7F7F"/>
<rect x="1698.5" y="2433.0" width="27.0" height="2.2" fill="#FF8585"/>
<rect x="1701.4" y="2615.0" width="21.2" height="36.5" fill="#00ADEE" stroke="#187F9C" stroke-width="3.2"/>
<rect x="1698.2" y="2612.5" width="27.6" height="3.4" fill="#187F9C"/>
<rect x="1742.3" y="2433.0" width="24.4" height="119.1" fill="#FF7F7F"/>
<rect x="1741.0" y="2433.0" width="27.0" height="2.2" fill="#FF8585"/>
<rect x="1743.9" y="2553.6" width="21.2" height="97.9" fill="#00ADEE" stroke="#187F9C" stroke-width="3.2"/>
<rect x="1740.7" y="2551.1" width="27.6" height="3.4" fill="#187F9C"/>
<rect x="1784.7" y="2433.0" width="24.4" height="126.7" fill="#FF7F7F"/>
<rect x="1783.4" y="2433.0" width="27.0" height="2.2" fill="#FF8585"/>
<rect x="1786.3" y="2561.2" width="21.2" height="90.3" fill="#00ADEE" stroke="#187F9C" stroke-width="3.2"/>
<rect x="1783.1" y="2558.7" width="27.6" height="3.4" fill="#187F9C"/>
<rect x="1827.2" y="2433.0" width="24.4" height="144.8" fill="#FF7F7F"/>
<rect x="1825.9" y="2433.0" width="27.0" height="2.2" fill="#FF8585"/>
<rect x="1828.8" y="2579.3" width="21.2" height="72.2" fill="#00ADEE" stroke="#187F9C" stroke-width="3.2"/>
<rect x="1825.6" y="2576.8" width="27.6" height="3.4" fill="#187F9C"/>
<rect x="1869.7" y="2433.0" width="24.4" height="87.2" fill="#FF7F7F"/>
<rect x="1868.4" y="2433.0" width="27.0" height="2.2" fill="#FF8585"/>
<rect x="1871.3" y="2521.7" width="21.2" height="129.8" fill="#00ADEE" stroke="#187F9C" stroke-width="3.2"/>
<rect x="1868.1" y="2519.2" width="27.6" height="3.4" fill="#187F9C"/>
<line x1="90" x2="1901" y1="2542.3" y2="2545.4" stroke="#000" stroke-width="3" stroke-dasharray="7 3.8"/>
<line x1="112.1" x2="112.1" y1="2432" y2="2653.0" stroke="#000" stroke-width="3.2"/>
<line x1="90" x2="1912.6" y1="2651.5" y2="2651.5" stroke="#000" stroke-width="3.2"/>
<line x1="90" x2="112.1" y1="2651.5" y2="2651.5" stroke="#000" stroke-width="2.6"/>
<line x1="99.8" x2="112.1" y1="2640.6" y2="2640.6" stroke="#000" stroke-width="2.6"/>
<line x1="99.8" x2="112.1" y1="2629.7" y2="2629.7" stroke="#000" stroke-width="2.6"/>
<line x1="99.8" x2="112.1" y1="2618.7" y2="2618.7" stroke="#000" stroke-width="2.6"/>
<line x1="99.8" x2="112.1" y1="2607.8" y2="2607.8" stroke="#000" stroke-width="2.6"/>
<line x1="99.8" x2="112.1" y1="2596.9" y2="2596.9" stroke="#000" stroke-width="2.6"/>
<line x1="99.8" x2="112.1" y1="2585.9" y2="2585.9" stroke="#000" stroke-width="2.6"/>
<line x1="99.8" x2="112.1" y1="2575.0" y2="2575.0" stroke="#000" stroke-width="2.6"/>
<line x1="99.8" x2="112.1" y1="2564.1" y2="2564.1" stroke="#000" stroke-width="2.6"/>
<line x1="99.8" x2="112.1" y1="2553.2" y2="2553.2" stroke="#000" stroke-width="2.6"/>
<line x1="90" x2="112.1" y1="2542.2" y2="2542.2" stroke="#000" stroke-width="2.6"/>
<line x1="99.8" x2="112.1" y1="2531.3" y2="2531.3" stroke="#000" stroke-width="2.6"/>
<line x1="99.8" x2="112.1" y1="2520.4" y2="2520.4" stroke="#000" stroke-width="2.6"/>
<line x1="99.8" x2="112.1" y1="2509.5" y2="2509.5" stroke="#000" stroke-width="2.6"/>
<line x1="99.8" x2="112.1" y1="2498.6" y2="2498.6" stroke="#000" stroke-width="2.6"/>
<line x1="99.8" x2="112.1" y1="2487.6" y2="2487.6" stroke="#000" stroke-width="2.6"/>
<line x1="99.8" x2="112.1" y1="2476.7" y2="2476.7" stroke="#000" stroke-width="2.6"/>
<line x1="99.8" x2="112.1" y1="2465.8" y2="2465.8" stroke="#000" stroke-width="2.6"/>
<line x1="99.8" x2="112.1" y1="2454.8" y2="2454.8" stroke="#000" stroke-width="2.6"/>
<line x1="99.8" x2="112.1" y1="2443.9" y2="2443.9" stroke="#000" stroke-width="2.6"/>
<line x1="90" x2="112.1" y1="2433.3" y2="2433.3" stroke="#000" stroke-width="2.6"/>
<text x="93.0" y="2449.5" font-size="25" text-anchor="end" letter-spacing="1.6">1.0</text>
<text x="93.0" y="2547.5" font-size="25" text-anchor="end" letter-spacing="1.6">0.5</text>
<text x="93.0" y="2659.0" font-size="25" text-anchor="end" letter-spacing="1.6">0.0</text>
<line x1="140.6" x2="140.6" y1="2651.5" y2="2660.0" stroke="#000" stroke-width="2.8"/>
<text x="147.6" y="2683.0" font-size="28.5" text-anchor="end" transform="rotate(-45 147.6 2683.0)">0</text>
<line x1="183.1" x2="183.1" y1="2651.5" y2="2660.0" stroke="#000" stroke-width="2.8"/>
<text x="190.1" y="2683.0" font-size="28.5" text-anchor="end" transform="rotate(-45 190.1 2683.0)">1</text>
<line x1="225.5" x2="225.5" y1="2651.5" y2="2660.0" stroke="#000" stroke-width="2.8"/>
<text x="232.5" y="2683.0" font-size="28.5" text-anchor="end" transform="rotate(-45 232.5 2683.0)">2</text>
<line x1="268.0" x2="268.0" y1="2651.5" y2="2660.0" stroke="#000" stroke-width="2.8"/>
<text x="275.0" y="2683.0" font-size="28.5" text-anchor="end" transform="rotate(-45 275.0 2683.0)">3</text>
<line x1="310.5" x2="310.5" y1="2651.5" y2="2660.0" stroke="#000" stroke-width="2.8"/>
<text x="317.5" y="2683.0" font-size="28.5" text-anchor="end" transform="rotate(-45 317.5 2683.0)">4</text>
<line x1="352.9" x2="352.9" y1="2651.5" y2="2660.0" stroke="#000" stroke-width="2.8"/>
<text x="359.9" y="2683.0" font-size="28.5" text-anchor="end" transform="rotate(-45 359.9 2683.0)">5</text>
<line x1="395.4" x2="395.4" y1="2651.5" y2="2660.0" stroke="#000" stroke-width="2.8"/>
<text x="402.4" y="2683.0" font-size="28.5" text-anchor="end" transform="rotate(-45 402.4 2683.0)">6</text>
<line x1="437.9" x2="437.9" y1="2651.5" y2="2660.0" stroke="#000" stroke-width="2.8"/>
<text x="444.9" y="2683.0" font-size="28.5" text-anchor="end" transform="rotate(-45 444.9 2683.0)">7</text>
<line x1="480.4" x2="480.4" y1="2651.5" y2="2660.0" stroke="#000" stroke-width="2.8"/>
<text x="487.4" y="2683.0" font-size="28.5" text-anchor="end" transform="rotate(-45 487.4 2683.0)">8</text>
<line x1="522.8" x2="522.8" y1="2651.5" y2="2660.0" stroke="#000" stroke-width="2.8"/>
<text x="529.8" y="2683.0" font-size="28.5" text-anchor="end" transform="rotate(-45 529.8 2683.0)">9</text>
<line x1="565.3" x2="565.3" y1="2651.5" y2="2660.0" stroke="#000" stroke-width="2.8"/>
<text x="572.3" y="2683.0" font-size="28.5" text-anchor="end" transform="rotate(-45 572.3 2683.0)">10</text>
<line x1="607.8" x2="607.8" y1="2651.5" y2="2660.0" stroke="#000" stroke-width="2.8"/>
<text x="614.8" y="2683.0" font-size="28.5" text-anchor="end" transform="rotate(-45 614.8 2683.0)">11</text>
<line x1="650.2" x2="650.2" y1="2651.5" y2="2660.0" stroke="#000" stroke-width="2.8"/>
<text x="657.2" y="2683.0" font-size="28.5" text-anchor="end" transform="rotate(-45 657.2 2683.0)">12</text>
<line x1="692.7" x2="692.7" y1="2651.5" y2="2660.0" stroke="#000" stroke-width="2.8"/>
<text x="699.7" y="2683.0" font-size="28.5" text-anchor="end" transform="rotate(-45 699.7 2683.0)">13</text>
<line x1="735.2" x2="735.2" y1="2651.5" y2="2660.0" stroke="#000" stroke-width="2.8"/>
<text x="742.2" y="2683.0" font-size="28.5" text-anchor="end" transform="rotate(-45 742.2 2683.0)">14</text>
<line x1="777.6" x2="777.6" y1="2651.5" y2="2660.0" stroke="#000" stroke-width="2.8"/>
<text x="784.6" y="2683.0" font-size="28.5" text-anchor="end" transform="rotate(-45 784.6 2683.0)">15</text>
<line x1="820.1" x2="820.1" y1="2651.5" y2="2660.0" stroke="#000" stroke-width="2.8"/>
<text x="827.1" y="2683.0" font-size="28.5" text-anchor="end" transform="rotate(-45 827.1 2683.0)">16</text>
<line x1="862.6" x2="862.6" y1="2651.5" y2="2660.0" stroke="#000" stroke-width="2.8"/>
<text x="869.6" y="2683.0" font-size="28.5" text-anchor="end" transform="rotate(-45 869.6 2683.0)">17</text>
<line x1="905.1" x2="905.1" y1="2651.5" y2="2660.0" stroke="#000" stroke-width="2.8"/>
<text x="912.1" y="2683.0" font-size="28.5" text-anchor="end" transform="rotate(-45 912.1 2683.0)">18</text>
<line x1="947.5" x2="947.5" y1="2651.5" y2="2660.0" stroke="#000" stroke-width="2.8"/>
<text x="954.5" y="2683.0" font-size="28.5" text-anchor="end" transform="rotate(-45 954.5 2683.0)">19</text>
<line x1="990.0" x2="990.0" y1="2651.5" y2="2660.0" stroke="#000" stroke-width="2.8"/>
<text x="997.0" y="2683.0" font-size="28.5" text-anchor="end" transform="rotate(-45 997.0 2683.0)">20</text>
<line x1="1032.5" x2="1032.5" y1="2651.5" y2="2660.0" stroke="#000" stroke-width="2.8"/>
<text x="1039.5" y="2683.0" font-size="28.5" text-anchor="end" transform="rotate(-45 1039.5 2683.0)">21</text>
<line x1="1074.9" x2="1074.9" y1="2651.5" y2="2660.0" stroke="#000" stroke-width="2.8"/>
<text x="1081.9" y="2683.0" font-size="28.5" text-anchor="end" transform="rotate(-45 1081.9 2683.0)">22</text>
<line x1="1117.4" x2="1117.4" y1="2651.5" y2="2660.0" stroke="#000" stroke-width="2.8"/>
<text x="1124.4" y="2683.0" font-size="28.5" text-anchor="end" transform="rotate(-45 1124.4 2683.0)">23</text>
<line x1="1159.9" x2="1159.9" y1="2651.5" y2="2660.0" stroke="#000" stroke-width="2.8"/>
<text x="1166.9" y="2683.0" font-size="28.5" text-anchor="end" transform="rotate(-45 1166.9 2683.0)">24</text>
<line x1="1202.3" x2="1202.3" y1="2651.5" y2="2660.0" stroke="#000" stroke-width="2.8"/>
<text x="1209.3" y="2683.0" font-size="28.5" text-anchor="end" transform="rotate(-45 1209.3 2683.0)">25</text>
<line x1="1244.8" x2="1244.8" y1="2651.5" y2="2660.0" stroke="#000" stroke-width="2.8"/>
<text x="1251.8" y="2683.0" font-size="28.5" text-anchor="end" transform="rotate(-45 1251.8 2683.0)">26</text>
<line x1="1287.3" x2="1287.3" y1="2651.5" y2="2660.0" stroke="#000" stroke-width="2.8"/>
<text x="1294.3" y="2683.0" font-size="28.5" text-anchor="end" transform="rotate(-45 1294.3 2683.0)">27</text>
<line x1="1329.8" x2="1329.8" y1="2651.5" y2="2660.0" stroke="#000" stroke-width="2.8"/>
<text x="1336.8" y="2683.0" font-size="28.5" text-anchor="end" transform="rotate(-45 1336.8 2683.0)">28</text>
<line x1="1372.2" x2="1372.2" y1="2651.5" y2="2660.0" stroke="#000" stroke-width="2.8"/>
<text x="1379.2" y="2683.0" font-size="28.5" text-anchor="end" transform="rotate(-45 1379.2 2683.0)">29</text>
<line x1="1414.7" x2="1414.7" y1="2651.5" y2="2660.0" stroke="#000" stroke-width="2.8"/>
<text x="1421.7" y="2683.0" font-size="28.5" text-anchor="end" transform="rotate(-45 1421.7 2683.0)">30</text>
<line x1="1457.2" x2="1457.2" y1="2651.5" y2="2660.0" stroke="#000" stroke-width="2.8"/>
<text x="1464.2" y="2683.0" font-size="28.5" text-anchor="end" transform="rotate(-45 1464.2 2683.0)">31</text>
<line x1="1499.6" x2="1499.6" y1="2651.5" y2="2660.0" stroke="#000" stroke-width="2.8"/>
<text x="1506.6" y="2683.0" font-size="28.5" text-anchor="end" transform="rotate(-45 1506.6 2683.0)">32</text>
<line x1="1542.1" x2="1542.1" y1="2651.5" y2="2660.0" stroke="#000" stroke-width="2.8"/>
<text x="1549.1" y="2683.0" font-size="28.5" text-anchor="end" transform="rotate(-45 1549.1 2683.0)">33</text>
<line x1="1584.6" x2="1584.6" y1="2651.5" y2="2660.0" stroke="#000" stroke-width="2.8"/>
<text x="1591.6" y="2683.0" font-size="28.5" text-anchor="end" transform="rotate(-45 1591.6 2683.0)">34</text>
<line x1="1627.0" x2="1627.0" y1="2651.5" y2="2660.0" stroke="#000" stroke-width="2.8"/>
<text x="1634.0" y="2683.0" font-size="28.5" text-anchor="end" transform="rotate(-45 1634.0 2683.0)">35</text>
<line x1="1669.5" x2="1669.5" y1="2651.5" y2="2660.0" stroke="#000" stroke-width="2.8"/>
<text x="1676.5" y="2683.0" font-size="28.5" text-anchor="end" transform="rotate(-45 1676.5 2683.0)">36</text>
<line x1="1712.0" x2="1712.0" y1="2651.5" y2="2660.0" stroke="#000" stroke-width="2.8"/>
<text x="1719.0" y="2683.0" font-size="28.5" text-anchor="end" transform="rotate(-45 1719.0 2683.0)">37</text>
<line x1="1754.5" x2="1754.5" y1="2651.5" y2="2660.0" stroke="#000" stroke-width="2.8"/>
<text x="1761.5" y="2683.0" font-size="28.5" text-anchor="end" transform="rotate(-45 1761.5 2683.0)">38</text>
<line x1="1796.9" x2="1796.9" y1="2651.5" y2="2660.0" stroke="#000" stroke-width="2.8"/>
<text x="1803.9" y="2683.0" font-size="28.5" text-anchor="end" transform="rotate(-45 1803.9 2683.0)">39</text>
<line x1="1839.4" x2="1839.4" y1="2651.5" y2="2660.0" stroke="#000" stroke-width="2.8"/>
<text x="1846.4" y="2683.0" font-size="28.5" text-anchor="end" transform="rotate(-45 1846.4 2683.0)">40</text>
<line x1="1881.9" x2="1881.9" y1="2651.5" y2="2660.0" stroke="#000" stroke-width="2.8"/>
<text x="1888.9" y="2683.0" font-size="28.5" text-anchor="end" transform="rotate(-45 1888.9 2683.0)">41</text>
<text x="18.5" y="2405.5" font-size="30" font-weight="bold">f</text>
<text x="1958.5" y="2513.3" font-size="27">Male</text>
<text x="1943.0" y="2583.4" font-size="27">Female</text>
</svg>
</body></html>
